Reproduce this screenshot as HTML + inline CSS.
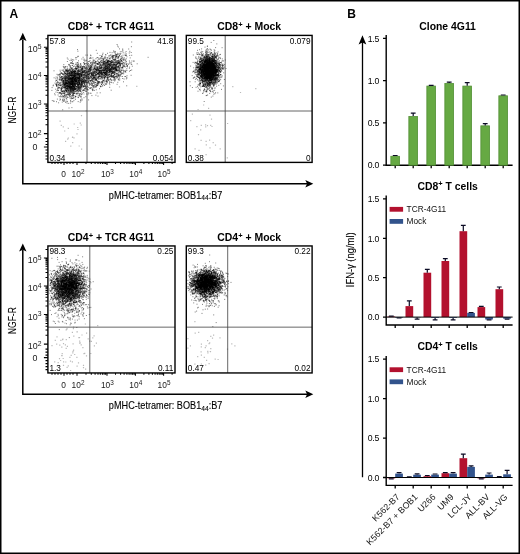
<!DOCTYPE html>
<html lang="en"><head><meta charset="utf-8"><title>Figure</title>
<style>
html,body{margin:0;padding:0;background:#fff;}
svg{display:block;will-change:transform;font-family:'Liberation Sans', Arial, Helvetica, sans-serif;}
</style></head>
<body>
<svg width="520" height="554" viewBox="0 0 520 554">
<rect x="0.75" y="0.75" width="518.5" height="552.5" fill="#fff" stroke="#000" stroke-width="1.5"/>
<text x="9.6" y="18.4" font-size="12" font-weight="bold" text-anchor="start" fill="#000" >A</text>
<text x="347.3" y="18.4" font-size="12" font-weight="bold" text-anchor="start" fill="#000" >B</text>
<path d="M22.8 39.4V183.75H307" fill="none" stroke="#000" stroke-width="1.5"/>
<path d="M22.8 32.8l3.7 8.1l-3.7 -1.7l-3.7 1.7z" fill="#000"/>
<path d="M313.3 183.75l-8 -3.8l1.8 3.8l-1.8 3.8z" fill="#000"/>
<path d="M72.5 90.2h1.0M74.7 81.4h1.0M70.4 80.3h1.0M65.8 80.6h1.0M69.1 84.8h1.0M65.1 75.7h1.0M73.0 76.7h1.0M82.6 77.7h1.0M68.8 77.4h1.0M67.8 81.3h1.0M76.2 74.9h1.0M75.2 96.7h1.0M73.3 91.7h1.0M65.5 86.7h1.0M72.3 80.6h1.0M77.7 97.6h1.0M62.4 86.5h1.0M69.1 81.3h1.0M58.2 87.5h1.0M62.8 86.3h1.0M58.7 96.5h1.0M70.7 81.3h1.0M63.0 101.0h1.0M74.5 73.2h1.0M73.7 86.4h1.0M71.1 73.2h1.0M53.6 101.3h1.0M68.5 79.4h1.0M72.1 80.6h1.0M73.3 88.4h1.0M61.0 94.6h1.0M68.9 72.9h1.0M65.2 80.2h1.0M66.4 71.2h1.0M80.5 79.9h1.0M66.4 81.9h1.0M72.3 78.2h1.0M79.1 73.5h1.0M68.1 79.1h1.0M71.7 75.1h1.0M73.3 85.1h1.0M73.0 93.3h1.0M63.3 67.7h1.0M73.1 79.9h1.0M82.7 74.7h1.0M60.9 88.3h1.0M78.9 71.3h1.0M73.4 79.5h1.0M67.7 73.8h1.0M87.5 82.5h1.0M78.2 80.2h1.0M63.5 82.2h1.0M73.1 83.9h1.0M76.8 77.7h1.0M71.1 68.6h1.0M77.6 84.5h1.0M72.0 83.5h1.0M77.5 78.3h1.0M83.3 86.0h1.0M67.4 92.5h1.0M74.0 71.6h1.0M69.0 75.6h1.0M73.5 93.5h1.0M63.6 95.2h1.0M68.2 76.2h1.0M71.0 71.7h1.0M79.2 73.8h1.0M81.1 74.5h1.0M62.6 70.8h1.0M66.5 82.9h1.0M77.4 69.1h1.0M57.6 75.3h1.0M69.0 89.5h1.0M71.8 75.6h1.0M81.9 77.7h1.0M77.7 84.7h1.0M70.0 88.4h1.0M69.7 79.0h1.0M70.6 81.9h1.0M83.9 71.0h1.0M69.3 96.3h1.0M70.2 87.0h1.0M75.1 71.2h1.0M71.6 81.3h1.0M71.0 87.3h1.0M64.1 87.3h1.0M72.4 96.1h1.0M69.2 93.2h1.0M81.2 74.1h1.0M77.4 78.9h1.0M72.3 70.5h1.0M77.5 81.6h1.0M70.0 83.0h1.0M80.4 101.0h1.0M72.5 81.8h1.0M76.9 62.5h1.0M62.8 78.2h1.0M75.1 81.2h1.0M59.8 74.3h1.0M57.2 78.2h1.0M70.2 78.6h1.0M65.8 85.7h1.0M73.7 79.3h1.0M89.3 68.9h1.0M66.3 89.3h1.0M67.8 77.9h1.0M74.0 76.5h1.0M76.2 68.6h1.0M71.2 74.9h1.0M71.0 86.8h1.0M77.8 66.2h1.0M76.4 79.3h1.0M64.7 89.1h1.0M71.9 78.1h1.0M72.8 82.9h1.0M64.6 74.0h1.0M74.4 91.2h1.0M66.1 91.9h1.0M79.8 80.9h1.0M73.9 66.1h1.0M73.2 72.2h1.0M68.1 90.3h1.0M71.6 95.4h1.0M57.5 87.7h1.0M64.0 93.7h1.0M75.2 75.2h1.0M56.5 84.0h1.0M78.8 79.2h1.0M59.4 88.2h1.0M78.2 66.8h1.0M66.2 90.5h1.0M78.3 90.2h1.0M73.5 71.3h1.0M61.0 73.1h1.0M81.9 81.2h1.0M83.3 72.6h1.0M72.0 61.6h1.0M70.4 88.2h1.0M71.3 82.6h1.0M65.2 79.1h1.0M80.7 96.1h1.0M68.4 83.3h1.0M72.1 74.9h1.0M66.6 83.5h1.0M67.8 73.8h1.0M62.9 77.4h1.0M81.9 81.5h1.0M71.3 76.8h1.0M79.7 75.2h1.0M72.6 94.7h1.0M67.3 89.6h1.0M70.0 88.3h1.0M68.3 86.5h1.0M72.6 85.0h1.0M69.7 93.8h1.0M70.3 81.5h1.0M62.2 99.2h1.0M66.4 74.9h1.0M84.9 75.4h1.0M67.5 71.1h1.0M64.6 80.4h1.0M75.0 84.6h1.0M83.1 90.0h1.0M61.6 78.6h1.0M70.9 81.5h1.0M67.8 79.4h1.0M59.3 78.7h1.0M78.0 69.6h1.0M72.3 81.5h1.0M73.0 66.6h1.0M66.9 83.5h1.0M75.9 80.2h1.0M68.5 76.7h1.0M71.4 73.0h1.0M64.2 72.0h1.0M63.4 99.0h1.0M82.5 67.1h1.0M68.7 94.9h1.0M74.7 85.3h1.0M72.2 78.1h1.0M69.2 72.4h1.0M68.7 90.7h1.0M77.2 93.9h1.0M70.2 74.0h1.0M71.4 78.9h1.0M72.7 89.6h1.0M81.3 81.3h1.0M77.6 96.0h1.0M75.4 75.5h1.0M68.3 86.7h1.0M62.1 73.6h1.0M79.6 96.2h1.0M79.7 72.9h1.0M71.4 63.1h1.0M76.6 78.8h1.0M78.4 78.2h1.0M78.7 95.0h1.0M79.4 76.3h1.0M69.1 81.9h1.0M83.9 82.7h1.0M63.2 96.7h1.0M79.0 78.6h1.0M76.2 88.5h1.0M79.1 83.4h1.0M86.6 74.6h1.0M83.6 78.5h1.0M63.9 83.7h1.0M59.8 77.0h1.0M78.6 89.3h1.0M64.9 71.8h1.0M72.4 90.7h1.0M78.8 87.1h1.0M60.2 83.7h1.0M56.7 79.2h1.0M74.4 78.6h1.0M72.8 84.8h1.0M70.7 87.6h1.0M72.8 83.3h1.0M66.0 91.0h1.0M61.1 79.6h1.0M71.3 83.3h1.0M65.2 70.2h1.0M60.2 90.8h1.0M76.3 81.2h1.0M72.0 77.7h1.0M75.5 89.7h1.0M65.1 88.8h1.0M67.6 59.2h1.0M65.0 83.5h1.0M65.9 70.9h1.0M74.0 89.4h1.0M66.6 103.1h1.0M75.2 76.0h1.0M75.0 80.9h1.0M87.7 74.6h1.0M62.1 86.8h1.0M79.2 84.4h1.0M71.8 91.8h1.0M72.4 72.9h1.0M61.6 97.0h1.0M69.0 74.3h1.0M78.1 81.7h1.0M71.9 90.7h1.0M73.1 86.7h1.0M70.3 73.9h1.0M81.2 72.8h1.0M72.3 77.2h1.0M56.0 85.3h1.0M67.3 91.9h1.0M57.7 74.6h1.0M68.5 87.1h1.0M82.5 82.8h1.0M72.9 84.7h1.0M63.7 96.0h1.0M65.4 87.0h1.0M81.0 85.7h1.0M73.7 85.3h1.0M72.9 95.7h1.0M72.1 65.5h1.0M72.8 91.5h1.0M78.5 77.1h1.0M76.6 77.5h1.0M74.1 72.6h1.0M64.7 67.8h1.0M76.3 76.8h1.0M67.4 76.8h1.0M80.7 82.7h1.0M63.0 71.6h1.0M71.5 93.1h1.0M72.4 83.3h1.0M62.6 81.8h1.0M85.4 71.5h1.0M83.5 71.4h1.0M69.0 72.7h1.0M78.3 74.9h1.0M75.3 80.2h1.0M52.9 85.1h1.0M74.4 68.8h1.0M72.0 78.9h1.0M73.1 73.5h1.0M64.4 84.6h1.0M70.5 96.9h1.0M71.2 86.5h1.0M81.4 75.9h1.0M75.0 66.9h1.0M72.5 69.4h1.0M84.0 63.9h1.0M68.3 88.2h1.0M69.6 75.5h1.0M58.9 85.4h1.0M84.3 72.5h1.0M79.7 79.7h1.0M79.4 90.6h1.0M77.5 73.9h1.0M73.3 78.0h1.0M74.1 73.9h1.0M70.6 88.7h1.0M71.0 73.0h1.0M72.9 71.6h1.0M83.8 66.4h1.0M76.7 68.2h1.0M72.1 85.0h1.0M68.2 103.4h1.0M67.7 74.2h1.0M84.5 85.4h1.0M76.3 82.0h1.0M73.0 71.8h1.0M69.9 79.5h1.0M64.2 81.4h1.0M72.0 75.5h1.0M79.1 95.0h1.0M69.6 66.1h1.0M70.8 84.6h1.0M70.8 84.2h1.0M73.3 76.0h1.0M60.6 85.6h1.0M70.7 88.7h1.0M66.1 84.1h1.0M79.1 82.6h1.0M66.7 88.3h1.0M76.8 63.0h1.0M83.9 89.9h1.0M70.1 100.4h1.0M68.0 90.4h1.0M73.9 88.9h1.0M72.5 69.4h1.0M65.0 82.1h1.0M76.0 73.3h1.0M87.6 71.9h1.0M70.6 89.5h1.0M71.0 74.8h1.0M64.7 82.1h1.0M74.9 64.6h1.0M63.1 82.3h1.0M64.2 84.1h1.0M82.1 72.5h1.0M65.7 77.0h1.0M80.6 94.2h1.0M83.9 67.8h1.0M74.4 71.8h1.0M76.7 73.2h1.0M87.1 86.7h1.0M71.0 98.7h1.0M68.1 85.0h1.0M62.4 78.0h1.0M72.8 77.4h1.0M83.6 86.6h1.0M79.7 71.5h1.0M65.4 95.0h1.0M66.1 94.5h1.0M68.7 82.6h1.0M74.7 85.7h1.0M71.0 87.6h1.0M74.1 93.3h1.0M74.7 71.7h1.0M70.3 91.4h1.0M72.2 78.0h1.0M74.0 74.2h1.0M71.9 82.0h1.0M76.3 78.2h1.0M86.5 68.9h1.0M76.9 66.6h1.0M72.9 73.1h1.0M59.9 96.5h1.0M75.4 96.3h1.0M57.9 90.5h1.0M61.9 93.8h1.0M78.9 74.9h1.0M77.8 78.9h1.0M71.4 83.6h1.0M59.7 75.7h1.0M69.7 73.6h1.0M67.4 83.2h1.0M77.3 77.0h1.0M89.4 67.4h1.0M74.1 83.7h1.0M66.7 80.5h1.0M63.7 91.9h1.0M72.1 81.1h1.0M71.2 78.9h1.0M63.9 84.5h1.0M73.4 79.3h1.0M63.9 77.9h1.0M80.8 75.3h1.0M80.5 84.9h1.0M80.6 84.0h1.0M68.9 92.6h1.0M76.4 66.0h1.0M71.5 78.0h1.0M69.6 78.4h1.0M70.0 83.1h1.0M62.8 80.0h1.0M61.7 79.8h1.0M78.5 85.8h1.0M71.1 82.9h1.0M74.1 70.9h1.0M80.0 89.9h1.0M59.5 92.9h1.0M66.6 77.9h1.0M73.8 87.5h1.0M75.4 74.1h1.0M69.7 91.1h1.0M80.2 77.0h1.0M74.1 73.9h1.0M63.4 80.5h1.0M65.5 76.7h1.0M78.5 80.9h1.0M76.0 81.5h1.0M58.3 85.3h1.0M82.6 73.6h1.0M77.0 49.6h1.0M82.6 78.9h1.0M69.6 66.2h1.0M70.3 83.6h1.0M64.1 92.7h1.0M91.5 77.9h1.0M71.2 78.2h1.0M84.4 76.1h1.0M67.6 81.3h1.0M73.7 76.1h1.0M60.0 79.7h1.0M69.6 74.2h1.0M79.9 88.7h1.0M63.1 83.5h1.0M80.5 86.6h1.0M75.0 78.2h1.0M64.7 83.8h1.0M68.7 80.7h1.0M69.1 85.8h1.0M72.1 87.9h1.0M68.5 84.1h1.0M66.3 77.2h1.0M70.2 75.2h1.0M64.8 96.8h1.0M62.8 81.4h1.0M72.1 78.7h1.0M79.1 91.2h1.0M61.0 93.2h1.0M72.5 85.4h1.0M67.6 79.1h1.0M65.2 102.4h1.0M78.9 82.4h1.0M68.6 86.6h1.0M83.7 76.4h1.0M66.7 71.0h1.0M75.4 69.2h1.0M70.8 84.8h1.0M66.8 85.8h1.0M76.9 77.8h1.0M71.3 71.7h1.0M77.0 67.9h1.0M72.1 78.4h1.0M64.4 71.3h1.0M71.7 88.6h1.0M72.9 90.4h1.0M79.7 102.2h1.0M65.7 90.2h1.0M72.2 76.2h1.0M59.6 77.5h1.0M77.4 51.2h1.0M64.4 78.4h1.0M59.0 83.4h1.0M72.1 89.1h1.0M80.8 83.7h1.0M61.1 89.1h1.0M64.3 85.1h1.0M66.9 88.0h1.0M64.0 95.3h1.0M75.3 71.4h1.0M66.4 79.0h1.0M67.1 71.1h1.0M76.9 93.1h1.0M66.8 93.3h1.0M75.7 86.3h1.0M65.2 73.2h1.0M63.4 85.0h1.0M58.7 83.0h1.0M86.5 77.7h1.0M70.1 80.1h1.0M74.3 84.8h1.0M72.3 77.8h1.0M73.7 87.7h1.0M72.9 82.9h1.0M86.8 74.5h1.0M64.7 82.3h1.0M60.8 80.7h1.0M64.9 89.8h1.0M62.5 81.6h1.0M78.1 81.8h1.0M78.7 76.0h1.0M65.3 70.8h1.0M62.1 91.4h1.0M69.8 73.0h1.0M82.9 83.6h1.0M51.4 90.4h1.0M76.4 66.3h1.0M64.4 75.5h1.0M80.3 74.6h1.0M64.4 76.5h1.0M70.4 71.9h1.0M61.2 90.3h1.0M65.2 81.1h1.0M82.9 81.2h1.0M78.7 75.7h1.0M69.5 84.4h1.0M66.0 76.7h1.0M58.3 84.8h1.0M69.5 86.6h1.0M72.3 81.4h1.0M71.9 77.4h1.0M71.8 72.3h1.0M64.1 84.8h1.0M72.0 84.0h1.0M72.2 79.0h1.0M82.2 71.9h1.0M86.5 81.5h1.0M71.5 101.7h1.0M66.8 80.1h1.0M72.0 83.9h1.0M67.9 85.4h1.0M66.9 61.5h1.0M72.1 82.1h1.0M64.7 77.4h1.0M77.0 91.1h1.0M71.7 79.1h1.0M74.4 74.1h1.0M71.1 79.6h1.0M67.0 83.9h1.0M65.4 78.4h1.0M70.7 81.1h1.0M68.4 71.0h1.0M74.3 78.6h1.0M72.5 87.4h1.0M62.3 100.1h1.0M73.0 86.7h1.0M62.4 86.1h1.0M67.9 92.1h1.0M70.3 90.0h1.0M56.9 99.1h1.0M73.2 89.7h1.0M73.6 79.7h1.0M71.3 83.5h1.0M69.3 83.4h1.0M69.7 84.3h1.0M65.2 84.7h1.0M70.5 75.1h1.0M68.4 64.9h1.0M73.2 75.3h1.0M63.5 66.9h1.0M74.3 81.1h1.0M73.6 80.7h1.0M71.4 67.5h1.0M69.2 87.6h1.0M76.6 87.0h1.0M60.0 85.3h1.0M76.0 93.7h1.0M74.3 95.9h1.0M74.6 70.5h1.0M75.4 88.7h1.0M67.6 86.0h1.0M70.6 85.0h1.0M77.3 87.3h1.0M75.7 74.2h1.0M74.1 75.7h1.0M61.1 77.4h1.0M76.5 73.6h1.0M81.3 77.7h1.0M80.1 66.9h1.0M74.3 71.9h1.0M60.8 89.1h1.0M79.6 78.4h1.0M71.4 84.5h1.0M53.5 70.8h1.0M75.3 73.7h1.0M61.3 79.6h1.0M62.8 84.0h1.0M67.7 77.5h1.0M82.0 86.0h1.0M69.7 81.3h1.0M74.5 80.6h1.0M85.6 77.4h1.0M84.5 83.4h1.0M71.7 77.3h1.0M70.7 90.8h1.0M63.0 87.5h1.0M67.3 83.7h1.0M75.7 80.4h1.0M75.5 84.4h1.0M73.3 89.1h1.0M80.0 86.7h1.0M66.7 85.7h1.0M72.1 88.3h1.0M78.0 80.4h1.0M76.9 90.1h1.0M80.5 78.5h1.0M75.5 63.1h1.0M70.2 92.7h1.0M75.2 81.1h1.0M65.0 73.5h1.0M60.2 82.9h1.0M76.9 72.5h1.0M72.1 98.4h1.0M74.8 84.4h1.0M59.8 71.7h1.0M69.8 86.3h1.0M68.0 79.0h1.0M66.0 98.6h1.0M55.6 77.1h1.0M70.0 63.2h1.0M79.2 79.6h1.0M75.4 77.3h1.0M68.0 78.8h1.0M72.4 63.4h1.0M78.2 82.9h1.0M51.8 100.6h1.0M71.6 65.6h1.0M76.6 89.5h1.0M77.6 74.9h1.0M85.3 96.7h1.0M81.0 82.2h1.0M74.8 78.8h1.0M74.8 89.5h1.0M78.4 83.7h1.0M68.5 77.3h1.0M72.2 86.9h1.0M79.3 74.9h1.0M87.2 62.1h1.0M71.3 98.1h1.0M72.1 78.2h1.0M74.0 75.6h1.0M82.6 80.9h1.0M72.3 68.2h1.0M83.5 66.7h1.0M65.3 78.9h1.0M71.1 77.1h1.0M71.0 82.0h1.0M78.4 88.6h1.0M80.3 74.9h1.0M61.2 88.3h1.0M65.6 87.9h1.0M75.0 71.4h1.0M67.6 84.3h1.0M61.1 76.5h1.0M80.3 87.5h1.0M76.2 83.7h1.0M76.2 80.1h1.0M68.9 71.0h1.0M80.2 79.8h1.0M70.7 75.2h1.0M80.7 84.5h1.0M65.7 82.0h1.0M66.1 76.1h1.0M74.0 88.2h1.0M67.2 88.4h1.0M77.6 74.7h1.0M74.5 90.0h1.0M65.6 80.5h1.0M73.0 78.3h1.0M69.9 82.8h1.0M79.4 72.9h1.0M67.8 78.7h1.0M69.2 80.6h1.0M81.6 91.0h1.0M89.3 88.6h1.0M87.5 74.6h1.0M73.0 94.1h1.0M74.1 80.2h1.0M84.0 80.9h1.0M71.6 88.5h1.0M65.2 85.5h1.0M73.4 100.6h1.0M75.9 82.0h1.0M66.3 72.9h1.0M60.2 95.2h1.0M61.7 80.7h1.0M77.5 77.1h1.0M66.8 58.0h1.0M71.4 89.5h1.0M74.1 87.3h1.0M77.1 86.3h1.0M70.0 89.8h1.0M76.2 93.9h1.0M65.8 82.5h1.0M69.8 89.5h1.0M64.8 77.1h1.0M81.0 75.7h1.0M72.3 89.8h1.0M67.0 85.8h1.0M69.9 70.8h1.0M70.8 84.4h1.0M77.8 78.0h1.0M60.5 77.7h1.0M64.7 86.8h1.0M69.7 78.5h1.0M91.5 62.7h1.0M79.7 69.8h1.0M71.7 95.8h1.0M77.8 67.0h1.0M87.9 78.5h1.0M70.7 86.5h1.0M69.8 87.0h1.0M81.6 68.3h1.0M76.2 77.3h1.0M77.5 80.7h1.0M68.7 88.7h1.0M86.9 71.6h1.0M85.3 67.8h1.0M76.7 88.0h1.0M77.6 88.6h1.0M57.3 88.4h1.0M77.3 74.6h1.0M71.0 84.8h1.0M75.8 81.0h1.0M77.6 86.4h1.0M69.9 71.4h1.0M59.8 85.5h1.0M75.3 78.9h1.0M66.9 73.4h1.0M70.0 83.5h1.0M68.0 82.6h1.0M69.9 78.3h1.0M55.2 89.2h1.0M81.6 66.7h1.0M74.4 80.0h1.0M80.8 82.2h1.0M87.3 79.1h1.0M72.7 89.8h1.0M59.0 74.9h1.0M65.8 70.5h1.0M63.4 85.5h1.0M68.7 85.8h1.0M73.1 98.3h1.0M57.5 90.3h1.0M75.1 73.1h1.0M61.2 90.8h1.0M74.7 73.4h1.0M71.7 69.0h1.0M70.1 103.1h1.0M72.0 83.8h1.0M68.5 88.0h1.0M67.9 86.9h1.0M59.9 99.5h1.0M72.3 83.4h1.0M86.3 87.1h1.0M87.4 68.3h1.0M82.4 66.7h1.0M77.8 91.2h1.0M67.4 94.6h1.0M83.3 82.1h1.0M72.1 83.0h1.0M72.0 82.5h1.0M70.3 76.0h1.0M73.2 93.5h1.0M69.2 87.3h1.0M71.9 85.3h1.0M64.4 86.4h1.0M69.7 90.4h1.0M89.6 80.3h1.0M72.0 87.3h1.0M70.7 71.9h1.0M76.5 84.1h1.0M77.8 97.5h1.0M64.1 79.1h1.0M70.9 80.4h1.0M79.4 86.4h1.0M74.5 88.3h1.0M73.4 85.9h1.0M84.2 64.4h1.0M67.4 86.6h1.0M73.1 71.1h1.0M68.6 75.3h1.0M83.7 82.3h1.0M57.9 82.7h1.0M67.5 89.1h1.0M68.5 108.0h1.0M77.5 86.0h1.0M77.0 85.7h1.0M83.0 70.7h1.0M60.7 79.1h1.0M78.1 70.7h1.0M70.3 77.2h1.0M67.5 73.4h1.0M76.5 74.4h1.0M65.6 81.2h1.0M56.9 77.2h1.0M69.7 70.1h1.0M61.3 73.0h1.0M67.6 86.1h1.0M75.3 80.7h1.0M74.8 88.8h1.0M84.4 86.2h1.0M71.0 78.6h1.0M61.0 89.8h1.0M66.8 70.8h1.0M65.6 101.7h1.0M63.4 93.4h1.0M75.8 78.3h1.0M67.7 72.8h1.0M57.7 88.3h1.0M77.7 64.1h1.0M71.7 74.8h1.0M75.2 86.4h1.0M73.3 81.4h1.0M77.2 75.6h1.0M72.8 88.7h1.0M81.8 69.8h1.0M75.7 82.4h1.0M75.4 76.1h1.0M75.6 73.2h1.0M61.6 87.9h1.0M71.3 73.2h1.0M70.6 97.2h1.0M74.1 75.7h1.0M62.3 100.3h1.0M84.8 68.5h1.0M73.3 85.8h1.0M63.4 73.7h1.0M59.7 73.6h1.0M70.4 82.9h1.0M71.8 86.8h1.0M67.1 72.0h1.0M73.2 90.5h1.0M67.7 75.8h1.0M76.6 80.9h1.0M67.1 85.7h1.0M72.2 86.0h1.0M79.8 64.1h1.0M91.8 88.9h1.0M64.9 87.8h1.0M69.0 78.5h1.0M66.2 74.4h1.0M78.4 65.4h1.0M63.9 72.2h1.0M68.9 86.5h1.0M72.3 78.3h1.0M65.2 73.8h1.0M65.3 78.7h1.0M68.9 94.9h1.0M56.7 82.7h1.0M61.7 79.3h1.0M69.4 93.0h1.0M73.6 84.5h1.0M71.1 81.8h1.0M59.2 79.8h1.0M69.0 69.2h1.0M78.5 69.7h1.0M76.7 75.9h1.0M71.9 79.4h1.0M65.8 85.8h1.0M77.2 84.2h1.0M68.2 84.1h1.0M63.7 85.3h1.0M66.5 74.4h1.0M83.4 60.2h1.0M74.2 76.2h1.0M81.2 70.7h1.0M68.9 76.6h1.0M79.5 76.7h1.0M68.0 72.0h1.0M71.3 72.2h1.0M91.1 74.9h1.0M78.3 80.3h1.0M68.7 76.7h1.0M71.9 85.3h1.0M74.9 78.5h1.0M81.6 70.0h1.0M68.8 82.4h1.0M59.4 100.2h1.0M70.4 76.0h1.0M72.6 90.6h1.0M73.3 92.1h1.0M82.4 90.5h1.0M74.9 73.6h1.0M78.6 95.9h1.0M64.2 84.3h1.0M79.0 77.1h1.0M88.2 74.6h1.0M78.3 84.3h1.0M74.4 80.9h1.0M73.7 79.2h1.0M85.9 87.8h1.0M65.5 77.0h1.0M71.7 72.7h1.0M76.0 86.5h1.0M78.1 85.2h1.0M69.2 90.9h1.0M74.8 71.5h1.0M70.4 90.5h1.0M73.4 84.7h1.0M71.5 95.8h1.0M63.9 73.2h1.0M72.3 82.8h1.0M79.1 76.9h1.0M65.2 70.0h1.0M70.7 75.6h1.0M77.5 88.9h1.0M64.5 79.4h1.0M73.9 74.7h1.0M64.5 90.4h1.0M81.0 86.7h1.0M89.8 84.2h1.0M87.7 70.2h1.0M70.9 81.0h1.0M78.1 87.9h1.0M73.4 75.3h1.0M73.3 74.6h1.0M84.1 84.5h1.0M62.6 96.7h1.0M80.4 69.3h1.0M72.1 59.7h1.0M83.1 66.1h1.0M73.9 72.3h1.0M67.5 81.3h1.0M74.6 85.5h1.0M78.0 78.2h1.0M72.8 75.2h1.0M76.2 81.2h1.0M68.6 74.2h1.0M56.5 85.1h1.0M79.3 73.8h1.0M77.7 101.6h1.0M73.6 87.4h1.0M73.0 74.0h1.0M80.3 70.6h1.0M69.1 78.4h1.0M67.2 69.0h1.0M71.1 75.4h1.0M81.4 72.4h1.0M62.1 91.2h1.0M81.4 75.0h1.0M67.7 75.9h1.0M64.2 72.3h1.0M82.0 68.6h1.0M71.8 80.7h1.0M62.7 82.0h1.0M69.8 91.1h1.0M79.5 73.8h1.0M81.4 87.2h1.0M69.3 84.0h1.0M75.5 80.1h1.0M77.9 63.0h1.0M67.7 71.8h1.0M75.2 86.3h1.0M72.3 92.6h1.0M68.5 83.8h1.0M68.8 88.3h1.0M73.0 77.5h1.0M72.7 77.9h1.0M68.3 76.7h1.0M69.3 89.9h1.0M80.9 81.5h1.0M74.1 78.6h1.0M79.1 76.4h1.0M81.5 83.0h1.0M76.9 82.4h1.0M89.5 69.3h1.0M66.3 96.9h1.0M78.6 81.4h1.0M70.1 81.8h1.0M86.4 89.2h1.0M85.3 85.8h1.0M57.8 84.4h1.0M65.2 87.5h1.0M77.5 70.8h1.0M78.4 74.0h1.0M78.0 60.8h1.0M72.0 91.2h1.0M75.9 64.4h1.0M77.4 85.2h1.0M71.9 74.3h1.0M80.2 70.8h1.0M55.6 84.2h1.0M77.3 81.8h1.0M64.7 88.2h1.0M79.7 93.5h1.0M70.8 84.4h1.0M65.8 90.1h1.0M75.3 75.3h1.0M65.7 88.8h1.0M65.7 84.2h1.0M60.7 80.5h1.0M72.3 80.3h1.0M76.2 79.4h1.0M80.2 80.4h1.0M71.4 84.6h1.0M80.4 74.6h1.0M72.6 74.9h1.0M71.8 87.3h1.0M76.8 65.8h1.0M80.4 73.7h1.0M69.9 94.5h1.0M70.7 59.2h1.0M71.3 75.6h1.0M73.1 86.5h1.0M65.7 69.3h1.0M80.2 100.2h1.0M69.5 60.5h1.0M76.0 91.8h1.0M66.3 95.6h1.0M75.2 87.8h1.0M75.4 78.3h1.0M69.3 84.8h1.0M87.7 69.3h1.0M75.3 86.9h1.0M85.8 68.0h1.0M79.7 76.7h1.0M67.5 90.6h1.0M69.6 72.6h1.0M75.8 77.1h1.0M73.0 82.2h1.0M72.9 69.9h1.0M70.4 91.2h1.0M58.9 87.6h1.0M70.8 69.0h1.0M55.9 85.3h1.0M75.3 73.8h1.0M67.1 77.1h1.0M67.1 83.2h1.0M70.9 75.6h1.0M74.5 88.4h1.0M61.8 78.2h1.0M59.4 92.8h1.0M64.5 82.9h1.0M57.2 92.4h1.0M65.2 78.6h1.0M84.4 73.5h1.0M64.6 73.8h1.0M77.4 84.4h1.0M62.2 91.6h1.0M74.7 97.8h1.0M70.1 92.3h1.0M72.1 83.2h1.0M76.8 78.1h1.0M85.7 80.5h1.0M74.0 80.4h1.0M73.4 92.8h1.0M65.2 90.8h1.0M76.9 72.9h1.0M70.7 75.9h1.0M78.7 90.5h1.0M72.2 83.6h1.0M85.6 75.4h1.0M57.6 95.0h1.0M70.3 78.4h1.0M79.1 76.8h1.0M69.9 77.9h1.0M66.6 66.5h1.0M70.5 88.7h1.0M62.2 74.0h1.0M73.4 76.1h1.0M90.8 69.7h1.0M81.1 84.6h1.0M64.2 82.8h1.0M65.9 83.0h1.0M69.5 68.0h1.0M80.0 78.1h1.0M66.3 70.6h1.0M67.3 85.0h1.0M79.1 82.1h1.0M79.0 79.0h1.0M69.7 98.6h1.0M64.1 87.7h1.0M60.9 89.2h1.0M67.3 83.7h1.0M55.8 84.2h1.0M78.1 87.4h1.0M67.8 91.4h1.0M76.1 69.3h1.0M86.5 85.7h1.0M81.3 82.7h1.0M63.9 91.4h1.0M79.0 83.0h1.0M81.2 68.3h1.0M66.9 72.9h1.0M65.4 98.0h1.0M71.7 83.3h1.0M60.5 72.7h1.0M83.5 80.7h1.0M54.5 83.1h1.0M64.2 68.2h1.0M70.5 62.7h1.0M70.8 68.3h1.0M73.7 82.9h1.0M74.5 80.0h1.0M70.9 79.4h1.0M81.0 80.9h1.0M56.5 90.5h1.0M72.5 63.7h1.0M67.1 80.0h1.0M73.5 73.9h1.0M74.2 70.4h1.0M65.7 78.4h1.0M67.7 81.4h1.0M78.4 77.1h1.0M75.1 68.3h1.0M67.4 78.5h1.0M87.8 93.3h1.0M89.8 67.4h1.0M61.5 70.2h1.0M74.8 82.6h1.0M91.3 80.6h1.0M78.4 83.2h1.0M74.2 71.3h1.0M70.9 89.7h1.0M68.4 75.7h1.0M70.9 72.1h1.0M68.4 77.2h1.0M78.1 78.5h1.0M69.5 87.7h1.0M69.2 87.1h1.0M63.5 83.4h1.0M72.1 88.8h1.0M65.8 83.6h1.0M71.1 88.8h1.0M80.3 67.2h1.0M75.2 67.3h1.0M76.3 86.3h1.0M75.2 68.8h1.0M72.9 78.4h1.0M71.5 80.5h1.0M70.2 77.6h1.0M78.2 75.7h1.0M64.4 94.8h1.0M82.6 57.3h1.0M72.8 88.2h1.0M66.9 101.5h1.0M68.8 82.2h1.0M67.4 82.3h1.0M73.7 86.6h1.0M67.1 97.6h1.0M81.1 68.8h1.0M66.6 83.4h1.0M55.5 84.3h1.0M67.0 87.2h1.0M57.4 86.6h1.0M72.2 86.5h1.0M80.4 75.3h1.0M77.4 80.0h1.0M62.5 78.3h1.0M66.8 77.2h1.0M85.8 76.1h1.0M74.9 79.2h1.0M72.5 71.3h1.0M80.4 91.7h1.0M90.9 74.7h1.0M82.2 66.9h1.0M73.5 89.8h1.0M75.2 74.1h1.0M77.1 83.9h1.0M67.9 82.2h1.0M64.6 85.3h1.0M72.9 82.3h1.0M65.4 78.3h1.0M72.0 81.5h1.0M73.2 97.5h1.0M90.1 57.6h1.0M66.1 83.4h1.0M71.6 84.8h1.0M71.3 72.7h1.0M75.8 68.8h1.0M80.4 96.5h1.0M68.8 79.0h1.0M66.3 99.9h1.0M60.2 88.9h1.0M65.6 83.6h1.0M76.5 83.8h1.0M72.8 86.1h1.0M64.9 92.9h1.0M69.7 85.4h1.0M72.7 82.1h1.0M76.3 81.4h1.0M68.0 93.4h1.0M70.6 88.3h1.0M58.9 76.6h1.0M63.9 78.2h1.0M84.6 80.3h1.0M56.1 80.5h1.0M70.0 78.6h1.0M74.1 72.7h1.0M69.7 79.6h1.0M66.4 86.2h1.0M72.0 89.3h1.0M72.5 81.1h1.0M71.9 98.3h1.0M58.4 84.4h1.0M71.4 107.6h1.0M66.1 91.1h1.0M68.4 86.3h1.0M74.2 76.4h1.0M77.3 56.4h1.0M79.2 77.8h1.0M68.8 83.5h1.0M79.4 94.9h1.0M81.3 67.2h1.0M81.0 94.3h1.0M82.9 76.0h1.0M71.4 87.3h1.0M71.2 60.5h1.0M78.7 80.4h1.0M62.3 81.1h1.0M74.1 86.2h1.0M68.5 82.9h1.0M69.7 72.4h1.0M59.4 92.5h1.0M65.8 88.6h1.0M72.3 86.0h1.0M79.2 87.4h1.0M79.9 88.0h1.0M71.9 81.0h1.0M71.1 70.2h1.0M66.3 71.4h1.0M75.5 91.3h1.0M70.6 87.4h1.0M77.0 80.6h1.0M85.6 73.7h1.0M72.3 81.3h1.0M61.3 84.4h1.0M66.0 80.1h1.0M61.6 78.3h1.0M63.5 101.4h1.0M82.3 80.1h1.0M74.2 75.5h1.0M61.1 73.5h1.0M77.4 73.6h1.0M82.0 84.2h1.0M69.8 88.0h1.0M67.4 80.6h1.0M70.0 82.1h1.0M74.6 77.9h1.0M77.3 70.5h1.0M81.4 89.2h1.0M81.6 81.5h1.0M81.4 98.9h1.0M82.7 71.9h1.0M77.5 78.5h1.0M61.0 91.5h1.0M71.5 79.3h1.0M74.9 68.9h1.0M69.6 74.0h1.0M79.3 79.9h1.0M69.8 84.6h1.0M65.6 82.2h1.0M83.3 86.2h1.0M77.5 87.8h1.0M74.1 83.2h1.0M79.5 79.3h1.0M80.5 76.7h1.0M75.1 84.8h1.0M54.1 93.8h1.0M67.4 82.9h1.0M69.1 85.7h1.0M65.1 80.4h1.0M74.0 69.0h1.0M81.4 70.2h1.0M68.9 88.3h1.0M64.0 87.1h1.0M87.7 89.8h1.0M69.1 82.4h1.0M63.3 90.7h1.0M74.3 91.4h1.0M75.7 88.3h1.0M67.2 77.5h1.0M78.4 77.8h1.0M68.8 83.1h1.0M65.6 74.8h1.0M73.8 84.5h1.0M78.3 87.8h1.0M67.7 78.4h1.0M75.0 96.5h1.0M71.8 78.8h1.0M93.7 73.3h1.0M67.2 80.5h1.0M82.9 72.2h1.0M72.1 84.6h1.0M71.5 81.4h1.0M77.9 93.1h1.0M79.2 84.1h1.0M82.0 82.7h1.0M75.0 78.5h1.0M68.0 70.6h1.0M68.5 81.4h1.0M76.3 72.9h1.0M76.9 87.6h1.0M83.0 77.8h1.0M75.6 93.8h1.0M80.5 84.8h1.0M83.9 84.7h1.0M73.7 82.5h1.0M61.4 85.9h1.0M63.7 88.9h1.0M61.7 91.6h1.0M84.4 71.8h1.0M66.1 86.9h1.0M81.7 100.0h1.0M76.9 79.0h1.0M85.4 75.3h1.0M80.0 73.2h1.0M71.7 69.3h1.0M71.0 91.2h1.0M73.1 81.3h1.0M73.8 83.1h1.0M68.5 97.3h1.0M72.3 101.7h1.0M84.6 70.3h1.0M59.7 93.3h1.0M74.4 85.6h1.0M65.7 86.2h1.0M73.9 84.6h1.0M78.8 79.0h1.0M72.1 94.2h1.0M78.3 84.4h1.0M60.6 87.2h1.0M80.8 88.9h1.0M68.0 89.7h1.0M77.2 83.5h1.0M73.9 83.3h1.0M53.1 101.0h1.0M66.8 86.8h1.0M74.2 79.8h1.0M84.2 70.7h1.0M74.7 77.6h1.0M74.4 71.8h1.0M61.9 84.9h1.0M83.2 80.1h1.0M86.1 60.3h1.0M72.7 81.1h1.0M70.9 86.8h1.0M60.4 85.8h1.0M79.1 71.3h1.0M92.8 85.7h1.0M77.9 73.8h1.0M82.0 68.2h1.0M76.6 71.0h1.0M65.1 83.0h1.0M82.5 86.3h1.0M63.2 93.2h1.0M70.9 83.2h1.0M74.6 70.6h1.0M79.1 73.7h1.0M75.6 72.7h1.0M75.4 78.7h1.0M66.8 68.0h1.0M62.8 84.7h1.0M73.0 86.2h1.0M67.2 81.3h1.0M62.7 87.6h1.0M63.0 76.0h1.0M68.8 70.1h1.0M58.6 79.7h1.0M62.4 93.4h1.0M60.2 93.0h1.0M73.9 76.9h1.0M75.6 90.0h1.0M87.6 74.1h1.0M61.3 96.6h1.0M67.4 86.4h1.0M79.3 75.3h1.0M70.9 88.0h1.0M70.0 75.3h1.0M85.3 69.7h1.0M70.0 69.8h1.0M63.8 85.6h1.0M62.6 83.4h1.0M75.0 79.7h1.0M74.8 77.0h1.0M62.2 95.7h1.0M65.1 79.6h1.0M76.5 73.9h1.0M76.8 90.0h1.0M67.7 94.1h1.0M77.2 82.5h1.0M76.8 65.5h1.0M59.1 79.9h1.0M70.2 86.7h1.0M75.6 80.3h1.0M68.2 95.0h1.0M56.5 74.3h1.0M70.4 87.2h1.0M78.1 74.2h1.0M84.4 88.5h1.0M56.1 85.0h1.0M92.1 83.9h1.0M64.0 78.1h1.0M79.7 67.4h1.0M81.8 69.2h1.0M79.9 73.9h1.0M73.6 72.2h1.0M63.8 93.3h1.0M77.2 90.7h1.0M67.1 84.8h1.0M53.6 77.8h1.0M93.7 74.0h1.0M77.8 73.8h1.0M86.1 89.1h1.0M65.7 85.5h1.0M83.5 81.9h1.0M84.4 74.3h1.0M84.2 61.1h1.0M72.3 74.7h1.0M63.5 74.4h1.0M71.2 84.4h1.0M56.0 86.5h1.0M59.7 78.0h1.0M73.2 77.6h1.0M65.1 96.0h1.0M71.3 73.5h1.0M71.7 73.7h1.0M87.0 75.0h1.0M82.2 72.5h1.0M72.2 77.6h1.0M81.6 82.8h1.0M66.7 96.9h1.0M70.0 67.1h1.0M79.3 78.9h1.0M63.2 84.0h1.0M70.4 80.9h1.0M62.6 82.3h1.0M73.4 77.9h1.0M84.7 85.8h1.0M66.9 78.8h1.0M74.2 79.5h1.0M65.8 82.9h1.0M63.9 84.3h1.0M63.2 82.2h1.0M83.4 86.1h1.0M90.2 75.9h1.0M76.1 81.4h1.0M67.1 82.1h1.0M77.8 71.2h1.0M70.0 74.9h1.0M78.5 70.7h1.0M74.7 82.0h1.0M74.6 74.5h1.0M77.1 71.0h1.0M68.2 84.2h1.0M69.5 86.2h1.0M59.6 70.2h1.0M69.2 95.8h1.0M61.8 84.3h1.0M71.4 80.4h1.0M65.3 91.8h1.0M73.3 81.4h1.0M75.9 75.1h1.0M61.8 102.1h1.0M66.4 73.9h1.0M65.4 82.2h1.0M78.1 86.4h1.0M85.3 68.6h1.0M78.9 78.4h1.0M69.9 84.9h1.0M83.5 97.7h1.0M61.1 76.9h1.0M83.7 77.4h1.0M67.6 87.8h1.0M51.6 87.6h1.0M92.4 65.5h1.0M84.3 81.0h1.0M64.8 84.1h1.0M73.8 84.3h1.0M70.9 90.8h1.0M73.3 89.1h1.0M61.4 87.5h1.0M67.4 85.0h1.0M76.0 71.0h1.0M74.2 79.4h1.0M81.5 80.3h1.0M73.1 77.5h1.0M90.1 76.8h1.0M67.1 75.7h1.0M74.4 93.1h1.0M58.1 102.8h1.0M63.1 80.5h1.0M82.5 81.5h1.0M65.4 81.1h1.0M76.5 90.3h1.0M72.0 84.7h1.0M64.7 83.9h1.0M69.9 79.9h1.0M68.6 83.1h1.0M68.8 73.8h1.0M78.2 85.0h1.0M77.4 73.7h1.0M68.2 86.6h1.0M65.7 84.0h1.0M74.6 89.4h1.0M71.7 81.1h1.0M80.2 87.2h1.0M92.4 67.8h1.0M78.8 84.2h1.0M72.2 79.2h1.0M71.2 83.0h1.0M66.1 83.4h1.0M65.7 90.6h1.0M65.0 66.5h1.0M69.5 84.5h1.0M69.3 69.6h1.0M78.1 89.4h1.0M69.5 65.6h1.0M71.0 73.2h1.0M63.4 69.8h1.0M84.8 91.0h1.0M76.3 69.3h1.0M85.9 78.1h1.0M78.5 74.9h1.0M83.7 63.0h1.0M70.6 78.8h1.0M77.9 84.9h1.0M92.8 73.7h1.0M63.3 91.3h1.0M81.3 75.5h1.0M85.2 77.4h1.0M75.7 76.9h1.0M78.2 82.2h1.0M82.1 93.9h1.0M67.5 85.4h1.0M75.6 81.7h1.0M65.8 77.8h1.0M67.3 76.3h1.0M67.8 94.4h1.0M71.4 72.2h1.0M73.6 73.2h1.0M76.0 79.2h1.0M61.6 80.6h1.0M87.7 92.8h1.0M81.4 59.0h1.0M78.1 82.4h1.0M69.8 87.6h1.0M71.8 72.0h1.0M76.7 74.5h1.0M75.7 83.7h1.0M59.6 98.1h1.0M78.2 71.8h1.0M94.9 61.7h1.0M58.3 93.0h1.0M80.1 91.4h1.0M75.3 77.4h1.0M71.6 63.0h1.0M83.1 90.0h1.0M63.4 81.9h1.0M73.8 89.9h1.0M83.8 77.5h1.0M71.0 78.3h1.0M69.3 78.2h1.0M73.4 92.9h1.0M69.1 93.8h1.0M84.4 60.0h1.0M65.5 75.3h1.0M79.2 93.7h1.0M62.8 80.7h1.0M77.7 68.3h1.0M71.7 81.3h1.0M52.6 85.8h1.0M72.5 80.2h1.0M64.3 79.4h1.0M69.1 79.4h1.0M84.4 73.9h1.0M63.9 86.2h1.0M64.3 76.6h1.0M83.6 75.5h1.0M73.4 79.6h1.0M84.4 88.4h1.0M75.0 83.4h1.0M65.7 82.0h1.0M72.0 85.6h1.0M82.0 81.7h1.0M79.8 87.9h1.0M72.5 85.2h1.0M72.9 95.7h1.0M71.6 92.3h1.0M68.0 81.9h1.0M87.4 73.4h1.0M72.6 88.2h1.0M63.8 87.7h1.0M68.8 81.3h1.0M78.1 67.3h1.0M77.4 64.5h1.0M71.4 84.2h1.0M67.3 88.8h1.0M72.7 87.6h1.0M59.6 74.1h1.0M62.5 92.4h1.0M78.7 74.9h1.0M68.8 85.2h1.0M75.4 83.6h1.0M81.9 71.7h1.0M77.5 74.7h1.0M72.7 63.9h1.0M88.9 68.8h1.0M77.6 64.7h1.0M69.8 85.4h1.0M78.1 79.9h1.0M75.6 87.6h1.0M65.9 85.8h1.0M73.1 75.6h1.0M71.2 84.2h1.0M57.3 82.1h1.0M71.2 86.4h1.0M70.3 84.2h1.0M69.1 73.8h1.0M59.8 84.6h1.0M69.8 82.2h1.0M72.2 78.6h1.0M73.3 88.1h1.0M63.7 97.6h1.0M77.4 76.6h1.0M63.1 80.8h1.0M70.8 63.0h1.0M82.6 77.1h1.0M67.2 78.9h1.0M68.6 64.3h1.0M80.8 81.0h1.0M69.5 86.7h1.0M70.2 75.6h1.0M74.2 77.5h1.0M80.6 70.8h1.0M55.5 92.1h1.0M66.1 70.3h1.0M64.7 80.6h1.0M64.1 99.4h1.0M65.9 83.3h1.0M66.0 86.7h1.0M74.8 79.1h1.0M65.7 73.3h1.0M73.4 80.5h1.0M75.6 83.5h1.0M66.9 74.2h1.0M73.5 83.5h1.0M85.1 87.7h1.0M75.0 89.1h1.0M67.6 69.4h1.0M72.0 73.1h1.0M65.5 69.7h1.0M74.6 89.2h1.0M79.1 84.1h1.0M66.2 88.6h1.0M70.9 74.2h1.0M81.0 69.0h1.0M68.7 82.7h1.0M73.9 81.4h1.0M64.7 76.2h1.0M66.2 83.9h1.0M68.6 87.4h1.0M88.8 78.3h1.0M69.4 73.3h1.0M68.5 64.7h1.0M68.3 80.1h1.0M71.3 82.7h1.0M77.4 77.5h1.0M73.9 77.1h1.0M87.9 70.9h1.0M74.1 86.4h1.0M83.4 77.5h1.0M74.6 81.4h1.0M77.0 71.7h1.0M61.7 79.0h1.0M71.5 82.6h1.0M72.0 72.9h1.0M70.7 71.2h1.0M56.4 82.9h1.0M79.1 89.0h1.0M69.6 83.4h1.0M69.2 93.9h1.0M70.6 80.5h1.0M70.8 78.9h1.0M75.6 68.7h1.0M63.0 79.0h1.0M65.5 94.8h1.0M74.7 83.1h1.0M73.6 86.7h1.0M69.7 87.6h1.0M68.2 82.1h1.0M66.2 81.1h1.0M72.1 82.1h1.0M81.4 84.0h1.0M64.6 87.0h1.0M83.9 81.8h1.0M78.8 80.5h1.0M69.1 75.6h1.0M78.4 77.2h1.0M61.5 76.4h1.0M59.5 92.9h1.0M62.8 66.4h1.0M69.4 80.1h1.0M70.1 101.3h1.0M68.6 79.3h1.0M73.2 71.4h1.0M56.5 85.4h1.0M76.2 90.6h1.0M61.9 82.7h1.0M67.5 87.5h1.0M69.4 82.7h1.0M63.8 80.4h1.0M62.2 109.8h1.0M65.0 83.7h1.0M72.4 76.6h1.0M76.9 75.7h1.0M76.7 82.9h1.0M65.0 86.5h1.0M66.6 89.0h1.0M65.6 84.1h1.0M75.9 68.3h1.0M57.2 89.7h1.0M81.8 75.8h1.0M68.9 79.7h1.0M66.6 70.5h1.0M75.0 75.6h1.0M80.2 72.8h1.0M75.1 80.0h1.0M80.4 66.8h1.0M73.5 81.1h1.0M81.7 79.4h1.0M81.8 69.1h1.0M71.8 76.1h1.0M83.3 70.9h1.0M73.7 88.1h1.0M73.2 60.0h1.0M65.6 80.1h1.0M70.3 67.9h1.0M78.3 75.8h1.0M62.7 90.8h1.0M77.4 74.4h1.0M75.1 81.4h1.0M74.6 73.5h1.0M56.0 101.7h1.0M71.7 88.7h1.0M77.4 88.9h1.0M66.8 71.7h1.0M73.2 71.7h1.0M54.7 94.9h1.0M77.5 78.0h1.0M67.5 80.3h1.0M79.0 81.9h1.0M58.7 74.6h1.0M77.7 85.9h1.0M70.7 81.7h1.0M78.6 83.2h1.0M65.6 77.4h1.0M67.9 86.5h1.0M89.3 70.4h1.0M66.3 90.6h1.0M67.2 91.8h1.0M70.4 89.1h1.0M64.8 87.4h1.0M81.4 83.7h1.0M85.4 55.1h1.0M67.2 89.4h1.0M59.6 82.4h1.0M81.3 79.3h1.0M80.8 76.3h1.0M78.7 67.8h1.0M81.2 74.1h1.0M66.0 88.3h1.0M71.2 93.0h1.0M62.1 78.8h1.0M61.9 76.6h1.0M79.9 90.9h1.0M67.5 75.2h1.0M89.6 93.2h1.0M73.1 81.3h1.0M67.7 75.1h1.0M78.5 87.4h1.0M86.0 91.1h1.0M76.1 68.2h1.0M63.4 96.4h1.0M75.3 77.9h1.0M82.8 90.3h1.0M68.8 78.9h1.0M66.7 69.7h1.0M80.1 83.0h1.0M73.5 88.3h1.0M64.2 100.6h1.0M69.7 96.0h1.0M66.8 88.3h1.0M74.7 78.4h1.0M73.3 76.5h1.0M81.1 76.1h1.0M77.8 72.7h1.0M60.8 82.1h1.0M75.6 59.2h1.0M79.2 80.6h1.0M75.9 79.8h1.0M80.2 99.9h1.0M68.4 88.4h1.0M65.4 79.1h1.0M79.5 83.7h1.0M64.5 73.2h1.0M56.3 80.6h1.0M80.2 63.5h1.0M67.1 94.4h1.0M70.2 86.5h1.0M62.0 74.3h1.0M62.6 83.3h1.0M63.8 91.3h1.0M69.8 85.8h1.0M75.3 83.4h1.0M55.3 78.8h1.0M78.1 74.2h1.0M63.6 84.3h1.0M64.5 90.8h1.0M77.6 72.7h1.0M71.9 71.9h1.0M61.0 93.7h1.0M86.3 69.4h1.0M66.0 91.7h1.0M74.4 82.5h1.0M74.0 87.8h1.0M83.1 92.4h1.0M69.1 87.6h1.0M80.1 85.2h1.0M66.9 75.0h1.0M80.9 72.9h1.0M66.8 87.9h1.0M69.8 94.4h1.0M86.7 88.4h1.0M74.9 99.4h1.0M73.3 83.3h1.0M89.3 77.9h1.0M75.2 88.5h1.0M66.4 82.9h1.0M78.0 78.9h1.0M63.6 74.9h1.0M81.0 86.8h1.0M81.5 69.6h1.0M68.2 86.4h1.0M67.8 70.7h1.0M73.8 89.6h1.0M72.6 72.5h1.0M65.2 90.0h1.0M76.8 66.7h1.0M57.2 81.7h1.0M69.3 91.6h1.0M69.5 75.2h1.0M70.5 82.1h1.0M74.8 76.4h1.0M63.3 64.6h1.0M76.9 82.3h1.0M71.1 84.9h1.0M67.6 73.3h1.0M62.2 88.6h1.0M63.6 77.0h1.0M75.2 72.0h1.0M65.3 83.1h1.0M73.0 75.3h1.0M80.5 97.6h1.0M80.2 66.0h1.0M84.2 83.8h1.0M70.3 89.8h1.0M64.4 67.0h1.0M80.2 64.6h1.0M74.8 85.0h1.0M80.9 74.6h1.0M72.6 84.1h1.0M81.5 87.8h1.0M78.8 76.1h1.0M77.9 70.7h1.0M76.3 57.5h1.0M75.5 81.8h1.0M74.2 72.9h1.0M74.2 83.1h1.0M79.9 80.8h1.0M68.7 70.7h1.0M85.5 91.5h1.0M71.7 90.1h1.0M79.9 85.9h1.0M71.8 71.4h1.0M70.7 78.2h1.0M87.7 72.2h1.0M70.2 78.2h1.0M62.9 74.5h1.0M67.1 86.1h1.0M70.1 83.6h1.0M88.7 79.4h1.0M74.1 76.4h1.0M79.5 89.6h1.0M65.0 84.7h1.0M75.1 57.7h1.0M77.5 74.3h1.0M86.0 76.7h1.0M67.3 90.4h1.0M77.0 77.2h1.0M74.8 78.3h1.0M64.8 77.7h1.0M72.4 86.5h1.0M70.5 77.9h1.0M55.1 81.0h1.0M77.0 73.6h1.0M76.6 84.4h1.0M69.2 77.5h1.0M62.5 70.1h1.0M83.6 83.0h1.0M74.5 74.7h1.0M80.1 81.8h1.0M83.1 81.1h1.0M68.6 92.0h1.0M78.6 87.9h1.0M70.7 76.8h1.0M72.0 79.8h1.0M71.9 70.6h1.0M72.5 94.8h1.0M113.2 77.8h1.0M122.2 57.1h1.0M106.0 66.0h1.0M89.5 66.6h1.0M123.6 66.0h1.0M109.9 78.3h1.0M110.3 72.8h1.0M109.5 61.3h1.0M115.1 65.2h1.0M114.1 74.5h1.0M93.9 68.4h1.0M119.3 65.6h1.0M104.0 71.9h1.0M104.6 57.1h1.0M125.4 70.3h1.0M117.7 69.0h1.0M105.8 73.3h1.0M91.4 65.9h1.0M110.5 63.0h1.0M114.1 63.4h1.0M108.2 70.5h1.0M97.2 71.8h1.0M101.5 71.2h1.0M97.1 83.7h1.0M111.0 77.1h1.0M116.8 61.9h1.0M118.7 61.9h1.0M102.0 82.0h1.0M111.2 66.0h1.0M114.3 76.9h1.0M104.1 80.7h1.0M107.6 65.2h1.0M129.2 62.2h1.0M110.9 68.8h1.0M117.4 60.8h1.0M104.9 62.9h1.0M109.4 65.8h1.0M92.7 78.2h1.0M108.8 65.6h1.0M120.3 64.6h1.0M128.9 60.9h1.0M120.4 56.7h1.0M115.5 77.3h1.0M109.5 52.4h1.0M103.3 65.4h1.0M107.5 72.8h1.0M114.8 57.7h1.0M101.5 74.5h1.0M117.9 75.2h1.0M99.7 64.9h1.0M92.1 73.9h1.0M99.4 63.2h1.0M93.2 75.7h1.0M96.0 72.2h1.0M119.8 67.7h1.0M107.1 78.4h1.0M111.1 71.4h1.0M120.0 75.4h1.0M121.0 70.3h1.0M104.2 61.5h1.0M121.6 67.6h1.0M112.7 71.2h1.0M109.0 58.7h1.0M113.2 76.8h1.0M95.5 72.2h1.0M101.5 72.9h1.0M108.0 62.7h1.0M114.8 67.8h1.0M105.5 71.5h1.0M107.8 66.7h1.0M118.2 67.1h1.0M122.4 51.0h1.0M116.3 76.3h1.0M121.1 58.2h1.0M105.2 54.5h1.0M106.1 62.7h1.0M112.0 62.2h1.0M106.1 73.0h1.0M104.2 63.4h1.0M124.7 67.0h1.0M107.1 62.5h1.0M99.8 85.9h1.0M113.6 71.3h1.0M126.4 78.1h1.0M109.8 61.5h1.0M120.7 70.5h1.0M104.8 63.0h1.0M104.3 73.7h1.0M102.4 74.8h1.0M107.6 58.0h1.0M126.4 56.8h1.0M98.0 63.1h1.0M124.6 54.8h1.0M99.4 65.8h1.0M106.8 62.5h1.0M116.9 56.9h1.0M115.0 67.9h1.0M111.7 71.7h1.0M93.3 63.1h1.0M112.4 64.0h1.0M99.3 70.9h1.0M133.4 61.5h1.0M107.0 64.2h1.0M110.8 73.7h1.0M98.1 76.9h1.0M104.5 74.3h1.0M96.7 69.9h1.0M118.3 80.1h1.0M106.5 81.1h1.0M114.3 64.6h1.0M102.5 69.2h1.0M104.2 77.8h1.0M121.2 60.3h1.0M99.8 73.4h1.0M91.9 72.8h1.0M112.9 62.9h1.0M98.2 69.4h1.0M104.8 58.7h1.0M117.7 62.9h1.0M101.2 56.6h1.0M117.3 82.3h1.0M102.5 80.4h1.0M123.2 73.8h1.0M121.6 67.8h1.0M104.5 76.4h1.0M107.0 77.8h1.0M101.1 77.3h1.0M110.9 74.4h1.0M119.9 59.8h1.0M95.3 74.6h1.0M117.7 62.9h1.0M96.4 63.3h1.0M100.8 62.6h1.0M92.0 75.3h1.0M129.0 71.2h1.0M109.6 59.0h1.0M111.3 80.0h1.0M102.6 80.1h1.0M119.1 63.6h1.0M89.0 69.9h1.0M109.3 68.0h1.0M130.0 70.5h1.0M105.4 66.7h1.0M109.2 60.9h1.0M115.4 69.4h1.0M101.3 56.1h1.0M109.2 69.4h1.0M118.1 74.4h1.0M110.8 70.2h1.0M112.5 73.1h1.0M105.7 72.7h1.0M112.0 72.8h1.0M109.5 69.4h1.0M122.8 59.7h1.0M115.9 65.4h1.0M106.7 68.5h1.0M85.8 82.4h1.0M115.8 78.1h1.0M116.2 69.8h1.0M100.3 65.3h1.0M90.0 67.8h1.0M98.2 69.7h1.0M117.8 76.0h1.0M98.9 73.1h1.0M104.6 69.1h1.0M111.1 62.8h1.0M120.6 71.9h1.0M108.8 70.5h1.0M108.0 68.4h1.0M103.8 70.4h1.0M124.5 76.6h1.0M119.1 65.1h1.0M108.1 80.3h1.0M95.7 80.0h1.0M101.5 70.6h1.0M114.5 73.3h1.0M102.1 69.2h1.0M117.5 60.9h1.0M112.4 65.9h1.0M111.8 61.6h1.0M115.2 70.6h1.0M113.7 67.5h1.0M100.9 74.2h1.0M105.9 74.9h1.0M131.2 42.0h1.0M97.5 73.2h1.0M104.5 57.2h1.0M119.1 67.3h1.0M107.5 62.8h1.0M101.3 71.0h1.0M96.4 80.7h1.0M114.1 55.6h1.0M118.7 67.6h1.0M122.3 64.9h1.0M109.5 55.4h1.0M118.9 70.7h1.0M99.2 71.0h1.0M110.6 64.6h1.0M102.6 65.0h1.0M110.7 90.2h1.0M116.1 64.2h1.0M119.2 53.8h1.0M99.6 64.2h1.0M121.0 63.2h1.0M104.5 66.9h1.0M99.3 70.2h1.0M107.4 61.7h1.0M95.1 75.4h1.0M109.0 65.2h1.0M111.8 58.5h1.0M107.1 63.3h1.0M114.1 64.7h1.0M106.0 75.0h1.0M109.0 71.8h1.0M95.3 69.3h1.0M109.4 68.5h1.0M100.9 71.8h1.0M104.7 83.5h1.0M108.1 64.5h1.0M110.8 71.3h1.0M93.4 77.0h1.0M94.1 65.3h1.0M106.1 70.5h1.0M113.5 68.6h1.0M112.4 64.5h1.0M117.5 70.5h1.0M121.4 72.8h1.0M113.7 75.2h1.0M108.8 67.2h1.0M99.2 72.0h1.0M100.0 86.7h1.0M104.6 61.9h1.0M111.5 69.4h1.0M111.1 74.1h1.0M109.0 69.5h1.0M107.5 73.3h1.0M115.0 68.3h1.0M111.0 73.2h1.0M111.8 76.7h1.0M111.9 66.3h1.0M103.8 71.0h1.0M99.2 70.3h1.0M113.7 64.7h1.0M113.0 67.5h1.0M106.9 61.2h1.0M105.1 74.5h1.0M130.6 75.3h1.0M101.8 81.8h1.0M106.9 77.7h1.0M111.5 61.3h1.0M98.0 81.4h1.0M110.1 63.3h1.0M126.1 64.3h1.0M117.9 79.2h1.0M115.0 59.8h1.0M114.6 73.0h1.0M110.1 70.2h1.0M118.1 65.4h1.0M107.5 62.8h1.0M105.0 72.3h1.0M110.0 65.1h1.0M117.6 73.7h1.0M112.1 76.2h1.0M115.4 57.6h1.0M89.8 69.4h1.0M120.3 63.7h1.0M131.2 55.3h1.0M121.7 57.9h1.0M106.0 69.8h1.0M100.9 68.9h1.0M111.6 56.6h1.0M99.6 66.9h1.0M115.9 70.5h1.0M104.0 61.3h1.0M118.1 60.1h1.0M121.9 76.5h1.0M89.7 81.9h1.0M111.8 56.7h1.0M102.4 60.7h1.0M95.6 74.1h1.0M103.1 61.6h1.0M106.9 67.2h1.0M118.8 63.2h1.0M94.5 75.6h1.0M119.0 48.9h1.0M128.2 49.0h1.0M114.7 58.8h1.0M114.2 74.3h1.0M108.9 67.5h1.0M97.8 59.3h1.0M114.1 70.7h1.0M112.6 72.5h1.0M116.0 65.2h1.0M133.4 60.7h1.0M115.9 69.9h1.0M113.0 75.9h1.0M123.8 66.2h1.0M96.2 75.1h1.0M98.1 70.6h1.0M105.4 66.7h1.0M102.8 63.6h1.0M115.6 68.8h1.0M106.0 67.1h1.0M125.5 63.1h1.0M123.4 71.6h1.0M116.3 70.2h1.0M105.3 75.3h1.0M114.9 56.3h1.0M116.7 70.6h1.0M98.9 66.8h1.0M112.3 62.2h1.0M115.7 61.1h1.0M111.1 76.4h1.0M123.9 70.8h1.0M120.5 61.0h1.0M101.2 62.5h1.0M110.2 68.3h1.0M101.1 67.1h1.0M114.5 78.6h1.0M100.8 60.3h1.0M117.8 53.9h1.0M112.7 65.9h1.0M118.2 66.5h1.0M107.6 69.7h1.0M95.2 76.8h1.0M125.8 78.9h1.0M107.4 66.5h1.0M122.1 61.8h1.0M113.1 55.5h1.0M115.4 68.7h1.0M126.4 70.4h1.0M112.2 66.0h1.0M122.3 73.6h1.0M94.9 71.9h1.0M117.3 77.0h1.0M106.7 71.3h1.0M107.7 61.5h1.0M109.1 64.1h1.0M112.3 57.2h1.0M124.7 53.0h1.0M91.4 74.3h1.0M109.4 74.4h1.0M102.2 83.5h1.0M120.1 65.6h1.0M105.0 67.8h1.0M113.3 59.9h1.0M105.2 76.1h1.0M115.3 69.7h1.0M118.6 62.2h1.0M105.2 74.1h1.0M109.5 72.2h1.0M95.5 58.7h1.0M111.9 72.9h1.0M117.1 67.6h1.0M103.7 67.0h1.0M119.6 63.2h1.0M89.3 85.0h1.0M91.4 83.0h1.0M95.8 84.0h1.0M104.4 61.7h1.0M109.2 64.0h1.0M108.3 74.9h1.0M108.4 60.3h1.0M115.9 62.0h1.0M104.5 57.1h1.0M97.0 84.0h1.0M97.2 78.5h1.0M129.1 67.1h1.0M86.7 75.1h1.0M107.3 66.0h1.0M122.9 62.6h1.0M113.6 71.7h1.0M101.1 65.4h1.0M109.0 76.9h1.0M117.2 63.3h1.0M120.5 59.9h1.0M100.5 79.4h1.0M116.2 65.9h1.0M111.4 71.8h1.0M119.5 63.3h1.0M122.2 50.0h1.0M105.7 73.0h1.0M95.2 62.4h1.0M112.8 75.1h1.0M125.9 54.0h1.0M115.5 54.2h1.0M111.2 70.1h1.0M131.8 66.2h1.0M99.1 71.5h1.0M117.6 58.2h1.0M103.6 75.8h1.0M109.5 58.3h1.0M109.9 65.1h1.0M123.4 59.8h1.0M100.1 67.9h1.0M103.9 75.5h1.0M93.9 67.6h1.0M113.6 71.3h1.0M104.6 74.3h1.0M113.0 55.8h1.0M98.8 62.8h1.0M105.6 66.6h1.0M118.9 62.2h1.0M107.3 71.0h1.0M114.9 53.9h1.0M114.0 72.3h1.0M105.6 74.4h1.0M94.2 70.7h1.0M118.4 56.9h1.0M110.6 68.2h1.0M118.3 62.7h1.0M89.9 76.7h1.0M93.3 71.5h1.0M88.6 78.1h1.0M100.7 67.4h1.0M118.9 76.2h1.0M114.4 51.4h1.0M108.7 61.6h1.0M110.2 71.6h1.0M116.2 56.5h1.0M106.1 74.2h1.0M112.8 59.3h1.0M110.3 68.8h1.0M88.2 66.9h1.0M105.3 66.3h1.0M121.9 66.8h1.0M105.2 68.6h1.0M107.6 66.2h1.0M103.2 84.6h1.0M104.4 69.6h1.0M119.7 59.4h1.0M106.5 75.5h1.0M99.3 76.3h1.0M79.4 83.6h1.0M103.6 82.0h1.0M90.3 66.3h1.0M91.7 79.7h1.0M116.6 74.6h1.0M115.7 67.0h1.0M90.8 74.3h1.0M117.1 46.0h1.0M113.4 63.6h1.0M101.6 82.5h1.0M116.0 54.6h1.0M93.5 68.3h1.0M97.6 73.1h1.0M95.3 75.6h1.0M98.4 82.1h1.0M117.3 54.5h1.0M96.3 71.7h1.0M98.1 76.9h1.0M100.0 61.5h1.0M110.9 67.8h1.0M105.8 82.2h1.0M117.2 75.7h1.0M102.2 73.7h1.0M96.8 53.3h1.0M104.2 68.7h1.0M109.3 71.1h1.0M100.1 68.4h1.0M111.6 67.5h1.0M126.2 85.8h1.0M103.4 68.3h1.0M109.3 61.8h1.0M121.8 67.3h1.0M102.8 67.8h1.0M100.8 68.2h1.0M98.5 70.3h1.0M112.7 73.0h1.0M113.8 69.0h1.0M107.4 60.6h1.0M109.3 67.5h1.0M120.9 69.0h1.0M117.1 63.5h1.0M95.5 79.5h1.0M108.7 73.9h1.0M109.8 61.5h1.0M115.6 69.2h1.0M106.7 82.7h1.0M102.6 80.7h1.0M104.4 69.2h1.0M91.9 78.6h1.0M108.5 64.0h1.0M103.1 59.9h1.0M113.2 71.4h1.0M99.0 72.5h1.0M104.6 73.0h1.0M99.4 70.5h1.0M98.6 73.1h1.0M115.3 63.5h1.0M104.3 72.8h1.0M112.9 73.3h1.0M98.0 70.6h1.0M109.6 74.0h1.0M92.6 60.1h1.0M104.1 64.2h1.0M103.9 79.6h1.0M114.2 79.4h1.0M110.3 69.9h1.0M107.0 68.3h1.0M116.6 58.1h1.0M110.4 70.7h1.0M113.7 72.8h1.0M115.9 56.8h1.0M108.0 72.6h1.0M105.8 72.6h1.0M111.7 70.9h1.0M104.6 61.7h1.0M112.3 71.5h1.0M119.1 55.9h1.0M116.7 77.0h1.0M105.0 70.3h1.0M96.4 63.4h1.0M108.0 78.0h1.0M107.4 76.8h1.0M119.1 61.7h1.0M104.9 84.6h1.0M106.6 62.2h1.0M115.5 69.2h1.0M104.0 77.8h1.0M107.0 53.3h1.0M124.8 71.8h1.0M122.7 64.9h1.0M114.5 67.1h1.0M111.1 60.6h1.0M99.4 73.0h1.0M113.8 59.8h1.0M109.1 61.8h1.0M110.6 65.1h1.0M103.6 61.3h1.0M108.4 79.4h1.0M106.8 59.9h1.0M111.5 62.7h1.0M122.1 63.4h1.0M112.0 67.8h1.0M92.8 77.6h1.0M99.4 76.3h1.0M93.5 69.9h1.0M101.0 67.7h1.0M113.8 67.6h1.0M112.3 73.4h1.0M102.9 74.7h1.0M111.1 64.5h1.0M101.4 56.1h1.0M95.1 86.4h1.0M95.2 78.2h1.0M100.4 72.3h1.0M122.0 67.9h1.0M95.8 67.9h1.0M120.3 59.0h1.0M121.1 63.5h1.0M106.8 67.5h1.0M108.1 64.4h1.0M102.7 59.9h1.0M108.3 66.5h1.0M114.8 71.1h1.0M108.6 65.2h1.0M118.0 66.6h1.0M119.8 51.8h1.0M111.8 66.4h1.0M111.6 67.1h1.0M107.9 60.3h1.0M111.8 56.0h1.0M97.9 73.8h1.0M112.4 62.2h1.0M110.5 71.5h1.0M100.3 67.6h1.0M128.9 68.3h1.0M99.3 68.4h1.0M100.3 60.1h1.0M111.1 67.4h1.0M90.1 70.5h1.0M101.0 74.8h1.0M94.0 68.8h1.0M99.3 68.0h1.0M107.2 74.8h1.0M111.5 75.9h1.0M119.0 71.5h1.0M116.1 74.0h1.0M119.7 69.2h1.0M114.1 72.6h1.0M104.1 75.7h1.0M119.1 69.0h1.0M103.9 70.1h1.0M102.7 70.9h1.0M123.0 81.8h1.0M116.0 67.0h1.0M110.6 66.5h1.0M115.6 64.5h1.0M116.8 66.5h1.0M95.6 73.2h1.0M107.6 61.1h1.0M97.3 57.6h1.0M109.6 70.4h1.0M102.1 59.0h1.0M121.4 67.5h1.0M113.4 68.5h1.0M100.8 78.3h1.0M108.3 80.1h1.0M97.0 73.8h1.0M108.9 64.7h1.0M113.7 59.4h1.0M111.0 62.6h1.0M90.2 73.1h1.0M105.3 55.1h1.0M113.3 68.0h1.0M111.4 67.9h1.0M119.5 70.5h1.0M96.3 69.1h1.0M113.4 68.2h1.0M102.3 65.0h1.0M110.3 65.0h1.0M112.3 55.6h1.0M115.0 68.0h1.0M103.0 80.5h1.0M110.2 69.3h1.0M97.4 73.7h1.0M95.1 64.9h1.0M113.7 77.3h1.0M107.9 63.5h1.0M93.1 77.6h1.0M100.4 71.2h1.0M108.6 62.0h1.0M123.2 72.3h1.0M118.4 66.5h1.0M116.0 68.1h1.0M91.5 75.6h1.0M107.5 68.7h1.0M113.0 65.0h1.0M112.2 71.0h1.0M112.4 64.9h1.0M106.2 69.6h1.0M125.1 60.2h1.0M122.5 55.2h1.0M107.6 64.2h1.0M99.1 67.3h1.0M127.9 64.3h1.0M103.2 78.0h1.0M119.8 54.4h1.0M126.6 65.4h1.0M99.5 55.5h1.0M111.2 60.8h1.0M105.1 65.9h1.0M113.3 52.0h1.0M111.5 55.2h1.0M126.9 65.5h1.0M114.0 67.9h1.0M108.4 67.9h1.0M119.1 60.7h1.0M105.9 84.0h1.0M105.0 68.3h1.0M129.7 57.9h1.0M100.6 81.9h1.0M103.8 73.9h1.0M108.9 66.0h1.0M98.4 79.1h1.0M88.4 74.3h1.0M118.5 70.8h1.0M101.0 71.9h1.0M103.3 62.7h1.0M104.9 76.1h1.0M99.1 71.8h1.0M98.2 64.0h1.0M110.0 63.0h1.0M131.2 70.0h1.0M115.4 64.5h1.0M115.5 67.3h1.0M94.1 76.4h1.0M108.2 69.6h1.0M97.2 60.7h1.0M115.8 71.3h1.0M106.3 75.6h1.0M108.8 74.5h1.0M107.6 79.9h1.0M102.9 72.4h1.0M94.0 77.3h1.0M113.9 78.3h1.0M95.3 69.6h1.0M97.2 83.1h1.0M105.6 81.2h1.0M101.7 75.5h1.0M110.9 80.7h1.0M118.0 72.3h1.0M110.8 62.0h1.0M110.3 76.0h1.0M108.7 70.8h1.0M116.6 69.6h1.0M90.9 73.7h1.0M111.9 77.2h1.0M99.6 74.4h1.0M96.7 66.5h1.0M108.5 72.0h1.0M104.8 74.5h1.0M114.0 62.4h1.0M118.9 63.3h1.0M86.3 71.0h1.0M107.8 64.6h1.0M127.0 66.8h1.0M116.7 73.7h1.0M122.2 78.5h1.0M109.4 76.6h1.0M94.8 78.7h1.0M97.8 78.9h1.0M115.2 76.3h1.0M117.5 64.0h1.0M101.5 75.0h1.0M105.9 71.4h1.0M110.9 67.2h1.0M91.8 69.3h1.0M105.1 65.9h1.0M123.8 63.3h1.0M129.2 55.4h1.0M107.4 72.4h1.0M125.8 64.5h1.0M103.5 70.5h1.0M100.7 72.7h1.0M87.2 78.4h1.0M117.5 62.5h1.0M104.9 68.7h1.0M130.7 52.5h1.0M111.6 52.7h1.0M110.2 54.9h1.0M91.3 83.1h1.0M122.7 52.8h1.0M105.0 72.7h1.0M106.9 79.1h1.0M87.5 70.2h1.0M117.2 77.8h1.0M117.8 79.2h1.0M102.7 76.4h1.0M109.3 84.7h1.0M112.2 72.1h1.0M117.6 61.5h1.0M109.5 72.0h1.0M124.8 61.9h1.0M106.2 60.2h1.0M102.7 61.2h1.0M104.0 85.5h1.0M84.4 70.4h1.0M100.8 70.2h1.0M118.0 61.9h1.0M111.0 69.0h1.0M100.7 68.8h1.0M111.8 65.1h1.0M89.3 64.7h1.0M105.8 59.6h1.0M113.5 62.5h1.0M115.1 69.2h1.0M101.1 84.6h1.0M117.2 74.0h1.0M126.2 77.2h1.0M104.4 73.0h1.0M115.5 66.5h1.0M93.7 63.0h1.0M89.8 73.0h1.0M114.3 52.7h1.0M108.9 66.6h1.0M110.4 79.5h1.0M103.0 72.3h1.0M105.7 77.1h1.0M116.2 64.4h1.0M124.8 55.6h1.0M106.4 65.9h1.0M92.8 69.6h1.0M120.6 74.3h1.0M114.2 81.0h1.0M115.0 62.2h1.0M110.2 65.9h1.0M130.6 62.7h1.0M109.2 66.2h1.0M113.4 59.1h1.0M90.9 73.4h1.0M103.0 72.5h1.0M102.0 72.9h1.0M108.2 60.6h1.0M111.8 67.2h1.0M101.4 58.5h1.0M125.0 71.3h1.0M98.4 64.1h1.0M104.2 67.9h1.0M110.8 65.2h1.0M96.6 67.5h1.0M113.9 60.3h1.0M114.5 55.3h1.0M105.7 81.3h1.0M126.7 66.4h1.0M109.3 70.5h1.0M111.2 82.6h1.0M99.4 70.2h1.0M92.6 76.2h1.0M102.5 70.3h1.0M105.5 77.7h1.0M104.2 73.3h1.0M115.8 69.3h1.0M85.8 72.2h1.0M97.7 73.2h1.0M91.2 80.8h1.0M121.3 51.7h1.0M103.1 69.2h1.0M103.6 67.1h1.0M98.0 69.1h1.0M117.1 53.3h1.0M104.6 74.7h1.0M110.6 62.5h1.0M89.2 71.7h1.0M119.7 62.8h1.0M112.3 56.5h1.0M113.8 64.6h1.0M120.3 53.5h1.0M106.7 62.8h1.0M106.9 67.0h1.0M115.4 67.2h1.0M112.6 68.3h1.0M106.2 68.4h1.0M108.9 83.4h1.0M103.7 72.9h1.0M115.3 58.9h1.0M117.4 62.6h1.0M108.6 64.3h1.0M126.4 63.6h1.0M93.9 68.0h1.0M106.3 63.5h1.0M124.8 76.5h1.0M104.5 70.0h1.0M93.3 70.0h1.0M121.8 64.1h1.0M113.7 66.2h1.0M97.2 81.0h1.0M115.9 70.4h1.0M98.8 78.8h1.0M95.8 50.3h1.0M107.1 71.4h1.0M104.0 77.2h1.0M98.1 84.8h1.0M105.1 69.8h1.0M99.0 59.2h1.0M109.1 72.8h1.0M108.3 64.8h1.0M115.6 54.9h1.0M104.2 65.6h1.0M95.9 79.0h1.0M96.0 80.0h1.0M106.2 74.3h1.0M123.2 58.3h1.0M116.6 84.3h1.0M102.4 62.2h1.0M117.5 66.3h1.0M97.5 61.4h1.0M118.2 75.7h1.0M104.9 72.7h1.0M115.9 73.3h1.0M114.5 68.1h1.0M105.9 69.0h1.0M111.7 69.4h1.0M98.4 58.2h1.0M107.9 75.9h1.0M118.9 72.8h1.0M147.6 57.3h1.0M115.3 67.3h1.0M109.4 70.7h1.0M98.9 81.9h1.0M118.6 69.6h1.0M92.8 72.8h1.0M100.9 67.1h1.0M112.0 57.8h1.0M97.1 67.4h1.0M123.2 66.0h1.0M119.0 64.8h1.0M103.1 70.6h1.0M103.3 75.2h1.0M96.0 74.7h1.0M95.2 73.8h1.0M112.8 72.5h1.0M114.5 68.8h1.0M111.9 67.9h1.0M111.1 71.6h1.0M103.2 58.3h1.0M112.0 76.7h1.0M94.5 63.3h1.0M108.6 74.7h1.0M122.6 65.8h1.0M121.2 73.7h1.0M104.1 70.2h1.0M105.4 63.2h1.0M121.7 73.3h1.0M125.6 66.3h1.0M94.3 73.0h1.0M104.5 70.4h1.0M110.8 75.3h1.0M120.2 71.9h1.0M100.6 72.3h1.0M114.7 56.9h1.0M105.7 66.8h1.0M131.2 64.5h1.0M112.7 80.3h1.0M107.3 71.9h1.0M105.4 69.1h1.0M118.6 74.9h1.0M115.0 66.7h1.0M98.2 71.1h1.0M110.6 69.6h1.0M95.8 61.6h1.0M101.4 77.2h1.0M96.2 74.7h1.0M95.9 69.9h1.0M102.0 62.6h1.0M99.2 72.6h1.0M113.6 77.4h1.0M116.2 62.8h1.0M106.3 62.2h1.0M97.9 74.3h1.0M116.2 56.3h1.0M89.3 58.1h1.0M90.2 70.1h1.0M115.5 62.7h1.0M114.8 65.7h1.0M117.9 63.1h1.0M106.5 71.7h1.0M96.5 70.2h1.0M103.7 66.0h1.0M114.0 64.6h1.0M101.3 75.0h1.0M101.9 77.1h1.0M95.3 78.2h1.0M97.5 76.3h1.0M116.6 44.5h1.0M112.9 61.1h1.0M97.5 69.4h1.0M98.3 72.8h1.0M103.2 59.1h1.0M113.8 77.6h1.0M97.4 73.6h1.0M107.0 65.1h1.0M88.1 74.8h1.0M96.6 69.4h1.0M112.6 62.9h1.0M117.1 70.5h1.0M97.5 68.4h1.0M101.2 61.0h1.0M116.2 62.9h1.0M104.9 69.1h1.0M103.4 62.8h1.0M113.5 76.5h1.0M110.4 61.1h1.0M119.2 78.7h1.0M116.2 73.4h1.0M103.1 63.8h1.0M107.4 70.2h1.0M108.0 77.3h1.0M95.6 70.7h1.0M99.3 62.9h1.0M117.9 67.7h1.0M93.4 86.1h1.0M118.1 56.6h1.0M111.3 72.2h1.0M107.3 69.4h1.0M113.7 67.1h1.0M113.1 65.3h1.0M120.1 64.2h1.0M104.8 77.0h1.0M106.4 73.6h1.0M106.3 62.7h1.0M126.5 75.7h1.0M117.6 58.1h1.0M99.8 75.6h1.0M105.4 71.0h1.0M101.9 78.8h1.0M108.7 71.5h1.0M110.6 75.9h1.0M130.5 63.9h1.0M91.2 79.7h1.0M118.4 69.2h1.0M112.8 82.9h1.0M101.9 65.8h1.0M107.2 77.6h1.0M103.9 73.3h1.0M109.1 70.2h1.0M118.2 63.0h1.0M94.2 75.4h1.0M121.1 56.1h1.0M105.1 60.5h1.0M123.0 70.7h1.0M112.6 57.5h1.0M120.4 76.3h1.0M114.0 66.0h1.0M119.0 68.5h1.0M109.2 69.5h1.0M100.7 73.8h1.0M115.1 65.7h1.0M115.4 65.0h1.0M128.7 63.7h1.0M89.6 80.6h1.0M106.8 77.3h1.0M118.8 75.5h1.0M96.7 74.3h1.0M106.5 68.2h1.0M128.8 53.0h1.0M122.2 70.4h1.0M100.3 76.8h1.0M122.3 63.2h1.0M120.0 72.1h1.0M116.1 76.3h1.0M112.3 68.9h1.0M111.0 75.8h1.0M100.4 73.1h1.0M103.8 58.3h1.0M115.7 64.3h1.0M110.0 66.0h1.0M126.3 68.7h1.0M105.5 63.9h1.0M85.9 71.3h1.0M105.5 63.2h1.0M111.4 68.2h1.0M112.4 68.7h1.0M109.4 75.6h1.0M100.9 76.3h1.0M122.9 67.0h1.0M102.4 72.2h1.0M115.5 68.3h1.0M106.0 70.5h1.0M97.3 82.3h1.0M122.2 49.0h1.0M84.9 73.3h1.0M100.6 73.1h1.0M112.9 75.9h1.0M105.4 62.3h1.0M115.9 69.8h1.0M107.8 75.2h1.0M104.5 67.0h1.0M129.3 51.3h1.0M106.7 67.1h1.0M107.3 61.2h1.0M98.5 75.9h1.0M101.7 64.9h1.0M115.0 79.9h1.0M114.1 68.8h1.0M108.8 63.5h1.0M102.1 67.1h1.0M115.3 60.1h1.0M92.6 75.4h1.0M105.6 80.1h1.0M106.4 68.1h1.0M100.8 77.3h1.0M110.3 62.3h1.0M102.5 72.6h1.0M101.2 86.6h1.0M126.0 55.5h1.0M115.9 75.9h1.0M120.2 74.5h1.0M109.3 56.0h1.0M118.0 57.1h1.0M116.3 60.7h1.0M120.4 73.1h1.0M131.4 61.0h1.0M106.7 68.4h1.0M111.4 73.4h1.0M108.4 70.0h1.0M75.5 78.2h1.0M95.6 69.9h1.0M109.1 76.7h1.0M114.9 62.3h1.0M103.4 81.8h1.0M119.7 64.3h1.0M121.1 60.8h1.0M105.0 74.4h1.0M122.5 69.1h1.0M125.6 51.6h1.0M113.4 69.5h1.0M99.6 61.9h1.0M122.9 60.2h1.0M107.4 74.8h1.0M105.4 63.9h1.0M110.1 71.2h1.0M103.9 67.6h1.0M119.2 80.0h1.0M116.4 66.7h1.0M120.6 58.3h1.0M114.5 60.2h1.0M101.5 64.5h1.0M107.5 70.2h1.0M117.3 67.1h1.0M105.1 76.5h1.0M136.7 63.8h1.0M106.7 70.4h1.0M103.4 72.5h1.0M119.9 65.6h1.0M116.1 69.4h1.0M108.7 74.4h1.0M106.8 74.8h1.0M113.1 64.3h1.0M116.9 55.0h1.0M116.2 61.8h1.0M106.1 71.5h1.0M113.1 50.9h1.0M117.0 63.9h1.0M116.3 70.4h1.0M79.7 71.7h1.0M100.5 63.2h1.0M101.6 82.7h1.0M106.8 78.9h1.0M110.7 66.8h1.0M117.8 76.0h1.0M114.9 76.5h1.0M107.8 61.4h1.0M109.2 87.3h1.0M125.7 58.7h1.0M103.2 68.4h1.0M111.9 60.7h1.0M123.9 66.1h1.0M112.3 59.1h1.0M89.6 73.3h1.0M112.6 75.5h1.0M105.3 71.2h1.0M107.9 67.3h1.0M119.0 77.2h1.0M113.5 61.7h1.0M106.5 76.1h1.0M117.5 64.9h1.0M113.1 69.4h1.0M110.0 68.9h1.0M111.9 69.1h1.0M111.4 67.9h1.0M105.8 64.2h1.0M104.6 65.9h1.0M109.2 71.8h1.0M99.9 70.2h1.0M97.0 63.6h1.0M121.4 61.2h1.0M106.7 64.6h1.0M108.8 68.5h1.0M107.7 70.3h1.0M109.2 69.4h1.0M109.2 64.3h1.0M109.6 68.8h1.0M101.4 61.1h1.0M117.9 47.0h1.0M102.4 69.9h1.0M118.8 55.2h1.0M90.8 66.4h1.0M98.9 62.8h1.0M118.4 70.9h1.0M107.6 60.8h1.0M102.6 72.1h1.0M112.6 64.6h1.0M99.1 62.5h1.0M109.7 57.7h1.0M88.0 76.7h1.0M104.7 72.3h1.0M102.8 75.4h1.0M114.1 80.1h1.0M117.3 68.7h1.0M100.9 72.4h1.0M124.3 64.3h1.0M103.4 70.7h1.0M89.5 70.7h1.0M86.4 67.6h1.0M123.6 79.0h1.0M108.2 56.0h1.0M102.9 71.8h1.0M101.9 73.3h1.0M98.6 72.0h1.0M121.8 59.1h1.0M108.2 67.5h1.0M126.0 61.6h1.0M107.1 61.6h1.0M86.7 73.3h1.0M117.0 63.9h1.0M105.5 65.6h1.0M106.7 73.8h1.0M123.9 57.9h1.0M106.5 72.1h1.0M120.0 61.8h1.0M109.0 71.5h1.0M101.9 70.6h1.0M113.8 69.1h1.0M103.3 63.1h1.0M120.7 60.5h1.0M118.1 60.5h1.0M109.6 69.5h1.0M114.8 72.3h1.0M114.4 74.7h1.0M106.4 65.6h1.0M117.5 67.1h1.0M106.8 57.9h1.0M114.9 51.9h1.0M100.0 64.6h1.0M110.0 63.7h1.0M113.0 56.9h1.0M101.5 58.0h1.0M105.1 73.0h1.0M104.0 64.1h1.0M115.9 55.3h1.0M102.2 85.9h1.0M113.2 68.6h1.0M123.5 62.9h1.0M112.4 72.3h1.0M93.7 66.7h1.0M110.2 79.0h1.0M118.9 55.6h1.0M106.3 60.0h1.0M119.6 65.0h1.0M114.9 61.8h1.0M113.1 77.1h1.0M106.6 57.9h1.0M104.2 64.4h1.0M106.6 70.5h1.0M109.7 72.0h1.0M114.1 74.0h1.0M113.1 69.7h1.0M106.2 84.0h1.0M109.7 64.9h1.0M112.8 68.6h1.0M93.7 77.6h1.0M101.8 67.8h1.0M101.5 68.0h1.0M107.2 65.5h1.0M106.5 64.4h1.0M106.7 61.1h1.0M100.8 66.3h1.0M115.5 56.2h1.0M111.8 70.2h1.0M93.5 60.9h1.0M109.3 82.3h1.0M98.4 82.3h1.0M125.3 72.1h1.0M104.8 67.7h1.0M105.4 65.0h1.0M109.9 76.4h1.0M107.2 69.8h1.0M108.6 72.1h1.0M123.9 59.9h1.0M111.3 75.0h1.0M117.1 60.9h1.0M119.9 66.4h1.0M99.9 58.4h1.0M125.2 60.0h1.0M115.7 70.1h1.0M118.3 63.0h1.0M101.0 66.9h1.0M116.9 71.8h1.0M113.1 66.7h1.0M104.1 77.8h1.0M130.9 46.7h1.0M114.6 70.8h1.0M106.9 72.1h1.0M111.0 57.1h1.0M117.8 57.3h1.0M119.9 71.7h1.0M114.7 59.6h1.0M120.7 61.1h1.0M95.9 68.9h1.0M87.6 66.8h1.0M94.8 79.5h1.0M82.8 71.7h1.0M93.2 72.2h1.0M100.2 71.5h1.0M93.4 69.2h1.0M70.9 92.0h1.0M96.4 70.5h1.0M91.0 77.3h1.0M82.4 67.2h1.0M103.0 69.1h1.0M74.9 76.9h1.0M107.3 69.4h1.0M84.8 72.5h1.0M104.6 73.7h1.0M90.1 88.5h1.0M78.6 77.6h1.0M91.4 74.5h1.0M93.5 72.0h1.0M95.4 95.2h1.0M100.0 86.6h1.0M82.5 82.3h1.0M94.9 80.5h1.0M97.1 68.6h1.0M88.1 75.2h1.0M82.1 79.5h1.0M81.9 78.8h1.0M97.2 67.3h1.0M97.7 67.9h1.0M83.1 81.8h1.0M78.5 81.2h1.0M101.6 56.2h1.0M76.6 79.9h1.0M91.9 85.8h1.0M83.3 72.4h1.0M74.8 81.5h1.0M91.6 63.9h1.0M88.8 83.0h1.0M103.4 63.8h1.0M110.9 61.0h1.0M88.8 73.7h1.0M99.7 92.8h1.0M99.9 68.7h1.0M85.8 66.8h1.0M82.7 81.4h1.0M104.9 74.3h1.0M87.2 90.0h1.0M90.3 65.7h1.0M87.9 63.6h1.0M89.3 73.6h1.0M85.1 80.2h1.0M97.2 77.2h1.0M101.7 82.0h1.0M87.2 64.6h1.0M78.1 72.1h1.0M90.9 74.7h1.0M77.2 85.8h1.0M84.8 81.1h1.0M101.5 69.9h1.0M111.3 62.7h1.0M93.9 82.2h1.0M81.0 85.8h1.0M97.5 96.1h1.0M70.4 79.2h1.0M84.3 90.4h1.0M104.1 62.9h1.0M97.2 69.9h1.0M78.1 73.3h1.0M75.6 75.7h1.0M98.2 67.0h1.0M90.1 71.6h1.0M85.2 76.7h1.0M94.2 71.4h1.0M85.4 82.4h1.0M73.3 79.3h1.0M97.7 74.2h1.0M84.7 89.1h1.0M81.5 80.5h1.0M78.6 79.9h1.0M92.7 75.2h1.0M83.3 78.1h1.0M96.1 79.2h1.0M88.1 70.0h1.0M100.2 82.8h1.0M87.0 89.4h1.0M84.6 86.6h1.0M72.9 76.1h1.0M80.7 65.4h1.0M96.9 70.8h1.0M117.9 70.7h1.0M79.3 85.2h1.0M81.2 76.6h1.0M93.5 72.7h1.0M94.8 87.1h1.0M84.4 71.9h1.0M91.2 84.3h1.0M76.1 86.6h1.0M87.8 65.8h1.0M98.6 76.2h1.0M105.1 67.9h1.0M89.0 68.6h1.0M88.2 61.5h1.0M94.6 62.3h1.0M100.4 76.9h1.0M94.9 71.7h1.0M83.8 79.7h1.0M93.7 66.6h1.0M99.2 71.2h1.0M84.1 75.2h1.0M78.5 66.2h1.0M95.1 61.4h1.0M93.8 78.7h1.0M99.2 75.0h1.0M91.3 68.2h1.0M84.7 76.4h1.0M86.6 82.1h1.0M81.3 92.8h1.0M82.0 70.7h1.0M85.5 82.0h1.0M86.2 94.0h1.0M100.5 74.0h1.0M79.5 90.3h1.0M90.1 55.1h1.0M85.3 88.8h1.0M103.9 72.6h1.0M92.9 60.2h1.0M87.2 82.9h1.0M97.8 82.6h1.0M91.1 85.5h1.0M86.3 86.5h1.0M104.3 72.4h1.0M96.9 68.3h1.0M106.0 68.5h1.0M100.9 73.1h1.0M97.5 77.5h1.0M91.8 71.7h1.0M80.9 78.5h1.0M96.9 81.4h1.0M91.2 78.3h1.0M96.6 92.9h1.0M90.5 93.3h1.0M84.4 68.0h1.0M81.6 73.4h1.0M96.9 63.8h1.0M102.2 63.7h1.0M88.0 80.9h1.0M94.7 66.9h1.0M103.0 64.5h1.0M83.1 75.4h1.0M87.6 83.0h1.0M80.6 75.3h1.0M101.2 70.5h1.0M93.0 82.7h1.0M86.5 80.6h1.0M75.8 83.0h1.0M89.0 83.9h1.0M99.5 65.6h1.0M88.0 78.2h1.0M86.8 71.6h1.0M96.4 82.8h1.0M79.6 85.0h1.0M91.1 67.3h1.0M96.0 85.4h1.0M83.7 68.0h1.0M83.2 87.1h1.0M92.9 77.0h1.0M89.8 69.0h1.0M88.5 67.3h1.0M92.5 72.9h1.0M92.6 75.2h1.0M82.4 72.0h1.0M84.7 81.8h1.0M94.7 63.6h1.0M100.7 73.4h1.0M102.8 73.0h1.0M83.1 62.5h1.0M100.4 76.0h1.0M97.4 64.0h1.0M90.4 55.7h1.0M95.0 69.8h1.0M98.1 72.2h1.0M106.6 79.4h1.0M81.3 74.1h1.0M96.1 86.5h1.0M89.4 87.8h1.0M88.8 85.1h1.0M100.9 84.1h1.0M98.0 76.9h1.0M81.6 73.5h1.0M88.2 81.7h1.0M92.7 83.2h1.0M78.1 80.7h1.0M98.4 72.0h1.0M90.0 63.3h1.0M92.2 81.0h1.0M93.7 78.0h1.0M106.8 61.5h1.0M91.0 76.6h1.0M87.5 82.4h1.0M106.2 71.3h1.0M86.2 83.2h1.0M86.0 83.0h1.0M78.4 66.8h1.0M100.4 71.1h1.0M93.1 79.2h1.0M94.9 82.3h1.0M92.2 86.9h1.0M89.5 60.5h1.0M83.7 76.9h1.0M83.8 83.3h1.0M94.6 84.8h1.0M91.8 89.3h1.0M105.3 64.8h1.0M84.0 74.4h1.0M86.4 68.3h1.0M81.7 84.6h1.0M103.0 62.2h1.0M79.8 88.0h1.0M97.6 81.8h1.0M103.5 76.7h1.0M89.5 58.5h1.0M97.2 68.8h1.0M71.8 86.4h1.0M87.3 65.1h1.0M76.0 77.3h1.0M92.3 74.6h1.0M90.8 83.0h1.0M83.9 79.7h1.0M99.2 76.1h1.0M93.9 71.5h1.0M86.1 76.9h1.0M86.2 75.8h1.0M77.7 84.8h1.0M89.1 74.7h1.0M109.6 79.8h1.0M84.4 63.5h1.0M94.5 84.7h1.0M85.9 75.6h1.0M97.9 83.3h1.0M94.7 75.6h1.0M88.7 83.2h1.0M74.9 91.7h1.0M86.2 72.4h1.0M101.4 73.9h1.0M88.6 74.9h1.0M96.4 76.2h1.0M86.5 63.6h1.0M74.2 78.3h1.0M94.6 72.9h1.0M93.6 68.7h1.0M85.6 75.4h1.0M87.5 64.0h1.0M93.4 86.5h1.0M85.5 80.7h1.0M93.9 90.4h1.0M89.0 69.1h1.0M69.8 71.2h1.0M89.5 78.4h1.0M85.5 63.5h1.0M83.3 79.4h1.0M94.4 69.2h1.0M86.4 74.1h1.0M95.6 76.7h1.0M100.5 73.8h1.0M92.1 90.6h1.0M77.0 84.2h1.0M84.3 66.8h1.0M98.9 81.8h1.0M88.5 65.4h1.0M83.6 78.2h1.0M90.0 65.8h1.0M95.3 68.0h1.0M93.1 85.9h1.0M96.5 69.9h1.0M83.5 72.2h1.0M88.4 71.8h1.0M88.6 73.7h1.0M90.6 87.5h1.0M72.2 70.6h1.0M88.7 66.2h1.0M78.9 83.3h1.0M103.2 59.8h1.0M104.7 69.5h1.0M105.8 81.4h1.0M98.0 74.0h1.0M86.5 72.8h1.0M99.4 67.9h1.0M89.0 68.7h1.0M96.3 69.6h1.0M82.8 78.7h1.0M85.6 87.1h1.0M95.0 82.6h1.0M106.6 67.4h1.0M90.6 69.8h1.0M110.9 76.6h1.0M115.4 55.1h1.0M79.4 74.8h1.0M90.6 73.1h1.0M82.4 68.6h1.0M89.6 67.9h1.0M86.1 79.6h1.0M90.3 62.3h1.0M99.4 66.2h1.0M99.2 68.4h1.0M93.2 75.7h1.0M90.9 64.5h1.0M91.9 84.2h1.0M92.0 72.8h1.0M96.0 72.3h1.0M90.9 72.6h1.0M95.3 69.0h1.0M79.2 70.3h1.0M97.9 83.2h1.0M106.4 73.5h1.0M92.5 74.3h1.0M78.3 86.6h1.0M102.9 66.9h1.0M87.9 81.3h1.0M64.3 82.0h1.0M88.9 68.7h1.0M96.3 80.4h1.0M94.3 62.6h1.0M101.9 78.2h1.0M96.4 67.0h1.0M92.0 78.5h1.0M73.3 90.8h1.0M81.0 82.4h1.0M92.5 70.2h1.0M96.9 73.8h1.0M81.7 74.6h1.0M85.4 67.2h1.0M95.1 65.5h1.0M73.9 79.8h1.0M73.6 83.9h1.0M88.8 61.6h1.0M93.1 74.3h1.0M86.6 80.5h1.0M70.5 81.1h1.0M91.1 67.2h1.0M79.1 86.6h1.0M96.7 64.1h1.0M90.0 80.8h1.0M93.2 87.8h1.0M96.6 57.5h1.0M86.2 78.5h1.0M98.3 76.1h1.0M102.0 74.5h1.0M94.4 68.3h1.0M102.7 70.0h1.0M85.3 65.3h1.0M99.1 74.5h1.0M93.3 79.1h1.0M82.1 72.0h1.0M90.2 68.0h1.0M86.2 72.6h1.0M86.0 76.4h1.0M91.7 75.6h1.0M100.4 72.2h1.0M88.1 76.5h1.0M92.0 64.4h1.0M77.8 56.3h1.0M91.8 80.0h1.0M101.2 84.3h1.0M98.1 62.1h1.0M95.1 68.9h1.0M86.2 78.8h1.0M82.2 85.0h1.0M90.1 80.7h1.0M79.0 88.4h1.0M79.9 77.4h1.0M99.3 76.6h1.0M82.7 80.5h1.0M106.9 68.0h1.0M78.2 87.9h1.0M94.7 79.4h1.0M80.5 85.6h1.0M92.5 71.7h1.0M81.6 85.7h1.0M91.3 66.6h1.0M89.5 78.7h1.0M86.9 55.1h1.0M95.5 66.0h1.0M104.3 78.0h1.0M85.6 72.8h1.0M98.8 74.8h1.0M91.7 62.0h1.0M90.6 87.8h1.0M110.4 75.4h1.0M71.5 79.6h1.0M84.8 80.0h1.0M74.8 81.7h1.0M88.1 87.3h1.0M88.9 77.4h1.0M124.9 55.3h1.0M94.0 72.4h1.0M106.9 81.8h1.0M102.5 77.1h1.0M87.0 72.7h1.0M95.2 79.1h1.0M105.8 72.6h1.0M92.4 79.7h1.0M92.8 62.0h1.0M95.4 66.9h1.0M77.5 83.7h1.0M83.7 75.1h1.0M93.9 77.3h1.0M95.8 89.8h1.0M82.7 74.6h1.0M88.0 77.8h1.0M89.8 71.0h1.0M89.5 70.5h1.0M97.1 73.1h1.0M91.8 63.3h1.0M92.4 57.9h1.0M78.3 89.2h1.0M81.5 76.6h1.0M93.8 83.6h1.0M76.7 79.5h1.0M93.3 75.8h1.0M85.0 82.0h1.0M83.6 82.7h1.0M96.6 64.2h1.0M84.8 86.4h1.0M83.2 69.2h1.0M84.8 78.3h1.0M91.4 95.6h1.0M115.4 70.1h1.0M71.9 93.1h1.0M90.7 72.5h1.0M88.7 80.7h1.0M99.3 73.6h1.0M87.5 79.4h1.0M68.8 73.6h1.0M102.7 65.0h1.0M81.1 80.2h1.0M90.3 62.8h1.0M78.6 71.3h1.0M81.0 82.7h1.0M86.4 71.3h1.0M98.5 66.3h1.0M98.3 64.6h1.0M85.5 77.7h1.0M95.3 71.3h1.0M87.5 77.2h1.0M91.8 73.5h1.0M92.2 89.8h1.0M96.3 70.4h1.0M85.3 60.8h1.0M89.6 76.5h1.0M92.7 74.8h1.0M91.6 76.3h1.0M83.6 64.0h1.0M106.2 80.7h1.0M86.6 76.0h1.0M97.5 73.3h1.0M92.6 62.1h1.0M101.7 76.5h1.0M71.2 79.3h1.0M109.1 81.8h1.0M88.8 72.4h1.0M79.7 67.9h1.0M91.9 76.0h1.0M110.9 63.2h1.0M95.3 77.5h1.0M79.7 69.2h1.0M86.6 75.2h1.0M102.7 70.6h1.0M78.2 77.9h1.0M89.1 71.5h1.0M88.1 69.4h1.0M110.1 70.2h1.0M88.1 71.2h1.0M102.5 73.7h1.0M84.7 74.5h1.0M83.5 59.0h1.0M99.7 72.6h1.0M96.3 85.1h1.0M75.3 81.3h1.0M96.4 78.7h1.0M96.5 77.5h1.0M85.2 72.8h1.0M92.7 64.1h1.0M93.1 81.2h1.0M86.4 84.7h1.0M85.5 81.0h1.0M84.7 80.1h1.0M88.3 79.0h1.0M78.8 77.8h1.0M90.3 77.5h1.0M77.4 78.5h1.0M91.4 77.7h1.0M90.0 67.9h1.0M81.5 72.4h1.0M98.3 78.0h1.0M108.0 68.5h1.0M102.5 53.2h1.0M78.5 79.1h1.0M102.1 54.4h1.0M92.7 90.0h1.0M90.2 81.1h1.0M85.4 81.9h1.0M90.6 70.0h1.0M103.1 63.4h1.0M95.6 72.5h1.0M87.0 76.3h1.0M84.7 70.6h1.0M87.0 77.4h1.0M95.9 79.5h1.0M107.4 76.1h1.0M81.2 69.3h1.0M90.7 58.2h1.0M87.3 76.1h1.0M84.0 71.7h1.0M94.2 78.0h1.0M95.6 87.1h1.0M78.0 91.3h1.0M81.4 79.8h1.0M101.4 81.6h1.0M93.5 87.6h1.0M95.3 74.6h1.0M86.2 78.5h1.0M87.3 82.9h1.0M94.8 74.1h1.0M86.3 72.5h1.0M80.8 71.8h1.0M90.7 75.4h1.0M98.8 68.6h1.0M81.5 83.8h1.0M100.1 70.5h1.0M97.0 85.4h1.0M83.0 86.7h1.0M90.8 65.6h1.0M90.3 84.0h1.0M96.3 70.9h1.0M96.6 84.8h1.0M79.1 82.2h1.0M78.7 77.9h1.0M99.9 78.5h1.0M91.7 70.8h1.0M94.4 77.1h1.0M93.7 77.8h1.0M104.3 71.1h1.0M79.9 81.0h1.0M100.4 65.3h1.0M83.4 81.6h1.0M97.2 64.4h1.0M102.6 77.5h1.0M78.4 82.1h1.0M94.3 80.2h1.0M88.2 71.7h1.0M88.1 99.9h1.0M91.1 73.6h1.0M81.3 78.9h1.0M82.1 71.6h1.0M96.5 85.4h1.0M98.2 70.1h1.0M85.6 84.5h1.0M77.7 71.2h1.0M111.3 73.1h1.0M100.5 70.3h1.0M93.9 82.1h1.0M81.5 75.5h1.0M85.5 70.1h1.0M92.9 78.6h1.0M82.2 68.3h1.0M104.9 64.8h1.0M91.9 81.3h1.0M94.2 60.2h1.0M81.5 83.7h1.0M82.6 74.4h1.0M83.7 70.1h1.0M93.1 77.0h1.0M88.3 81.1h1.0M88.1 71.7h1.0M93.5 73.6h1.0M92.7 81.4h1.0M103.9 78.4h1.0M88.9 75.7h1.0M81.7 71.8h1.0M90.6 68.3h1.0M103.7 68.0h1.0M85.8 82.2h1.0M91.1 80.1h1.0M87.5 78.8h1.0M94.3 85.7h1.0M93.0 72.9h1.0M83.5 74.5h1.0M88.7 73.2h1.0M99.0 88.7h1.0M100.4 57.5h1.0M98.9 76.1h1.0M98.3 77.4h1.0M87.7 77.0h1.0M87.5 94.7h1.0M98.9 83.0h1.0M80.3 84.2h1.0M90.2 69.0h1.0M74.3 83.6h1.0M87.3 73.7h1.0" stroke="#000" stroke-width="1.0" stroke-opacity="0.5" fill="none"/>
<path d="M72.1 142.6h1.2M73.4 137.8h1.2M67.7 128.4h1.2M77.1 127.5h1.2M85.6 110.8h1.2M80.6 125.0h1.2M73.6 124.0h1.2M55.4 158.0h1.2M81.0 149.2h1.2M80.9 115.6h1.2M70.2 146.2h1.2M67.8 138.0h1.2M77.4 129.5h1.2M65.0 141.4h1.2M78.6 146.0h1.2M62.7 126.9h1.2M64.1 131.0h1.2M72.0 137.2h1.2M59.5 121.1h1.2M71.9 137.5h1.2M76.4 133.8h1.2M60.7 125.4h1.2M79.7 123.1h1.2M67.1 139.2h1.2M112.9 79.4h1.2M101.7 85.5h1.2M77.3 93.2h1.2M110.3 82.4h1.2M98.4 81.6h1.2M107.1 80.9h1.2M118.9 86.8h1.2M76.3 74.5h1.2M92.0 85.5h1.2M82.6 85.8h1.2M76.9 82.4h1.2M136.2 86.3h1.2M114.3 65.2h1.2M58.6 87.4h1.2M103.7 72.7h1.2M83.5 94.0h1.2M118.6 74.6h1.2M96.7 85.3h1.2" stroke="#000" stroke-width="1.2" stroke-opacity="0.27" fill="none"/>
<path d="M210.1 64.0h1.0M200.1 59.3h1.0M210.5 73.8h1.0M204.4 77.8h1.0M206.9 68.0h1.0M207.6 69.2h1.0M212.3 68.2h1.0M211.9 68.0h1.0M217.1 70.6h1.0M209.1 72.7h1.0M205.8 66.9h1.0M205.7 64.5h1.0M211.5 66.1h1.0M216.3 75.5h1.0M209.9 67.0h1.0M205.3 81.0h1.0M209.6 68.3h1.0M209.5 80.1h1.0M208.4 61.4h1.0M204.5 65.3h1.0M195.4 74.5h1.0M205.5 73.9h1.0M213.5 68.6h1.0M209.3 85.1h1.0M197.1 71.4h1.0M208.2 72.3h1.0M198.9 66.6h1.0M218.2 81.6h1.0M209.2 76.4h1.0M202.1 73.6h1.0M212.2 57.9h1.0M204.3 73.1h1.0M211.0 66.5h1.0M208.3 73.0h1.0M202.2 77.3h1.0M211.6 64.4h1.0M201.4 72.2h1.0M215.0 76.1h1.0M208.5 71.3h1.0M203.0 68.1h1.0M199.1 63.0h1.0M216.4 64.7h1.0M215.5 60.3h1.0M201.9 77.8h1.0M216.5 70.3h1.0M209.0 61.2h1.0M207.1 70.2h1.0M207.8 60.7h1.0M206.8 46.2h1.0M215.4 78.5h1.0M209.0 78.7h1.0M198.9 60.0h1.0M218.8 64.2h1.0M212.6 71.3h1.0M202.7 67.7h1.0M206.4 64.0h1.0M203.6 66.7h1.0M208.4 68.4h1.0M210.2 65.9h1.0M209.4 71.6h1.0M205.2 68.6h1.0M204.2 64.8h1.0M212.5 70.0h1.0M207.7 58.0h1.0M219.5 79.9h1.0M204.1 57.7h1.0M212.2 69.2h1.0M208.4 72.6h1.0M204.4 73.4h1.0M215.1 71.6h1.0M208.8 79.3h1.0M203.7 62.2h1.0M206.6 69.7h1.0M213.3 70.8h1.0M202.0 66.9h1.0M215.2 65.3h1.0M211.7 79.3h1.0M206.8 65.0h1.0M215.0 66.1h1.0M217.0 67.5h1.0M211.2 68.3h1.0M209.1 71.2h1.0M217.5 68.0h1.0M215.7 72.3h1.0M203.5 71.4h1.0M207.2 73.7h1.0M207.1 80.2h1.0M206.1 64.1h1.0M200.6 82.6h1.0M212.8 66.5h1.0M208.6 74.9h1.0M208.7 71.2h1.0M215.3 67.4h1.0M205.3 56.0h1.0M207.9 81.8h1.0M209.6 64.5h1.0M206.0 64.5h1.0M207.6 77.9h1.0M212.1 70.4h1.0M208.2 83.9h1.0M214.9 81.9h1.0M204.4 75.5h1.0M209.2 71.8h1.0M201.0 76.1h1.0M207.6 60.5h1.0M204.6 71.6h1.0M215.1 70.7h1.0M212.0 66.4h1.0M210.8 71.7h1.0M217.6 58.8h1.0M215.5 76.1h1.0M211.8 79.2h1.0M204.7 60.9h1.0M200.9 71.6h1.0M208.0 81.3h1.0M206.4 73.2h1.0M204.9 62.8h1.0M206.7 63.0h1.0M199.8 76.8h1.0M215.8 82.9h1.0M202.4 62.6h1.0M204.8 70.6h1.0M211.1 64.2h1.0M199.9 68.6h1.0M212.9 72.0h1.0M213.0 69.4h1.0M206.6 65.2h1.0M202.7 85.7h1.0M205.8 69.1h1.0M198.8 69.4h1.0M215.3 77.6h1.0M208.5 70.1h1.0M204.4 68.8h1.0M203.6 77.2h1.0M211.1 62.4h1.0M215.9 74.9h1.0M201.7 77.9h1.0M205.3 75.0h1.0M199.2 69.4h1.0M211.6 69.8h1.0M209.0 57.6h1.0M219.7 68.3h1.0M207.6 72.2h1.0M206.0 76.5h1.0M204.6 71.3h1.0M212.6 66.9h1.0M199.9 64.5h1.0M212.0 69.5h1.0M209.5 70.9h1.0M205.6 79.0h1.0M203.6 70.4h1.0M213.6 66.1h1.0M217.7 68.6h1.0M205.9 66.7h1.0M210.9 68.2h1.0M217.1 53.5h1.0M205.0 58.8h1.0M206.9 61.5h1.0M202.0 73.8h1.0M207.4 69.5h1.0M207.8 71.1h1.0M206.1 78.6h1.0M204.4 62.8h1.0M200.1 78.8h1.0M201.3 73.3h1.0M203.2 65.2h1.0M211.5 80.5h1.0M205.6 59.9h1.0M203.8 62.2h1.0M211.6 68.3h1.0M211.1 72.8h1.0M204.3 68.9h1.0M205.0 54.9h1.0M211.6 67.6h1.0M210.1 69.3h1.0M203.9 88.7h1.0M209.4 79.8h1.0M208.0 70.9h1.0M213.9 61.8h1.0M203.7 72.8h1.0M212.7 61.3h1.0M210.4 71.3h1.0M203.0 73.0h1.0M213.6 66.8h1.0M212.9 71.5h1.0M201.4 68.1h1.0M218.4 65.2h1.0M202.3 81.5h1.0M203.5 74.5h1.0M206.5 67.9h1.0M212.2 64.2h1.0M211.2 71.1h1.0M207.7 74.1h1.0M215.2 75.7h1.0M210.3 80.5h1.0M215.4 72.9h1.0M222.7 61.0h1.0M209.2 84.6h1.0M194.9 79.3h1.0M205.9 76.2h1.0M202.6 80.0h1.0M208.7 59.3h1.0M208.7 67.3h1.0M201.8 66.8h1.0M202.2 79.0h1.0M206.8 61.6h1.0M207.2 67.8h1.0M194.7 81.8h1.0M213.2 74.3h1.0M208.4 67.2h1.0M208.1 83.5h1.0M209.7 60.3h1.0M202.9 73.6h1.0M207.9 68.4h1.0M213.6 73.3h1.0M213.8 67.6h1.0M210.6 63.8h1.0M206.7 71.6h1.0M203.9 60.8h1.0M215.1 73.3h1.0M210.9 67.5h1.0M206.0 76.8h1.0M196.9 67.5h1.0M203.6 65.5h1.0M198.1 73.5h1.0M214.7 78.4h1.0M209.2 55.0h1.0M204.3 71.1h1.0M206.7 74.6h1.0M221.8 58.9h1.0M214.6 63.2h1.0M201.1 75.1h1.0M207.5 64.1h1.0M201.7 65.8h1.0M199.1 82.9h1.0M209.1 63.1h1.0M220.9 62.9h1.0M216.4 52.8h1.0M208.4 62.1h1.0M206.2 61.3h1.0M209.3 82.2h1.0M213.7 78.4h1.0M200.5 61.4h1.0M198.3 84.8h1.0M218.2 74.8h1.0M209.7 68.6h1.0M216.7 75.2h1.0M209.5 72.6h1.0M216.0 63.9h1.0M205.0 57.5h1.0M210.8 63.3h1.0M216.4 69.4h1.0M213.6 67.0h1.0M205.8 64.8h1.0M213.0 76.7h1.0M204.7 62.6h1.0M200.6 76.9h1.0M211.0 66.3h1.0M215.7 70.2h1.0M212.7 61.6h1.0M201.5 70.4h1.0M212.8 64.0h1.0M211.8 57.2h1.0M205.7 70.0h1.0M194.9 70.5h1.0M213.6 75.5h1.0M212.9 71.7h1.0M210.9 62.5h1.0M198.9 66.2h1.0M200.2 52.6h1.0M213.6 61.5h1.0M212.5 79.0h1.0M210.8 80.7h1.0M206.9 75.5h1.0M210.3 72.0h1.0M205.3 74.4h1.0M206.5 73.6h1.0M203.6 57.8h1.0M209.6 63.6h1.0M206.0 78.6h1.0M213.3 78.1h1.0M212.1 71.4h1.0M203.8 68.0h1.0M218.1 66.5h1.0M202.2 66.4h1.0M210.6 63.1h1.0M214.0 55.7h1.0M215.1 70.5h1.0M196.3 67.5h1.0M213.6 68.0h1.0M214.8 81.8h1.0M215.9 73.7h1.0M196.2 65.7h1.0M204.6 74.4h1.0M207.7 59.1h1.0M205.8 77.7h1.0M215.4 71.3h1.0M204.5 68.8h1.0M214.8 73.6h1.0M211.2 80.2h1.0M200.4 67.1h1.0M202.9 63.2h1.0M205.7 85.3h1.0M208.7 70.0h1.0M213.6 80.3h1.0M207.2 65.1h1.0M213.1 72.3h1.0M199.7 65.9h1.0M191.7 75.6h1.0M206.4 68.1h1.0M210.7 64.9h1.0M206.2 81.3h1.0M202.7 72.8h1.0M210.5 55.1h1.0M218.6 67.5h1.0M207.6 63.4h1.0M204.3 61.4h1.0M203.6 66.0h1.0M218.8 65.8h1.0M208.0 70.2h1.0M211.5 64.0h1.0M214.8 56.0h1.0M214.0 65.7h1.0M203.2 76.6h1.0M213.4 59.7h1.0M212.8 74.1h1.0M210.8 73.1h1.0M213.7 66.3h1.0M205.2 72.4h1.0M207.8 64.5h1.0M205.4 67.2h1.0M212.3 62.3h1.0M204.7 73.5h1.0M210.3 79.7h1.0M202.3 65.4h1.0M207.5 78.6h1.0M206.2 54.6h1.0M207.6 63.5h1.0M208.9 62.5h1.0M207.2 82.4h1.0M207.0 65.7h1.0M197.0 76.3h1.0M214.2 54.7h1.0M204.8 71.0h1.0M206.9 74.1h1.0M203.7 69.9h1.0M213.6 49.8h1.0M203.3 71.5h1.0M210.9 75.6h1.0M214.6 79.1h1.0M217.1 72.2h1.0M214.6 57.2h1.0M211.5 68.2h1.0M201.7 76.9h1.0M215.2 63.5h1.0M214.6 73.6h1.0M212.7 66.1h1.0M212.5 70.3h1.0M208.6 75.4h1.0M205.4 64.9h1.0M214.1 90.3h1.0M215.1 70.5h1.0M202.6 72.8h1.0M213.2 64.2h1.0M209.6 70.3h1.0M213.0 67.6h1.0M209.7 59.2h1.0M214.2 58.4h1.0M213.8 71.6h1.0M213.0 68.9h1.0M200.8 51.3h1.0M212.7 54.0h1.0M208.5 67.6h1.0M202.2 69.8h1.0M212.1 74.1h1.0M200.9 61.4h1.0M213.1 73.9h1.0M217.4 67.0h1.0M205.6 66.4h1.0M213.2 68.5h1.0M210.7 76.9h1.0M211.8 73.7h1.0M201.0 76.9h1.0M211.6 64.7h1.0M209.0 67.8h1.0M212.3 61.1h1.0M208.4 65.9h1.0M214.2 66.6h1.0M209.8 66.4h1.0M212.0 74.8h1.0M215.7 72.5h1.0M209.3 75.4h1.0M213.7 70.5h1.0M209.6 77.6h1.0M211.1 70.5h1.0M205.5 77.1h1.0M212.5 73.3h1.0M214.9 74.8h1.0M207.9 69.4h1.0M212.6 60.6h1.0M210.6 59.2h1.0M202.5 84.6h1.0M210.2 72.6h1.0M215.4 72.6h1.0M205.8 68.8h1.0M198.9 67.2h1.0M209.5 90.8h1.0M204.9 62.0h1.0M218.5 68.7h1.0M208.2 69.5h1.0M208.4 61.6h1.0M205.0 60.8h1.0M209.7 64.7h1.0M205.4 67.6h1.0M203.6 66.7h1.0M208.1 75.8h1.0M204.1 61.6h1.0M215.4 72.4h1.0M202.2 81.0h1.0M208.0 76.4h1.0M204.7 61.8h1.0M201.1 48.9h1.0M217.2 75.5h1.0M197.2 74.3h1.0M216.1 65.1h1.0M200.9 79.7h1.0M208.9 66.9h1.0M220.4 69.9h1.0M197.1 63.1h1.0M201.1 72.7h1.0M215.3 66.3h1.0M209.3 66.2h1.0M205.5 78.0h1.0M208.2 71.5h1.0M203.3 59.3h1.0M209.0 74.9h1.0M216.3 75.5h1.0M206.4 64.0h1.0M209.1 67.0h1.0M214.8 69.8h1.0M218.9 67.4h1.0M205.3 71.0h1.0M210.0 74.5h1.0M205.4 66.5h1.0M205.0 85.3h1.0M206.3 64.8h1.0M205.0 66.2h1.0M199.2 84.9h1.0M197.9 88.0h1.0M204.5 70.4h1.0M209.1 68.5h1.0M214.8 61.6h1.0M205.6 78.4h1.0M207.5 71.2h1.0M211.9 63.5h1.0M212.3 72.6h1.0M207.8 79.9h1.0M208.1 74.9h1.0M218.3 85.3h1.0M206.6 78.5h1.0M205.8 73.3h1.0M199.8 70.2h1.0M210.7 73.7h1.0M207.0 78.9h1.0M218.5 75.5h1.0M206.6 77.7h1.0M212.7 71.2h1.0M213.3 75.1h1.0M217.1 78.2h1.0M201.5 69.1h1.0M216.7 59.9h1.0M208.5 82.5h1.0M207.8 74.2h1.0M206.8 66.8h1.0M206.3 71.7h1.0M206.6 68.2h1.0M196.1 58.3h1.0M211.1 68.4h1.0M208.7 59.5h1.0M203.4 71.7h1.0M208.1 69.1h1.0M220.5 77.3h1.0M210.4 68.9h1.0M206.3 72.8h1.0M217.4 67.1h1.0M204.2 67.4h1.0M207.6 59.8h1.0M205.5 77.3h1.0M207.1 71.2h1.0M212.2 65.4h1.0M211.4 71.2h1.0M204.5 67.1h1.0M207.7 64.7h1.0M208.8 71.7h1.0M206.2 78.9h1.0M208.2 67.9h1.0M204.6 59.8h1.0M204.5 65.7h1.0M208.6 83.0h1.0M202.9 64.3h1.0M210.6 78.4h1.0M207.4 68.2h1.0M203.5 75.6h1.0M205.1 69.3h1.0M205.9 58.6h1.0M207.5 66.9h1.0M209.0 85.2h1.0M207.3 69.0h1.0M203.8 74.3h1.0M215.9 66.9h1.0M213.1 68.6h1.0M208.9 72.2h1.0M213.4 73.0h1.0M210.1 86.0h1.0M207.0 69.9h1.0M208.8 68.6h1.0M222.4 64.1h1.0M213.6 60.0h1.0M213.8 57.8h1.0M206.3 74.9h1.0M211.5 56.1h1.0M220.2 79.3h1.0M210.6 76.0h1.0M214.0 67.4h1.0M215.0 61.0h1.0M211.7 69.9h1.0M216.6 69.5h1.0M209.6 78.0h1.0M211.0 64.3h1.0M205.1 67.4h1.0M222.2 68.6h1.0M210.0 67.8h1.0M208.9 65.3h1.0M215.6 56.9h1.0M205.8 58.1h1.0M208.3 65.0h1.0M204.3 68.6h1.0M208.5 77.2h1.0M206.3 86.9h1.0M211.2 82.2h1.0M207.7 72.8h1.0M205.2 83.8h1.0M206.8 69.2h1.0M207.7 66.1h1.0M205.7 87.0h1.0M213.3 61.8h1.0M211.9 66.7h1.0M209.1 67.9h1.0M202.1 81.0h1.0M211.1 65.4h1.0M201.7 76.1h1.0M209.3 66.9h1.0M208.6 61.0h1.0M205.3 71.8h1.0M204.0 71.4h1.0M204.7 61.7h1.0M219.1 62.9h1.0M207.0 64.2h1.0M207.3 77.0h1.0M213.4 72.9h1.0M210.5 71.5h1.0M213.9 73.1h1.0M201.9 66.9h1.0M202.7 73.8h1.0M208.1 60.2h1.0M206.8 64.9h1.0M209.2 71.4h1.0M213.5 70.2h1.0M202.1 78.1h1.0M209.8 57.5h1.0M208.2 68.3h1.0M211.9 72.6h1.0M209.2 62.9h1.0M205.6 71.9h1.0M203.8 67.3h1.0M195.7 62.6h1.0M213.4 77.8h1.0M200.7 60.3h1.0M206.2 77.4h1.0M217.0 66.3h1.0M206.2 63.2h1.0M211.5 63.3h1.0M207.2 64.6h1.0M212.0 63.5h1.0M208.5 71.9h1.0M205.7 56.5h1.0M215.4 78.5h1.0M207.0 76.1h1.0M201.4 80.5h1.0M206.6 62.9h1.0M211.1 52.9h1.0M202.6 65.8h1.0M212.4 68.4h1.0M212.3 71.9h1.0M219.4 65.4h1.0M205.0 69.6h1.0M211.8 70.8h1.0M199.7 59.3h1.0M206.2 83.3h1.0M208.9 61.7h1.0M210.5 71.7h1.0M208.1 77.8h1.0M207.9 64.3h1.0M205.2 70.2h1.0M206.0 82.0h1.0M209.9 67.8h1.0M211.2 77.4h1.0M211.7 71.9h1.0M213.5 71.3h1.0M214.5 74.8h1.0M199.0 68.9h1.0M205.6 68.6h1.0M207.5 77.0h1.0M205.0 72.1h1.0M213.8 73.2h1.0M212.2 61.0h1.0M207.8 70.1h1.0M209.0 78.8h1.0M214.9 76.1h1.0M206.5 72.6h1.0M206.7 66.3h1.0M213.0 65.2h1.0M210.8 73.0h1.0M215.7 79.8h1.0M210.3 70.2h1.0M212.2 79.2h1.0M205.5 68.0h1.0M203.5 79.1h1.0M208.3 62.7h1.0M194.6 72.3h1.0M210.5 62.1h1.0M213.4 74.5h1.0M208.7 74.1h1.0M207.2 63.2h1.0M214.0 64.2h1.0M208.1 66.8h1.0M213.4 58.8h1.0M219.7 62.5h1.0M212.1 63.5h1.0M213.2 75.4h1.0M210.9 79.9h1.0M209.6 66.7h1.0M209.8 67.8h1.0M208.7 71.5h1.0M213.9 65.8h1.0M200.0 68.5h1.0M207.0 76.2h1.0M211.7 71.4h1.0M204.0 69.7h1.0M207.8 65.9h1.0M204.8 81.0h1.0M210.6 65.4h1.0M212.8 70.6h1.0M215.9 62.0h1.0M210.9 65.5h1.0M204.6 70.9h1.0M209.6 67.0h1.0M211.3 73.7h1.0M215.6 70.0h1.0M197.3 60.7h1.0M210.3 53.1h1.0M198.9 77.9h1.0M212.0 65.5h1.0M210.6 80.6h1.0M210.9 69.9h1.0M212.9 64.1h1.0M210.3 73.9h1.0M205.0 68.2h1.0M210.2 70.0h1.0M214.5 62.8h1.0M207.7 74.7h1.0M208.5 78.0h1.0M202.1 66.6h1.0M214.3 82.6h1.0M205.7 66.0h1.0M204.5 72.1h1.0M206.0 58.2h1.0M203.9 56.3h1.0M207.0 85.4h1.0M214.9 79.9h1.0M212.4 78.1h1.0M215.7 57.1h1.0M216.0 71.1h1.0M203.7 73.4h1.0M210.8 70.4h1.0M216.1 71.6h1.0M220.2 62.5h1.0M201.0 69.3h1.0M201.0 62.2h1.0M210.8 67.3h1.0M206.6 72.8h1.0M203.2 64.6h1.0M210.3 67.8h1.0M204.3 67.1h1.0M196.6 70.9h1.0M208.2 76.7h1.0M209.0 71.7h1.0M211.6 72.6h1.0M213.2 59.2h1.0M209.3 67.3h1.0M207.1 76.0h1.0M204.9 63.9h1.0M199.8 67.4h1.0M206.1 63.1h1.0M213.5 79.3h1.0M211.7 66.5h1.0M218.9 63.9h1.0M207.5 74.5h1.0M199.1 78.6h1.0M212.6 73.3h1.0M213.7 76.8h1.0M202.3 71.9h1.0M200.0 69.6h1.0M209.1 66.7h1.0M212.0 66.0h1.0M202.5 66.0h1.0M206.6 72.8h1.0M204.3 69.4h1.0M202.2 71.0h1.0M201.5 74.8h1.0M209.0 69.5h1.0M206.4 60.1h1.0M204.8 64.4h1.0M194.9 62.7h1.0M217.3 55.5h1.0M203.4 71.0h1.0M207.6 61.3h1.0M202.4 61.0h1.0M210.2 62.0h1.0M200.5 76.8h1.0M208.8 67.6h1.0M207.3 77.3h1.0M213.0 69.0h1.0M202.6 67.2h1.0M204.9 74.3h1.0M207.1 74.4h1.0M219.1 70.0h1.0M200.7 62.9h1.0M209.8 66.5h1.0M204.9 61.6h1.0M209.9 67.9h1.0M211.6 70.4h1.0M209.0 80.7h1.0M209.6 80.1h1.0M209.7 74.8h1.0M205.2 77.1h1.0M207.1 71.7h1.0M199.7 90.7h1.0M206.4 81.2h1.0M204.3 89.5h1.0M206.9 72.8h1.0M212.1 72.7h1.0M210.2 77.5h1.0M210.7 71.1h1.0M213.9 71.8h1.0M196.0 63.6h1.0M210.5 76.6h1.0M208.1 70.9h1.0M207.7 75.8h1.0M201.5 68.8h1.0M211.1 56.8h1.0M214.2 73.2h1.0M213.5 78.0h1.0M207.8 60.6h1.0M211.5 62.6h1.0M213.0 67.4h1.0M217.6 67.5h1.0M214.6 57.1h1.0M209.0 82.7h1.0M208.7 77.2h1.0M209.1 65.4h1.0M209.4 56.6h1.0M205.7 72.7h1.0M212.2 84.1h1.0M204.7 76.2h1.0M204.1 78.6h1.0M210.1 62.9h1.0M205.3 71.8h1.0M207.0 59.1h1.0M197.5 85.0h1.0M212.3 73.8h1.0M208.2 54.6h1.0M207.6 56.5h1.0M210.6 73.2h1.0M209.3 70.8h1.0M204.6 67.9h1.0M218.6 73.7h1.0M205.9 84.7h1.0M213.2 72.2h1.0M217.6 56.1h1.0M205.0 69.0h1.0M208.7 60.3h1.0M204.0 64.3h1.0M213.6 71.9h1.0M206.5 68.8h1.0M202.5 62.5h1.0M215.0 69.2h1.0M212.9 63.6h1.0M203.6 74.0h1.0M214.3 67.7h1.0M209.2 72.6h1.0M222.2 67.0h1.0M217.1 74.7h1.0M205.4 69.1h1.0M206.8 69.8h1.0M203.7 66.0h1.0M208.9 70.8h1.0M208.5 56.9h1.0M212.0 89.0h1.0M208.7 64.8h1.0M200.6 71.1h1.0M204.0 66.7h1.0M215.5 65.8h1.0M214.2 72.4h1.0M207.4 66.2h1.0M207.5 66.7h1.0M207.3 59.8h1.0M208.3 63.1h1.0M199.6 61.9h1.0M212.8 82.6h1.0M204.8 60.3h1.0M209.0 61.9h1.0M195.2 72.1h1.0M209.4 80.1h1.0M215.1 57.0h1.0M196.7 59.3h1.0M216.0 70.2h1.0M210.6 72.1h1.0M204.4 59.7h1.0M200.0 57.2h1.0M214.2 62.4h1.0M209.5 75.1h1.0M211.3 69.3h1.0M206.8 75.3h1.0M204.1 69.3h1.0M212.7 69.2h1.0M203.3 74.6h1.0M212.8 68.6h1.0M199.6 72.1h1.0M203.4 63.4h1.0M200.7 65.9h1.0M215.0 72.7h1.0M199.2 68.6h1.0M202.3 64.7h1.0M211.6 74.3h1.0M209.4 73.7h1.0M219.5 68.9h1.0M217.7 63.6h1.0M211.4 76.1h1.0M211.8 87.7h1.0M198.8 64.4h1.0M203.6 58.8h1.0M206.5 64.2h1.0M207.3 63.0h1.0M201.1 61.0h1.0M203.4 61.4h1.0M203.8 76.2h1.0M213.7 75.6h1.0M210.4 80.4h1.0M206.5 75.3h1.0M206.8 66.3h1.0M209.7 77.5h1.0M204.6 65.5h1.0M206.8 67.3h1.0M199.3 61.8h1.0M211.7 78.4h1.0M213.2 76.8h1.0M210.1 66.2h1.0M210.7 67.3h1.0M210.1 69.8h1.0M218.7 70.5h1.0M209.2 75.8h1.0M201.4 70.7h1.0M202.8 73.0h1.0M211.9 58.5h1.0M213.7 67.1h1.0M212.2 56.4h1.0M212.5 82.4h1.0M209.2 79.8h1.0M200.5 75.4h1.0M204.5 78.0h1.0M198.8 84.9h1.0M206.2 76.7h1.0M201.1 58.6h1.0M208.7 68.2h1.0M207.3 52.6h1.0M198.1 64.4h1.0M212.0 60.4h1.0M212.1 69.4h1.0M201.0 73.0h1.0M208.9 62.9h1.0M211.9 67.4h1.0M206.7 71.8h1.0M212.6 68.2h1.0M209.2 68.3h1.0M213.7 51.8h1.0M209.1 66.4h1.0M207.3 75.5h1.0M210.8 71.4h1.0M212.2 58.6h1.0M209.5 67.6h1.0M205.8 71.7h1.0M204.1 62.8h1.0M206.2 74.7h1.0M205.2 64.0h1.0M209.2 67.2h1.0M209.0 68.8h1.0M207.7 85.9h1.0M208.1 67.3h1.0M209.0 65.4h1.0M216.3 74.3h1.0M214.4 65.8h1.0M205.1 71.3h1.0M210.3 53.1h1.0M206.4 71.9h1.0M207.6 69.5h1.0M206.9 60.3h1.0M204.9 79.7h1.0M201.0 68.4h1.0M195.3 69.1h1.0M209.2 60.0h1.0M214.3 57.4h1.0M203.4 65.8h1.0M210.7 58.4h1.0M206.1 73.3h1.0M209.6 75.9h1.0M203.9 65.3h1.0M206.9 58.0h1.0M207.5 66.8h1.0M195.7 62.7h1.0M209.2 70.8h1.0M207.4 71.0h1.0M195.2 67.4h1.0M211.5 69.9h1.0M207.9 77.2h1.0M209.2 82.0h1.0M210.0 65.7h1.0M205.9 75.0h1.0M202.5 68.3h1.0M205.8 62.1h1.0M205.9 79.1h1.0M219.7 71.7h1.0M217.7 70.0h1.0M205.5 72.4h1.0M205.9 68.6h1.0M209.8 61.8h1.0M211.0 82.4h1.0M204.5 76.4h1.0M202.8 71.9h1.0M218.2 76.0h1.0M213.6 78.6h1.0M199.9 68.7h1.0M198.8 74.5h1.0M203.7 67.5h1.0M209.2 74.2h1.0M210.9 67.6h1.0M206.3 87.5h1.0M199.6 67.6h1.0M209.2 73.3h1.0M211.2 72.8h1.0M208.0 67.2h1.0M205.5 76.6h1.0M211.1 68.8h1.0M207.8 66.6h1.0M202.2 70.0h1.0M208.5 64.1h1.0M201.3 78.8h1.0M213.1 73.8h1.0M210.5 76.6h1.0M202.8 60.1h1.0M209.2 71.5h1.0M214.6 63.6h1.0M196.8 71.0h1.0M207.3 78.9h1.0M216.7 70.9h1.0M199.9 68.9h1.0M207.2 77.8h1.0M200.6 77.5h1.0M207.7 83.1h1.0M195.4 56.9h1.0M199.5 72.6h1.0M205.2 66.8h1.0M208.8 63.2h1.0M210.0 70.3h1.0M210.3 61.0h1.0M214.1 52.9h1.0M211.7 62.8h1.0M211.9 67.4h1.0M202.9 83.6h1.0M207.2 64.4h1.0M224.8 60.0h1.0M220.0 54.4h1.0M212.4 66.8h1.0M211.9 67.6h1.0M213.3 70.3h1.0M205.9 59.2h1.0M218.4 63.4h1.0M206.1 53.2h1.0M207.6 70.9h1.0M219.6 57.4h1.0M197.0 50.3h1.0M210.0 77.9h1.0M198.9 73.9h1.0M204.6 72.4h1.0M207.6 72.2h1.0M206.2 62.2h1.0M209.0 77.4h1.0M204.0 62.2h1.0M207.5 83.6h1.0M201.7 71.7h1.0M206.0 56.3h1.0M200.7 76.4h1.0M211.5 83.8h1.0M201.2 68.2h1.0M211.7 77.1h1.0M205.8 68.2h1.0M206.4 65.1h1.0M214.3 50.4h1.0M208.6 78.6h1.0M198.0 67.1h1.0M210.7 72.2h1.0M192.6 62.4h1.0M209.5 62.9h1.0M205.9 77.9h1.0M200.6 67.3h1.0M208.5 66.7h1.0M206.4 60.5h1.0M218.7 70.4h1.0M205.7 75.5h1.0M218.4 65.6h1.0M215.4 67.8h1.0M204.8 60.9h1.0M203.7 80.2h1.0M215.1 64.6h1.0M207.3 68.5h1.0M208.9 81.9h1.0M206.7 68.1h1.0M201.6 58.7h1.0M206.0 63.0h1.0M202.9 67.4h1.0M199.8 83.2h1.0M206.5 71.4h1.0M217.6 67.4h1.0M216.7 75.1h1.0M207.7 79.2h1.0M208.8 64.1h1.0M210.8 80.0h1.0M215.3 75.5h1.0M209.7 72.8h1.0M205.5 52.5h1.0M205.9 71.3h1.0M214.1 79.5h1.0M222.0 66.7h1.0M204.7 86.8h1.0M197.0 71.0h1.0M212.4 61.9h1.0M207.6 74.1h1.0M208.8 71.8h1.0M214.7 75.4h1.0M208.4 68.0h1.0M200.9 79.7h1.0M197.5 66.3h1.0M207.8 70.7h1.0M201.8 61.0h1.0M209.6 63.7h1.0M201.2 71.7h1.0M206.1 65.0h1.0M200.1 66.9h1.0M206.1 68.3h1.0M205.6 71.7h1.0M211.2 75.1h1.0M215.3 74.9h1.0M207.1 77.3h1.0M203.4 71.5h1.0M218.6 65.0h1.0M210.0 57.9h1.0M211.3 67.0h1.0M211.3 63.7h1.0M215.9 55.8h1.0M213.5 81.5h1.0M211.7 56.0h1.0M212.2 72.1h1.0M203.4 74.1h1.0M204.8 68.2h1.0M207.5 88.8h1.0M208.6 69.9h1.0M208.2 64.1h1.0M209.7 82.6h1.0M208.2 63.8h1.0M205.8 59.3h1.0M199.3 62.9h1.0M212.6 64.7h1.0M211.2 69.9h1.0M203.3 72.6h1.0M210.7 58.3h1.0M210.2 72.2h1.0M208.5 86.2h1.0M198.2 65.1h1.0M201.6 69.2h1.0M204.8 75.1h1.0M216.8 78.1h1.0M203.4 65.1h1.0M206.2 62.8h1.0M202.1 62.7h1.0M205.4 78.0h1.0M209.9 76.3h1.0M196.9 54.5h1.0M192.8 55.0h1.0M211.6 60.4h1.0M208.2 58.6h1.0M204.8 73.0h1.0M213.3 71.0h1.0M213.3 83.9h1.0M196.8 76.4h1.0M207.2 70.7h1.0M214.0 78.1h1.0M204.5 63.4h1.0M206.4 59.5h1.0M213.2 69.6h1.0M206.6 76.8h1.0M201.6 58.2h1.0M204.4 76.6h1.0M200.9 76.6h1.0M211.0 65.8h1.0M198.8 71.6h1.0M213.5 67.4h1.0M199.2 70.9h1.0M208.3 75.7h1.0M200.1 64.3h1.0M206.4 77.6h1.0M213.6 75.8h1.0M214.1 76.1h1.0M215.1 54.7h1.0M207.6 56.0h1.0M208.6 74.8h1.0M209.3 65.3h1.0M211.4 64.4h1.0M205.9 64.2h1.0M214.0 59.4h1.0M209.8 67.5h1.0M214.2 64.0h1.0M210.6 64.7h1.0M211.7 73.0h1.0M204.1 61.3h1.0M205.8 78.2h1.0M201.1 53.8h1.0M206.5 88.4h1.0M207.1 59.7h1.0M212.6 73.8h1.0M201.3 77.0h1.0M225.5 68.5h1.0M207.4 75.3h1.0M214.9 68.5h1.0M213.7 56.3h1.0M194.4 73.2h1.0M206.6 78.3h1.0M216.0 65.1h1.0M195.0 58.0h1.0M212.2 65.0h1.0M203.1 72.5h1.0M205.5 72.2h1.0M209.3 77.9h1.0M198.0 74.6h1.0M209.1 73.4h1.0M204.6 55.1h1.0M204.0 86.6h1.0M211.8 69.9h1.0M209.9 67.0h1.0M211.0 68.4h1.0M207.8 70.2h1.0M204.1 81.7h1.0M209.4 80.9h1.0M216.2 73.8h1.0M209.1 84.4h1.0M212.9 66.5h1.0M206.8 73.7h1.0M221.7 65.5h1.0M199.1 80.0h1.0M211.2 69.8h1.0M211.0 76.8h1.0M209.5 82.5h1.0M202.0 54.8h1.0M201.9 86.3h1.0M206.8 72.2h1.0M208.6 67.4h1.0M201.5 56.0h1.0M202.3 67.9h1.0M211.1 52.5h1.0M213.6 70.1h1.0M205.0 68.7h1.0M204.2 83.6h1.0M204.1 67.6h1.0M221.4 76.9h1.0M210.7 78.3h1.0M207.7 85.2h1.0M213.4 67.6h1.0M220.4 74.7h1.0M214.3 58.1h1.0M200.3 62.1h1.0M207.5 67.8h1.0M205.8 69.8h1.0M206.2 60.9h1.0M201.4 67.2h1.0M205.9 75.2h1.0M202.1 66.8h1.0M209.8 68.6h1.0M208.2 63.2h1.0M200.3 80.7h1.0M198.8 83.8h1.0M205.4 71.6h1.0M211.5 68.8h1.0M210.7 82.1h1.0M207.6 73.5h1.0M190.1 66.1h1.0M205.3 60.0h1.0M204.0 65.7h1.0M206.2 86.4h1.0M201.4 65.9h1.0M205.6 91.6h1.0M204.4 70.1h1.0M222.7 67.3h1.0M211.8 79.5h1.0M206.9 68.1h1.0M207.7 72.7h1.0M207.3 62.1h1.0M209.0 60.5h1.0M205.8 64.5h1.0M207.9 71.5h1.0M213.5 64.5h1.0M212.5 54.9h1.0M209.7 73.3h1.0M215.2 68.2h1.0M209.2 67.7h1.0M202.7 65.7h1.0M198.5 53.7h1.0M204.2 82.0h1.0M207.6 66.3h1.0M210.1 73.7h1.0M213.8 79.9h1.0M204.9 78.5h1.0M203.6 71.7h1.0M212.2 69.7h1.0M214.4 71.8h1.0M205.4 76.9h1.0M209.8 74.1h1.0M215.4 66.0h1.0M209.7 73.1h1.0M207.7 72.7h1.0M196.7 75.9h1.0M215.2 70.9h1.0M211.5 79.9h1.0M208.7 71.4h1.0M205.5 76.7h1.0M201.2 70.7h1.0M207.4 65.6h1.0M207.4 62.9h1.0M213.9 68.3h1.0M201.4 74.4h1.0M215.8 78.9h1.0M208.2 69.2h1.0M214.4 65.6h1.0M202.7 66.5h1.0M209.9 79.4h1.0M214.6 70.3h1.0M208.6 66.1h1.0M200.0 76.0h1.0M206.2 60.1h1.0M210.9 70.6h1.0M200.4 70.1h1.0M200.2 69.4h1.0M209.3 61.2h1.0M202.8 77.6h1.0M211.7 82.2h1.0M201.6 60.4h1.0M198.0 71.5h1.0M203.8 75.0h1.0M216.1 86.2h1.0M203.3 67.1h1.0M208.0 62.8h1.0M209.3 69.8h1.0M202.8 85.3h1.0M213.9 70.0h1.0M208.9 71.8h1.0M210.4 83.0h1.0M198.9 54.6h1.0M198.5 54.4h1.0M193.1 77.7h1.0M207.0 75.8h1.0M206.8 59.6h1.0M211.9 73.5h1.0M216.0 69.7h1.0M206.6 71.6h1.0M206.5 64.0h1.0M210.4 66.4h1.0M216.3 62.8h1.0M203.5 70.6h1.0M211.4 68.0h1.0M206.7 82.6h1.0M206.2 74.7h1.0M212.4 57.8h1.0M203.7 73.3h1.0M202.2 81.0h1.0M211.6 71.8h1.0M207.9 78.0h1.0M206.6 69.8h1.0M207.3 75.2h1.0M210.7 62.7h1.0M206.0 75.9h1.0M212.1 59.3h1.0M210.2 79.4h1.0M216.0 58.1h1.0M214.8 53.6h1.0M212.6 73.6h1.0M206.9 68.7h1.0M208.6 70.7h1.0M204.8 73.3h1.0M223.4 68.7h1.0M206.8 63.4h1.0M211.0 71.3h1.0M215.4 72.0h1.0M200.6 74.1h1.0M203.5 85.1h1.0M205.9 64.6h1.0M202.6 70.8h1.0M201.2 74.6h1.0M205.2 66.8h1.0M215.0 60.5h1.0M211.9 65.4h1.0M208.2 77.9h1.0M208.2 67.9h1.0M199.0 75.1h1.0M211.8 64.2h1.0M210.3 73.1h1.0M202.2 65.3h1.0M209.1 63.5h1.0M207.0 70.8h1.0M205.2 70.5h1.0M202.7 81.3h1.0M204.4 58.0h1.0M202.9 74.1h1.0M210.5 81.8h1.0M210.0 80.0h1.0M209.8 66.9h1.0M207.0 64.9h1.0M205.8 66.4h1.0M219.1 71.4h1.0M198.0 72.0h1.0M214.5 72.1h1.0M209.9 74.3h1.0M208.4 61.9h1.0M205.3 61.7h1.0M206.9 60.8h1.0M201.6 60.3h1.0M200.5 69.7h1.0M207.4 72.3h1.0M199.1 89.5h1.0M212.6 73.6h1.0M214.1 69.6h1.0M189.5 81.8h1.0M199.7 65.0h1.0M209.5 72.4h1.0M209.2 77.1h1.0M208.6 75.8h1.0M210.3 72.8h1.0M212.1 67.0h1.0M212.7 60.3h1.0M217.7 68.1h1.0M208.2 65.4h1.0M212.7 74.7h1.0M199.3 69.5h1.0M207.3 74.2h1.0M201.5 58.3h1.0M215.6 76.7h1.0M220.7 62.7h1.0M211.0 58.0h1.0M201.0 60.1h1.0M207.5 65.3h1.0M208.2 78.3h1.0M209.1 75.2h1.0M213.9 60.7h1.0M213.2 70.2h1.0M193.8 70.1h1.0M215.4 57.7h1.0M205.4 62.7h1.0M205.0 54.9h1.0M215.7 62.9h1.0M206.6 50.2h1.0M200.7 64.5h1.0M200.9 63.4h1.0M208.4 63.9h1.0M213.0 63.4h1.0M216.2 78.0h1.0M207.1 67.4h1.0M205.5 71.9h1.0M216.8 75.0h1.0M205.6 76.8h1.0M215.9 74.5h1.0M209.3 65.7h1.0M209.4 61.6h1.0M206.8 64.2h1.0M209.7 66.3h1.0M205.6 70.1h1.0M204.4 69.5h1.0M207.3 78.1h1.0M204.6 69.4h1.0M209.7 83.2h1.0M208.5 77.6h1.0M206.7 66.4h1.0M207.0 76.4h1.0M206.8 48.5h1.0M217.5 79.6h1.0M208.0 73.0h1.0M204.9 73.1h1.0M206.5 57.5h1.0M211.7 88.5h1.0M207.0 68.1h1.0M207.3 68.9h1.0M206.7 78.4h1.0M209.0 68.4h1.0M210.2 63.4h1.0M210.5 74.7h1.0M199.2 62.9h1.0M202.3 75.8h1.0M193.9 71.9h1.0M212.4 78.0h1.0M214.1 60.5h1.0M215.1 78.7h1.0M208.8 72.0h1.0M214.3 84.2h1.0M207.9 65.1h1.0M207.4 83.8h1.0M199.8 75.7h1.0M203.8 76.1h1.0M204.9 64.7h1.0M213.0 73.7h1.0M217.0 74.3h1.0M205.5 63.9h1.0M210.1 61.1h1.0M209.6 64.0h1.0M203.9 81.1h1.0M198.8 71.7h1.0M204.0 77.2h1.0M200.3 72.6h1.0M206.4 70.9h1.0M207.3 71.6h1.0M207.1 66.9h1.0M207.2 79.1h1.0M210.7 71.0h1.0M203.0 71.9h1.0M212.9 59.3h1.0M199.0 72.8h1.0M208.4 64.9h1.0M210.2 66.0h1.0M203.8 77.9h1.0M199.5 62.3h1.0M211.5 68.2h1.0M204.4 74.8h1.0M212.3 78.2h1.0M212.2 65.8h1.0M208.0 72.3h1.0M208.0 72.0h1.0M213.4 61.1h1.0M210.1 53.8h1.0M203.0 55.9h1.0M209.0 74.3h1.0M211.0 70.5h1.0M209.1 59.8h1.0M209.1 65.1h1.0M207.3 67.0h1.0M207.4 67.3h1.0M203.0 70.0h1.0M200.3 86.9h1.0M214.1 63.7h1.0M204.6 71.2h1.0M209.2 64.1h1.0M200.0 65.8h1.0M208.9 63.3h1.0M203.6 68.5h1.0M224.0 64.7h1.0M202.6 72.9h1.0M202.9 71.8h1.0M213.1 62.9h1.0M214.2 83.8h1.0M196.7 62.0h1.0M209.4 72.5h1.0M212.8 85.7h1.0M201.5 65.0h1.0M211.7 79.5h1.0M205.2 80.7h1.0M202.7 72.8h1.0M206.2 56.3h1.0M205.6 80.7h1.0M200.6 71.1h1.0M220.1 65.0h1.0M205.6 79.6h1.0M204.0 64.8h1.0M212.6 77.5h1.0M207.7 65.8h1.0M215.2 73.4h1.0M206.6 62.0h1.0M209.9 66.8h1.0M208.5 63.0h1.0M208.9 64.5h1.0M206.9 71.4h1.0M207.5 68.7h1.0M217.0 70.7h1.0M204.4 79.7h1.0M205.1 69.2h1.0M206.2 56.2h1.0M211.1 67.6h1.0M210.2 70.4h1.0M213.1 77.2h1.0M200.9 78.1h1.0M209.4 76.9h1.0M207.1 68.3h1.0M206.5 74.8h1.0M208.9 59.1h1.0M197.5 80.2h1.0M209.5 73.1h1.0M208.8 73.6h1.0M200.4 67.6h1.0M207.5 70.4h1.0M216.3 64.4h1.0M206.0 74.3h1.0M211.2 59.8h1.0M206.8 77.2h1.0M203.7 74.2h1.0M203.1 85.3h1.0M205.9 69.8h1.0M215.0 68.7h1.0M212.4 71.1h1.0M204.3 70.4h1.0M213.4 68.7h1.0M207.4 61.7h1.0M204.3 61.9h1.0M210.3 65.5h1.0M203.2 68.1h1.0M199.6 61.6h1.0M215.0 60.8h1.0M198.3 68.5h1.0M210.9 75.2h1.0M199.9 69.0h1.0M207.9 75.0h1.0M207.0 77.2h1.0M205.7 75.8h1.0M196.4 67.6h1.0M207.5 66.9h1.0M207.9 56.0h1.0M203.3 65.1h1.0M207.7 73.4h1.0M213.4 61.5h1.0M204.2 80.2h1.0M209.4 80.5h1.0M201.9 67.6h1.0M210.1 76.6h1.0M211.5 59.1h1.0M221.3 61.2h1.0M212.9 66.8h1.0M210.4 69.8h1.0M215.6 68.0h1.0M202.8 63.8h1.0M213.8 84.2h1.0M205.2 72.3h1.0M204.8 72.3h1.0M213.9 74.6h1.0M209.3 71.1h1.0M215.1 67.7h1.0M200.3 66.3h1.0M209.5 57.6h1.0M205.3 81.2h1.0M206.6 63.1h1.0M197.9 58.2h1.0M213.1 63.6h1.0M209.2 57.9h1.0M202.8 85.1h1.0M200.9 73.1h1.0M203.5 80.7h1.0M215.5 80.2h1.0M207.6 74.2h1.0M206.3 74.3h1.0M210.7 64.4h1.0M208.2 69.3h1.0M209.3 65.3h1.0M212.1 70.0h1.0M209.9 64.6h1.0M212.8 79.0h1.0M201.8 76.0h1.0M208.4 69.1h1.0M206.2 57.6h1.0M208.7 75.0h1.0M207.9 76.5h1.0M204.8 69.6h1.0M206.3 60.6h1.0M213.2 72.8h1.0M205.2 77.9h1.0M201.5 56.1h1.0M211.3 73.9h1.0M213.3 56.0h1.0M206.7 70.6h1.0M208.8 82.9h1.0M203.7 70.9h1.0M207.1 73.5h1.0M214.0 67.1h1.0M212.4 69.6h1.0M209.0 87.3h1.0M206.7 79.9h1.0M199.5 68.1h1.0M209.8 67.0h1.0M210.6 69.9h1.0M213.8 85.8h1.0M218.8 70.7h1.0M210.2 78.0h1.0M213.2 66.9h1.0M202.3 60.8h1.0M214.6 79.3h1.0M212.8 69.0h1.0M215.4 63.6h1.0M211.8 64.5h1.0M210.6 64.8h1.0M216.0 64.9h1.0M204.7 58.7h1.0M211.6 78.6h1.0M213.9 72.4h1.0M204.1 77.4h1.0M202.1 67.8h1.0M210.5 72.3h1.0M208.9 71.1h1.0M211.4 78.4h1.0M211.6 75.7h1.0M204.2 72.8h1.0M210.0 65.0h1.0M214.2 60.6h1.0M206.4 64.1h1.0M206.7 65.3h1.0M202.3 66.3h1.0M212.6 60.4h1.0M218.5 81.5h1.0M201.0 72.4h1.0M212.3 54.7h1.0M213.0 61.5h1.0M205.3 60.2h1.0M206.3 71.8h1.0M202.8 78.2h1.0M204.1 62.9h1.0M209.1 74.4h1.0M211.7 67.6h1.0M208.9 78.4h1.0M212.8 79.7h1.0M209.4 72.1h1.0M202.1 75.6h1.0M215.9 69.4h1.0M214.5 66.7h1.0M204.5 61.5h1.0M217.6 71.7h1.0M210.8 69.2h1.0M209.0 67.0h1.0M218.4 68.6h1.0M195.2 69.4h1.0M199.9 62.8h1.0M212.0 65.7h1.0M207.0 78.4h1.0M203.3 68.5h1.0M216.3 79.7h1.0M210.9 61.2h1.0M201.6 60.3h1.0M204.8 71.1h1.0M212.8 75.3h1.0M217.7 64.4h1.0M197.8 75.2h1.0M209.6 76.7h1.0M206.3 78.0h1.0M199.1 69.7h1.0M207.5 69.6h1.0M199.9 58.3h1.0M205.5 70.3h1.0M216.9 71.4h1.0M211.1 80.1h1.0M212.5 60.2h1.0M211.5 63.4h1.0M210.2 62.4h1.0M213.5 76.2h1.0M202.2 51.6h1.0M206.5 62.0h1.0M212.9 84.8h1.0M204.5 75.0h1.0M206.1 60.2h1.0M214.7 69.0h1.0M216.5 75.6h1.0M205.2 74.2h1.0M204.1 68.5h1.0M211.5 63.8h1.0M209.8 75.9h1.0M204.8 70.1h1.0M211.5 75.6h1.0M211.3 72.6h1.0M208.8 66.4h1.0M223.9 79.5h1.0M215.6 65.7h1.0M212.7 72.8h1.0M213.8 64.9h1.0M224.0 67.1h1.0M214.2 67.7h1.0M204.6 65.3h1.0M210.1 71.5h1.0M208.8 79.5h1.0M205.4 83.8h1.0M209.8 80.4h1.0M209.7 68.5h1.0M208.1 80.6h1.0M205.9 73.1h1.0M212.8 82.8h1.0M200.0 61.2h1.0M212.8 80.5h1.0M208.5 65.5h1.0M209.9 78.3h1.0M195.9 67.3h1.0M217.3 76.0h1.0M199.3 68.4h1.0M203.9 56.4h1.0M211.8 62.5h1.0M205.2 68.3h1.0M206.3 70.2h1.0M196.6 54.2h1.0M206.1 61.2h1.0M209.6 64.4h1.0M212.0 68.1h1.0M206.9 71.6h1.0M209.6 63.8h1.0M210.7 58.6h1.0M204.9 72.3h1.0M204.5 67.7h1.0M218.8 75.7h1.0M203.9 66.3h1.0M215.0 74.2h1.0M208.8 63.3h1.0M216.2 71.3h1.0M205.1 70.8h1.0M211.2 73.0h1.0M210.2 62.9h1.0M207.2 69.1h1.0M210.1 63.5h1.0M204.4 69.0h1.0M208.0 74.5h1.0M206.3 91.9h1.0M212.5 69.9h1.0M208.0 75.2h1.0M201.1 71.2h1.0M206.5 78.3h1.0M207.9 73.3h1.0M203.7 77.9h1.0M215.5 72.0h1.0M210.6 87.4h1.0M212.9 79.7h1.0M204.4 57.7h1.0M206.3 72.2h1.0M213.8 70.1h1.0M200.9 54.2h1.0M210.4 63.5h1.0M208.9 66.5h1.0M205.8 64.7h1.0M208.9 70.8h1.0M202.7 57.1h1.0M209.6 75.3h1.0M202.0 76.0h1.0M201.7 73.0h1.0M215.9 67.0h1.0M204.7 70.2h1.0M197.2 67.3h1.0M213.6 78.0h1.0M204.4 73.9h1.0M189.8 85.8h1.0M208.1 67.2h1.0M213.4 80.2h1.0M210.3 65.6h1.0M217.6 68.1h1.0M207.8 62.3h1.0M211.6 73.5h1.0M203.1 69.8h1.0M209.3 74.4h1.0M216.6 80.3h1.0M211.1 69.3h1.0M209.3 72.6h1.0M198.0 77.2h1.0M206.4 69.6h1.0M201.6 66.4h1.0M212.6 72.3h1.0M204.5 73.9h1.0M210.4 75.5h1.0M203.1 76.4h1.0M218.5 64.4h1.0M202.2 73.6h1.0M209.2 78.9h1.0M222.4 65.6h1.0M209.6 72.5h1.0M203.8 65.7h1.0M211.7 70.9h1.0M213.7 82.3h1.0M213.1 70.9h1.0M198.0 63.6h1.0M209.6 72.4h1.0M197.1 72.3h1.0M218.5 77.4h1.0M208.8 59.9h1.0M206.0 63.4h1.0M212.0 69.1h1.0M211.1 58.4h1.0M202.1 78.7h1.0M217.1 54.5h1.0M207.2 64.0h1.0M199.1 59.8h1.0M215.9 64.6h1.0M216.6 75.2h1.0M215.1 73.9h1.0M211.4 76.5h1.0M203.7 74.7h1.0M213.5 54.7h1.0M218.4 71.5h1.0M212.8 56.1h1.0M217.0 65.7h1.0M204.3 67.3h1.0M213.9 65.6h1.0M213.5 73.2h1.0M200.5 64.6h1.0M199.8 83.2h1.0M204.6 74.6h1.0M208.9 78.5h1.0M210.9 75.3h1.0M207.3 76.5h1.0M208.1 69.7h1.0M207.9 84.3h1.0M208.9 62.2h1.0M211.6 73.1h1.0M211.1 69.8h1.0M208.2 68.3h1.0M209.9 72.2h1.0M206.1 64.6h1.0M212.7 76.0h1.0M205.8 75.9h1.0M217.3 70.1h1.0M208.4 75.3h1.0M210.0 62.3h1.0M204.4 57.0h1.0M206.6 65.8h1.0M209.4 68.2h1.0M208.6 88.1h1.0M205.2 68.5h1.0M202.3 77.9h1.0M208.7 76.1h1.0M209.3 85.3h1.0M211.4 70.6h1.0M215.2 74.3h1.0M206.8 68.6h1.0M197.8 64.4h1.0M207.7 62.7h1.0M198.6 64.9h1.0M201.6 80.8h1.0M214.0 71.7h1.0M211.5 68.6h1.0M205.0 70.3h1.0M205.1 66.1h1.0M208.0 69.7h1.0M199.1 70.3h1.0M211.1 74.5h1.0M206.6 76.7h1.0M218.4 57.3h1.0M202.8 72.0h1.0M213.9 79.6h1.0M204.8 62.7h1.0M214.0 67.8h1.0M203.2 71.5h1.0M212.4 77.7h1.0M206.1 74.5h1.0M204.1 68.6h1.0M207.7 73.7h1.0M211.1 77.3h1.0M210.7 72.7h1.0M217.0 82.9h1.0M212.9 72.7h1.0M194.3 63.2h1.0M206.3 64.4h1.0M197.8 69.7h1.0M206.4 68.6h1.0M211.9 74.3h1.0M201.3 73.0h1.0M202.2 82.9h1.0M209.3 75.8h1.0M207.0 80.9h1.0M217.0 63.8h1.0M210.2 66.7h1.0M211.4 74.8h1.0M217.9 70.0h1.0M205.8 74.7h1.0M208.5 71.8h1.0M203.2 65.8h1.0M209.9 82.3h1.0M214.1 77.9h1.0M215.9 58.1h1.0M208.3 65.5h1.0M204.7 70.4h1.0M204.4 75.2h1.0M201.0 70.0h1.0M209.2 60.0h1.0M215.8 75.6h1.0M195.8 69.3h1.0M196.8 79.6h1.0M216.1 71.7h1.0M199.9 77.9h1.0M210.3 76.0h1.0M201.7 76.9h1.0M212.7 66.0h1.0M212.7 77.2h1.0M209.4 71.4h1.0M213.0 60.6h1.0M208.8 67.1h1.0M211.6 67.4h1.0M218.4 72.8h1.0M214.5 74.6h1.0M205.0 62.1h1.0M204.2 75.6h1.0M207.3 69.6h1.0M207.3 62.4h1.0M208.9 76.1h1.0M205.3 64.7h1.0M212.1 61.1h1.0M208.8 75.5h1.0M210.5 76.5h1.0M208.6 65.2h1.0M211.9 77.5h1.0M202.1 77.8h1.0M217.1 65.7h1.0M210.4 84.5h1.0M211.0 69.5h1.0M211.9 71.5h1.0M214.4 52.3h1.0M212.5 74.4h1.0M209.9 65.5h1.0M207.6 73.3h1.0M199.7 58.2h1.0M209.7 78.4h1.0M206.9 80.8h1.0M206.9 83.9h1.0M221.6 47.7h1.0M198.6 75.0h1.0M208.9 72.6h1.0M215.1 47.6h1.0M213.8 64.4h1.0M215.3 69.0h1.0M201.8 80.9h1.0M203.4 64.4h1.0M212.0 71.4h1.0M207.0 69.8h1.0M217.9 72.2h1.0M209.8 67.1h1.0M209.7 76.5h1.0M211.0 77.0h1.0M207.2 60.3h1.0M209.3 78.2h1.0M205.0 64.9h1.0M208.4 68.2h1.0M206.0 78.5h1.0M210.0 70.8h1.0M201.0 74.9h1.0M200.6 76.4h1.0M211.1 74.4h1.0M209.9 66.2h1.0M203.4 63.6h1.0M207.4 75.2h1.0M203.0 76.1h1.0M219.7 72.0h1.0M200.2 69.4h1.0M217.9 75.8h1.0M204.2 70.3h1.0M210.9 60.1h1.0M207.2 72.4h1.0M206.6 74.0h1.0M213.7 75.5h1.0M213.1 63.4h1.0M207.1 64.9h1.0M203.8 73.0h1.0M219.9 66.2h1.0M216.3 69.2h1.0M209.4 77.0h1.0M207.1 73.2h1.0M210.3 83.4h1.0M209.1 72.4h1.0M215.1 82.3h1.0M203.5 78.4h1.0M208.8 88.8h1.0M204.4 70.7h1.0M215.7 69.2h1.0M218.4 79.2h1.0M208.2 66.6h1.0M211.6 66.8h1.0M216.3 71.7h1.0M207.1 73.2h1.0M203.6 60.6h1.0M214.3 71.9h1.0M211.4 68.0h1.0M207.6 70.3h1.0M216.6 71.2h1.0M210.0 69.0h1.0M199.1 78.9h1.0M210.6 73.9h1.0M208.4 69.1h1.0M218.8 70.3h1.0M208.6 78.0h1.0M207.6 76.3h1.0M211.1 79.5h1.0M210.0 69.4h1.0M201.1 72.0h1.0M209.3 85.1h1.0M206.9 70.4h1.0M216.3 82.2h1.0M221.7 75.8h1.0M202.7 67.9h1.0M203.5 60.8h1.0M204.1 75.5h1.0M205.2 65.7h1.0M205.0 65.7h1.0M209.0 58.0h1.0M214.6 78.8h1.0M201.7 71.8h1.0M200.4 71.3h1.0M198.8 74.1h1.0M214.7 72.0h1.0M215.9 70.8h1.0M200.4 74.9h1.0M199.9 69.2h1.0M209.4 51.9h1.0M214.6 75.6h1.0M214.2 73.3h1.0M209.7 70.7h1.0M212.4 81.9h1.0M210.5 60.4h1.0M205.7 49.9h1.0M219.0 80.7h1.0M208.7 73.6h1.0M202.7 59.1h1.0M206.2 67.8h1.0M200.4 75.7h1.0M208.8 61.8h1.0M214.6 74.2h1.0M201.9 86.4h1.0M214.8 80.3h1.0M220.0 69.6h1.0M210.8 72.8h1.0M202.5 64.2h1.0M204.1 71.9h1.0M206.9 68.3h1.0M201.8 63.9h1.0M202.0 61.4h1.0M207.3 84.7h1.0M207.7 71.3h1.0M212.0 63.0h1.0M202.2 68.0h1.0M218.8 80.7h1.0M214.4 82.0h1.0M213.5 65.9h1.0M205.2 72.3h1.0M218.1 76.4h1.0M206.9 68.2h1.0M218.5 61.5h1.0M214.5 63.2h1.0M203.9 71.0h1.0M206.3 65.2h1.0M218.8 60.6h1.0M214.1 68.5h1.0M207.9 77.4h1.0M209.8 75.5h1.0M209.8 68.9h1.0M204.5 84.7h1.0M207.6 65.0h1.0M205.1 70.3h1.0M206.4 60.9h1.0M211.2 76.1h1.0M203.5 70.1h1.0M212.6 58.2h1.0M209.3 64.6h1.0M212.8 83.3h1.0M213.5 75.5h1.0M215.5 70.9h1.0M212.1 76.6h1.0M212.5 58.8h1.0M207.7 64.7h1.0M211.8 60.8h1.0M203.8 64.9h1.0M207.4 67.9h1.0M212.8 74.1h1.0M208.4 77.9h1.0M211.1 77.5h1.0M203.0 90.4h1.0M216.1 66.5h1.0M205.6 70.6h1.0M210.9 74.1h1.0M208.6 64.6h1.0M213.8 68.1h1.0M206.6 73.7h1.0M203.3 64.5h1.0M198.4 74.7h1.0M207.1 79.5h1.0M202.3 62.9h1.0M211.6 53.8h1.0M216.5 70.6h1.0M196.7 63.8h1.0M201.7 72.3h1.0M210.4 67.2h1.0M215.4 72.3h1.0M210.4 78.6h1.0M210.5 76.3h1.0M211.5 67.8h1.0M211.8 61.8h1.0M217.6 51.9h1.0M212.0 54.6h1.0M202.0 65.2h1.0M206.2 71.4h1.0M209.8 65.5h1.0M204.3 66.4h1.0M207.3 59.0h1.0M205.9 58.7h1.0M204.9 58.2h1.0M212.5 74.6h1.0M206.6 56.2h1.0M202.8 75.6h1.0M204.8 64.0h1.0M208.9 74.1h1.0M220.2 71.2h1.0M210.1 75.6h1.0M216.8 78.3h1.0M211.4 64.3h1.0M197.0 63.9h1.0M210.8 66.8h1.0M204.1 64.8h1.0M201.4 75.4h1.0M202.9 69.6h1.0M218.4 69.4h1.0M200.1 73.6h1.0M205.3 66.8h1.0M215.0 77.5h1.0M212.3 56.4h1.0M199.4 72.3h1.0M208.1 73.6h1.0M205.9 64.6h1.0M207.6 65.0h1.0M212.8 76.2h1.0M205.6 67.8h1.0M207.0 56.1h1.0M216.6 59.6h1.0M198.7 77.9h1.0M206.7 63.7h1.0M211.3 79.2h1.0M201.9 80.3h1.0M205.3 68.7h1.0M201.6 74.3h1.0M209.5 63.8h1.0M205.3 67.2h1.0M213.0 64.5h1.0M214.2 73.8h1.0M208.9 60.5h1.0M206.6 69.0h1.0M210.1 70.1h1.0M209.0 73.6h1.0M202.1 54.9h1.0M214.5 56.5h1.0M209.9 63.4h1.0M213.0 67.9h1.0M201.3 71.3h1.0M213.5 70.9h1.0M220.2 83.7h1.0M212.0 74.3h1.0M200.8 74.6h1.0M208.9 66.3h1.0M208.4 75.5h1.0M209.9 74.7h1.0M207.4 74.7h1.0M211.4 68.8h1.0M206.2 74.5h1.0M209.9 80.8h1.0M204.9 64.3h1.0M209.2 54.1h1.0M214.1 75.4h1.0M206.0 75.3h1.0M212.3 67.9h1.0M203.8 66.9h1.0M206.7 89.9h1.0M207.4 66.5h1.0M215.5 60.5h1.0M204.5 66.6h1.0M215.3 73.0h1.0M200.7 65.9h1.0M207.8 67.0h1.0M213.6 71.6h1.0M212.5 66.4h1.0M203.2 71.1h1.0M202.0 69.9h1.0M213.4 61.7h1.0M201.8 70.7h1.0M211.8 61.1h1.0M205.8 76.7h1.0M208.6 63.0h1.0M221.3 67.2h1.0M217.1 56.0h1.0M213.2 66.2h1.0M201.1 61.2h1.0M210.4 80.4h1.0M208.9 68.8h1.0M208.1 73.6h1.0M215.9 56.6h1.0M199.3 61.4h1.0M210.4 68.4h1.0M209.3 59.9h1.0M204.6 78.3h1.0M218.1 66.2h1.0M201.7 71.3h1.0M208.8 71.9h1.0M209.1 68.6h1.0M196.7 76.1h1.0M200.8 65.4h1.0M203.3 72.7h1.0M212.9 78.1h1.0M213.8 70.9h1.0M211.9 70.4h1.0M210.0 67.2h1.0M196.6 70.9h1.0M209.8 74.5h1.0M205.8 68.1h1.0M215.0 57.1h1.0M216.0 70.4h1.0M220.9 67.8h1.0M212.5 72.8h1.0M213.1 69.7h1.0M203.0 81.4h1.0M209.1 61.0h1.0M201.9 63.2h1.0M213.5 74.1h1.0M202.1 62.7h1.0M207.5 72.1h1.0M204.1 69.9h1.0M206.1 55.7h1.0M211.1 74.3h1.0M205.5 79.7h1.0M209.8 71.1h1.0M203.1 60.0h1.0M216.3 74.8h1.0M205.1 62.4h1.0M214.2 68.4h1.0M220.3 71.8h1.0M195.3 65.0h1.0M203.2 57.9h1.0M207.5 68.7h1.0M215.0 68.9h1.0M206.0 63.7h1.0M210.7 63.9h1.0M204.6 75.2h1.0M211.7 68.8h1.0M202.0 66.7h1.0M213.2 65.1h1.0M192.2 72.0h1.0M198.2 71.0h1.0M218.6 67.7h1.0M209.5 59.6h1.0M203.7 67.3h1.0M220.7 64.3h1.0M214.4 69.7h1.0M214.8 77.5h1.0M206.3 76.6h1.0M212.0 74.0h1.0M211.4 70.2h1.0M199.5 67.9h1.0M211.9 71.8h1.0M207.6 66.3h1.0M215.7 66.7h1.0M215.8 63.2h1.0M205.1 69.5h1.0M205.3 69.3h1.0M209.6 82.7h1.0M212.2 73.3h1.0M206.3 67.1h1.0M208.0 75.2h1.0M211.9 66.0h1.0M210.9 76.6h1.0M215.0 74.7h1.0M209.9 90.1h1.0M203.7 62.3h1.0M198.9 69.8h1.0M213.0 68.5h1.0M206.7 71.9h1.0M206.7 74.8h1.0M207.0 62.8h1.0M199.9 65.1h1.0M206.4 71.9h1.0M194.2 77.4h1.0M206.3 61.8h1.0M203.6 59.0h1.0M218.7 77.0h1.0M211.0 75.4h1.0M207.4 77.4h1.0M209.5 62.7h1.0M212.6 67.9h1.0M204.4 71.5h1.0M207.3 72.8h1.0M206.6 68.9h1.0M222.3 68.3h1.0M209.0 76.7h1.0M197.7 67.3h1.0M213.0 65.5h1.0M222.9 65.6h1.0M203.3 66.4h1.0M208.2 68.2h1.0M214.1 66.2h1.0M205.4 79.8h1.0M207.1 71.8h1.0M201.7 67.7h1.0M202.7 78.9h1.0M196.7 66.6h1.0M214.9 69.2h1.0M202.2 69.4h1.0M210.6 65.5h1.0M210.4 66.8h1.0M204.9 70.5h1.0M208.8 59.6h1.0M208.0 66.9h1.0M205.8 71.6h1.0M208.8 71.5h1.0M208.8 71.7h1.0M202.9 86.4h1.0M201.3 74.8h1.0M203.8 68.9h1.0M209.2 68.7h1.0M216.2 69.1h1.0M216.7 72.1h1.0M210.3 67.4h1.0M213.8 79.8h1.0M209.2 61.9h1.0M214.7 73.6h1.0M209.2 73.1h1.0M210.7 61.5h1.0M206.9 74.1h1.0M208.5 73.5h1.0M219.1 64.5h1.0M201.8 86.2h1.0M208.5 74.6h1.0M205.2 67.6h1.0M213.9 65.9h1.0M218.6 63.8h1.0M206.8 71.5h1.0M193.1 71.1h1.0M211.9 59.6h1.0M211.9 62.2h1.0M199.1 65.3h1.0M207.2 66.9h1.0M208.1 67.1h1.0M195.6 65.9h1.0M212.3 73.8h1.0M211.0 76.0h1.0M209.8 70.0h1.0M202.6 54.8h1.0M204.5 68.8h1.0M205.0 73.7h1.0M211.2 68.9h1.0M203.0 71.9h1.0M216.7 69.8h1.0M210.6 59.1h1.0M196.3 52.9h1.0M217.9 73.3h1.0M209.4 65.9h1.0M205.4 72.7h1.0M209.1 67.5h1.0M198.3 69.1h1.0M209.5 79.0h1.0M194.7 62.2h1.0M202.7 69.9h1.0M216.1 61.5h1.0M215.5 69.6h1.0M206.6 73.0h1.0M203.1 74.5h1.0M213.7 70.3h1.0M208.2 60.1h1.0M209.7 71.2h1.0M212.0 75.5h1.0M202.4 76.9h1.0M212.9 84.1h1.0M196.6 74.3h1.0M216.7 62.0h1.0M199.6 66.6h1.0M204.9 70.4h1.0M204.7 77.1h1.0M212.5 61.4h1.0M212.6 75.6h1.0M210.5 74.0h1.0M211.5 63.4h1.0M211.1 73.6h1.0M208.0 64.3h1.0M197.7 70.3h1.0M195.5 68.4h1.0M195.5 72.1h1.0M208.2 61.5h1.0M207.1 73.3h1.0M207.6 54.6h1.0M209.7 66.7h1.0M207.1 65.8h1.0M202.8 80.9h1.0M200.0 73.9h1.0M197.7 67.0h1.0M215.3 63.0h1.0M213.5 69.5h1.0M200.8 65.8h1.0M206.9 85.2h1.0M210.9 50.2h1.0M217.4 69.5h1.0M205.0 52.8h1.0M209.4 76.7h1.0M214.9 63.6h1.0M198.6 81.4h1.0M204.3 66.1h1.0M208.2 77.1h1.0M204.3 71.3h1.0M220.3 77.0h1.0M213.3 69.4h1.0M209.5 49.0h1.0M203.0 65.0h1.0M213.3 58.5h1.0M211.9 75.9h1.0M205.5 73.5h1.0M205.9 69.8h1.0M200.1 73.3h1.0M207.9 71.0h1.0M213.3 65.3h1.0M214.0 82.8h1.0M211.6 71.0h1.0M213.0 68.0h1.0M205.0 59.7h1.0M205.7 65.5h1.0M215.2 69.2h1.0M210.9 68.2h1.0M203.9 66.6h1.0M211.2 69.1h1.0M213.0 61.5h1.0M212.3 69.4h1.0M209.0 58.9h1.0M205.4 63.9h1.0M210.6 64.4h1.0M217.9 75.0h1.0M209.2 72.9h1.0M204.6 70.4h1.0M210.3 61.5h1.0M201.4 67.3h1.0M209.6 75.1h1.0M206.7 78.4h1.0M213.7 59.0h1.0M208.9 66.6h1.0M214.3 70.0h1.0M221.3 71.2h1.0M207.1 69.8h1.0M203.6 74.6h1.0M210.9 59.4h1.0M207.8 80.4h1.0M209.1 61.6h1.0M204.9 70.3h1.0M211.5 73.0h1.0M208.7 77.7h1.0M196.2 76.7h1.0M207.0 75.8h1.0M210.2 78.4h1.0M215.0 68.2h1.0M205.1 75.1h1.0M203.8 80.7h1.0M214.8 64.0h1.0M204.9 60.2h1.0M208.9 62.7h1.0M211.0 79.3h1.0M212.5 78.0h1.0M208.4 67.2h1.0M202.1 71.8h1.0M214.0 72.6h1.0M205.9 77.1h1.0M205.4 56.8h1.0M219.6 65.1h1.0M213.3 67.6h1.0M202.4 72.3h1.0M205.6 70.4h1.0M206.9 67.6h1.0M204.1 72.0h1.0M197.6 52.6h1.0M212.8 90.8h1.0M212.7 75.1h1.0M209.7 75.8h1.0M206.1 65.3h1.0M209.5 72.5h1.0M211.9 83.8h1.0M202.5 82.8h1.0M206.4 70.4h1.0M205.2 61.3h1.0M212.2 70.6h1.0M209.8 67.6h1.0M201.0 76.2h1.0M204.8 61.1h1.0M218.2 67.8h1.0M202.9 72.0h1.0M209.1 66.4h1.0M204.8 77.3h1.0M215.3 61.4h1.0M207.9 61.2h1.0M205.9 67.5h1.0M201.7 76.0h1.0M206.9 67.7h1.0M212.9 65.3h1.0M212.1 75.1h1.0M200.9 71.8h1.0M217.0 65.5h1.0M206.9 70.7h1.0M202.4 68.5h1.0M209.0 74.0h1.0M204.8 71.0h1.0M205.0 64.4h1.0M204.7 66.7h1.0M207.8 66.9h1.0M205.5 72.5h1.0M198.7 73.0h1.0M211.2 63.8h1.0M205.4 68.6h1.0M215.0 71.5h1.0M211.3 77.2h1.0M211.7 71.3h1.0M209.3 83.3h1.0M215.5 69.5h1.0M206.4 75.0h1.0M202.7 67.9h1.0M210.2 62.7h1.0M193.1 71.5h1.0M206.2 73.3h1.0M209.5 71.9h1.0M205.9 70.9h1.0M215.3 67.0h1.0M212.2 63.8h1.0M208.9 67.6h1.0M206.0 73.2h1.0M214.4 76.0h1.0M204.5 47.1h1.0M205.9 74.2h1.0M212.4 77.0h1.0M211.6 78.4h1.0M219.6 71.7h1.0M207.0 74.5h1.0M197.8 67.4h1.0M211.9 68.9h1.0M215.3 73.0h1.0M207.3 62.2h1.0M216.9 63.7h1.0M218.2 70.5h1.0M204.5 60.7h1.0M205.6 70.3h1.0M201.3 59.9h1.0M211.3 70.9h1.0M212.2 69.7h1.0M211.6 65.6h1.0M201.4 63.6h1.0M204.0 66.5h1.0M200.3 54.7h1.0M199.2 67.6h1.0M200.7 71.1h1.0M199.4 78.8h1.0M207.2 66.3h1.0M210.6 68.4h1.0M211.7 79.2h1.0M208.1 81.9h1.0M204.5 66.6h1.0M208.2 77.1h1.0M211.4 77.8h1.0M206.6 73.5h1.0M208.5 62.8h1.0M206.5 63.3h1.0M205.3 74.0h1.0M208.4 86.1h1.0M202.0 68.9h1.0M214.1 80.3h1.0M199.5 83.6h1.0M210.8 60.9h1.0M200.6 66.1h1.0M216.6 79.8h1.0M213.0 76.3h1.0M203.7 73.9h1.0M205.7 69.9h1.0M201.9 74.6h1.0M207.9 65.4h1.0M210.5 87.1h1.0M222.4 60.7h1.0M200.6 57.7h1.0M215.1 70.3h1.0M205.0 80.1h1.0M209.7 66.2h1.0M213.1 69.1h1.0M211.2 62.4h1.0M210.6 69.1h1.0M207.1 62.7h1.0M208.2 62.7h1.0M209.0 59.4h1.0M214.9 65.5h1.0M200.0 83.3h1.0M205.5 69.5h1.0M201.3 71.6h1.0M202.8 85.8h1.0M203.8 65.6h1.0M214.3 62.4h1.0M220.1 72.6h1.0M215.7 60.6h1.0M201.6 72.5h1.0M208.6 77.8h1.0M201.9 62.6h1.0M210.7 65.9h1.0M215.3 81.2h1.0M211.5 62.1h1.0M213.0 64.7h1.0M207.4 71.5h1.0M197.3 68.3h1.0M197.2 64.5h1.0M207.7 81.0h1.0M211.4 65.5h1.0M215.3 71.6h1.0M206.3 67.0h1.0M208.6 68.1h1.0M209.6 60.0h1.0M214.1 75.9h1.0M207.8 66.8h1.0M202.1 79.1h1.0M214.2 61.2h1.0M210.5 66.2h1.0M210.3 73.0h1.0M201.1 71.0h1.0M208.2 65.2h1.0M198.7 69.4h1.0M197.1 61.4h1.0M206.9 70.2h1.0M205.8 51.3h1.0M211.3 70.8h1.0M216.2 78.7h1.0M208.0 76.0h1.0M218.1 75.1h1.0M204.9 67.0h1.0M212.4 72.9h1.0M201.2 67.4h1.0M208.9 69.1h1.0M206.4 69.2h1.0M207.0 46.2h1.0M211.5 76.0h1.0M197.7 73.7h1.0M208.8 75.6h1.0M203.7 63.4h1.0M208.8 74.6h1.0M210.4 73.0h1.0M206.1 54.2h1.0M206.1 57.5h1.0M201.8 70.6h1.0M211.2 64.9h1.0M204.5 69.9h1.0M210.7 65.1h1.0M200.3 80.8h1.0M215.8 55.9h1.0M202.5 60.6h1.0M214.6 62.5h1.0M205.7 60.3h1.0M211.2 65.5h1.0M207.4 69.6h1.0M212.0 60.1h1.0M208.2 72.3h1.0M215.2 78.5h1.0M211.9 77.2h1.0M212.0 83.6h1.0M217.4 77.1h1.0M204.3 69.8h1.0M215.4 81.8h1.0M208.6 74.7h1.0M200.0 83.5h1.0M210.8 68.3h1.0M207.1 55.1h1.0M217.5 61.0h1.0M205.5 71.2h1.0M208.5 73.6h1.0M209.5 68.3h1.0M197.6 77.5h1.0M211.0 61.5h1.0M202.7 65.2h1.0M216.0 76.2h1.0M217.4 69.6h1.0M208.2 70.5h1.0M199.4 80.3h1.0M209.2 77.5h1.0M209.2 64.2h1.0M212.2 71.0h1.0M206.6 58.0h1.0M201.6 70.2h1.0M207.4 72.6h1.0M203.1 58.0h1.0M218.0 80.1h1.0M204.3 84.2h1.0M204.6 73.6h1.0M207.9 76.4h1.0M201.3 80.9h1.0M205.7 68.8h1.0M207.5 77.2h1.0M205.5 72.8h1.0M206.8 59.2h1.0M215.1 63.1h1.0M210.6 65.7h1.0M200.8 77.9h1.0M205.8 70.7h1.0M212.3 76.5h1.0M204.6 66.8h1.0M208.7 60.9h1.0M208.0 84.4h1.0M211.1 88.8h1.0M207.2 72.7h1.0M207.4 68.6h1.0M203.4 78.6h1.0M210.2 62.0h1.0M203.1 68.8h1.0M217.8 59.2h1.0M208.1 73.3h1.0M207.0 71.7h1.0M212.6 66.8h1.0M207.7 65.4h1.0M208.7 59.2h1.0M207.9 64.1h1.0M204.2 78.8h1.0M203.1 67.8h1.0M204.3 79.0h1.0M214.5 63.4h1.0M204.7 69.6h1.0M206.0 66.8h1.0M205.7 68.3h1.0M212.1 75.1h1.0M219.2 54.8h1.0M203.1 75.5h1.0M211.2 74.6h1.0M208.9 69.9h1.0M206.5 70.6h1.0M211.0 68.2h1.0M201.2 75.3h1.0M212.8 70.0h1.0M209.4 63.9h1.0M202.7 71.4h1.0M217.0 76.0h1.0M212.9 72.2h1.0M214.6 69.7h1.0M200.2 71.9h1.0M206.7 66.5h1.0M205.3 66.9h1.0M211.7 56.5h1.0M215.7 68.1h1.0M197.7 77.5h1.0M208.3 67.2h1.0M207.5 63.6h1.0M213.7 75.8h1.0M208.0 71.1h1.0M201.2 71.4h1.0M207.1 73.3h1.0M202.5 75.2h1.0M203.9 69.9h1.0M208.4 64.1h1.0M205.5 82.3h1.0M209.7 70.2h1.0M199.8 65.1h1.0M221.0 70.3h1.0M215.2 77.8h1.0M212.2 59.8h1.0M201.1 79.6h1.0M196.3 69.8h1.0M203.4 84.2h1.0M206.9 74.7h1.0M220.5 68.4h1.0M215.4 78.2h1.0M205.3 79.0h1.0M214.9 67.0h1.0M215.0 71.1h1.0M208.3 66.3h1.0M214.9 75.9h1.0M210.0 60.0h1.0M204.6 68.9h1.0M201.7 55.5h1.0M207.5 74.1h1.0M213.7 54.0h1.0M200.7 63.1h1.0M199.3 72.4h1.0M211.2 67.3h1.0M193.2 67.8h1.0M218.3 62.5h1.0M205.8 66.8h1.0M212.2 57.5h1.0M218.5 71.5h1.0M200.2 76.1h1.0M202.4 75.6h1.0M220.6 68.8h1.0M206.6 78.5h1.0M207.5 73.2h1.0M209.5 76.5h1.0M214.0 72.3h1.0M215.5 69.7h1.0M208.8 64.6h1.0M206.3 51.8h1.0M208.0 74.4h1.0M209.9 69.0h1.0M215.4 83.3h1.0M208.9 56.1h1.0M218.3 75.1h1.0M203.5 63.7h1.0M211.1 69.7h1.0M217.9 63.1h1.0M215.3 71.9h1.0M210.0 69.6h1.0M203.3 76.4h1.0M204.3 71.2h1.0M207.3 73.3h1.0M209.9 78.7h1.0M206.8 73.6h1.0M200.2 69.6h1.0M204.1 78.8h1.0M211.1 69.0h1.0M212.8 72.5h1.0M200.5 68.2h1.0M206.2 65.5h1.0M199.0 49.7h1.0M205.1 75.0h1.0M208.6 75.0h1.0M206.3 82.6h1.0M204.9 61.0h1.0M201.5 76.5h1.0M197.9 70.0h1.0M208.0 73.1h1.0M206.7 61.8h1.0M216.4 69.6h1.0M199.2 71.6h1.0M210.6 79.7h1.0M215.6 84.3h1.0M197.4 72.9h1.0M211.8 67.2h1.0M199.3 85.9h1.0M211.1 69.0h1.0M216.3 69.0h1.0M208.2 70.7h1.0M209.8 73.1h1.0M204.4 75.2h1.0M209.8 65.9h1.0M214.5 68.8h1.0M207.2 83.1h1.0M207.4 81.1h1.0M210.4 72.9h1.0M212.7 71.6h1.0M199.2 69.0h1.0M208.5 77.1h1.0M204.4 66.7h1.0M210.9 70.7h1.0M213.9 66.4h1.0M209.9 65.6h1.0M215.3 69.8h1.0M202.7 70.4h1.0M205.9 66.1h1.0M202.7 69.9h1.0M208.5 70.5h1.0M208.7 66.7h1.0M207.1 65.5h1.0M201.5 69.5h1.0M207.8 74.9h1.0M205.8 77.8h1.0M211.5 71.1h1.0M206.7 68.2h1.0M214.6 69.4h1.0M209.5 83.2h1.0M197.9 77.0h1.0M207.2 63.5h1.0M200.3 70.2h1.0M213.6 66.0h1.0M216.1 67.0h1.0M208.1 58.4h1.0M210.7 70.0h1.0M200.2 61.2h1.0M195.8 66.8h1.0M205.1 80.7h1.0M206.8 77.0h1.0M199.8 64.6h1.0M208.7 62.8h1.0M209.9 63.6h1.0M211.8 56.7h1.0M216.8 62.6h1.0M212.7 67.8h1.0M206.2 62.9h1.0M208.8 75.2h1.0M211.5 69.4h1.0M202.4 66.7h1.0M215.5 81.7h1.0M213.2 74.6h1.0M207.0 70.6h1.0M204.7 83.1h1.0M212.9 64.8h1.0M213.4 71.9h1.0M218.2 66.3h1.0M213.6 59.7h1.0M209.4 83.1h1.0M212.1 80.2h1.0M203.2 61.5h1.0M212.2 73.2h1.0M199.7 59.2h1.0M210.6 77.3h1.0M211.3 69.5h1.0M199.6 68.6h1.0M218.8 78.1h1.0M201.9 70.5h1.0M214.0 67.8h1.0M205.3 76.6h1.0M210.0 67.8h1.0M204.6 76.4h1.0M222.0 69.1h1.0M214.0 75.4h1.0M218.3 73.7h1.0M212.6 75.2h1.0M212.1 62.8h1.0M209.1 83.1h1.0M207.0 69.0h1.0M211.6 82.1h1.0M209.2 65.8h1.0M207.5 68.2h1.0M200.7 68.7h1.0M206.6 78.2h1.0M211.6 66.8h1.0M205.7 73.1h1.0M210.2 59.0h1.0M207.5 66.7h1.0M202.6 72.0h1.0M203.3 69.6h1.0M204.2 57.2h1.0M206.7 73.6h1.0M206.9 63.4h1.0M214.5 83.2h1.0M202.3 69.1h1.0M197.0 86.6h1.0M212.1 74.4h1.0M205.8 73.4h1.0M207.7 66.7h1.0M222.4 68.3h1.0M216.4 72.7h1.0M211.6 56.2h1.0M213.6 76.7h1.0M209.0 61.8h1.0M213.6 67.9h1.0M205.0 51.1h1.0M204.4 73.5h1.0M205.8 75.4h1.0M217.1 71.4h1.0M217.0 71.7h1.0M205.0 67.6h1.0M214.8 70.7h1.0M207.5 78.6h1.0M214.3 66.6h1.0M206.6 73.7h1.0M213.7 74.8h1.0M207.7 68.4h1.0M206.8 71.8h1.0M208.2 71.6h1.0M209.2 66.5h1.0M205.2 87.4h1.0M200.8 67.5h1.0M217.8 81.4h1.0M206.2 77.7h1.0M198.3 56.4h1.0M195.8 72.6h1.0M192.8 78.3h1.0M205.0 76.0h1.0M215.9 63.1h1.0M199.3 72.5h1.0M206.6 61.7h1.0M198.2 63.4h1.0M214.5 67.9h1.0M210.4 71.2h1.0M210.2 81.2h1.0M215.9 72.0h1.0M217.5 76.9h1.0M214.1 61.2h1.0M205.2 62.1h1.0M201.1 67.1h1.0M202.6 82.8h1.0M198.7 61.2h1.0M218.4 58.2h1.0M207.4 69.5h1.0M209.1 78.4h1.0M209.5 58.4h1.0M219.6 67.5h1.0M205.3 60.6h1.0M215.0 79.8h1.0M210.1 74.8h1.0M207.6 72.0h1.0M197.8 70.4h1.0M213.5 68.0h1.0M204.3 71.3h1.0M205.9 65.6h1.0M209.7 63.7h1.0M209.0 62.1h1.0M214.7 69.7h1.0M204.7 64.6h1.0M209.3 76.1h1.0M210.0 55.0h1.0M208.6 74.0h1.0M212.2 73.5h1.0M207.0 78.7h1.0M215.1 67.7h1.0M204.5 59.6h1.0M200.4 64.0h1.0M208.2 78.0h1.0M215.0 67.4h1.0M205.6 67.2h1.0M204.9 66.1h1.0M206.5 69.6h1.0M209.3 68.3h1.0M207.5 59.0h1.0M210.2 65.6h1.0M198.9 77.8h1.0M216.8 79.7h1.0M211.7 68.9h1.0M203.6 66.6h1.0M216.1 79.1h1.0M210.9 68.5h1.0M216.6 61.1h1.0M201.9 69.5h1.0M217.7 74.3h1.0M208.7 81.0h1.0M197.0 67.3h1.0M212.6 73.5h1.0M206.8 67.7h1.0M202.8 78.4h1.0M207.2 71.9h1.0M197.6 72.5h1.0M211.7 62.8h1.0M207.2 67.8h1.0M206.9 67.8h1.0M216.3 43.9h1.0M208.6 76.0h1.0M204.8 70.1h1.0M203.1 68.8h1.0M208.1 67.4h1.0M214.4 69.7h1.0M205.2 71.9h1.0M202.7 61.1h1.0M213.6 70.5h1.0M208.8 70.7h1.0M208.3 70.2h1.0M220.0 58.6h1.0M201.7 69.4h1.0M209.5 60.8h1.0M198.6 73.1h1.0M206.8 79.4h1.0M211.7 75.9h1.0M214.7 67.1h1.0M201.4 66.6h1.0M213.1 65.6h1.0M212.8 72.1h1.0M207.7 65.3h1.0M222.1 65.2h1.0M208.4 52.2h1.0M203.5 64.2h1.0M210.8 64.2h1.0M198.1 66.8h1.0M217.1 78.0h1.0M213.9 59.9h1.0M206.2 60.7h1.0M211.8 74.0h1.0M211.4 62.8h1.0M219.2 68.0h1.0M205.0 71.4h1.0M201.2 70.5h1.0M197.1 65.2h1.0M206.8 76.6h1.0M199.7 81.1h1.0M207.5 62.9h1.0M210.7 67.8h1.0M206.0 76.8h1.0M203.2 68.8h1.0M215.1 62.4h1.0M207.3 67.0h1.0M209.7 75.7h1.0M213.7 62.5h1.0M201.2 72.2h1.0M203.3 73.0h1.0M222.3 64.4h1.0M207.5 74.0h1.0M202.6 75.0h1.0M207.0 77.1h1.0M205.2 76.8h1.0M201.6 59.8h1.0M206.1 76.4h1.0M208.3 74.1h1.0M208.3 76.9h1.0M211.4 63.7h1.0M198.8 77.0h1.0M200.1 73.1h1.0M212.8 61.4h1.0M206.0 79.1h1.0M215.2 64.0h1.0M210.1 62.6h1.0M200.6 73.3h1.0M211.4 65.5h1.0M202.8 72.9h1.0M209.9 68.1h1.0M215.3 71.5h1.0M220.2 74.9h1.0M208.0 69.7h1.0M212.3 75.8h1.0M210.1 75.8h1.0M212.8 63.7h1.0M194.2 77.0h1.0M206.3 74.5h1.0M210.0 70.8h1.0M211.0 77.7h1.0M204.2 81.9h1.0M213.0 75.0h1.0M214.6 59.2h1.0M208.8 73.1h1.0M207.2 69.1h1.0M206.4 68.2h1.0M209.2 72.3h1.0M215.0 67.2h1.0M216.7 80.9h1.0M205.8 72.1h1.0M203.3 70.5h1.0M204.0 75.8h1.0M213.9 75.3h1.0M209.7 78.3h1.0M210.1 74.3h1.0M211.1 69.6h1.0M210.5 70.8h1.0M207.7 54.8h1.0M202.7 60.0h1.0M205.0 77.6h1.0M209.1 67.6h1.0M210.6 82.7h1.0M206.4 82.9h1.0M206.1 61.3h1.0M216.0 71.7h1.0M205.8 90.6h1.0M209.7 64.3h1.0M206.7 72.9h1.0M203.7 68.7h1.0M200.0 68.9h1.0M205.5 68.2h1.0M203.9 70.2h1.0M213.1 75.1h1.0M202.1 64.7h1.0M206.1 73.7h1.0M212.0 64.8h1.0M207.8 73.8h1.0M211.2 72.1h1.0M213.0 64.2h1.0M199.2 71.6h1.0M206.1 65.0h1.0M203.1 64.4h1.0M215.9 77.8h1.0M207.8 57.2h1.0M211.2 73.8h1.0M217.8 74.4h1.0M206.5 65.9h1.0M208.8 77.7h1.0M210.7 76.3h1.0M206.9 61.0h1.0M215.3 73.3h1.0M212.9 73.0h1.0M213.9 64.4h1.0M208.7 74.1h1.0M206.5 75.4h1.0M206.5 65.0h1.0M206.4 56.0h1.0M199.4 73.5h1.0M210.4 64.6h1.0M212.9 57.5h1.0M208.4 67.3h1.0M205.7 53.3h1.0M208.6 67.6h1.0M209.7 80.5h1.0M210.2 49.7h1.0M218.3 72.6h1.0M203.7 63.8h1.0M210.4 67.0h1.0M212.2 63.3h1.0M208.8 74.5h1.0M207.1 70.0h1.0M202.8 64.9h1.0M205.2 61.0h1.0M212.3 66.7h1.0M216.4 77.6h1.0M204.8 61.7h1.0M211.0 72.8h1.0M211.3 72.2h1.0M213.9 55.5h1.0M209.8 77.7h1.0M210.8 69.6h1.0M213.3 85.5h1.0M202.0 82.8h1.0M208.7 68.2h1.0M198.7 69.6h1.0M197.6 63.6h1.0M200.1 58.8h1.0M212.8 92.3h1.0M206.6 82.8h1.0M205.8 65.5h1.0M207.1 58.2h1.0M212.1 66.2h1.0M213.6 65.0h1.0M208.1 67.5h1.0M207.0 57.8h1.0M208.7 65.1h1.0M220.2 74.7h1.0M195.9 78.5h1.0M201.3 52.7h1.0M210.9 74.0h1.0M209.0 63.4h1.0M215.3 62.8h1.0M215.8 70.6h1.0M219.7 66.6h1.0M203.4 81.6h1.0M211.7 81.6h1.0M206.7 70.7h1.0M213.8 67.1h1.0M209.2 93.4h1.0M213.3 94.2h1.0M203.8 78.2h1.0M209.1 72.4h1.0M205.1 84.9h1.0M206.6 89.7h1.0M205.5 68.4h1.0M202.1 93.5h1.0M214.7 72.3h1.0M209.9 85.8h1.0M214.5 68.5h1.0M202.3 74.8h1.0M196.7 69.1h1.0M204.3 74.3h1.0M207.2 85.0h1.0M212.8 64.3h1.0M214.4 70.8h1.0M215.3 79.9h1.0M217.2 69.0h1.0M212.4 96.1h1.0M208.8 58.2h1.0M203.7 101.5h1.0M212.2 66.9h1.0M205.2 84.6h1.0M203.4 91.6h1.0M211.6 79.8h1.0M209.4 58.7h1.0M213.2 70.4h1.0M203.9 74.8h1.0M215.0 80.2h1.0M210.3 84.7h1.0M207.2 86.2h1.0M203.7 90.0h1.0M201.8 63.7h1.0M200.1 84.8h1.0M216.4 55.1h1.0M199.8 75.6h1.0M211.9 62.4h1.0M206.7 54.6h1.0M204.8 84.0h1.0M205.4 73.7h1.0M207.6 84.8h1.0M213.5 56.8h1.0M211.5 60.8h1.0M208.1 72.9h1.0M200.1 66.8h1.0M197.7 74.8h1.0M219.1 67.2h1.0M202.2 70.3h1.0M198.9 61.6h1.0M214.8 88.0h1.0M199.3 70.5h1.0M212.5 61.1h1.0M213.6 81.4h1.0M209.6 79.3h1.0M213.8 76.4h1.0M200.0 76.5h1.0M200.9 69.7h1.0M207.0 72.6h1.0M208.1 49.9h1.0M207.6 57.0h1.0M210.9 60.6h1.0M203.8 77.1h1.0M195.6 87.3h1.0M210.5 72.2h1.0M206.8 71.1h1.0M212.9 86.3h1.0M220.4 70.0h1.0M208.6 81.2h1.0M211.6 78.7h1.0M202.9 59.5h1.0M213.5 77.5h1.0M210.1 76.3h1.0M209.6 61.5h1.0M213.5 62.7h1.0M201.5 60.1h1.0M211.5 89.0h1.0M210.8 97.1h1.0M217.5 81.7h1.0M197.5 91.2h1.0M207.6 59.3h1.0M221.0 89.4h1.0M205.7 95.6h1.0M205.6 91.7h1.0M218.6 63.7h1.0M222.9 85.9h1.0M208.8 72.8h1.0M203.9 85.8h1.0M204.6 67.0h1.0M205.8 74.2h1.0M203.2 67.8h1.0M203.4 79.2h1.0M209.2 72.9h1.0M208.4 86.2h1.0M210.9 83.0h1.0M208.3 78.6h1.0M201.0 73.6h1.0M212.5 70.7h1.0M209.6 74.1h1.0M204.7 82.2h1.0M206.5 75.4h1.0M210.0 77.2h1.0M208.6 73.6h1.0M207.4 73.2h1.0M212.6 66.7h1.0M214.4 53.5h1.0M206.3 80.3h1.0M208.0 80.2h1.0M201.6 63.4h1.0M207.1 95.0h1.0M210.9 61.2h1.0M213.2 85.0h1.0M209.1 76.8h1.0M207.6 77.5h1.0M203.9 86.5h1.0M209.4 84.1h1.0M201.7 74.3h1.0M208.9 62.4h1.0M208.2 60.7h1.0M202.8 76.1h1.0M210.0 91.4h1.0M206.9 83.7h1.0M211.6 73.7h1.0M205.3 77.7h1.0M211.0 81.6h1.0M217.3 92.9h1.0M209.2 65.7h1.0M212.8 82.0h1.0M204.3 77.1h1.0M206.0 65.7h1.0M197.0 62.9h1.0M207.2 88.0h1.0M201.5 77.7h1.0M208.8 71.7h1.0M196.0 75.1h1.0M203.0 84.8h1.0M208.6 75.1h1.0M210.4 91.7h1.0M198.4 71.2h1.0M205.7 65.4h1.0M223.2 72.8h1.0M212.7 63.8h1.0M209.0 70.2h1.0M191.9 87.5h1.0M202.7 92.8h1.0M211.2 81.0h1.0M209.5 76.2h1.0M210.8 64.1h1.0M213.7 63.1h1.0M208.7 78.1h1.0M213.1 75.9h1.0M197.6 67.7h1.0M222.8 69.2h1.0M206.3 91.2h1.0M204.3 84.9h1.0M216.9 74.6h1.0M211.6 76.6h1.0M213.8 88.1h1.0M204.4 78.0h1.0M209.7 76.7h1.0M212.3 56.8h1.0M201.4 55.5h1.0M206.8 53.1h1.0M206.6 49.3h1.0M206.4 73.9h1.0M204.0 77.7h1.0M200.7 64.5h1.0M210.6 78.9h1.0M209.5 78.9h1.0M214.9 73.2h1.0M207.7 57.9h1.0M204.1 89.9h1.0M199.6 89.2h1.0M208.6 67.7h1.0M206.2 95.4h1.0M219.9 74.6h1.0M221.5 65.4h1.0M217.3 69.6h1.0M202.8 53.7h1.0M199.9 70.2h1.0M206.7 56.5h1.0M202.8 86.5h1.0M216.4 77.6h1.0M208.7 58.8h1.0M205.7 80.4h1.0M208.0 55.2h1.0M215.4 75.8h1.0M202.5 79.3h1.0M210.9 74.8h1.0M200.3 61.7h1.0M206.8 72.8h1.0M204.2 72.0h1.0M209.9 74.7h1.0M209.0 90.4h1.0M215.1 92.7h1.0M212.1 91.4h1.0M204.5 67.1h1.0M200.3 65.8h1.0M203.3 74.3h1.0M205.5 78.8h1.0M206.7 51.4h1.0M203.6 67.3h1.0M214.4 93.7h1.0M213.5 60.4h1.0M206.5 65.9h1.0M205.1 66.3h1.0M206.7 79.4h1.0M207.8 73.3h1.0M207.9 70.5h1.0M198.5 57.3h1.0M205.5 80.7h1.0M197.0 74.1h1.0M208.2 66.7h1.0M212.0 74.3h1.0M201.8 82.7h1.0M209.0 57.8h1.0M204.4 57.0h1.0M204.0 62.8h1.0M219.6 64.4h1.0M213.3 40.5h1.0M210.9 67.4h1.0M205.5 86.3h1.0M210.4 70.4h1.0M206.9 85.2h1.0M210.7 42.4h1.0M202.8 72.8h1.0M207.6 89.3h1.0M205.7 91.3h1.0" stroke="#000" stroke-width="1.0" stroke-opacity="0.5" fill="none"/>
<path d="M197.5 109.5h1.2M226.7 157.8h1.2M211.4 126.5h1.2M212.6 142.6h1.2M227.0 123.5h1.2M200.5 140.3h1.2M209.4 115.1h1.2M191.8 114.2h1.2M210.9 119.2h1.2M210.1 125.4h1.2M200.7 125.4h1.2M200.1 129.9h1.2M205.5 141.4h1.2M205.1 126.8h1.2M219.6 148.9h1.2M205.0 124.9h1.2M205.7 144.8h1.2M205.5 154.6h1.2M194.1 161.0h1.2M203.0 105.0h1.2M196.1 160.8h1.2M208.0 108.4h1.2M189.4 156.2h1.2M197.9 134.7h1.2M209.0 140.2h1.2M190.1 120.7h1.2M194.5 148.9h1.2M214.9 145.2h1.2M196.3 126.6h1.2M206.9 125.6h1.2M209.4 147.8h1.2M198.4 150.4h1.2M255.2 88.7h1.2M232.2 86.6h1.2M239.9 92.5h1.2" stroke="#000" stroke-width="1.2" stroke-opacity="0.27" fill="none"/>
<path d="M47.9 111.0H175.0M186.3 111.0H312.1M87.0 35.4V162.4M225.2 35.4V162.4" stroke="#404040" stroke-width="0.8" fill="none"/>
<rect x="47.9" y="35.4" width="127.1" height="127.0" fill="none" stroke="#000" stroke-width="1.4"/>
<rect x="186.3" y="35.4" width="125.80000000000001" height="127.0" fill="none" stroke="#000" stroke-width="1.4"/>
<path d="M47.9 124.7h-2.4M47.9 119.4h-2.4M47.9 115.7h-2.4M47.9 112.8h-2.4M47.9 110.5h-2.4M47.9 108.5h-2.4M47.9 106.8h-2.4M47.9 105.3h-2.4M47.9 95.3h-2.4M47.9 90.3h-2.4M47.9 86.7h-2.4M47.9 84.0h-2.4M47.9 81.7h-2.4M47.9 79.8h-2.4M47.9 78.2h-2.4M47.9 76.7h-2.4M47.9 66.9h-2.4M47.9 62.0h-2.4M47.9 58.5h-2.4M47.9 55.8h-2.4M47.9 53.5h-2.4M47.9 51.7h-2.4M47.9 50.0h-2.4M47.9 48.6h-2.4M47.9 47.3h-4.0M47.9 75.4h-4.0M47.9 103.9h-4.0M47.9 133.6h-4.0M47.9 147.0h-4.0M47.9 138.5h-2.4M47.9 141.5h-2.4M47.9 144.5h-2.4M47.9 150.0h-2.4M47.9 153.0h-2.4M47.9 156.0h-2.4M47.9 159.0h-2.4M47.9 38.8h-2.4M86.0 162.4v1.7M91.3 162.4v1.7M95.1 162.4v1.7M98.0 162.4v1.7M100.3 162.4v1.7M102.4 162.4v1.7M104.1 162.4v1.7M105.6 162.4v1.7M115.5 162.4v1.7M120.6 162.4v1.7M124.1 162.4v1.7M126.9 162.4v1.7M129.1 162.4v1.7M131.0 162.4v1.7M132.6 162.4v1.7M134.1 162.4v1.7M143.9 162.4v1.7M148.9 162.4v1.7M152.4 162.4v1.7M155.1 162.4v1.7M157.3 162.4v1.7M159.2 162.4v1.7M160.9 162.4v1.7M162.3 162.4v1.7M77.0 162.4v2.7M107.0 162.4v2.7M135.4 162.4v2.7M163.6 162.4v2.7M64.0 162.4v2.7M52 162.4v1.7M55 162.4v1.7M58 162.4v1.7M61 162.4v1.7M67 162.4v1.7M70 162.4v1.7M73 162.4v1.7M172.1 162.4v1.7" stroke="#000" stroke-width="1.05" fill="none"/>
<text x="41.5" y="51.9" font-size="8.9" font-weight="normal" text-anchor="end" fill="#1a1a1a" >10<tspan dy="-3.2" font-size="6.8">5</tspan></text>
<text x="41.5" y="80.0" font-size="8.9" font-weight="normal" text-anchor="end" fill="#1a1a1a" >10<tspan dy="-3.2" font-size="6.8">4</tspan></text>
<text x="41.5" y="108.5" font-size="8.9" font-weight="normal" text-anchor="end" fill="#1a1a1a" >10<tspan dy="-3.2" font-size="6.8">3</tspan></text>
<text x="41.5" y="138.2" font-size="8.9" font-weight="normal" text-anchor="end" fill="#1a1a1a" >10<tspan dy="-3.2" font-size="6.8">2</tspan></text>
<text x="37.4" y="150.1" font-size="8.9" font-weight="normal" text-anchor="end" fill="#1a1a1a" >0</text>
<text x="78.0" y="177.1" font-size="8.4" font-weight="normal" text-anchor="middle" fill="#1a1a1a" >10<tspan dy="-3.0" font-size="6.4">2</tspan></text>
<text x="107.4" y="177.1" font-size="8.4" font-weight="normal" text-anchor="middle" fill="#1a1a1a" >10<tspan dy="-3.0" font-size="6.4">3</tspan></text>
<text x="135.8" y="177.1" font-size="8.4" font-weight="normal" text-anchor="middle" fill="#1a1a1a" >10<tspan dy="-3.0" font-size="6.4">4</tspan></text>
<text x="164.0" y="177.1" font-size="8.4" font-weight="normal" text-anchor="middle" fill="#1a1a1a" >10<tspan dy="-3.0" font-size="6.4">5</tspan></text>
<text x="63.6" y="177.1" font-size="8.4" font-weight="normal" text-anchor="middle" fill="#1a1a1a" >0</text>
<text x="49.4" y="43.8" font-size="8.25" font-weight="normal" text-anchor="start" fill="#000" >57.8</text>
<text x="173.4" y="43.8" font-size="8.25" font-weight="normal" text-anchor="end" fill="#000" >41.8</text>
<text x="49.4" y="160.70000000000002" font-size="8.25" font-weight="normal" text-anchor="start" fill="#000" >0.34</text>
<text x="173.4" y="160.70000000000002" font-size="8.25" font-weight="normal" text-anchor="end" fill="#000" >0.054</text>
<text x="187.8" y="43.8" font-size="8.25" font-weight="normal" text-anchor="start" fill="#000" >99.5</text>
<text x="310.5" y="43.8" font-size="8.25" font-weight="normal" text-anchor="end" fill="#000" >0.079</text>
<text x="187.8" y="160.70000000000002" font-size="8.25" font-weight="normal" text-anchor="start" fill="#000" >0.38</text>
<text x="310.5" y="160.70000000000002" font-size="8.25" font-weight="normal" text-anchor="end" fill="#000" >0</text>
<text x="111.05" y="30.299999999999997" font-size="10.45" font-weight="bold" text-anchor="middle" fill="#000" >CD8<tspan dy="-3.2" font-size="7.5">+</tspan><tspan dy="3.2"> </tspan>+ TCR 4G11</text>
<text x="249.20000000000002" y="30.299999999999997" font-size="10.45" font-weight="bold" text-anchor="middle" fill="#000" >CD8<tspan dy="-3.2" font-size="7.5">+</tspan><tspan dy="3.2"> </tspan>+ Mock</text>
<text x="165.6" y="198.65" font-size="11" font-weight="normal" text-anchor="middle" fill="#000" textLength="113.5" lengthAdjust="spacingAndGlyphs" stroke="#000" stroke-width="0.12">pMHC-tetramer: BOB1<tspan dy="1.8" font-size="8">44</tspan><tspan dy="-1.8">:B7</tspan></text>
<text transform="translate(15.8 110.1) rotate(-90)" font-size="10.2" text-anchor="middle" fill="#000" stroke="#000" stroke-width="0.12" textLength="27" lengthAdjust="spacingAndGlyphs">NGF-R</text>
<path d="M22.8 250.0V394.3H307" fill="none" stroke="#000" stroke-width="1.5"/>
<path d="M22.8 243.4l3.7 8.1l-3.7 -1.7l-3.7 1.7z" fill="#000"/>
<path d="M313.3 394.3l-8 -3.8l1.8 3.8l-1.8 3.8z" fill="#000"/>
<path d="M69.2 271.2h1.0M61.7 285.5h1.0M70.5 287.4h1.0M71.9 295.4h1.0M63.3 288.3h1.0M71.9 311.1h1.0M60.6 284.3h1.0M70.2 292.5h1.0M62.6 279.0h1.0M86.6 277.0h1.0M78.4 283.6h1.0M70.3 288.4h1.0M56.4 293.4h1.0M57.1 259.6h1.0M74.1 296.3h1.0M66.6 299.9h1.0M70.7 298.5h1.0M54.1 294.9h1.0M54.7 286.3h1.0M69.0 291.5h1.0M66.1 298.1h1.0M56.2 278.7h1.0M60.9 292.9h1.0M74.9 290.8h1.0M64.1 285.6h1.0M73.0 302.2h1.0M82.5 279.8h1.0M70.9 277.9h1.0M69.1 286.2h1.0M62.7 281.3h1.0M78.7 297.8h1.0M55.2 272.6h1.0M58.3 275.5h1.0M67.8 289.3h1.0M55.0 293.8h1.0M76.6 275.7h1.0M62.4 298.3h1.0M72.6 269.4h1.0M65.2 295.7h1.0M65.7 278.8h1.0M68.1 282.3h1.0M50.7 303.2h1.0M58.4 286.4h1.0M63.8 281.0h1.0M87.5 287.6h1.0M75.1 302.7h1.0M74.3 286.7h1.0M58.8 280.1h1.0M75.8 287.9h1.0M78.9 275.0h1.0M74.6 280.0h1.0M56.1 292.7h1.0M58.5 282.6h1.0M65.6 290.7h1.0M59.3 296.9h1.0M68.4 300.2h1.0M72.5 271.3h1.0M67.8 285.9h1.0M68.8 276.2h1.0M71.5 291.8h1.0M74.7 288.2h1.0M62.1 286.5h1.0M62.0 282.0h1.0M78.4 277.3h1.0M64.9 271.6h1.0M60.6 295.2h1.0M70.4 284.4h1.0M64.8 286.8h1.0M69.0 289.1h1.0M67.4 293.3h1.0M73.5 302.6h1.0M76.0 284.3h1.0M60.6 292.4h1.0M57.2 272.5h1.0M82.0 282.2h1.0M61.9 280.4h1.0M54.3 281.5h1.0M51.2 297.3h1.0M67.6 287.3h1.0M62.2 287.2h1.0M51.8 287.8h1.0M59.6 284.8h1.0M58.6 284.8h1.0M76.7 280.2h1.0M70.0 281.5h1.0M67.8 282.6h1.0M56.7 285.3h1.0M66.3 270.0h1.0M73.7 286.6h1.0M69.3 285.9h1.0M77.2 289.5h1.0M68.6 276.5h1.0M74.0 277.8h1.0M71.9 293.1h1.0M62.9 280.2h1.0M79.6 289.9h1.0M71.1 280.2h1.0M75.1 275.4h1.0M58.5 274.0h1.0M58.3 281.4h1.0M66.3 282.2h1.0M60.8 275.9h1.0M73.3 298.4h1.0M71.5 286.3h1.0M78.7 278.0h1.0M73.0 299.0h1.0M57.9 294.0h1.0M76.2 279.3h1.0M62.1 277.6h1.0M61.4 285.0h1.0M68.4 292.6h1.0M67.8 274.1h1.0M77.0 295.9h1.0M92.7 281.7h1.0M71.6 293.4h1.0M80.7 284.4h1.0M66.0 290.6h1.0M70.8 291.7h1.0M63.3 297.8h1.0M64.1 280.3h1.0M79.7 302.2h1.0M71.8 275.0h1.0M71.8 288.9h1.0M60.8 292.6h1.0M82.9 285.8h1.0M66.3 294.1h1.0M62.1 272.6h1.0M67.7 286.0h1.0M73.8 294.7h1.0M74.4 286.1h1.0M80.8 276.1h1.0M58.5 288.2h1.0M64.1 288.2h1.0M81.6 277.1h1.0M87.8 296.9h1.0M62.4 282.0h1.0M67.0 277.5h1.0M54.3 288.0h1.0M60.6 281.1h1.0M60.1 285.1h1.0M67.0 288.5h1.0M57.4 283.3h1.0M76.1 291.1h1.0M67.4 289.0h1.0M65.7 297.1h1.0M76.0 277.4h1.0M65.5 287.1h1.0M57.0 289.2h1.0M68.1 288.9h1.0M86.9 267.3h1.0M68.8 277.1h1.0M72.5 289.0h1.0M66.2 291.5h1.0M66.0 286.8h1.0M72.3 287.8h1.0M57.0 283.9h1.0M62.7 280.1h1.0M65.5 299.5h1.0M80.6 291.1h1.0M89.4 284.0h1.0M73.4 280.0h1.0M71.4 300.2h1.0M73.9 283.8h1.0M81.1 278.8h1.0M59.3 297.9h1.0M63.6 273.9h1.0M69.3 285.1h1.0M70.5 291.8h1.0M51.2 284.8h1.0M71.7 281.8h1.0M53.9 291.0h1.0M74.6 275.6h1.0M75.3 284.2h1.0M72.3 276.8h1.0M69.6 298.4h1.0M62.5 284.9h1.0M76.2 285.4h1.0M85.5 281.5h1.0M72.2 291.2h1.0M58.3 282.8h1.0M55.2 289.1h1.0M57.6 297.9h1.0M58.9 297.8h1.0M77.7 272.8h1.0M70.4 298.0h1.0M67.6 282.2h1.0M75.5 288.7h1.0M68.0 287.4h1.0M68.2 288.9h1.0M60.5 281.6h1.0M62.4 291.8h1.0M68.1 295.2h1.0M57.6 282.0h1.0M82.4 285.6h1.0M69.0 293.4h1.0M63.1 296.0h1.0M76.4 288.9h1.0M58.6 289.3h1.0M77.1 290.2h1.0M68.6 283.5h1.0M84.4 288.5h1.0M63.0 284.3h1.0M64.4 283.7h1.0M60.5 266.5h1.0M56.9 271.5h1.0M70.1 289.5h1.0M58.6 293.3h1.0M70.7 290.2h1.0M62.2 287.6h1.0M77.1 283.3h1.0M71.5 282.8h1.0M68.3 286.3h1.0M67.9 299.4h1.0M62.3 274.7h1.0M83.2 280.4h1.0M64.2 284.4h1.0M71.6 269.6h1.0M65.5 276.2h1.0M64.7 295.7h1.0M68.6 290.8h1.0M73.8 284.9h1.0M58.0 298.1h1.0M63.7 278.0h1.0M55.5 303.5h1.0M71.3 285.6h1.0M60.3 281.5h1.0M61.3 296.0h1.0M73.5 290.6h1.0M67.7 288.1h1.0M71.4 285.1h1.0M66.6 270.7h1.0M71.4 268.1h1.0M68.6 286.2h1.0M58.0 295.1h1.0M69.7 279.3h1.0M64.8 287.2h1.0M65.7 272.8h1.0M70.3 273.2h1.0M63.0 286.0h1.0M58.5 292.7h1.0M78.2 292.1h1.0M84.0 295.8h1.0M64.8 279.5h1.0M77.9 284.3h1.0M71.2 292.8h1.0M62.2 277.6h1.0M60.5 283.9h1.0M65.4 286.3h1.0M64.1 286.2h1.0M64.9 293.9h1.0M66.7 289.9h1.0M57.9 282.8h1.0M75.4 265.7h1.0M57.9 293.5h1.0M58.4 295.2h1.0M75.9 290.2h1.0M74.5 288.9h1.0M80.6 289.4h1.0M69.0 296.6h1.0M62.2 282.0h1.0M77.9 285.1h1.0M67.0 277.6h1.0M66.7 284.3h1.0M60.4 279.4h1.0M71.4 278.8h1.0M72.4 285.0h1.0M50.2 295.7h1.0M75.5 259.7h1.0M54.2 297.8h1.0M73.8 285.4h1.0M89.5 279.1h1.0M65.4 288.8h1.0M57.6 284.4h1.0M84.9 284.5h1.0M63.9 298.5h1.0M58.0 288.0h1.0M78.8 288.6h1.0M54.8 285.1h1.0M56.3 278.7h1.0M61.7 285.2h1.0M50.0 280.1h1.0M75.1 295.5h1.0M76.8 283.5h1.0M67.3 292.4h1.0M64.2 297.3h1.0M54.1 295.5h1.0M71.9 279.8h1.0M61.7 300.7h1.0M73.2 269.3h1.0M76.8 297.8h1.0M68.2 264.1h1.0M49.2 279.0h1.0M59.6 285.7h1.0M79.8 279.2h1.0M70.2 267.5h1.0M80.3 272.4h1.0M66.8 271.1h1.0M66.3 291.5h1.0M53.5 296.6h1.0M62.2 297.8h1.0M76.4 287.6h1.0M72.6 285.2h1.0M63.1 282.7h1.0M70.7 309.5h1.0M78.3 295.8h1.0M58.3 291.8h1.0M70.4 288.7h1.0M77.0 294.9h1.0M61.8 269.6h1.0M79.3 292.8h1.0M67.0 281.0h1.0M77.6 265.4h1.0M76.0 295.0h1.0M70.2 279.2h1.0M65.3 289.8h1.0M62.1 279.8h1.0M69.3 282.3h1.0M69.7 299.7h1.0M80.2 288.1h1.0M67.1 289.3h1.0M71.0 272.1h1.0M82.7 293.0h1.0M70.7 280.2h1.0M71.9 289.8h1.0M82.0 276.4h1.0M68.7 289.0h1.0M71.4 290.5h1.0M74.5 272.9h1.0M66.8 288.7h1.0M58.1 278.7h1.0M55.0 297.3h1.0M66.1 289.2h1.0M77.8 285.9h1.0M76.6 311.8h1.0M82.2 292.4h1.0M75.8 282.2h1.0M62.2 293.8h1.0M55.1 289.0h1.0M63.3 297.9h1.0M65.5 277.4h1.0M61.3 303.3h1.0M76.0 281.1h1.0M60.9 283.0h1.0M73.0 279.3h1.0M74.7 283.0h1.0M52.6 303.3h1.0M64.1 287.7h1.0M78.9 276.1h1.0M75.3 284.3h1.0M68.9 288.1h1.0M58.1 294.8h1.0M61.7 283.5h1.0M68.6 287.6h1.0M79.0 310.9h1.0M72.2 284.6h1.0M67.1 287.0h1.0M69.9 275.5h1.0M74.7 293.9h1.0M52.4 282.7h1.0M59.1 302.4h1.0M68.1 296.5h1.0M78.5 292.5h1.0M77.4 281.1h1.0M61.0 283.4h1.0M68.1 282.7h1.0M61.3 287.1h1.0M64.4 283.1h1.0M69.1 281.2h1.0M64.7 287.0h1.0M62.9 286.0h1.0M57.6 283.2h1.0M53.9 294.6h1.0M66.1 295.1h1.0M69.5 281.1h1.0M73.3 304.3h1.0M60.6 289.7h1.0M61.5 297.0h1.0M78.9 301.8h1.0M71.5 273.5h1.0M75.6 290.0h1.0M62.8 294.2h1.0M61.5 296.8h1.0M57.7 293.4h1.0M76.5 294.3h1.0M57.8 273.4h1.0M52.6 278.5h1.0M61.3 291.3h1.0M78.9 267.7h1.0M68.1 281.2h1.0M69.9 284.3h1.0M68.9 289.2h1.0M67.4 293.9h1.0M66.4 288.2h1.0M55.5 279.4h1.0M82.4 276.9h1.0M66.5 289.6h1.0M78.5 290.6h1.0M54.1 290.0h1.0M72.6 287.0h1.0M57.5 287.5h1.0M56.5 274.5h1.0M70.2 285.7h1.0M76.9 292.2h1.0M79.8 275.6h1.0M79.5 289.2h1.0M65.4 292.2h1.0M74.7 306.0h1.0M62.6 285.7h1.0M63.1 284.1h1.0M70.0 275.4h1.0M66.8 276.6h1.0M75.3 271.6h1.0M51.7 271.3h1.0M77.8 291.6h1.0M62.7 286.2h1.0M80.8 288.0h1.0M77.9 271.7h1.0M57.7 268.9h1.0M67.4 270.6h1.0M73.8 299.8h1.0M60.9 296.2h1.0M61.3 274.7h1.0M65.2 287.0h1.0M74.4 287.2h1.0M75.8 277.1h1.0M64.1 280.6h1.0M75.1 294.0h1.0M80.8 291.6h1.0M75.9 293.5h1.0M61.4 289.2h1.0M60.5 287.5h1.0M70.4 290.3h1.0M75.1 284.4h1.0M71.6 300.6h1.0M64.5 288.2h1.0M59.7 291.2h1.0M79.0 284.8h1.0M66.6 280.4h1.0M84.2 284.9h1.0M57.8 283.8h1.0M65.0 279.3h1.0M62.3 293.5h1.0M84.0 302.7h1.0M78.7 288.1h1.0M63.6 285.5h1.0M51.0 280.8h1.0M78.0 272.9h1.0M69.0 291.4h1.0M58.0 291.7h1.0M54.8 279.9h1.0M71.4 286.7h1.0M66.1 278.9h1.0M69.2 298.5h1.0M71.4 287.0h1.0M64.7 290.2h1.0M65.5 301.2h1.0M73.7 266.6h1.0M67.0 289.8h1.0M65.5 288.7h1.0M73.5 283.5h1.0M50.6 287.3h1.0M78.8 296.6h1.0M71.8 280.4h1.0M61.3 281.0h1.0M66.4 301.4h1.0M78.7 294.6h1.0M72.8 290.3h1.0M52.4 294.1h1.0M59.1 287.6h1.0M69.6 283.7h1.0M83.6 284.3h1.0M74.6 288.8h1.0M66.2 282.5h1.0M73.0 272.3h1.0M68.1 285.0h1.0M65.3 289.0h1.0M71.3 285.1h1.0M49.3 293.2h1.0M76.8 288.5h1.0M72.7 294.6h1.0M64.1 287.7h1.0M60.5 285.3h1.0M57.5 292.0h1.0M70.4 294.0h1.0M69.3 282.6h1.0M69.5 279.0h1.0M82.9 297.3h1.0M61.7 290.0h1.0M61.2 282.8h1.0M76.3 288.0h1.0M65.8 298.6h1.0M59.8 301.5h1.0M69.8 275.1h1.0M71.5 273.8h1.0M82.1 256.8h1.0M70.2 291.5h1.0M64.2 300.1h1.0M63.6 288.9h1.0M60.9 284.3h1.0M72.3 293.4h1.0M75.1 278.0h1.0M66.0 292.2h1.0M66.8 298.2h1.0M80.0 296.5h1.0M68.9 292.5h1.0M72.4 281.9h1.0M58.5 284.1h1.0M62.7 278.8h1.0M49.4 303.4h1.0M56.1 297.8h1.0M71.2 285.8h1.0M78.9 285.3h1.0M65.7 288.6h1.0M57.6 281.3h1.0M68.8 290.9h1.0M78.0 290.2h1.0M66.6 290.2h1.0M76.0 286.5h1.0M67.5 264.8h1.0M57.3 285.3h1.0M60.1 274.7h1.0M65.8 272.0h1.0M87.9 304.7h1.0M73.1 281.8h1.0M65.9 284.8h1.0M70.5 283.6h1.0M69.9 278.9h1.0M64.1 300.5h1.0M67.1 270.4h1.0M65.8 290.6h1.0M74.5 280.9h1.0M81.6 296.6h1.0M79.6 293.0h1.0M65.2 287.1h1.0M72.8 273.1h1.0M61.7 293.4h1.0M58.5 295.2h1.0M68.7 291.9h1.0M73.3 283.5h1.0M67.5 291.7h1.0M75.2 279.2h1.0M75.2 288.0h1.0M74.6 289.1h1.0M66.7 284.3h1.0M56.1 278.3h1.0M83.7 283.5h1.0M63.9 278.8h1.0M74.4 275.6h1.0M72.3 295.1h1.0M65.0 285.0h1.0M84.0 280.9h1.0M73.9 281.4h1.0M67.9 289.9h1.0M64.4 283.6h1.0M59.6 280.5h1.0M57.0 289.1h1.0M73.0 287.2h1.0M64.2 278.6h1.0M64.1 277.1h1.0M72.4 297.2h1.0M65.0 283.9h1.0M73.7 296.3h1.0M62.4 291.6h1.0M63.5 285.8h1.0M76.0 283.7h1.0M62.1 300.5h1.0M73.3 280.3h1.0M72.4 282.6h1.0M68.1 279.0h1.0M53.6 285.5h1.0M56.6 278.6h1.0M58.5 287.6h1.0M56.8 275.8h1.0M75.5 290.3h1.0M60.4 289.4h1.0M57.2 288.5h1.0M63.6 281.1h1.0M67.2 297.3h1.0M53.5 304.2h1.0M73.3 284.7h1.0M74.3 279.1h1.0M62.8 291.9h1.0M75.0 283.9h1.0M54.5 288.0h1.0M63.2 291.9h1.0M66.6 274.4h1.0M68.6 292.4h1.0M78.0 276.6h1.0M65.1 275.4h1.0M59.2 283.2h1.0M69.9 298.6h1.0M69.3 280.6h1.0M71.9 289.9h1.0M65.1 278.2h1.0M69.5 291.4h1.0M63.0 289.1h1.0M72.9 295.8h1.0M62.3 287.9h1.0M62.6 286.4h1.0M78.1 269.4h1.0M61.4 289.1h1.0M68.0 292.9h1.0M72.9 287.6h1.0M65.2 287.8h1.0M75.8 290.6h1.0M63.0 293.9h1.0M76.8 277.9h1.0M54.5 286.1h1.0M56.3 290.4h1.0M68.6 288.3h1.0M80.4 277.2h1.0M81.9 268.2h1.0M60.5 289.2h1.0M67.7 292.3h1.0M63.7 300.8h1.0M49.4 290.6h1.0M74.3 278.2h1.0M64.7 290.1h1.0M79.8 284.5h1.0M70.4 280.1h1.0M63.4 273.8h1.0M62.0 270.6h1.0M66.4 280.1h1.0M71.9 282.2h1.0M63.7 286.8h1.0M69.8 287.9h1.0M58.1 303.1h1.0M68.7 285.4h1.0M77.9 297.4h1.0M71.7 279.1h1.0M65.1 279.9h1.0M62.2 281.8h1.0M61.1 270.8h1.0M57.7 300.9h1.0M63.5 288.4h1.0M70.3 292.2h1.0M63.1 301.2h1.0M82.1 289.2h1.0M71.2 300.0h1.0M64.1 265.7h1.0M67.7 297.1h1.0M80.7 288.0h1.0M53.2 281.9h1.0M70.0 295.3h1.0M76.7 279.5h1.0M60.2 269.5h1.0M69.1 301.4h1.0M65.9 263.4h1.0M62.2 300.2h1.0M65.6 291.8h1.0M65.1 280.7h1.0M55.6 284.3h1.0M65.9 288.3h1.0M72.4 285.1h1.0M64.2 275.0h1.0M72.3 273.0h1.0M74.5 295.6h1.0M74.0 274.6h1.0M53.3 276.8h1.0M81.0 305.6h1.0M75.4 278.3h1.0M74.9 274.1h1.0M68.1 277.4h1.0M68.0 292.6h1.0M63.3 279.6h1.0M71.6 284.5h1.0M76.0 265.3h1.0M63.0 280.7h1.0M75.1 285.8h1.0M63.9 286.5h1.0M73.1 298.4h1.0M66.7 290.3h1.0M75.4 260.2h1.0M84.7 270.7h1.0M69.9 277.9h1.0M63.7 283.4h1.0M64.3 286.4h1.0M73.4 291.0h1.0M63.7 271.2h1.0M76.5 265.8h1.0M70.6 292.5h1.0M75.8 276.5h1.0M63.2 265.3h1.0M59.7 277.7h1.0M61.5 282.1h1.0M71.4 274.8h1.0M61.2 275.7h1.0M74.0 294.2h1.0M50.2 276.8h1.0M62.2 288.6h1.0M66.6 287.6h1.0M52.2 283.2h1.0M62.7 306.6h1.0M55.0 274.4h1.0M67.4 308.3h1.0M65.9 277.3h1.0M74.4 282.9h1.0M60.7 288.6h1.0M53.9 296.0h1.0M63.3 292.0h1.0M69.1 282.5h1.0M68.8 282.5h1.0M69.5 295.9h1.0M78.6 298.6h1.0M64.9 281.1h1.0M66.2 296.5h1.0M60.7 291.0h1.0M62.9 288.2h1.0M77.1 275.5h1.0M71.2 274.4h1.0M78.5 260.8h1.0M50.8 282.2h1.0M64.5 289.6h1.0M76.5 270.6h1.0M69.2 300.0h1.0M72.9 300.1h1.0M75.6 276.0h1.0M70.6 284.6h1.0M57.1 285.2h1.0M71.2 280.8h1.0M62.0 281.7h1.0M65.5 300.5h1.0M72.8 286.3h1.0M69.1 286.6h1.0M68.1 286.9h1.0M83.1 279.0h1.0M70.4 291.1h1.0M76.0 281.0h1.0M70.9 277.0h1.0M82.3 290.8h1.0M64.9 269.6h1.0M78.3 280.8h1.0M83.9 281.5h1.0M64.8 284.8h1.0M77.2 271.8h1.0M56.3 278.0h1.0M70.8 284.4h1.0M74.5 290.8h1.0M60.9 285.1h1.0M52.5 284.7h1.0M68.5 278.4h1.0M65.3 286.1h1.0M69.7 261.3h1.0M70.7 291.3h1.0M75.3 293.9h1.0M81.7 285.0h1.0M71.9 277.1h1.0M54.9 298.2h1.0M74.0 279.6h1.0M71.5 297.4h1.0M69.4 283.4h1.0M81.9 278.4h1.0M70.5 283.8h1.0M65.1 280.0h1.0M72.2 284.1h1.0M54.3 290.9h1.0M76.5 283.1h1.0M68.7 281.8h1.0M82.9 284.9h1.0M74.1 288.9h1.0M71.5 285.7h1.0M69.8 290.5h1.0M58.0 291.4h1.0M67.5 288.4h1.0M70.8 292.0h1.0M76.8 285.5h1.0M72.0 295.6h1.0M74.3 289.1h1.0M74.2 292.8h1.0M63.7 284.4h1.0M70.9 273.3h1.0M66.4 282.0h1.0M57.4 286.7h1.0M55.2 289.7h1.0M75.5 285.2h1.0M80.7 298.0h1.0M80.6 273.9h1.0M60.9 270.8h1.0M81.3 283.6h1.0M81.8 279.3h1.0M61.7 286.4h1.0M72.5 291.3h1.0M83.1 308.6h1.0M69.1 274.4h1.0M78.6 276.0h1.0M63.0 285.6h1.0M65.4 273.2h1.0M75.9 278.9h1.0M66.9 297.0h1.0M69.4 285.3h1.0M69.1 285.6h1.0M59.5 295.9h1.0M81.3 270.4h1.0M67.2 287.0h1.0M65.5 285.6h1.0M64.5 288.4h1.0M68.9 277.2h1.0M60.3 282.5h1.0M75.8 284.6h1.0M65.4 292.3h1.0M75.2 279.2h1.0M60.7 291.5h1.0M59.5 267.9h1.0M60.4 289.9h1.0M70.3 292.4h1.0M56.9 278.6h1.0M75.6 283.0h1.0M65.5 286.0h1.0M76.1 287.9h1.0M65.0 296.3h1.0M75.3 287.1h1.0M59.4 284.3h1.0M58.8 284.6h1.0M73.4 287.9h1.0M63.5 292.8h1.0M77.5 287.6h1.0M62.3 281.4h1.0M72.7 282.7h1.0M61.2 279.4h1.0M53.2 279.1h1.0M80.7 281.0h1.0M66.5 281.0h1.0M76.7 292.0h1.0M69.8 275.5h1.0M53.4 287.2h1.0M71.7 275.6h1.0M77.6 292.2h1.0M79.5 287.9h1.0M82.5 295.9h1.0M71.6 290.3h1.0M67.4 277.1h1.0M68.9 286.1h1.0M58.1 281.0h1.0M74.6 281.1h1.0M74.5 276.8h1.0M71.3 283.1h1.0M61.5 287.0h1.0M73.8 287.4h1.0M63.4 307.3h1.0M79.0 283.9h1.0M63.0 286.9h1.0M63.6 285.3h1.0M65.4 283.8h1.0M59.3 283.7h1.0M60.4 286.7h1.0M65.8 284.3h1.0M85.6 288.6h1.0M71.4 278.2h1.0M70.7 285.7h1.0M60.5 288.9h1.0M69.8 283.4h1.0M68.1 283.9h1.0M69.0 285.0h1.0M55.3 291.7h1.0M67.1 287.4h1.0M51.7 282.1h1.0M66.4 285.5h1.0M60.4 296.7h1.0M62.9 278.0h1.0M65.3 291.6h1.0M75.4 283.4h1.0M78.8 316.7h1.0M68.4 291.2h1.0M58.8 286.8h1.0M81.1 284.3h1.0M55.9 273.6h1.0M63.3 281.8h1.0M66.3 302.9h1.0M61.7 289.2h1.0M79.7 282.9h1.0M71.6 285.6h1.0M77.5 285.8h1.0M65.5 278.0h1.0M75.7 286.4h1.0M66.8 290.2h1.0M66.8 273.5h1.0M70.7 283.7h1.0M71.5 262.7h1.0M73.1 271.4h1.0M66.2 293.0h1.0M55.0 296.9h1.0M65.3 301.7h1.0M65.6 285.3h1.0M61.0 283.4h1.0M75.2 294.5h1.0M85.5 285.7h1.0M65.0 291.1h1.0M54.1 282.8h1.0M71.7 293.9h1.0M72.3 282.8h1.0M71.7 295.0h1.0M87.0 286.5h1.0M60.8 288.2h1.0M70.6 276.2h1.0M69.3 272.9h1.0M62.1 273.0h1.0M70.5 289.9h1.0M79.0 267.3h1.0M60.6 297.7h1.0M71.9 283.0h1.0M76.8 274.2h1.0M73.7 288.5h1.0M54.1 276.2h1.0M70.5 286.1h1.0M64.6 283.8h1.0M78.7 295.4h1.0M66.9 293.5h1.0M85.1 292.9h1.0M57.3 282.6h1.0M72.4 296.1h1.0M60.4 285.7h1.0M83.5 286.1h1.0M81.7 288.9h1.0M60.0 288.6h1.0M74.6 274.4h1.0M67.6 291.3h1.0M53.8 273.3h1.0M58.9 290.3h1.0M68.9 285.3h1.0M72.5 286.3h1.0M64.7 276.9h1.0M70.6 294.1h1.0M70.7 284.5h1.0M70.5 292.8h1.0M57.7 280.3h1.0M69.2 279.8h1.0M72.7 286.2h1.0M55.0 295.1h1.0M81.4 274.2h1.0M80.7 280.4h1.0M69.4 281.6h1.0M86.2 282.7h1.0M61.0 282.4h1.0M59.8 295.3h1.0M62.6 292.1h1.0M61.8 286.4h1.0M84.1 292.1h1.0M68.4 294.5h1.0M67.5 280.8h1.0M71.2 279.6h1.0M81.9 291.0h1.0M69.5 303.6h1.0M64.7 266.2h1.0M70.4 280.6h1.0M79.0 291.9h1.0M66.3 279.2h1.0M80.3 292.5h1.0M70.7 287.6h1.0M66.5 275.5h1.0M72.3 281.8h1.0M85.3 288.1h1.0M65.9 278.5h1.0M80.0 290.2h1.0M73.0 288.2h1.0M69.4 283.3h1.0M68.5 289.1h1.0M75.2 282.5h1.0M73.4 287.5h1.0M71.3 277.4h1.0M73.8 297.4h1.0M60.5 284.0h1.0M62.4 295.9h1.0M59.3 304.3h1.0M65.0 299.3h1.0M66.2 285.8h1.0M64.8 287.4h1.0M72.7 285.3h1.0M59.8 288.9h1.0M65.9 279.1h1.0M75.6 270.3h1.0M82.7 287.8h1.0M68.5 286.3h1.0M78.5 298.2h1.0M80.0 300.5h1.0M59.2 274.9h1.0M70.2 278.0h1.0M58.9 292.8h1.0M64.7 295.9h1.0M71.6 286.8h1.0M57.0 286.9h1.0M72.7 270.2h1.0M66.8 305.1h1.0M65.9 280.1h1.0M72.7 290.4h1.0M60.9 289.1h1.0M53.3 279.1h1.0M68.3 293.1h1.0M61.8 298.5h1.0M66.3 285.6h1.0M58.5 287.6h1.0M59.9 291.8h1.0M59.1 294.6h1.0M56.9 293.7h1.0M60.9 278.8h1.0M61.2 278.4h1.0M68.2 281.3h1.0M62.6 275.1h1.0M54.2 285.0h1.0M73.0 280.1h1.0M57.3 279.4h1.0M60.2 293.7h1.0M65.0 288.9h1.0M68.3 292.8h1.0M68.6 284.5h1.0M70.0 282.3h1.0M66.9 278.7h1.0M77.5 287.5h1.0M75.2 270.4h1.0M63.2 278.8h1.0M66.1 290.9h1.0M56.2 293.6h1.0M73.6 285.1h1.0M66.1 276.3h1.0M84.4 289.9h1.0M62.0 280.0h1.0M81.0 284.2h1.0M60.0 278.2h1.0M53.4 301.9h1.0M60.5 298.8h1.0M70.8 278.7h1.0M76.7 275.7h1.0M60.3 285.8h1.0M76.2 290.7h1.0M63.4 296.6h1.0M63.4 285.6h1.0M65.3 275.6h1.0M82.1 287.6h1.0M69.4 288.0h1.0M70.5 272.4h1.0M54.8 284.3h1.0M69.3 283.3h1.0M70.3 277.5h1.0M81.9 287.0h1.0M60.4 295.1h1.0M61.8 294.7h1.0M59.9 278.8h1.0M62.2 281.2h1.0M73.6 291.4h1.0M61.0 283.4h1.0M78.8 282.4h1.0M68.1 304.4h1.0M60.0 264.8h1.0M62.2 280.7h1.0M56.0 279.4h1.0M55.3 286.1h1.0M77.7 299.7h1.0M75.4 284.3h1.0M59.3 283.9h1.0M63.9 287.4h1.0M81.6 282.6h1.0M61.5 289.4h1.0M69.7 307.1h1.0M72.2 279.9h1.0M66.1 284.2h1.0M66.2 285.3h1.0M64.9 268.4h1.0M68.8 290.9h1.0M54.3 286.0h1.0M68.2 269.4h1.0M69.3 283.5h1.0M56.3 287.8h1.0M71.6 278.2h1.0M59.7 295.4h1.0M51.0 274.2h1.0M68.5 292.6h1.0M72.5 284.5h1.0M64.0 287.2h1.0M55.2 273.0h1.0M66.3 274.3h1.0M75.6 277.0h1.0M67.3 284.6h1.0M55.0 285.4h1.0M71.7 297.2h1.0M65.9 298.9h1.0M66.2 287.0h1.0M68.2 285.0h1.0M72.5 301.6h1.0M66.7 286.4h1.0M59.4 294.8h1.0M66.7 281.8h1.0M68.8 284.9h1.0M77.8 283.0h1.0M57.1 280.6h1.0M66.5 289.1h1.0M60.1 279.3h1.0M70.0 284.8h1.0M62.9 289.6h1.0M75.8 269.5h1.0M61.9 286.8h1.0M58.2 291.8h1.0M54.6 283.6h1.0M58.4 293.6h1.0M56.5 290.9h1.0M66.4 290.0h1.0M68.9 282.3h1.0M67.0 284.1h1.0M70.7 283.8h1.0M60.5 277.9h1.0M72.8 287.1h1.0M66.7 277.0h1.0M71.4 277.9h1.0M72.9 274.0h1.0M64.5 295.3h1.0M78.3 280.6h1.0M74.5 278.1h1.0M64.1 292.7h1.0M82.8 281.6h1.0M82.0 288.0h1.0M54.4 285.0h1.0M62.3 287.7h1.0M71.7 267.5h1.0M75.7 297.8h1.0M73.4 294.0h1.0M67.6 273.6h1.0M76.0 292.9h1.0M73.8 283.7h1.0M63.9 287.0h1.0M69.3 296.5h1.0M76.8 293.7h1.0M62.2 294.3h1.0M62.3 302.9h1.0M60.5 295.3h1.0M80.3 280.2h1.0M73.5 274.9h1.0M75.0 292.5h1.0M64.5 271.7h1.0M67.5 282.9h1.0M78.2 282.3h1.0M65.3 280.1h1.0M77.9 296.7h1.0M67.6 288.6h1.0M67.6 284.0h1.0M72.5 293.1h1.0M75.1 282.1h1.0M82.8 295.2h1.0M64.8 303.1h1.0M82.3 284.0h1.0M61.2 284.8h1.0M60.4 295.9h1.0M75.0 275.0h1.0M80.5 276.6h1.0M57.5 272.8h1.0M65.0 286.0h1.0M65.6 288.4h1.0M54.5 286.3h1.0M68.4 285.6h1.0M70.4 293.4h1.0M63.5 295.0h1.0M59.1 296.7h1.0M69.0 284.6h1.0M72.9 285.7h1.0M55.7 298.8h1.0M67.0 289.3h1.0M72.6 296.6h1.0M70.6 285.3h1.0M82.6 279.7h1.0M56.8 286.2h1.0M79.0 288.8h1.0M65.3 282.2h1.0M73.0 302.0h1.0M66.5 273.5h1.0M58.0 293.6h1.0M53.1 277.5h1.0M88.3 287.3h1.0M56.3 280.0h1.0M65.5 286.6h1.0M80.1 285.8h1.0M70.5 279.0h1.0M69.4 275.6h1.0M50.6 280.7h1.0M62.5 286.3h1.0M56.4 293.2h1.0M52.4 300.0h1.0M71.0 271.3h1.0M75.0 289.3h1.0M61.2 282.2h1.0M62.3 286.2h1.0M71.6 288.3h1.0M75.4 292.1h1.0M58.8 289.7h1.0M77.9 285.1h1.0M75.9 298.5h1.0M67.9 288.2h1.0M58.3 286.3h1.0M72.7 295.1h1.0M73.8 276.0h1.0M83.0 277.2h1.0M62.7 298.2h1.0M81.5 283.5h1.0M64.8 271.1h1.0M72.4 292.2h1.0M66.9 295.9h1.0M68.6 279.3h1.0M80.5 274.3h1.0M62.0 285.6h1.0M75.0 288.4h1.0M65.6 280.9h1.0M67.6 278.2h1.0M61.7 290.4h1.0M69.6 290.1h1.0M50.7 273.4h1.0M65.6 276.6h1.0M76.6 282.6h1.0M75.1 280.1h1.0M53.9 288.2h1.0M58.2 290.5h1.0M64.3 301.4h1.0M84.1 287.9h1.0M64.2 293.6h1.0M67.8 272.8h1.0M65.8 280.1h1.0M70.5 294.4h1.0M60.0 274.0h1.0M70.1 296.8h1.0M72.0 290.1h1.0M76.9 286.4h1.0M60.3 285.1h1.0M75.7 275.6h1.0M84.5 275.9h1.0M74.7 281.0h1.0M73.8 281.8h1.0M79.5 276.6h1.0M84.5 279.7h1.0M78.5 270.7h1.0M72.3 286.8h1.0M75.1 285.3h1.0M61.8 301.9h1.0M64.4 290.3h1.0M77.5 278.1h1.0M70.2 287.4h1.0M49.2 289.0h1.0M69.9 285.1h1.0M71.0 276.5h1.0M59.8 288.9h1.0M71.2 275.4h1.0M70.1 284.9h1.0M52.3 283.9h1.0M72.4 263.9h1.0M86.6 289.8h1.0M83.1 302.6h1.0M58.1 283.1h1.0M56.5 281.1h1.0M68.5 293.4h1.0M70.4 274.6h1.0M56.3 286.4h1.0M61.5 288.0h1.0M79.8 280.4h1.0M70.1 284.9h1.0M77.0 278.2h1.0M67.7 280.9h1.0M76.9 290.7h1.0M63.3 278.6h1.0M63.4 281.1h1.0M59.7 280.3h1.0M51.2 290.7h1.0M64.5 282.7h1.0M56.1 279.2h1.0M63.8 288.6h1.0M69.2 268.9h1.0M69.4 269.8h1.0M71.4 287.9h1.0M64.5 301.3h1.0M67.4 281.6h1.0M78.0 288.0h1.0M66.6 274.2h1.0M68.2 286.7h1.0M58.3 290.9h1.0M77.5 279.0h1.0M60.3 302.1h1.0M58.5 278.2h1.0M76.3 297.9h1.0M57.2 277.3h1.0M76.5 291.8h1.0M67.0 296.9h1.0M62.4 304.0h1.0M49.9 285.6h1.0M79.5 271.4h1.0M52.0 293.5h1.0M57.1 280.3h1.0M74.7 276.4h1.0M57.0 281.4h1.0M72.3 277.9h1.0M67.5 292.1h1.0M65.5 287.4h1.0M58.6 291.9h1.0M62.0 293.2h1.0M70.2 282.4h1.0M59.2 292.0h1.0M73.4 295.6h1.0M69.9 301.1h1.0M72.6 286.9h1.0M69.8 283.5h1.0M72.7 277.8h1.0M71.2 282.3h1.0M75.1 285.5h1.0M71.1 287.7h1.0M70.6 274.4h1.0M59.8 282.8h1.0M52.7 284.8h1.0M68.3 280.8h1.0M76.2 280.3h1.0M59.7 289.1h1.0M53.9 278.4h1.0M63.0 289.9h1.0M71.0 276.7h1.0M75.3 287.2h1.0M65.0 276.7h1.0M57.5 296.1h1.0M67.3 292.0h1.0M73.8 296.6h1.0M67.3 278.8h1.0M76.7 274.4h1.0M63.4 275.0h1.0M75.4 283.5h1.0M82.1 293.9h1.0M59.1 292.1h1.0M60.2 291.8h1.0M73.5 275.2h1.0M72.2 291.7h1.0M67.6 281.2h1.0M79.3 264.0h1.0M66.8 279.2h1.0M53.7 285.4h1.0M59.5 299.3h1.0M79.6 287.0h1.0M53.1 286.0h1.0M55.3 299.6h1.0M75.0 298.4h1.0M69.1 288.9h1.0M78.4 290.4h1.0M58.5 296.7h1.0M61.4 280.1h1.0M64.8 289.3h1.0M57.0 282.8h1.0M65.8 277.8h1.0M66.3 290.0h1.0M75.4 294.6h1.0M67.0 301.5h1.0M64.3 292.5h1.0M72.1 295.1h1.0M77.5 283.8h1.0M76.9 272.8h1.0M70.2 280.4h1.0M64.5 289.3h1.0M63.7 281.1h1.0M56.4 302.4h1.0M68.4 296.0h1.0M67.6 284.2h1.0M82.2 299.6h1.0M69.7 291.2h1.0M74.4 299.3h1.0M79.3 283.8h1.0M51.4 293.3h1.0M62.2 284.2h1.0M65.7 286.1h1.0M68.9 295.4h1.0M57.9 302.4h1.0M75.3 286.6h1.0M75.7 288.0h1.0M72.2 278.3h1.0M73.8 283.8h1.0M58.2 290.5h1.0M77.8 274.9h1.0M62.5 282.5h1.0M51.3 277.4h1.0M68.9 287.5h1.0M71.5 293.2h1.0M61.8 289.1h1.0M53.3 284.3h1.0M57.7 277.9h1.0M66.5 272.4h1.0M76.8 298.2h1.0M76.6 283.2h1.0M66.2 285.4h1.0M77.1 281.7h1.0M66.4 276.5h1.0M57.8 295.3h1.0M73.4 291.6h1.0M72.7 273.3h1.0M59.7 275.9h1.0M55.4 297.8h1.0M59.2 279.0h1.0M78.1 285.0h1.0M65.1 277.4h1.0M62.0 279.6h1.0M73.1 280.6h1.0M70.6 276.4h1.0M65.8 302.0h1.0M75.1 307.4h1.0M60.3 288.2h1.0M67.3 291.6h1.0M57.5 291.2h1.0M68.4 285.2h1.0M57.8 283.4h1.0M56.4 293.1h1.0M72.9 275.4h1.0M66.4 279.0h1.0M71.2 291.7h1.0M83.0 273.4h1.0M69.4 299.5h1.0M71.8 283.4h1.0M57.3 288.0h1.0M75.2 296.7h1.0M75.3 285.2h1.0M58.6 287.5h1.0M73.6 280.7h1.0M70.6 290.1h1.0M65.9 291.9h1.0M68.6 278.5h1.0M89.1 290.4h1.0M62.1 294.4h1.0M64.9 290.1h1.0M68.7 279.6h1.0M66.2 293.9h1.0M51.8 298.3h1.0M73.5 281.5h1.0M75.9 270.1h1.0M83.0 279.2h1.0M62.9 286.3h1.0M56.8 297.5h1.0M73.6 295.7h1.0M58.8 292.2h1.0M67.8 280.5h1.0M64.3 292.5h1.0M69.5 285.8h1.0M63.9 277.5h1.0M74.0 270.5h1.0M59.7 294.8h1.0M88.8 271.2h1.0M74.7 296.2h1.0M62.3 305.2h1.0M59.4 286.7h1.0M66.2 278.9h1.0M63.7 280.8h1.0M60.6 280.6h1.0M80.1 288.6h1.0M76.4 294.0h1.0M58.3 280.0h1.0M72.8 282.9h1.0M68.0 280.4h1.0M74.6 295.3h1.0M62.0 294.5h1.0M86.6 277.8h1.0M68.5 283.3h1.0M85.4 286.5h1.0M63.7 271.0h1.0M79.7 280.8h1.0M66.9 287.2h1.0M82.5 273.4h1.0M66.3 287.8h1.0M58.5 286.8h1.0M58.4 281.7h1.0M62.3 295.0h1.0M73.2 277.7h1.0M71.2 289.3h1.0M68.9 283.7h1.0M77.2 294.7h1.0M82.3 278.6h1.0M59.1 291.4h1.0M76.8 290.7h1.0M88.3 294.5h1.0M62.5 299.8h1.0M62.9 273.3h1.0M71.5 285.1h1.0M69.9 276.7h1.0M63.2 294.4h1.0M67.3 297.5h1.0M82.1 282.7h1.0M76.0 287.6h1.0M60.8 297.4h1.0M52.9 288.4h1.0M58.2 285.3h1.0M69.5 271.9h1.0M61.0 280.3h1.0M60.5 294.7h1.0M74.3 273.3h1.0M65.4 288.5h1.0M64.6 287.9h1.0M69.8 285.7h1.0M80.7 292.0h1.0M70.6 279.4h1.0M74.0 297.3h1.0M68.7 282.2h1.0M81.6 293.8h1.0M57.2 281.5h1.0M58.1 288.6h1.0M63.5 283.3h1.0M85.8 299.3h1.0M81.5 276.4h1.0M58.3 281.0h1.0M63.9 298.5h1.0M72.8 292.5h1.0M68.6 285.6h1.0M75.8 283.3h1.0M63.6 275.2h1.0M53.4 284.3h1.0M73.4 288.7h1.0M79.0 295.6h1.0M54.5 294.5h1.0M51.5 299.0h1.0M64.0 289.4h1.0M51.6 280.7h1.0M71.8 282.8h1.0M57.8 299.4h1.0M74.5 286.5h1.0M65.0 298.0h1.0M69.2 272.4h1.0M73.8 281.5h1.0M66.2 279.2h1.0M59.1 288.6h1.0M76.0 278.8h1.0M55.1 275.3h1.0M80.4 284.6h1.0M62.6 266.8h1.0M63.4 281.1h1.0M71.5 289.4h1.0M71.7 276.0h1.0M72.5 285.2h1.0M55.1 279.1h1.0M60.3 283.4h1.0M71.0 287.8h1.0M71.3 289.7h1.0M67.2 289.7h1.0M79.4 278.9h1.0M66.5 299.0h1.0M76.3 288.3h1.0M77.6 279.9h1.0M71.1 297.2h1.0M66.3 282.6h1.0M74.5 302.3h1.0M72.0 293.0h1.0M73.5 284.8h1.0M60.4 282.2h1.0M72.1 278.7h1.0M82.0 278.6h1.0M65.5 283.7h1.0M69.3 297.5h1.0M65.9 287.6h1.0M75.8 284.9h1.0M49.9 290.5h1.0M82.1 282.6h1.0M72.5 275.1h1.0M66.1 273.4h1.0M70.5 298.1h1.0M78.0 283.2h1.0M71.3 299.6h1.0M74.0 302.0h1.0M78.6 287.9h1.0M69.6 292.6h1.0M74.6 282.7h1.0M81.0 284.3h1.0M73.0 286.5h1.0M62.7 286.3h1.0M74.9 298.7h1.0M86.0 284.4h1.0M65.3 294.0h1.0M72.1 286.9h1.0M71.9 291.3h1.0M75.9 301.5h1.0M64.5 272.9h1.0M67.9 296.2h1.0M85.2 279.9h1.0M74.2 287.5h1.0M62.7 283.4h1.0M75.0 281.7h1.0M68.7 274.4h1.0M81.6 262.4h1.0M54.0 305.3h1.0M69.0 293.6h1.0M76.7 283.6h1.0M57.1 270.6h1.0M61.6 292.3h1.0M72.3 299.6h1.0M68.5 289.9h1.0M65.5 271.4h1.0M70.8 281.5h1.0M56.0 289.0h1.0M60.8 285.8h1.0M83.3 295.0h1.0M62.5 278.0h1.0M72.0 280.3h1.0M67.7 264.5h1.0M75.7 295.6h1.0M71.0 291.5h1.0M71.7 282.1h1.0M78.3 269.9h1.0M71.0 293.5h1.0M53.3 274.4h1.0M62.4 275.2h1.0M80.6 268.6h1.0M77.4 273.1h1.0M66.1 277.8h1.0M54.3 277.1h1.0M61.9 295.9h1.0M86.3 291.3h1.0M78.6 286.1h1.0M78.8 280.4h1.0M54.1 286.2h1.0M56.3 274.9h1.0M63.0 289.7h1.0M56.4 278.3h1.0M69.1 281.4h1.0M58.6 289.3h1.0M72.3 278.0h1.0M66.2 273.8h1.0M63.3 295.1h1.0M73.8 270.4h1.0M72.0 274.4h1.0M69.3 275.5h1.0M65.0 279.6h1.0M67.7 284.6h1.0M51.4 258.3h1.0M51.1 282.3h1.0M62.3 298.5h1.0M69.3 296.3h1.0M83.5 292.9h1.0M71.6 284.9h1.0M59.5 288.2h1.0M63.9 281.2h1.0M57.1 271.6h1.0M67.7 289.0h1.0M67.3 295.4h1.0M67.8 288.5h1.0M70.5 285.5h1.0M77.2 293.1h1.0M74.1 288.4h1.0M58.1 296.3h1.0M75.4 281.7h1.0M59.3 270.4h1.0M71.4 290.0h1.0M69.0 293.7h1.0M82.7 278.2h1.0M67.2 288.0h1.0M67.3 292.3h1.0M65.7 261.8h1.0M75.6 307.2h1.0M70.8 292.6h1.0M65.8 284.2h1.0M75.4 275.2h1.0M86.4 270.9h1.0M82.3 314.8h1.0M81.2 282.3h1.0M63.5 292.3h1.0M67.4 280.0h1.0M69.6 282.9h1.0M53.4 292.4h1.0M83.1 276.7h1.0M55.7 285.8h1.0M71.7 283.8h1.0M57.5 290.6h1.0M69.3 293.4h1.0M75.4 283.9h1.0M72.7 298.1h1.0M60.7 281.9h1.0M62.6 282.7h1.0M76.2 286.2h1.0M67.6 283.6h1.0M69.2 292.7h1.0M76.3 260.0h1.0M70.4 266.3h1.0M79.1 297.8h1.0M83.7 292.4h1.0M74.2 279.3h1.0M61.9 289.6h1.0M76.6 269.6h1.0M84.4 282.3h1.0M62.7 299.3h1.0M62.0 291.9h1.0M66.9 305.0h1.0M64.7 281.6h1.0M50.6 297.0h1.0M56.9 289.3h1.0M62.8 288.4h1.0M72.0 292.6h1.0M63.7 298.0h1.0M69.8 286.4h1.0M80.0 288.7h1.0M75.8 288.1h1.0M59.8 279.1h1.0M76.8 294.4h1.0M68.2 292.2h1.0M71.2 288.7h1.0M76.5 285.4h1.0M74.9 279.7h1.0M56.9 278.1h1.0M58.3 276.5h1.0M70.5 278.8h1.0M74.3 293.9h1.0M86.4 288.9h1.0M73.4 273.0h1.0M65.0 277.5h1.0M64.0 298.2h1.0M62.0 301.2h1.0M57.0 294.1h1.0M56.9 305.5h1.0M63.4 280.1h1.0M69.0 290.0h1.0M61.5 280.7h1.0M68.3 306.0h1.0M65.7 290.1h1.0M66.2 290.0h1.0M64.4 289.7h1.0M70.7 280.0h1.0M68.3 285.7h1.0M70.4 282.2h1.0M69.1 277.2h1.0M62.9 293.6h1.0M69.6 298.2h1.0M62.1 289.1h1.0M69.2 277.1h1.0M60.6 276.9h1.0M74.0 292.7h1.0M71.1 283.8h1.0M55.6 284.7h1.0M62.1 277.1h1.0M74.2 288.3h1.0M71.6 288.1h1.0M69.3 293.6h1.0M58.3 278.6h1.0M62.3 286.5h1.0M69.5 273.7h1.0M70.7 288.4h1.0M68.0 286.5h1.0M61.0 283.5h1.0M66.1 294.6h1.0M63.8 275.3h1.0M58.1 300.9h1.0M58.6 290.6h1.0M61.1 292.0h1.0M55.2 289.7h1.0M72.1 280.1h1.0M74.7 281.2h1.0M75.7 294.7h1.0M61.4 286.7h1.0M61.6 289.7h1.0M70.2 283.3h1.0M64.0 294.3h1.0M65.4 292.5h1.0M65.4 275.1h1.0M54.2 304.8h1.0M79.0 295.4h1.0M55.7 294.6h1.0M54.5 290.2h1.0M75.0 285.8h1.0M58.6 294.7h1.0M77.3 309.2h1.0M71.0 285.7h1.0M71.1 276.7h1.0M64.8 286.5h1.0M55.9 287.9h1.0M57.8 295.7h1.0M68.9 275.6h1.0M67.1 282.7h1.0M57.6 284.3h1.0M58.2 295.8h1.0M60.6 296.8h1.0M67.5 288.4h1.0M71.8 295.9h1.0M75.8 287.1h1.0M64.8 287.6h1.0M80.3 265.6h1.0M74.2 278.2h1.0M80.7 275.8h1.0M60.5 290.9h1.0M73.0 286.9h1.0M77.3 276.3h1.0M52.8 287.5h1.0M75.9 284.9h1.0M71.6 289.6h1.0M75.9 281.0h1.0M69.5 279.9h1.0M77.8 296.7h1.0M64.4 284.1h1.0M63.6 295.5h1.0M74.2 278.1h1.0M74.2 283.9h1.0M56.5 283.9h1.0M78.3 277.1h1.0M78.1 292.1h1.0M76.8 273.8h1.0M61.8 288.6h1.0M78.8 266.7h1.0M72.4 292.1h1.0M75.9 286.2h1.0M67.6 296.2h1.0M64.3 304.2h1.0M62.0 280.4h1.0M62.8 286.5h1.0M75.7 274.4h1.0M61.4 282.4h1.0M62.8 287.0h1.0M70.8 286.3h1.0M65.8 293.2h1.0M50.5 291.4h1.0M62.4 295.1h1.0M64.9 280.3h1.0M81.7 286.7h1.0M73.7 276.6h1.0M59.5 285.0h1.0M58.6 262.4h1.0M64.1 285.4h1.0M69.9 286.4h1.0M61.4 282.3h1.0M71.7 282.3h1.0M56.0 271.6h1.0M70.8 280.2h1.0M78.2 280.3h1.0M67.8 290.1h1.0M70.2 282.0h1.0M71.8 284.6h1.0M68.9 289.1h1.0M67.4 278.2h1.0M70.4 294.8h1.0M68.9 303.9h1.0M68.8 289.3h1.0M81.4 281.1h1.0M76.7 287.5h1.0M75.9 295.9h1.0M62.6 297.5h1.0M63.9 274.4h1.0M77.0 288.4h1.0M59.1 280.1h1.0M76.7 281.7h1.0M56.5 289.0h1.0M86.1 289.8h1.0M78.6 283.0h1.0M63.3 278.8h1.0M64.1 284.4h1.0M50.6 277.8h1.0M67.6 301.3h1.0M78.1 271.8h1.0M73.2 291.0h1.0M65.8 287.1h1.0M85.4 285.2h1.0M72.7 276.6h1.0M71.5 281.5h1.0M65.5 283.1h1.0M73.0 281.0h1.0M90.3 282.7h1.0M71.8 286.7h1.0M53.8 282.7h1.0M69.9 289.7h1.0M84.3 291.5h1.0M78.1 280.7h1.0M63.6 292.6h1.0M71.0 286.3h1.0M55.5 281.6h1.0M73.4 289.7h1.0M60.5 296.0h1.0M63.5 283.3h1.0M63.2 270.1h1.0M61.9 293.0h1.0M82.4 293.9h1.0M80.6 275.5h1.0M65.6 284.8h1.0M68.8 289.9h1.0M82.3 264.4h1.0M65.6 292.8h1.0M64.2 292.4h1.0M60.8 293.3h1.0M81.3 298.2h1.0M69.4 276.5h1.0M68.1 294.1h1.0M64.4 305.9h1.0M60.2 266.4h1.0M76.1 282.1h1.0M61.4 292.2h1.0M63.6 279.7h1.0M53.7 270.4h1.0M58.6 289.0h1.0M63.6 287.4h1.0M63.8 279.6h1.0M55.1 288.5h1.0M62.7 294.0h1.0M66.8 294.6h1.0M72.9 274.6h1.0M65.6 283.1h1.0M56.5 266.2h1.0M65.6 276.4h1.0M71.7 286.9h1.0M67.9 290.4h1.0M68.3 285.4h1.0M68.0 285.5h1.0M73.4 268.1h1.0M56.3 274.9h1.0M62.9 275.7h1.0M71.2 280.2h1.0M68.1 280.3h1.0M58.8 305.2h1.0M65.5 294.5h1.0M61.9 276.8h1.0M68.1 279.6h1.0M53.8 281.4h1.0M54.1 281.1h1.0M55.6 281.5h1.0M66.7 267.6h1.0M88.9 294.7h1.0M76.2 291.0h1.0M78.3 290.6h1.0M67.9 286.4h1.0M81.4 288.9h1.0M70.9 282.1h1.0M68.4 268.0h1.0M77.1 286.1h1.0M57.5 286.2h1.0M49.2 274.8h1.0M57.7 266.2h1.0M79.8 294.9h1.0M75.5 276.1h1.0M69.4 283.5h1.0M65.8 279.4h1.0M66.4 300.3h1.0M71.1 272.1h1.0M60.5 295.1h1.0M74.4 262.8h1.0M59.5 293.9h1.0M79.3 280.5h1.0M64.9 265.7h1.0M59.9 286.3h1.0M65.4 284.9h1.0M59.9 271.5h1.0M66.7 288.6h1.0M52.4 285.9h1.0M63.6 289.8h1.0M68.4 273.0h1.0M71.1 278.6h1.0M64.5 277.0h1.0M78.1 285.9h1.0M53.4 281.4h1.0M65.9 276.6h1.0M63.6 297.7h1.0M67.7 280.7h1.0M65.5 295.1h1.0M79.6 292.1h1.0M67.7 279.0h1.0M59.9 269.5h1.0M89.0 286.1h1.0M68.1 291.3h1.0M66.4 295.8h1.0M75.3 288.4h1.0M62.7 289.5h1.0M65.8 279.9h1.0M75.1 278.6h1.0M57.6 314.3h1.0M63.9 295.7h1.0M75.8 273.2h1.0M83.1 287.3h1.0M67.1 289.5h1.0M66.9 269.6h1.0M77.1 282.4h1.0M55.1 291.0h1.0M61.8 300.4h1.0M61.0 300.1h1.0M50.2 283.2h1.0M64.3 281.5h1.0M75.5 287.1h1.0M73.5 292.8h1.0M78.6 275.7h1.0M66.5 280.3h1.0M79.2 278.0h1.0M60.3 281.3h1.0M56.6 302.2h1.0M70.7 300.8h1.0M67.9 298.5h1.0M73.2 270.5h1.0M67.7 288.2h1.0M78.4 306.2h1.0M73.7 288.9h1.0M70.0 279.1h1.0M64.6 290.9h1.0M73.8 282.9h1.0M62.1 282.2h1.0M76.0 287.3h1.0M77.7 289.2h1.0M75.9 283.6h1.0M56.8 285.9h1.0M71.6 276.2h1.0M71.0 284.9h1.0M75.3 291.5h1.0M54.5 287.0h1.0M62.7 284.2h1.0M67.1 272.7h1.0M79.8 294.9h1.0M62.7 275.4h1.0M75.5 291.1h1.0M69.1 282.2h1.0M84.4 291.8h1.0M70.6 294.6h1.0M54.0 283.4h1.0M65.4 258.7h1.0M70.0 267.2h1.0M78.7 276.3h1.0M73.5 277.0h1.0M65.4 288.2h1.0M57.0 303.6h1.0M68.1 291.4h1.0M66.8 284.4h1.0M79.3 297.0h1.0M75.8 283.4h1.0M55.8 293.8h1.0M64.3 268.6h1.0M70.2 294.0h1.0M59.5 301.6h1.0M63.4 282.7h1.0M78.1 291.9h1.0M74.2 289.8h1.0M53.0 283.9h1.0M70.9 282.1h1.0M69.2 294.4h1.0M66.1 280.0h1.0M72.7 280.6h1.0M72.9 292.9h1.0M89.3 292.8h1.0M69.9 299.4h1.0M61.6 280.7h1.0M63.6 274.0h1.0M74.1 295.0h1.0M84.5 271.2h1.0M73.1 281.7h1.0M72.5 283.4h1.0M70.2 300.7h1.0M64.1 286.1h1.0M68.5 274.9h1.0M57.5 285.9h1.0M74.3 297.1h1.0M72.0 269.4h1.0M69.5 273.9h1.0M60.5 295.1h1.0M65.7 286.8h1.0M63.0 276.9h1.0M70.5 283.7h1.0M65.4 286.4h1.0M71.0 275.3h1.0M76.0 280.2h1.0M78.9 298.0h1.0M59.1 288.9h1.0M65.0 295.7h1.0M58.5 285.8h1.0M78.7 280.1h1.0M60.6 288.7h1.0M79.6 276.9h1.0M63.6 289.1h1.0M76.8 282.5h1.0M63.3 283.3h1.0M66.0 283.3h1.0M69.0 277.2h1.0M68.7 297.7h1.0M66.7 272.3h1.0M73.7 287.3h1.0M78.3 273.9h1.0M75.4 293.3h1.0M63.8 283.9h1.0M52.0 288.1h1.0M68.9 289.8h1.0M73.8 287.0h1.0M73.3 288.6h1.0M57.5 289.2h1.0M73.0 281.3h1.0M62.3 283.3h1.0M78.9 283.0h1.0M61.4 279.6h1.0M60.8 281.2h1.0M62.3 297.6h1.0M70.0 272.9h1.0M59.0 301.0h1.0M87.4 280.0h1.0M64.8 291.3h1.0M83.1 284.9h1.0M65.5 284.2h1.0M65.2 290.7h1.0M61.9 301.0h1.0M61.4 285.0h1.0M71.8 285.2h1.0M78.3 280.4h1.0M68.9 303.5h1.0M60.3 296.4h1.0M69.8 295.5h1.0M61.2 286.3h1.0M69.1 289.8h1.0M52.9 270.7h1.0M62.5 280.4h1.0M68.4 294.2h1.0M64.5 280.7h1.0M65.7 279.8h1.0M81.3 266.3h1.0M76.2 291.6h1.0M81.0 288.7h1.0M69.8 281.3h1.0M69.9 288.8h1.0M83.2 270.7h1.0M62.6 277.7h1.0M70.8 287.2h1.0M69.1 293.3h1.0M70.5 285.3h1.0M73.1 274.6h1.0M69.0 281.3h1.0M75.0 295.1h1.0M60.7 280.8h1.0M72.2 287.7h1.0M59.0 289.9h1.0M77.2 280.3h1.0M76.4 285.4h1.0M66.2 270.0h1.0M63.6 280.8h1.0M67.7 285.9h1.0M72.7 291.0h1.0M54.9 297.7h1.0M59.3 281.9h1.0M76.0 289.4h1.0M66.1 284.6h1.0M56.9 279.3h1.0M64.1 285.3h1.0M52.8 286.4h1.0M69.0 279.0h1.0M67.2 309.8h1.0M83.6 284.6h1.0M57.1 292.0h1.0M73.3 283.0h1.0M57.6 310.6h1.0M59.0 266.4h1.0M66.0 282.6h1.0M60.5 287.6h1.0M83.4 295.3h1.0M67.3 285.1h1.0M61.3 277.2h1.0M87.6 298.4h1.0M60.9 291.7h1.0M64.5 283.5h1.0M65.9 283.5h1.0M61.1 283.7h1.0M72.9 286.7h1.0M77.9 270.0h1.0M56.7 287.3h1.0M63.5 280.4h1.0M64.4 290.0h1.0M55.7 289.1h1.0M56.4 276.9h1.0M64.5 297.6h1.0M59.9 292.6h1.0M70.3 277.5h1.0M74.6 276.0h1.0M69.2 279.5h1.0M70.0 288.5h1.0M59.7 297.0h1.0M62.4 277.9h1.0M70.9 278.6h1.0M72.5 289.8h1.0M66.8 285.1h1.0M72.2 284.8h1.0M65.4 284.6h1.0M57.6 283.2h1.0M70.2 300.7h1.0M63.9 294.3h1.0M53.0 283.4h1.0M74.7 296.2h1.0M70.8 301.9h1.0M73.7 289.4h1.0M63.5 288.4h1.0M80.2 280.6h1.0M71.6 286.4h1.0M75.8 287.0h1.0M62.0 297.2h1.0M64.9 277.4h1.0M78.4 270.7h1.0M67.3 281.1h1.0M67.7 288.7h1.0M80.2 267.3h1.0M77.4 283.3h1.0M69.5 278.3h1.0M83.7 274.9h1.0M54.9 287.3h1.0M67.0 295.7h1.0M62.9 273.8h1.0M80.1 286.9h1.0M81.0 283.3h1.0M63.5 291.4h1.0M68.8 285.5h1.0M75.5 279.6h1.0M72.0 293.0h1.0M69.9 289.1h1.0M76.1 276.1h1.0M84.1 267.1h1.0M68.7 279.2h1.0M58.3 287.7h1.0M66.7 292.2h1.0M67.3 280.4h1.0M64.5 282.2h1.0M73.6 269.3h1.0M73.8 281.1h1.0M75.3 286.0h1.0M71.7 280.1h1.0M69.9 284.4h1.0M59.0 277.3h1.0M64.8 277.6h1.0M60.4 288.1h1.0M70.4 271.7h1.0M66.7 285.5h1.0M67.3 295.7h1.0M72.1 280.2h1.0M65.2 281.1h1.0M76.7 277.6h1.0M76.5 273.5h1.0M59.7 280.6h1.0M78.7 273.6h1.0M64.8 283.5h1.0M61.6 280.8h1.0M65.0 275.5h1.0M57.0 286.0h1.0M70.5 293.8h1.0M77.8 291.6h1.0M55.0 283.4h1.0M71.3 284.8h1.0M72.6 275.8h1.0M73.2 282.7h1.0M73.1 290.6h1.0M71.3 291.5h1.0M63.8 297.0h1.0M75.2 271.6h1.0M70.5 298.5h1.0M74.4 288.1h1.0M70.3 298.4h1.0M65.5 285.2h1.0M67.3 295.8h1.0M72.8 284.6h1.0M76.4 275.4h1.0M51.7 288.6h1.0M57.0 281.2h1.0M54.0 285.4h1.0M63.2 289.8h1.0M62.1 292.1h1.0M69.3 290.6h1.0M65.1 293.6h1.0M78.8 271.0h1.0M62.5 295.4h1.0M61.7 278.1h1.0M60.8 286.2h1.0M65.1 281.6h1.0M69.0 274.9h1.0M63.6 292.9h1.0M59.9 276.5h1.0M56.2 280.8h1.0M69.2 297.6h1.0M63.0 265.6h1.0M59.4 270.8h1.0M65.4 293.4h1.0M70.4 281.3h1.0M84.8 291.0h1.0M81.2 284.2h1.0M60.2 281.2h1.0M63.8 291.3h1.0M51.2 279.7h1.0M51.2 281.0h1.0M52.1 287.8h1.0M75.2 275.1h1.0M66.3 272.6h1.0M55.3 271.2h1.0M61.9 293.5h1.0M63.4 302.0h1.0M62.0 295.6h1.0M79.8 278.9h1.0M51.4 281.3h1.0M63.8 276.6h1.0M69.6 284.9h1.0M71.6 293.9h1.0M49.3 285.3h1.0M69.1 284.8h1.0M57.0 257.4h1.0M62.7 288.0h1.0M54.2 275.3h1.0M74.0 282.5h1.0M76.0 285.7h1.0M65.1 291.7h1.0M52.9 299.2h1.0M74.9 264.8h1.0M77.6 271.0h1.0M58.4 300.0h1.0M75.5 289.0h1.0M52.5 279.6h1.0M56.9 283.4h1.0M68.8 285.2h1.0M55.9 295.0h1.0M73.9 282.1h1.0M79.6 284.6h1.0M68.1 273.5h1.0M71.7 297.9h1.0M81.0 288.6h1.0M72.0 280.9h1.0M78.6 273.0h1.0M79.7 284.5h1.0M58.9 293.4h1.0M86.1 304.6h1.0M77.7 301.6h1.0M69.0 282.0h1.0M74.7 281.3h1.0M70.5 276.7h1.0M69.8 289.3h1.0M59.5 279.1h1.0M64.5 290.6h1.0M65.1 288.4h1.0M77.0 288.6h1.0M71.9 276.7h1.0M71.3 295.4h1.0M66.9 283.7h1.0M78.5 274.2h1.0M60.3 287.4h1.0M75.9 285.6h1.0M64.4 293.9h1.0M73.3 295.8h1.0M81.2 304.9h1.0M74.6 284.3h1.0M55.6 296.8h1.0M66.0 262.8h1.0M58.3 302.5h1.0M71.9 285.1h1.0M76.6 296.3h1.0M65.9 283.6h1.0M72.2 290.1h1.0M66.2 291.2h1.0M84.0 279.4h1.0M69.0 280.5h1.0M69.9 260.0h1.0M72.7 290.2h1.0M76.8 283.8h1.0M73.8 283.3h1.0M67.7 296.4h1.0M68.4 288.6h1.0M72.2 287.4h1.0M72.9 268.7h1.0M64.8 287.1h1.0M63.1 283.3h1.0M66.0 294.3h1.0M71.9 281.0h1.0M64.2 275.0h1.0M58.9 284.0h1.0M65.2 302.0h1.0M63.9 278.1h1.0M73.1 296.7h1.0M63.7 284.3h1.0M64.6 267.9h1.0M83.7 290.3h1.0M71.7 306.2h1.0M60.3 290.0h1.0M78.0 275.7h1.0M64.9 283.8h1.0M61.2 278.2h1.0M73.4 310.7h1.0M56.2 291.1h1.0M67.5 264.7h1.0M72.7 292.7h1.0M74.2 289.3h1.0M63.6 276.8h1.0M63.8 280.4h1.0M67.3 285.0h1.0M78.1 300.3h1.0M53.0 281.7h1.0M74.9 278.6h1.0M70.5 294.0h1.0M79.4 279.4h1.0M58.7 276.9h1.0M77.7 283.9h1.0M60.8 293.2h1.0M70.5 286.8h1.0M64.8 282.5h1.0M67.6 297.9h1.0M71.3 271.3h1.0M75.2 275.0h1.0M62.8 277.7h1.0M58.3 284.2h1.0M74.0 286.8h1.0M65.1 285.1h1.0M76.8 285.8h1.0M80.0 289.0h1.0M66.1 274.4h1.0M66.6 266.4h1.0M62.0 288.5h1.0M51.1 297.5h1.0M68.0 287.3h1.0M74.1 281.7h1.0M76.9 290.1h1.0M67.9 282.8h1.0M83.5 273.4h1.0M63.7 282.5h1.0M67.9 292.4h1.0M63.5 288.7h1.0M64.4 291.9h1.0M65.8 281.4h1.0M62.3 290.9h1.0M64.6 298.4h1.0M70.5 282.7h1.0M69.0 281.3h1.0M59.4 297.0h1.0M72.3 286.4h1.0M61.3 275.7h1.0M71.9 281.8h1.0M68.7 297.2h1.0M52.1 289.7h1.0M59.5 302.6h1.0M76.1 290.9h1.0M62.7 288.3h1.0M62.6 295.3h1.0M64.5 280.6h1.0M69.1 295.1h1.0M72.9 284.8h1.0M65.7 283.7h1.0M82.3 288.6h1.0M63.4 281.9h1.0M64.2 276.1h1.0M66.6 278.0h1.0M69.5 290.3h1.0M80.4 287.8h1.0M87.8 285.5h1.0M65.3 292.3h1.0M66.7 278.0h1.0M73.5 281.9h1.0M67.1 300.2h1.0M75.4 277.1h1.0M59.2 297.5h1.0M75.3 283.1h1.0M49.8 291.4h1.0M72.6 287.7h1.0M73.8 283.3h1.0M89.0 285.8h1.0M60.5 294.6h1.0M74.0 279.4h1.0M73.6 277.2h1.0M60.2 293.8h1.0M70.3 282.3h1.0M61.0 284.7h1.0M58.3 284.7h1.0M55.4 282.8h1.0M66.3 270.1h1.0M59.3 285.5h1.0M50.6 282.7h1.0M70.5 273.9h1.0M53.7 281.7h1.0M73.9 287.6h1.0M70.1 300.9h1.0M61.1 281.5h1.0M54.7 298.3h1.0M60.4 282.3h1.0M56.7 290.5h1.0M64.8 283.8h1.0M64.9 292.6h1.0M88.9 286.0h1.0M50.3 283.3h1.0M63.0 272.6h1.0M72.8 294.3h1.0M76.7 272.3h1.0M79.4 280.0h1.0M59.7 301.8h1.0M74.8 287.6h1.0M66.1 287.1h1.0M75.3 287.7h1.0M74.1 282.6h1.0M56.0 289.5h1.0M61.0 284.8h1.0M49.7 283.9h1.0M61.7 290.3h1.0M56.3 292.0h1.0M70.3 288.9h1.0M61.5 294.5h1.0M73.1 302.0h1.0M67.0 301.0h1.0M65.1 287.0h1.0M83.0 275.7h1.0M77.9 295.5h1.0M56.7 287.5h1.0M79.8 292.1h1.0M74.5 282.6h1.0M79.3 292.9h1.0M71.8 276.1h1.0M52.6 288.3h1.0M64.8 274.5h1.0M56.0 284.4h1.0M62.0 268.1h1.0M78.8 296.6h1.0M68.3 294.5h1.0M69.8 298.0h1.0M74.3 276.0h1.0M60.2 289.8h1.0M77.4 297.1h1.0M69.9 284.5h1.0M59.7 289.9h1.0M63.0 284.5h1.0M65.9 283.6h1.0M73.2 297.9h1.0M80.1 278.8h1.0M65.3 286.6h1.0M66.0 291.3h1.0M83.4 285.8h1.0M83.4 268.2h1.0M69.6 296.0h1.0M64.9 276.1h1.0M73.8 284.1h1.0M70.6 283.1h1.0M61.1 290.6h1.0M79.6 284.0h1.0M89.7 281.4h1.0M60.7 292.6h1.0M61.2 304.4h1.0M63.6 281.2h1.0M57.1 281.0h1.0M74.9 280.8h1.0M55.6 276.3h1.0M73.7 275.4h1.0M71.4 281.9h1.0M74.4 292.0h1.0M55.2 282.4h1.0M69.2 279.0h1.0M70.3 285.1h1.0M75.6 278.9h1.0M71.2 309.4h1.0M62.9 299.7h1.0M77.8 285.9h1.0M79.9 270.9h1.0M79.6 280.7h1.0M61.5 278.6h1.0M72.5 278.3h1.0M60.1 267.7h1.0M66.5 281.7h1.0M74.5 280.6h1.0M55.6 280.9h1.0M78.5 288.7h1.0M61.3 279.0h1.0M63.0 266.8h1.0M67.3 277.2h1.0M66.7 293.0h1.0M57.5 296.9h1.0M66.8 276.3h1.0M54.6 285.2h1.0M62.6 291.0h1.0M83.5 293.1h1.0M67.4 282.0h1.0M64.6 288.6h1.0M81.6 281.5h1.0M70.7 270.2h1.0M73.4 293.6h1.0M63.0 285.6h1.0M77.5 289.1h1.0M65.1 284.3h1.0M75.6 278.0h1.0M73.5 281.4h1.0M83.0 288.1h1.0M76.6 274.5h1.0M67.8 299.2h1.0M58.8 306.0h1.0M65.3 266.4h1.0M62.0 294.1h1.0M81.3 281.5h1.0M64.1 291.4h1.0M71.3 284.2h1.0M75.0 293.3h1.0M60.0 287.1h1.0M74.2 298.4h1.0M56.5 289.3h1.0M70.1 273.4h1.0M66.6 284.6h1.0M70.7 285.9h1.0M71.6 280.9h1.0M62.1 275.7h1.0M75.0 302.5h1.0M63.6 285.6h1.0M69.0 285.7h1.0M80.3 271.4h1.0M59.9 291.2h1.0M68.6 285.0h1.0M81.9 294.7h1.0M78.9 300.0h1.0M62.0 280.8h1.0M62.6 280.1h1.0M72.7 295.8h1.0M62.2 295.6h1.0M68.6 288.7h1.0M56.0 292.9h1.0M73.5 283.1h1.0M53.9 286.6h1.0M69.1 286.0h1.0M74.1 267.4h1.0M62.1 292.7h1.0M54.2 293.5h1.0M56.8 278.7h1.0M51.2 282.2h1.0M83.6 287.9h1.0M51.1 293.1h1.0M56.7 286.7h1.0M70.8 282.0h1.0M68.4 289.7h1.0M76.9 286.7h1.0M79.5 276.9h1.0M71.9 283.1h1.0M67.4 282.9h1.0M63.0 292.0h1.0M66.3 274.9h1.0M76.2 278.7h1.0M73.3 282.4h1.0M73.4 286.0h1.0M53.2 307.2h1.0M61.2 284.9h1.0M61.9 295.4h1.0M63.2 293.0h1.0M58.7 297.6h1.0M73.9 300.6h1.0M77.2 290.5h1.0M83.9 277.0h1.0M63.3 283.2h1.0M67.1 299.0h1.0M68.8 304.5h1.0M67.9 297.0h1.0M60.6 307.0h1.0M75.0 291.6h1.0M50.2 279.8h1.0M63.7 287.1h1.0M51.2 289.4h1.0M73.5 293.7h1.0M55.7 294.1h1.0M57.8 279.0h1.0M67.8 296.2h1.0M58.8 281.7h1.0M70.1 288.4h1.0M64.5 291.9h1.0M85.2 291.2h1.0M57.2 291.1h1.0M60.8 281.8h1.0M73.0 284.7h1.0M69.0 294.1h1.0M71.9 281.9h1.0M65.4 276.1h1.0M76.3 263.8h1.0M71.0 286.0h1.0M79.6 277.7h1.0M56.0 286.7h1.0M70.2 276.7h1.0M66.0 282.3h1.0M71.5 282.6h1.0M59.7 294.6h1.0M75.1 278.1h1.0M56.2 276.3h1.0M75.8 286.6h1.0M72.8 292.8h1.0M52.1 278.9h1.0M71.5 290.2h1.0M50.9 286.9h1.0M73.0 290.0h1.0M53.9 270.6h1.0M67.4 286.8h1.0M65.6 283.9h1.0M53.7 288.5h1.0M51.6 280.9h1.0M72.4 284.7h1.0M63.7 267.3h1.0M77.6 285.3h1.0M67.6 297.7h1.0M69.5 286.5h1.0M83.6 288.1h1.0M71.1 298.0h1.0M68.8 280.0h1.0M72.8 273.0h1.0M61.4 276.7h1.0M62.3 280.4h1.0M82.6 286.0h1.0M66.4 293.1h1.0M57.9 280.0h1.0M72.6 276.9h1.0M60.7 294.0h1.0M68.8 295.1h1.0M78.1 278.7h1.0M79.5 291.9h1.0M84.2 283.5h1.0M78.5 281.1h1.0M74.0 284.5h1.0M73.0 278.2h1.0M70.8 271.0h1.0M67.9 273.6h1.0M88.3 278.3h1.0M67.6 288.4h1.0M83.0 288.5h1.0M67.2 293.3h1.0M79.0 278.4h1.0M69.6 273.2h1.0M62.8 277.5h1.0M82.2 294.0h1.0M81.6 283.9h1.0M62.8 302.4h1.0M67.7 291.7h1.0M76.6 281.2h1.0M71.1 279.6h1.0M69.3 267.7h1.0M77.1 296.7h1.0M56.9 295.0h1.0M82.7 316.3h1.0M72.5 303.6h1.0M60.5 277.1h1.0M67.9 270.4h1.0M88.7 281.4h1.0M68.6 285.5h1.0M55.4 273.6h1.0M80.7 291.2h1.0M72.2 294.0h1.0M68.7 277.2h1.0M78.0 283.1h1.0M65.4 273.6h1.0M67.8 294.6h1.0M77.7 277.5h1.0M72.8 275.6h1.0M77.5 268.1h1.0M65.6 276.9h1.0M83.8 269.8h1.0M56.4 295.6h1.0M56.8 291.8h1.0M73.4 274.7h1.0M66.2 278.0h1.0M70.8 284.9h1.0M69.3 286.6h1.0M67.6 276.4h1.0M59.6 298.0h1.0M71.7 291.1h1.0M80.6 302.8h1.0M61.6 261.7h1.0M85.7 270.9h1.0M82.9 291.3h1.0M61.6 288.0h1.0M76.2 282.8h1.0M59.4 276.0h1.0M68.0 290.2h1.0M59.4 281.6h1.0M64.4 297.9h1.0M52.7 296.2h1.0M67.7 293.8h1.0M59.9 269.9h1.0M61.2 288.9h1.0M51.7 302.0h1.0M69.5 301.9h1.0M85.9 295.8h1.0M65.9 295.9h1.0M67.8 279.0h1.0M59.1 299.2h1.0M65.0 302.5h1.0M61.6 289.9h1.0M55.3 291.0h1.0M61.2 284.9h1.0M64.5 287.6h1.0M71.8 282.9h1.0M66.1 290.1h1.0M71.5 284.1h1.0M80.4 271.8h1.0M77.2 279.9h1.0M65.3 289.5h1.0M69.8 288.2h1.0M81.1 295.6h1.0M76.6 272.6h1.0M79.7 301.0h1.0M67.5 300.6h1.0M77.6 255.3h1.0M61.5 281.5h1.0M61.9 295.4h1.0M76.0 266.4h1.0M70.1 301.4h1.0M60.8 308.5h1.0M76.6 301.8h1.0M81.1 308.0h1.0M74.9 294.3h1.0M79.8 306.8h1.0M76.3 304.8h1.0M76.3 294.0h1.0M60.7 296.8h1.0M51.1 274.0h1.0M64.8 278.1h1.0M62.9 309.2h1.0M57.8 285.0h1.0M69.0 275.7h1.0M61.4 269.8h1.0M67.9 310.7h1.0M59.8 300.1h1.0M65.6 320.5h1.0M81.4 312.2h1.0M58.6 322.1h1.0M52.1 306.4h1.0M80.7 288.3h1.0M74.9 291.2h1.0M67.6 310.1h1.0M64.2 277.0h1.0M70.6 303.0h1.0M64.5 290.2h1.0M76.6 312.4h1.0M65.1 288.3h1.0M62.2 286.0h1.0M72.9 308.1h1.0M60.6 253.6h1.0M72.9 309.5h1.0M57.2 299.4h1.0M62.9 287.7h1.0M69.5 304.2h1.0M61.5 289.2h1.0M76.8 303.7h1.0M67.0 296.7h1.0M69.8 305.4h1.0M50.1 283.1h1.0M72.9 286.8h1.0M68.6 319.6h1.0M49.9 299.6h1.0M70.1 293.2h1.0M70.9 283.7h1.0M61.4 288.7h1.0M58.0 298.6h1.0M55.1 279.7h1.0M68.1 294.9h1.0M68.1 292.1h1.0M65.9 269.9h1.0M86.1 295.6h1.0M67.6 311.4h1.0M69.3 289.8h1.0M53.5 292.7h1.0M70.6 298.9h1.0M76.2 287.6h1.0M59.8 272.7h1.0M86.8 295.9h1.0M62.7 289.7h1.0M69.1 287.0h1.0M64.4 313.6h1.0M64.3 296.9h1.0M75.6 286.5h1.0M79.0 306.0h1.0M57.8 272.3h1.0M63.0 303.4h1.0M90.5 289.0h1.0M59.0 287.9h1.0M65.8 310.1h1.0M56.5 304.8h1.0M66.1 284.4h1.0M71.5 295.2h1.0M82.0 303.8h1.0M67.1 300.9h1.0M73.2 286.4h1.0M75.9 312.3h1.0M60.8 314.4h1.0M68.5 286.9h1.0M84.7 277.0h1.0M71.1 289.3h1.0M86.9 306.8h1.0M56.9 298.2h1.0M61.4 294.8h1.0M68.1 297.9h1.0M58.5 276.2h1.0M73.7 294.9h1.0M57.7 294.1h1.0M70.9 287.2h1.0M54.2 305.8h1.0M60.1 286.9h1.0M70.1 287.1h1.0M73.2 304.6h1.0M59.1 303.8h1.0M54.2 296.4h1.0M72.8 298.5h1.0M58.7 300.6h1.0M71.4 299.9h1.0M79.6 282.7h1.0M73.7 306.4h1.0M54.1 321.8h1.0M79.0 300.5h1.0M77.9 292.1h1.0M62.5 310.9h1.0M64.0 303.7h1.0M80.8 285.7h1.0M70.7 294.3h1.0M71.7 288.0h1.0M77.8 308.9h1.0M72.8 278.4h1.0M80.5 286.7h1.0M69.3 299.4h1.0M69.1 289.8h1.0M65.3 300.5h1.0M79.0 310.7h1.0M57.2 303.7h1.0M76.1 279.7h1.0M62.7 292.2h1.0M51.3 297.3h1.0M76.9 320.1h1.0M71.9 288.9h1.0M70.6 290.3h1.0M65.2 285.4h1.0M67.9 294.9h1.0M62.3 304.2h1.0M80.2 282.6h1.0M80.5 313.9h1.0M67.7 312.0h1.0M68.2 306.1h1.0M70.7 303.7h1.0M76.3 327.5h1.0M70.2 281.7h1.0M64.0 288.4h1.0M66.0 323.7h1.0M70.7 279.5h1.0M66.9 299.7h1.0M64.7 293.3h1.0M79.3 283.3h1.0M72.0 283.2h1.0M76.5 292.7h1.0M60.2 299.1h1.0M75.8 302.0h1.0M68.5 303.3h1.0M65.9 296.5h1.0M62.1 296.0h1.0M62.5 303.5h1.0M64.0 287.2h1.0M69.3 278.2h1.0M67.5 306.5h1.0M86.4 268.4h1.0M72.6 302.8h1.0M70.5 312.2h1.0M67.5 279.2h1.0M61.1 266.4h1.0M60.9 284.4h1.0M71.5 299.5h1.0M54.5 282.9h1.0M83.0 309.0h1.0M82.5 303.9h1.0M54.9 282.6h1.0M79.3 305.6h1.0M78.3 276.7h1.0M78.5 289.6h1.0M74.4 298.5h1.0M83.2 312.9h1.0M61.0 305.9h1.0M64.2 315.1h1.0M73.8 276.5h1.0M68.8 337.6h1.0M55.4 284.0h1.0M75.8 299.1h1.0M77.6 316.0h1.0M66.4 302.3h1.0M71.8 311.3h1.0M77.0 279.4h1.0M49.3 280.8h1.0M63.3 289.7h1.0M60.5 288.1h1.0M67.0 297.0h1.0M57.1 291.2h1.0M56.8 280.2h1.0M70.3 298.4h1.0M84.9 277.0h1.0M57.2 286.4h1.0M82.9 299.7h1.0M77.0 283.7h1.0M77.4 295.2h1.0M80.3 304.1h1.0M64.6 315.0h1.0M78.5 311.3h1.0M54.7 307.1h1.0M61.2 302.0h1.0M71.4 279.0h1.0M75.4 284.2h1.0M55.9 284.0h1.0M51.2 288.3h1.0M72.1 293.7h1.0M71.0 282.9h1.0M74.7 289.7h1.0M67.7 310.1h1.0M56.6 289.7h1.0M78.6 270.0h1.0M75.4 291.7h1.0M69.9 293.5h1.0M88.1 290.7h1.0M70.6 323.5h1.0M82.1 307.6h1.0M67.2 317.7h1.0M57.9 305.4h1.0M66.3 294.2h1.0M79.0 284.4h1.0M53.0 298.2h1.0M74.9 269.9h1.0M65.9 307.9h1.0M76.6 331.9h1.0M71.8 314.9h1.0M59.4 267.8h1.0M73.7 297.9h1.0M68.1 285.4h1.0M76.6 287.2h1.0M86.0 291.8h1.0M66.7 310.7h1.0M83.3 304.9h1.0M67.6 284.3h1.0M74.0 302.6h1.0M70.2 297.3h1.0M62.4 322.0h1.0M69.6 276.0h1.0M64.4 293.7h1.0M73.6 282.8h1.0M58.9 294.8h1.0M59.8 268.7h1.0M76.4 283.1h1.0M73.3 293.8h1.0M73.6 287.4h1.0M73.6 283.6h1.0M77.9 293.6h1.0M72.8 287.8h1.0M76.8 283.0h1.0M61.5 292.0h1.0M73.2 295.5h1.0M61.8 299.4h1.0M57.3 272.4h1.0M66.5 289.8h1.0M74.4 310.5h1.0M68.7 276.3h1.0M84.7 296.8h1.0M74.7 288.7h1.0M72.4 309.3h1.0M69.6 311.1h1.0M56.4 298.6h1.0M69.0 288.6h1.0M68.8 274.5h1.0M84.4 288.2h1.0M61.4 284.1h1.0M67.4 295.6h1.0M62.0 315.3h1.0M69.9 319.9h1.0M52.9 299.1h1.0M71.2 296.8h1.0M68.7 293.4h1.0M70.2 299.0h1.0M67.8 318.0h1.0M72.9 285.4h1.0M68.4 296.7h1.0M78.4 287.2h1.0M88.8 307.5h1.0M83.9 318.7h1.0M71.6 303.9h1.0M57.1 297.8h1.0M72.5 296.0h1.0M53.6 302.8h1.0M60.6 289.2h1.0M63.2 316.8h1.0M58.5 318.2h1.0M68.6 308.5h1.0M65.3 306.0h1.0M61.8 290.2h1.0M71.9 319.1h1.0M61.9 277.5h1.0M80.2 286.1h1.0M74.3 323.0h1.0M64.6 290.2h1.0M72.5 285.0h1.0M62.3 274.2h1.0M62.8 309.0h1.0M77.8 311.0h1.0M54.0 298.3h1.0M72.7 274.6h1.0M85.9 294.5h1.0M90.3 307.4h1.0M51.0 314.6h1.0M49.3 301.2h1.0M57.8 315.7h1.0M63.0 317.7h1.0M51.1 280.4h1.0M66.6 301.6h1.0M75.8 280.6h1.0M61.3 285.9h1.0M69.5 310.6h1.0M74.0 281.5h1.0M84.2 293.7h1.0M67.6 312.0h1.0M74.9 301.8h1.0M73.0 274.7h1.0M68.8 294.6h1.0M65.2 293.0h1.0M71.7 284.3h1.0M74.7 322.3h1.0M56.3 296.7h1.0M64.9 296.7h1.0M71.4 309.3h1.0M71.1 298.2h1.0M71.4 279.1h1.0M83.3 296.2h1.0M78.0 301.6h1.0M56.8 298.2h1.0M82.8 309.8h1.0M61.9 307.4h1.0M60.7 302.9h1.0M78.2 294.2h1.0M65.3 296.8h1.0M52.8 321.2h1.0M74.0 275.1h1.0M72.4 310.8h1.0M73.2 302.1h1.0M55.4 287.5h1.0M75.7 296.2h1.0M62.6 304.2h1.0M76.6 278.4h1.0M56.9 298.6h1.0M59.4 303.9h1.0M50.2 285.0h1.0M61.1 298.2h1.0M78.0 314.4h1.0M70.4 299.0h1.0M63.0 285.4h1.0M80.8 276.1h1.0M70.2 273.8h1.0M75.3 309.1h1.0M71.4 293.9h1.0M67.3 295.2h1.0M69.5 293.8h1.0M72.3 287.1h1.0M78.6 319.0h1.0M73.8 305.4h1.0M76.4 315.6h1.0M58.0 281.1h1.0M50.9 304.2h1.0M71.1 304.9h1.0M69.6 282.0h1.0M72.3 285.3h1.0M59.0 286.0h1.0M69.5 309.6h1.0M58.4 299.4h1.0M69.0 287.4h1.0M67.5 305.4h1.0M66.6 288.1h1.0M71.0 298.1h1.0M63.6 295.6h1.0M68.0 285.6h1.0M74.6 308.7h1.0M82.1 297.2h1.0M71.9 267.2h1.0M75.7 294.1h1.0M73.5 315.7h1.0M83.5 267.8h1.0M87.4 308.1h1.0M62.3 299.5h1.0M74.5 280.8h1.0M70.9 296.3h1.0M82.7 282.0h1.0M62.2 301.4h1.0M52.2 300.1h1.0M80.9 273.4h1.0M70.7 289.6h1.0M74.3 296.9h1.0M72.0 276.3h1.0M70.8 310.3h1.0M72.0 287.0h1.0M64.4 301.6h1.0M49.4 304.7h1.0M71.2 284.4h1.0M67.6 300.9h1.0M63.0 298.0h1.0M62.6 301.6h1.0M80.2 290.9h1.0M61.4 308.9h1.0M58.5 305.6h1.0M74.3 316.2h1.0M81.6 310.1h1.0M56.3 279.2h1.0M59.1 289.2h1.0M58.5 302.0h1.0M71.7 309.3h1.0M73.3 287.6h1.0M81.1 296.6h1.0M67.6 300.4h1.0M65.9 295.1h1.0M62.6 309.3h1.0M78.5 283.8h1.0M62.6 303.0h1.0M60.5 286.4h1.0M66.0 302.0h1.0M67.9 284.7h1.0M71.8 292.9h1.0M62.3 308.3h1.0M84.2 284.2h1.0M85.7 297.4h1.0M57.8 304.7h1.0M69.4 295.1h1.0M58.8 293.0h1.0M65.5 296.6h1.0M56.8 285.2h1.0M65.5 306.1h1.0M70.6 305.7h1.0M69.7 318.6h1.0M55.8 300.1h1.0M49.7 310.4h1.0M51.1 290.1h1.0M79.3 302.6h1.0M66.4 284.8h1.0M68.7 299.6h1.0M81.4 292.4h1.0M58.9 308.7h1.0M71.9 270.6h1.0M61.9 294.4h1.0M69.8 292.7h1.0M50.8 304.9h1.0M64.4 287.4h1.0M67.4 291.1h1.0M69.1 312.5h1.0M54.9 288.5h1.0M65.8 291.6h1.0M76.2 311.0h1.0M67.2 269.8h1.0M75.9 301.6h1.0M74.1 300.8h1.0M70.3 299.8h1.0M64.7 273.9h1.0M68.8 278.5h1.0M59.5 286.0h1.0M74.2 285.6h1.0M71.0 305.0h1.0M79.0 290.9h1.0M88.8 314.5h1.0M75.9 296.2h1.0M73.3 304.3h1.0M69.8 288.1h1.0M75.9 288.9h1.0M80.8 302.0h1.0M65.5 307.6h1.0M56.4 288.1h1.0M55.5 312.8h1.0M77.2 293.5h1.0M72.4 316.3h1.0M73.0 280.9h1.0M52.6 292.1h1.0M62.9 304.7h1.0M53.7 295.6h1.0M57.5 289.2h1.0M62.8 304.7h1.0M61.8 308.5h1.0M82.6 291.4h1.0M56.4 306.2h1.0M62.3 291.1h1.0M61.1 286.5h1.0M68.7 312.8h1.0M74.8 289.4h1.0M60.7 290.3h1.0M52.7 306.2h1.0M64.1 284.1h1.0M71.7 284.6h1.0M58.0 293.2h1.0M77.0 297.6h1.0M58.7 308.3h1.0M62.1 294.1h1.0M63.9 288.2h1.0M85.7 280.2h1.0M75.2 292.4h1.0M71.3 290.6h1.0M58.7 310.5h1.0M57.8 276.1h1.0M61.6 274.0h1.0M82.8 272.8h1.0M80.1 293.4h1.0M69.4 301.9h1.0M61.5 316.9h1.0M51.8 275.9h1.0M63.8 298.4h1.0M72.8 288.5h1.0M73.2 316.9h1.0M71.6 300.7h1.0M61.6 315.6h1.0M72.7 296.0h1.0M66.6 309.9h1.0M76.1 300.9h1.0M70.4 288.3h1.0M75.1 308.3h1.0M71.1 292.4h1.0M63.7 267.8h1.0M78.9 295.0h1.0M58.5 280.7h1.0M74.2 303.0h1.0M64.0 315.8h1.0M64.7 300.1h1.0M70.6 303.4h1.0M63.3 280.7h1.0M58.7 286.2h1.0M59.5 288.8h1.0M57.7 321.2h1.0M68.3 291.0h1.0M70.9 299.8h1.0M67.3 272.9h1.0M53.8 289.9h1.0M69.3 297.8h1.0M76.7 294.5h1.0M57.6 292.5h1.0M59.8 301.8h1.0M76.5 302.4h1.0M66.5 280.9h1.0M78.0 279.2h1.0M65.0 303.3h1.0M54.9 306.5h1.0M67.7 278.9h1.0M67.6 304.8h1.0M70.8 278.4h1.0M60.3 294.1h1.0M63.8 312.4h1.0M86.7 275.4h1.0M63.0 296.1h1.0M82.6 293.4h1.0M57.7 281.7h1.0M70.2 305.9h1.0M71.5 284.2h1.0M76.1 287.6h1.0M68.0 282.0h1.0M62.1 301.7h1.0M69.0 303.2h1.0M54.5 313.5h1.0M53.9 285.5h1.0M82.4 315.1h1.0M75.7 288.1h1.0M85.0 304.7h1.0M72.6 316.7h1.0M54.6 306.2h1.0M59.0 272.7h1.0M70.9 282.6h1.0M60.4 285.9h1.0M59.4 306.7h1.0M58.1 286.0h1.0M61.1 305.8h1.0M50.6 298.7h1.0M71.9 298.0h1.0M61.5 295.6h1.0M79.6 286.2h1.0M83.2 313.4h1.0M67.4 297.5h1.0M77.6 315.2h1.0M78.1 284.2h1.0M70.0 274.1h1.0M66.4 313.8h1.0M79.7 280.8h1.0M74.1 297.2h1.0M66.4 291.0h1.0M63.5 293.8h1.0M68.1 291.5h1.0M76.6 281.6h1.0M74.3 280.3h1.0M62.7 298.4h1.0M66.7 286.5h1.0M69.6 317.8h1.0M64.3 296.6h1.0M67.3 313.6h1.0M59.2 289.5h1.0M60.7 305.9h1.0M70.7 287.9h1.0M70.2 283.5h1.0M65.3 292.4h1.0M87.8 293.0h1.0M66.5 328.9h1.0M74.4 278.4h1.0M70.6 287.1h1.0M63.8 304.7h1.0M74.3 293.4h1.0M78.1 297.3h1.0M68.2 305.4h1.0M72.6 293.7h1.0M60.1 278.0h1.0M66.3 294.6h1.0M73.3 302.4h1.0M68.1 298.1h1.0M60.7 310.5h1.0M63.7 290.1h1.0M66.0 299.0h1.0M65.7 284.6h1.0M68.6 270.6h1.0M82.5 302.8h1.0M70.2 289.4h1.0M64.7 303.6h1.0M74.4 287.4h1.0M74.0 275.4h1.0M58.5 283.6h1.0M62.6 291.5h1.0M58.3 286.5h1.0M71.2 291.7h1.0M75.9 302.4h1.0M66.2 295.1h1.0M79.3 301.3h1.0M63.0 293.3h1.0M65.3 286.4h1.0M67.6 282.6h1.0M69.8 266.9h1.0M83.1 302.8h1.0M58.1 309.4h1.0M73.2 282.4h1.0M68.9 282.9h1.0M78.8 284.2h1.0M56.1 299.6h1.0M57.7 296.4h1.0M83.6 292.2h1.0M79.5 294.5h1.0M77.9 273.7h1.0M67.1 293.5h1.0M77.8 292.7h1.0M68.3 301.4h1.0M58.4 286.0h1.0M67.0 288.3h1.0M65.8 297.9h1.0M58.8 329.6h1.0M63.0 287.4h1.0M61.9 321.4h1.0M72.9 283.3h1.0M76.9 295.9h1.0M78.2 283.2h1.0M78.1 312.8h1.0M58.6 296.9h1.0M73.3 297.8h1.0M75.5 308.5h1.0M71.9 312.1h1.0M59.7 286.8h1.0M69.6 289.0h1.0M60.7 310.2h1.0M76.2 268.2h1.0M54.9 323.5h1.0M73.1 292.4h1.0M64.3 268.6h1.0M56.2 299.0h1.0M64.1 284.5h1.0M66.8 295.8h1.0M75.6 296.9h1.0M75.3 309.1h1.0M79.3 271.8h1.0M75.0 300.4h1.0M64.0 310.2h1.0M64.2 278.6h1.0M69.6 305.0h1.0M65.0 305.8h1.0M53.3 288.4h1.0M49.6 270.7h1.0M75.0 297.4h1.0M69.2 289.3h1.0M85.9 315.5h1.0M63.5 292.4h1.0M77.5 304.5h1.0M69.5 299.9h1.0M72.5 297.9h1.0M68.7 279.4h1.0M78.1 286.0h1.0M72.8 296.7h1.0M63.9 294.3h1.0M67.2 294.0h1.0M66.0 305.3h1.0M68.8 296.0h1.0M70.2 304.6h1.0M64.3 296.5h1.0" stroke="#000" stroke-width="1.0" stroke-opacity="0.5" fill="none"/>
<path d="M82.9 367.7h1.2M64.4 323.1h1.2M76.5 366.2h1.2M77.9 362.8h1.2M70.0 370.5h1.2M62.6 358.5h1.2M73.0 350.1h1.2M70.1 322.8h1.2M61.5 355.7h1.2M58.9 358.6h1.2M78.9 337.7h1.2M74.0 313.3h1.2M84.1 353.4h1.2M86.0 333.1h1.2M51.4 345.7h1.2M74.1 354.5h1.2M73.0 327.1h1.2M72.2 352.9h1.2M81.4 335.0h1.2M92.2 337.8h1.2M69.3 357.4h1.2M69.9 324.6h1.2M78.3 337.7h1.2M79.4 342.6h1.2M69.9 361.1h1.2M80.6 344.9h1.2M85.9 355.9h1.2M65.6 329.9h1.2M84.8 324.0h1.2M62.9 343.7h1.2M85.0 369.1h1.2M61.6 353.7h1.2M62.0 339.6h1.2M56.4 336.8h1.2M67.7 365.8h1.2M70.6 355.4h1.2M69.5 324.9h1.2M67.0 317.1h1.2M65.6 348.4h1.2M66.8 346.3h1.2M72.4 351.4h1.2M64.8 344.8h1.2M72.5 343.9h1.2M59.2 345.1h1.2M56.5 316.6h1.2M79.1 341.1h1.2M62.3 339.1h1.2M71.8 361.8h1.2M60.0 360.5h1.2M54.7 340.4h1.2M56.1 344.1h1.2M61.2 347.2h1.2M63.0 361.8h1.2M73.2 336.1h1.2M66.5 367.4h1.2M71.8 332.3h1.2M57.6 362.7h1.2M82.3 347.6h1.2M72.8 328.7h1.2M65.7 339.6h1.2M79.3 343.3h1.2M54.1 361.9h1.2M62.9 365.4h1.2M74.4 320.2h1.2M87.6 338.9h1.2M65.2 362.0h1.2M90.2 353.5h1.2M83.4 353.7h1.2M61.1 355.7h1.2M76.3 357.3h1.2M82.9 365.3h1.2M60.3 340.3h1.2M89.1 341.2h1.2M97.1 325.6h1.2M93.8 345.9h1.2M90.8 341.3h1.2M95.8 343.2h1.2M93.5 335.9h1.2" stroke="#000" stroke-width="1.2" stroke-opacity="0.27" fill="none"/>
<path d="M199.2 285.8h1.0M212.9 292.4h1.0M210.4 279.8h1.0M203.4 293.2h1.0M196.1 272.4h1.0M209.4 291.8h1.0M201.5 288.5h1.0M212.0 275.8h1.0M200.0 275.7h1.0M206.8 299.2h1.0M208.2 279.6h1.0M201.2 291.0h1.0M209.6 285.8h1.0M194.8 284.7h1.0M215.6 282.1h1.0M202.2 275.9h1.0M202.1 276.4h1.0M204.0 278.4h1.0M202.6 289.3h1.0M200.0 271.7h1.0M206.9 276.7h1.0M200.6 286.2h1.0M203.1 282.8h1.0M206.7 280.2h1.0M203.8 277.2h1.0M199.2 272.7h1.0M211.5 278.2h1.0M220.5 275.4h1.0M200.8 280.2h1.0M212.1 276.9h1.0M199.9 273.8h1.0M203.3 291.5h1.0M197.0 270.4h1.0M200.9 288.1h1.0M199.6 280.6h1.0M204.6 279.4h1.0M202.8 275.4h1.0M222.1 276.3h1.0M198.7 280.4h1.0M210.2 269.8h1.0M211.8 288.9h1.0M191.9 284.3h1.0M192.3 283.2h1.0M212.1 282.2h1.0M196.4 290.0h1.0M203.0 282.8h1.0M197.2 279.0h1.0M203.6 293.7h1.0M214.2 278.3h1.0M221.2 275.6h1.0M200.8 278.8h1.0M216.8 288.0h1.0M205.6 292.6h1.0M203.8 285.1h1.0M204.0 296.1h1.0M203.8 276.4h1.0M194.0 278.6h1.0M205.1 279.8h1.0M197.0 291.3h1.0M208.3 276.8h1.0M226.6 281.9h1.0M195.6 275.8h1.0M218.4 283.4h1.0M197.1 277.7h1.0M203.1 301.6h1.0M213.6 287.3h1.0M209.7 279.4h1.0M214.9 287.6h1.0M216.1 282.0h1.0M203.6 278.9h1.0M201.7 286.1h1.0M210.6 273.3h1.0M209.7 291.9h1.0M218.9 290.0h1.0M189.3 276.4h1.0M213.7 281.5h1.0M209.6 270.7h1.0M203.5 286.3h1.0M199.5 284.9h1.0M199.7 284.4h1.0M199.7 279.6h1.0M218.2 281.9h1.0M206.0 278.4h1.0M203.7 281.4h1.0M206.2 278.5h1.0M210.2 278.5h1.0M211.6 278.2h1.0M205.7 266.7h1.0M204.3 277.7h1.0M199.9 288.4h1.0M205.5 291.7h1.0M204.8 279.1h1.0M201.1 283.2h1.0M203.5 290.8h1.0M215.5 272.2h1.0M212.0 284.8h1.0M208.0 271.9h1.0M215.1 284.8h1.0M206.8 281.2h1.0M214.8 281.6h1.0M205.8 281.2h1.0M217.0 294.3h1.0M210.1 265.8h1.0M203.5 273.8h1.0M196.7 284.4h1.0M206.9 284.2h1.0M207.0 278.0h1.0M197.5 285.1h1.0M204.2 282.7h1.0M201.3 283.5h1.0M208.0 289.8h1.0M196.0 277.5h1.0M205.8 284.0h1.0M220.7 287.9h1.0M213.4 278.9h1.0M205.7 290.5h1.0M217.7 276.8h1.0M203.0 272.3h1.0M212.3 275.5h1.0M208.3 283.1h1.0M202.6 289.2h1.0M209.8 280.1h1.0M224.2 281.5h1.0M199.3 282.7h1.0M199.1 286.8h1.0M219.0 275.8h1.0M201.0 282.0h1.0M205.1 276.8h1.0M202.4 285.6h1.0M200.2 288.1h1.0M209.7 268.1h1.0M198.2 284.2h1.0M197.9 281.6h1.0M204.0 287.2h1.0M210.2 277.7h1.0M217.0 282.3h1.0M205.7 274.9h1.0M213.1 287.3h1.0M216.5 296.6h1.0M209.6 284.0h1.0M212.5 292.1h1.0M204.4 292.5h1.0M193.5 281.5h1.0M212.0 282.9h1.0M197.2 284.0h1.0M210.3 289.1h1.0M199.6 278.6h1.0M196.8 287.6h1.0M205.0 277.3h1.0M196.1 287.1h1.0M206.5 282.4h1.0M204.5 271.9h1.0M204.2 280.2h1.0M217.7 285.2h1.0M212.2 281.4h1.0M204.1 284.3h1.0M212.3 296.6h1.0M209.0 274.4h1.0M203.4 278.2h1.0M195.5 278.2h1.0M200.3 282.9h1.0M221.1 279.0h1.0M206.3 281.2h1.0M210.3 277.2h1.0M219.2 277.3h1.0M200.3 294.9h1.0M214.4 298.2h1.0M198.0 283.5h1.0M189.1 272.8h1.0M205.8 280.1h1.0M206.1 287.4h1.0M200.2 285.5h1.0M200.9 281.5h1.0M209.1 301.3h1.0M210.1 281.3h1.0M199.0 276.4h1.0M199.8 286.8h1.0M207.5 288.2h1.0M203.4 277.4h1.0M204.6 282.4h1.0M203.7 289.7h1.0M192.5 285.8h1.0M208.8 277.2h1.0M207.6 288.3h1.0M210.2 277.3h1.0M211.4 292.2h1.0M220.1 282.2h1.0M202.9 270.9h1.0M207.5 277.2h1.0M216.5 287.3h1.0M203.1 294.3h1.0M214.9 284.7h1.0M202.2 281.1h1.0M202.5 297.4h1.0M197.6 274.7h1.0M204.9 289.3h1.0M222.1 272.4h1.0M220.3 271.1h1.0M206.7 275.9h1.0M210.0 287.8h1.0M215.0 284.0h1.0M197.7 281.8h1.0M202.8 285.5h1.0M204.5 278.3h1.0M191.4 292.9h1.0M199.9 283.6h1.0M201.1 286.3h1.0M203.4 274.6h1.0M204.3 282.4h1.0M188.2 275.8h1.0M209.3 286.9h1.0M202.0 272.6h1.0M209.5 287.3h1.0M210.5 289.2h1.0M204.5 286.4h1.0M219.7 290.2h1.0M192.5 293.0h1.0M205.4 280.9h1.0M206.4 279.7h1.0M216.9 279.3h1.0M205.0 282.7h1.0M210.0 281.2h1.0M207.2 281.2h1.0M221.7 293.0h1.0M203.2 283.3h1.0M198.8 280.3h1.0M201.9 292.3h1.0M209.0 275.5h1.0M216.9 281.8h1.0M187.3 286.9h1.0M195.7 287.3h1.0M216.8 274.3h1.0M202.5 274.2h1.0M200.0 275.3h1.0M202.2 277.6h1.0M198.8 290.4h1.0M197.4 282.4h1.0M206.4 284.8h1.0M199.7 277.6h1.0M219.2 278.8h1.0M210.0 284.7h1.0M200.2 281.1h1.0M218.9 288.3h1.0M198.0 279.3h1.0M209.7 279.0h1.0M218.5 279.4h1.0M210.1 278.7h1.0M200.8 287.9h1.0M204.3 273.4h1.0M207.3 285.3h1.0M217.3 270.5h1.0M206.9 271.7h1.0M210.6 282.4h1.0M197.1 284.8h1.0M206.3 281.7h1.0M215.6 269.4h1.0M203.5 290.1h1.0M201.9 289.6h1.0M202.8 277.4h1.0M214.8 290.5h1.0M209.8 278.7h1.0M208.9 282.8h1.0M200.0 278.0h1.0M191.9 276.8h1.0M214.0 272.7h1.0M202.3 280.9h1.0M212.4 286.5h1.0M209.8 280.1h1.0M201.1 286.7h1.0M197.1 288.3h1.0M213.0 291.8h1.0M189.1 289.7h1.0M187.4 283.7h1.0M218.0 283.8h1.0M199.2 282.1h1.0M207.1 277.4h1.0M214.1 274.8h1.0M222.1 292.7h1.0M197.8 277.5h1.0M204.3 286.3h1.0M212.8 291.7h1.0M205.6 284.1h1.0M199.4 279.5h1.0M213.1 284.9h1.0M192.3 293.0h1.0M213.4 276.5h1.0M205.3 277.2h1.0M205.6 279.6h1.0M200.2 287.8h1.0M203.7 287.9h1.0M213.9 278.9h1.0M207.6 283.2h1.0M214.4 288.0h1.0M210.2 275.2h1.0M202.6 282.1h1.0M203.5 285.5h1.0M206.0 287.1h1.0M202.1 287.2h1.0M216.6 273.5h1.0M196.5 282.7h1.0M219.1 278.7h1.0M200.1 284.4h1.0M198.6 285.8h1.0M205.4 282.2h1.0M195.5 284.7h1.0M218.7 295.9h1.0M218.5 293.8h1.0M216.8 288.3h1.0M219.5 282.6h1.0M215.4 295.2h1.0M191.2 279.4h1.0M210.9 271.6h1.0M200.0 281.8h1.0M212.4 276.7h1.0M203.4 268.4h1.0M202.1 276.1h1.0M198.4 280.5h1.0M210.1 279.7h1.0M214.2 284.7h1.0M197.1 286.9h1.0M208.6 286.4h1.0M209.2 275.4h1.0M204.7 287.3h1.0M204.1 292.8h1.0M214.9 280.8h1.0M216.0 280.9h1.0M211.4 285.4h1.0M211.2 286.3h1.0M211.6 282.6h1.0M201.1 285.5h1.0M205.1 276.8h1.0M205.9 271.6h1.0M198.4 279.2h1.0M211.9 279.9h1.0M220.4 281.6h1.0M221.6 278.6h1.0M203.9 276.8h1.0M201.9 284.0h1.0M199.3 285.9h1.0M211.0 280.7h1.0M205.1 280.2h1.0M214.7 282.7h1.0M197.1 279.5h1.0M206.9 285.6h1.0M200.9 279.4h1.0M207.7 270.4h1.0M203.9 294.0h1.0M191.2 285.6h1.0M212.1 288.0h1.0M206.1 281.5h1.0M207.0 281.7h1.0M205.0 283.2h1.0M198.2 283.8h1.0M205.9 281.9h1.0M211.8 277.2h1.0M218.7 286.0h1.0M207.3 283.0h1.0M201.5 295.0h1.0M214.9 277.4h1.0M204.1 280.5h1.0M203.8 282.5h1.0M205.6 270.8h1.0M210.5 277.2h1.0M196.2 270.8h1.0M206.6 278.7h1.0M205.3 283.6h1.0M202.3 283.7h1.0M218.8 288.7h1.0M193.4 284.6h1.0M205.4 289.0h1.0M207.2 286.0h1.0M207.3 269.0h1.0M217.3 283.2h1.0M189.3 273.9h1.0M203.1 286.9h1.0M198.9 290.9h1.0M194.7 291.7h1.0M201.0 285.1h1.0M208.9 282.8h1.0M203.5 274.4h1.0M220.8 286.8h1.0M193.8 284.7h1.0M208.3 281.0h1.0M208.1 274.6h1.0M206.7 274.3h1.0M210.7 279.6h1.0M203.9 288.0h1.0M209.8 282.5h1.0M203.9 277.4h1.0M202.1 287.8h1.0M198.7 289.7h1.0M202.6 284.4h1.0M211.5 281.1h1.0M202.1 284.6h1.0M211.6 281.7h1.0M204.5 286.3h1.0M206.0 276.0h1.0M216.1 290.0h1.0M197.0 283.4h1.0M205.4 297.1h1.0M213.0 269.5h1.0M210.5 277.2h1.0M209.1 273.3h1.0M216.9 282.5h1.0M202.7 285.4h1.0M207.1 279.1h1.0M219.9 283.3h1.0M197.2 284.3h1.0M210.5 277.7h1.0M210.9 282.3h1.0M208.8 275.4h1.0M209.6 279.8h1.0M199.9 279.3h1.0M207.5 278.3h1.0M205.5 276.0h1.0M209.3 284.6h1.0M207.7 282.4h1.0M220.7 293.2h1.0M214.2 269.2h1.0M222.8 281.3h1.0M214.3 282.8h1.0M209.9 285.9h1.0M212.3 284.0h1.0M216.8 296.7h1.0M200.4 278.2h1.0M195.1 272.9h1.0M195.6 286.6h1.0M212.4 277.2h1.0M204.0 283.7h1.0M204.3 280.9h1.0M207.5 295.5h1.0M212.7 276.3h1.0M203.6 292.7h1.0M200.3 285.7h1.0M202.8 284.0h1.0M212.4 283.2h1.0M205.1 276.3h1.0M211.2 282.7h1.0M214.4 283.2h1.0M204.5 280.5h1.0M200.2 275.2h1.0M197.1 279.7h1.0M202.4 281.3h1.0M198.5 281.9h1.0M208.0 273.7h1.0M196.4 284.0h1.0M207.7 289.7h1.0M203.2 281.8h1.0M212.4 291.4h1.0M197.9 284.7h1.0M207.1 279.9h1.0M211.8 276.2h1.0M194.0 275.6h1.0M208.9 278.1h1.0M202.0 281.7h1.0M199.1 276.3h1.0M194.6 281.4h1.0M206.6 293.5h1.0M201.6 270.8h1.0M203.3 284.4h1.0M211.8 283.4h1.0M212.9 284.4h1.0M223.6 281.9h1.0M205.5 280.6h1.0M203.0 281.4h1.0M205.2 277.2h1.0M212.9 278.1h1.0M224.9 282.5h1.0M199.7 283.4h1.0M208.3 278.2h1.0M205.4 275.3h1.0M204.8 295.9h1.0M204.3 285.9h1.0M189.2 288.9h1.0M208.4 284.2h1.0M200.4 287.6h1.0M208.2 289.0h1.0M202.2 291.5h1.0M199.0 282.7h1.0M191.9 286.7h1.0M216.7 287.7h1.0M205.3 273.3h1.0M208.7 282.8h1.0M217.9 284.7h1.0M209.9 277.1h1.0M207.8 279.1h1.0M188.2 290.6h1.0M214.8 285.2h1.0M212.8 282.3h1.0M197.3 279.9h1.0M194.2 284.4h1.0M208.9 303.5h1.0M204.6 283.8h1.0M217.1 276.3h1.0M195.7 273.1h1.0M205.4 289.6h1.0M210.9 285.8h1.0M209.4 277.0h1.0M196.4 291.9h1.0M194.9 291.3h1.0M202.3 278.4h1.0M222.4 277.8h1.0M199.7 285.7h1.0M202.4 282.9h1.0M212.6 285.8h1.0M209.4 289.5h1.0M216.5 278.9h1.0M200.6 284.9h1.0M200.8 275.1h1.0M212.3 286.6h1.0M204.1 289.6h1.0M205.8 265.7h1.0M198.0 275.8h1.0M199.9 285.3h1.0M199.8 273.2h1.0M201.1 283.3h1.0M200.4 286.7h1.0M203.4 283.7h1.0M203.2 287.3h1.0M214.2 282.0h1.0M219.5 289.0h1.0M203.3 281.1h1.0M217.9 279.4h1.0M209.7 276.9h1.0M188.6 272.5h1.0M208.0 281.9h1.0M194.8 283.5h1.0M214.3 281.2h1.0M201.9 276.9h1.0M218.0 279.7h1.0M216.8 288.4h1.0M202.1 284.2h1.0M198.4 290.6h1.0M214.2 285.2h1.0M199.2 280.4h1.0M205.3 296.6h1.0M213.5 276.9h1.0M205.0 272.6h1.0M211.5 278.7h1.0M220.9 283.7h1.0M208.6 287.6h1.0M211.4 284.3h1.0M201.5 279.6h1.0M207.2 285.1h1.0M206.2 284.1h1.0M210.2 279.8h1.0M206.3 293.5h1.0M201.3 291.0h1.0M201.4 277.9h1.0M206.6 290.5h1.0M199.1 284.9h1.0M195.5 281.8h1.0M208.0 290.2h1.0M205.8 279.1h1.0M210.4 283.5h1.0M201.9 291.0h1.0M204.9 284.4h1.0M198.9 274.9h1.0M203.0 279.1h1.0M212.5 284.3h1.0M219.2 278.2h1.0M203.9 283.3h1.0M209.5 287.3h1.0M200.4 279.8h1.0M194.8 275.8h1.0M201.7 285.4h1.0M204.2 293.5h1.0M203.7 282.4h1.0M199.9 286.1h1.0M207.4 286.5h1.0M214.7 284.9h1.0M201.9 275.7h1.0M209.1 286.0h1.0M210.5 286.5h1.0M213.7 278.1h1.0M211.1 285.6h1.0M213.7 278.0h1.0M206.6 276.5h1.0M196.3 278.2h1.0M197.8 290.4h1.0M202.7 288.9h1.0M198.6 284.5h1.0M200.3 293.7h1.0M204.6 278.6h1.0M205.9 288.7h1.0M202.9 280.5h1.0M208.8 270.2h1.0M220.9 287.7h1.0M198.6 285.3h1.0M201.9 274.5h1.0M197.2 281.1h1.0M214.7 285.8h1.0M212.8 280.6h1.0M196.0 288.3h1.0M209.8 273.4h1.0M195.5 297.0h1.0M209.1 282.1h1.0M206.3 278.5h1.0M206.6 279.8h1.0M192.7 279.4h1.0M207.6 273.0h1.0M207.6 276.0h1.0M216.2 283.7h1.0M207.2 288.0h1.0M205.8 275.6h1.0M200.9 285.6h1.0M210.3 280.3h1.0M212.5 296.5h1.0M212.0 286.7h1.0M213.1 287.5h1.0M205.0 285.2h1.0M195.5 286.4h1.0M206.9 281.7h1.0M217.4 277.7h1.0M215.8 292.9h1.0M201.1 292.0h1.0M222.1 289.2h1.0M216.9 276.2h1.0M212.7 282.8h1.0M198.8 287.7h1.0M211.6 283.5h1.0M213.6 271.8h1.0M223.2 282.2h1.0M203.1 274.8h1.0M204.3 276.2h1.0M215.5 286.0h1.0M215.2 263.0h1.0M213.2 289.8h1.0M202.6 276.7h1.0M201.6 280.1h1.0M208.4 281.8h1.0M210.1 280.3h1.0M213.4 281.1h1.0M200.9 278.4h1.0M194.4 284.2h1.0M214.9 275.8h1.0M205.8 282.4h1.0M205.4 283.0h1.0M213.8 281.0h1.0M195.5 290.8h1.0M206.3 281.9h1.0M203.8 279.6h1.0M210.0 296.2h1.0M206.1 291.9h1.0M211.6 286.4h1.0M196.6 281.6h1.0M203.2 292.6h1.0M199.8 285.3h1.0M214.7 281.8h1.0M216.2 281.8h1.0M207.1 288.8h1.0M211.8 284.7h1.0M204.9 279.3h1.0M201.6 269.9h1.0M217.0 287.3h1.0M205.8 283.5h1.0M216.9 287.8h1.0M224.9 283.8h1.0M197.6 289.5h1.0M211.0 286.0h1.0M204.1 282.9h1.0M209.6 281.8h1.0M188.9 271.9h1.0M211.2 273.3h1.0M200.0 296.0h1.0M208.8 277.5h1.0M209.9 278.6h1.0M213.0 295.4h1.0M206.7 284.7h1.0M209.0 270.5h1.0M204.4 267.2h1.0M195.0 272.7h1.0M201.9 280.4h1.0M202.8 288.2h1.0M204.1 285.7h1.0M207.8 279.5h1.0M208.4 287.9h1.0M214.8 273.7h1.0M221.8 280.0h1.0M198.7 290.1h1.0M207.8 300.0h1.0M210.0 278.5h1.0M204.7 276.4h1.0M211.8 284.0h1.0M189.4 285.1h1.0M211.7 287.5h1.0M205.0 286.5h1.0M192.2 293.7h1.0M204.6 295.0h1.0M221.4 286.7h1.0M205.8 277.0h1.0M222.4 280.8h1.0M223.6 283.5h1.0M208.9 281.6h1.0M204.4 290.7h1.0M212.0 287.1h1.0M217.9 284.4h1.0M220.5 282.8h1.0M209.4 289.0h1.0M200.1 278.7h1.0M218.5 275.2h1.0M192.8 280.9h1.0M205.1 276.8h1.0M207.3 279.8h1.0M210.7 267.6h1.0M202.2 282.8h1.0M208.0 278.8h1.0M213.8 287.4h1.0M207.1 289.1h1.0M200.4 287.0h1.0M212.9 273.0h1.0M208.1 284.2h1.0M199.3 285.2h1.0M201.3 276.4h1.0M221.3 285.5h1.0M205.5 277.9h1.0M211.0 273.4h1.0M203.1 285.8h1.0M205.6 279.9h1.0M206.5 296.2h1.0M202.9 284.5h1.0M212.7 279.5h1.0M215.0 283.6h1.0M213.2 282.9h1.0M203.7 282.2h1.0M201.9 277.6h1.0M191.4 278.7h1.0M215.2 292.3h1.0M204.4 278.2h1.0M197.4 293.6h1.0M197.9 278.4h1.0M213.0 287.9h1.0M204.6 283.1h1.0M212.7 291.5h1.0M208.3 283.7h1.0M214.1 283.1h1.0M208.8 279.8h1.0M217.3 286.5h1.0M196.9 289.0h1.0M218.5 281.4h1.0M207.9 282.8h1.0M200.8 282.4h1.0M202.8 270.4h1.0M200.4 284.7h1.0M209.7 275.4h1.0M210.8 283.1h1.0M196.5 279.9h1.0M192.5 280.5h1.0M216.7 282.2h1.0M209.8 275.1h1.0M196.5 283.5h1.0M214.6 292.5h1.0M216.0 292.6h1.0M210.5 294.1h1.0M210.8 290.2h1.0M202.6 286.0h1.0M212.4 282.8h1.0M200.6 289.1h1.0M222.3 286.2h1.0M203.6 284.5h1.0M211.2 277.8h1.0M200.8 285.4h1.0M195.5 295.3h1.0M202.7 285.6h1.0M223.2 280.7h1.0M206.9 284.6h1.0M191.4 281.7h1.0M214.9 282.6h1.0M216.0 277.9h1.0M200.4 288.2h1.0M207.6 281.1h1.0M206.7 282.3h1.0M200.7 283.1h1.0M207.4 273.3h1.0M194.3 292.8h1.0M209.5 293.8h1.0M214.5 278.9h1.0M200.0 299.5h1.0M211.9 283.5h1.0M212.7 280.3h1.0M211.1 284.9h1.0M218.0 285.6h1.0M206.7 279.9h1.0M200.7 286.1h1.0M212.9 275.0h1.0M210.8 287.8h1.0M189.7 280.0h1.0M207.2 274.0h1.0M200.7 283.2h1.0M203.7 275.4h1.0M207.3 288.9h1.0M218.6 292.3h1.0M209.9 275.9h1.0M201.3 280.2h1.0M202.1 276.0h1.0M208.2 275.6h1.0M209.8 277.4h1.0M228.0 281.6h1.0M199.1 274.4h1.0M202.2 288.1h1.0M214.2 296.7h1.0M203.8 277.0h1.0M208.0 283.1h1.0M193.9 280.1h1.0M193.7 267.7h1.0M212.0 270.6h1.0M198.6 294.4h1.0M212.6 282.4h1.0M202.8 293.2h1.0M209.0 283.5h1.0M215.9 288.1h1.0M200.3 290.3h1.0M200.4 280.2h1.0M215.6 291.5h1.0M206.7 291.4h1.0M205.4 281.5h1.0M213.6 283.3h1.0M198.8 276.3h1.0M206.3 293.2h1.0M196.6 277.7h1.0M196.1 284.0h1.0M211.7 279.5h1.0M216.1 280.2h1.0M208.0 289.0h1.0M195.0 284.8h1.0M205.5 290.4h1.0M209.1 283.1h1.0M206.3 290.3h1.0M215.7 276.2h1.0M200.1 278.9h1.0M209.0 261.7h1.0M203.8 290.8h1.0M205.8 289.6h1.0M203.8 274.9h1.0M210.4 277.0h1.0M197.0 282.9h1.0M204.1 276.7h1.0M209.2 291.2h1.0M213.3 293.8h1.0M214.9 284.4h1.0M208.0 285.0h1.0M215.5 281.3h1.0M216.5 274.5h1.0M205.5 273.6h1.0M222.0 277.9h1.0M218.5 281.9h1.0M204.2 290.6h1.0M205.6 278.7h1.0M202.8 285.8h1.0M205.6 295.3h1.0M209.3 294.7h1.0M208.6 289.4h1.0M203.4 289.2h1.0M210.3 268.0h1.0M216.0 279.9h1.0M213.6 284.6h1.0M211.7 283.0h1.0M203.9 288.1h1.0M204.1 289.6h1.0M219.5 286.0h1.0M206.9 276.6h1.0M200.6 280.4h1.0M213.6 277.0h1.0M219.4 289.4h1.0M194.8 286.0h1.0M219.4 290.6h1.0M198.9 284.4h1.0M213.2 276.3h1.0M207.1 282.3h1.0M201.7 277.1h1.0M199.1 274.3h1.0M198.5 273.2h1.0M196.7 289.3h1.0M203.6 281.2h1.0M214.4 276.0h1.0M204.5 279.2h1.0M221.6 282.2h1.0M204.6 282.0h1.0M201.1 281.3h1.0M206.4 279.4h1.0M219.4 287.3h1.0M200.7 280.8h1.0M206.4 294.2h1.0M214.3 277.1h1.0M202.6 265.8h1.0M210.5 277.3h1.0M205.1 286.4h1.0M204.9 284.9h1.0M205.4 287.2h1.0M204.5 287.9h1.0M212.3 293.7h1.0M194.2 280.2h1.0M196.4 290.5h1.0M202.7 284.5h1.0M194.4 282.3h1.0M198.9 293.4h1.0M196.9 292.7h1.0M205.3 273.5h1.0M193.1 289.6h1.0M204.0 288.6h1.0M201.1 275.7h1.0M214.2 278.3h1.0M193.7 282.2h1.0M193.3 282.5h1.0M193.9 290.0h1.0M197.3 291.0h1.0M199.0 275.2h1.0M210.6 266.1h1.0M199.6 278.2h1.0M204.3 285.6h1.0M204.8 285.3h1.0M210.1 291.7h1.0M194.9 291.8h1.0M199.4 290.9h1.0M205.6 276.4h1.0M216.3 291.5h1.0M200.5 277.8h1.0M200.0 294.0h1.0M211.4 289.3h1.0M206.4 286.9h1.0M205.8 288.2h1.0M219.9 286.6h1.0M200.1 282.7h1.0M211.6 274.8h1.0M220.6 288.4h1.0M202.4 287.2h1.0M223.6 286.5h1.0M211.6 281.5h1.0M208.5 289.4h1.0M217.3 279.2h1.0M207.8 275.1h1.0M208.1 281.8h1.0M204.8 279.5h1.0M194.8 281.0h1.0M211.6 292.8h1.0M201.9 285.7h1.0M199.3 280.8h1.0M223.1 276.4h1.0M215.1 277.7h1.0M218.1 282.0h1.0M220.0 273.5h1.0M196.2 281.5h1.0M220.7 280.7h1.0M198.2 276.0h1.0M198.2 281.0h1.0M208.9 277.4h1.0M203.6 283.8h1.0M219.6 292.4h1.0M203.5 294.6h1.0M211.3 276.6h1.0M206.2 282.4h1.0M200.5 286.9h1.0M204.2 281.0h1.0M203.0 273.9h1.0M207.6 278.6h1.0M205.2 277.2h1.0M212.9 275.9h1.0M204.1 284.2h1.0M208.5 282.6h1.0M219.0 277.2h1.0M210.1 292.7h1.0M227.9 280.7h1.0M207.3 293.5h1.0M208.8 280.8h1.0M211.1 284.2h1.0M215.4 280.3h1.0M212.4 281.2h1.0M206.2 276.7h1.0M204.9 275.0h1.0M203.4 277.0h1.0M206.4 287.4h1.0M194.6 288.5h1.0M196.9 288.5h1.0M197.5 275.1h1.0M217.4 291.5h1.0M208.4 285.5h1.0M214.4 276.6h1.0M204.6 281.3h1.0M208.9 282.0h1.0M200.0 284.5h1.0M191.3 270.9h1.0M204.4 273.5h1.0M202.4 286.8h1.0M201.5 286.3h1.0M195.6 277.4h1.0M210.9 282.2h1.0M212.4 288.2h1.0M210.5 283.0h1.0M214.7 280.6h1.0M199.9 272.4h1.0M210.9 275.7h1.0M205.8 285.6h1.0M202.6 283.2h1.0M206.5 285.3h1.0M199.0 276.4h1.0M203.8 267.9h1.0M206.2 278.9h1.0M192.6 280.5h1.0M217.9 280.4h1.0M213.8 291.1h1.0M212.5 290.8h1.0M219.6 284.3h1.0M211.5 283.0h1.0M211.0 284.5h1.0M219.0 281.2h1.0M202.6 289.7h1.0M196.0 273.2h1.0M213.6 287.5h1.0M204.5 285.0h1.0M214.3 280.7h1.0M211.4 272.9h1.0M201.0 284.9h1.0M205.9 275.9h1.0M197.8 275.7h1.0M206.7 281.9h1.0M205.0 281.4h1.0M212.6 282.3h1.0M220.9 277.5h1.0M208.5 282.2h1.0M204.2 293.3h1.0M207.3 282.6h1.0M205.7 276.9h1.0M202.9 277.7h1.0M208.2 278.7h1.0M197.7 292.1h1.0M199.9 286.1h1.0M208.3 291.6h1.0M213.7 284.9h1.0M210.4 292.9h1.0M204.3 271.6h1.0M215.0 272.5h1.0M208.9 283.9h1.0M219.8 285.3h1.0M210.3 275.4h1.0M206.3 280.3h1.0M197.1 280.1h1.0M216.2 286.4h1.0M214.0 277.1h1.0M217.0 275.5h1.0M202.2 279.1h1.0M198.1 277.7h1.0M217.0 282.9h1.0M206.4 282.2h1.0M187.5 288.5h1.0M211.4 278.9h1.0M196.6 280.6h1.0M217.3 276.9h1.0M214.8 295.4h1.0M191.1 278.4h1.0M209.0 286.4h1.0M206.3 286.1h1.0M211.1 276.2h1.0M197.0 287.9h1.0M195.3 285.8h1.0M213.3 277.8h1.0M191.1 273.8h1.0M205.6 280.3h1.0M209.7 279.4h1.0M212.1 276.1h1.0M209.0 277.0h1.0M224.1 284.8h1.0M215.7 277.4h1.0M205.2 276.0h1.0M205.3 283.4h1.0M200.7 291.2h1.0M207.9 276.0h1.0M222.8 274.7h1.0M211.9 290.8h1.0M205.6 269.7h1.0M197.1 281.0h1.0M205.8 281.9h1.0M200.4 279.0h1.0M209.3 282.7h1.0M197.7 287.1h1.0M212.1 277.9h1.0M204.6 282.5h1.0M201.6 279.7h1.0M208.7 285.3h1.0M202.7 284.5h1.0M206.0 278.4h1.0M200.6 282.2h1.0M210.0 283.7h1.0M193.2 290.9h1.0M205.5 282.5h1.0M210.7 277.5h1.0M213.1 283.0h1.0M210.5 295.1h1.0M216.4 290.4h1.0M208.2 291.3h1.0M226.3 273.5h1.0M202.3 295.2h1.0M190.6 286.6h1.0M189.3 285.4h1.0M191.6 283.9h1.0M206.1 286.2h1.0M193.0 271.1h1.0M194.8 289.5h1.0M211.6 274.1h1.0M192.3 293.9h1.0M206.7 284.7h1.0M213.0 278.5h1.0M215.3 276.3h1.0M208.0 281.2h1.0M195.3 292.8h1.0M198.5 283.0h1.0M217.4 283.1h1.0M218.6 277.3h1.0M202.9 292.6h1.0M213.0 280.8h1.0M212.1 278.5h1.0M203.5 285.1h1.0M214.4 278.7h1.0M199.2 281.6h1.0M210.8 272.2h1.0M210.9 272.5h1.0M205.0 286.1h1.0M201.8 277.9h1.0M218.3 285.5h1.0M200.0 285.7h1.0M199.3 287.3h1.0M195.3 287.2h1.0M204.5 289.5h1.0M204.8 281.9h1.0M199.9 280.8h1.0M215.0 289.0h1.0M207.2 275.7h1.0M210.8 276.8h1.0M195.4 275.3h1.0M203.8 277.9h1.0M218.5 289.9h1.0M214.6 290.8h1.0M210.0 279.8h1.0M215.4 273.4h1.0M212.1 277.8h1.0M208.9 283.8h1.0M209.6 292.3h1.0M210.2 281.3h1.0M203.4 288.7h1.0M220.3 287.1h1.0M225.5 273.1h1.0M207.9 289.9h1.0M206.4 290.9h1.0M225.1 285.6h1.0M210.2 282.1h1.0M211.3 290.2h1.0M210.4 286.2h1.0M207.5 283.9h1.0M204.1 285.8h1.0M213.0 291.7h1.0M195.3 277.3h1.0M215.1 281.3h1.0M218.7 279.5h1.0M205.1 284.6h1.0M203.9 284.0h1.0M222.3 280.0h1.0M205.6 284.5h1.0M202.6 282.3h1.0M214.3 290.5h1.0M198.3 290.1h1.0M190.6 283.3h1.0M207.0 283.5h1.0M202.9 281.1h1.0M200.8 277.9h1.0M201.1 285.8h1.0M202.0 289.2h1.0M204.5 271.3h1.0M189.0 277.4h1.0M213.0 289.4h1.0M204.2 291.7h1.0M203.9 277.3h1.0M204.4 276.0h1.0M213.3 273.7h1.0M209.2 289.3h1.0M224.3 283.2h1.0M189.8 282.8h1.0M213.3 277.4h1.0M214.5 287.1h1.0M211.2 291.2h1.0M205.8 281.6h1.0M205.7 288.0h1.0M206.6 286.1h1.0M209.8 283.6h1.0M203.7 281.1h1.0M201.0 293.7h1.0M214.3 290.4h1.0M206.7 276.8h1.0M213.3 293.0h1.0M227.7 274.0h1.0M196.0 286.8h1.0M199.6 287.5h1.0M201.1 283.2h1.0M205.8 276.7h1.0M219.8 276.7h1.0M210.2 288.3h1.0M215.3 277.8h1.0M221.6 282.4h1.0M190.9 284.8h1.0M203.8 279.0h1.0M201.2 276.5h1.0M209.9 274.9h1.0M198.5 280.7h1.0M219.4 288.8h1.0M202.6 282.3h1.0M200.5 281.4h1.0M198.3 293.9h1.0M196.2 291.9h1.0M206.2 288.2h1.0M201.9 285.8h1.0M209.0 286.4h1.0M202.7 289.2h1.0M210.1 284.6h1.0M208.2 288.8h1.0M215.1 284.1h1.0M212.3 288.9h1.0M202.3 274.7h1.0M216.3 276.0h1.0M202.0 292.3h1.0M199.4 291.3h1.0M213.4 277.5h1.0M196.6 276.8h1.0M201.1 289.6h1.0M194.4 281.9h1.0M194.6 283.9h1.0M208.7 291.2h1.0M199.1 286.7h1.0M219.6 283.0h1.0M217.8 290.6h1.0M209.2 272.5h1.0M201.1 279.3h1.0M206.2 301.7h1.0M204.4 287.7h1.0M215.3 292.4h1.0M191.4 278.4h1.0M205.0 295.3h1.0M207.0 275.0h1.0M209.5 286.5h1.0M211.8 284.8h1.0M203.2 277.5h1.0M211.2 286.4h1.0M197.0 264.4h1.0M215.2 287.5h1.0M209.3 282.7h1.0M205.3 278.9h1.0M215.1 273.5h1.0M200.7 274.9h1.0M193.0 276.3h1.0M210.3 276.2h1.0M207.0 282.7h1.0M203.6 273.6h1.0M200.9 278.5h1.0M209.9 271.5h1.0M213.2 295.1h1.0M199.1 286.0h1.0M195.3 266.9h1.0M211.7 286.6h1.0M197.8 299.7h1.0M216.3 284.1h1.0M217.5 285.4h1.0M201.8 286.3h1.0M224.5 293.9h1.0M204.3 296.5h1.0M205.6 284.7h1.0M205.5 270.5h1.0M209.8 282.1h1.0M212.9 272.2h1.0M209.1 273.7h1.0M200.8 289.3h1.0M203.8 281.7h1.0M194.2 281.0h1.0M198.3 286.3h1.0M207.7 287.9h1.0M206.3 277.6h1.0M201.9 292.4h1.0M208.1 277.4h1.0M200.5 287.3h1.0M206.0 281.1h1.0M206.8 281.9h1.0M214.1 280.6h1.0M214.3 289.0h1.0M198.4 288.6h1.0M203.2 283.1h1.0M192.5 290.8h1.0M222.0 273.8h1.0M189.6 286.3h1.0M205.7 274.5h1.0M194.0 266.1h1.0M206.6 272.7h1.0M207.9 287.9h1.0M211.0 281.9h1.0M201.4 283.7h1.0M211.8 277.1h1.0M200.8 278.5h1.0M198.8 275.7h1.0M199.9 282.3h1.0M200.1 284.2h1.0M219.4 282.2h1.0M213.2 282.1h1.0M211.2 281.3h1.0M190.3 284.0h1.0M205.5 287.1h1.0M211.2 277.4h1.0M192.3 286.5h1.0M213.8 289.4h1.0M197.7 274.7h1.0M206.1 278.0h1.0M208.1 280.5h1.0M205.3 276.3h1.0M206.0 279.8h1.0M209.9 278.9h1.0M215.4 292.6h1.0M218.2 284.2h1.0M217.0 292.0h1.0M207.3 281.8h1.0M190.4 283.5h1.0M197.5 282.3h1.0M202.4 281.7h1.0M211.2 299.3h1.0M215.5 290.3h1.0M203.2 284.0h1.0M201.0 270.1h1.0M207.0 280.1h1.0M207.8 288.8h1.0M211.7 284.7h1.0M212.3 280.9h1.0M204.6 288.1h1.0M202.9 278.4h1.0M204.9 287.6h1.0M227.5 286.8h1.0M216.0 281.5h1.0M209.1 279.2h1.0M223.8 281.8h1.0M198.0 287.0h1.0M209.5 284.7h1.0M210.5 289.9h1.0M200.8 281.0h1.0M201.8 282.8h1.0M211.8 281.6h1.0M208.3 285.3h1.0M201.8 276.3h1.0M205.3 291.0h1.0M211.6 281.0h1.0M204.7 291.8h1.0M200.5 292.3h1.0M209.4 274.3h1.0M205.3 284.6h1.0M207.3 286.5h1.0M197.0 283.1h1.0M205.9 286.6h1.0M203.4 277.7h1.0M194.9 289.5h1.0M218.5 284.1h1.0M207.5 281.6h1.0M208.3 267.3h1.0M213.2 287.7h1.0M217.3 273.6h1.0M214.4 291.5h1.0M201.0 289.8h1.0M208.1 274.6h1.0M201.6 273.9h1.0M204.5 285.7h1.0M209.4 290.9h1.0M215.8 284.1h1.0M197.9 285.1h1.0M212.5 283.7h1.0M209.4 293.4h1.0M198.3 286.6h1.0M205.5 291.6h1.0M215.9 289.0h1.0M206.0 282.9h1.0M209.4 281.9h1.0M213.5 291.9h1.0M206.9 286.9h1.0M206.5 281.7h1.0M216.3 290.4h1.0M215.2 280.6h1.0M226.0 281.1h1.0M208.9 272.1h1.0M192.4 281.3h1.0M195.1 300.3h1.0M210.6 272.8h1.0M198.5 275.1h1.0M195.1 289.6h1.0M215.6 277.8h1.0M193.6 289.3h1.0M193.5 294.1h1.0M207.8 280.9h1.0M215.9 279.1h1.0M212.9 289.6h1.0M197.4 287.0h1.0M212.5 292.3h1.0M198.4 282.2h1.0M208.8 285.9h1.0M196.3 276.4h1.0M209.3 276.5h1.0M205.2 277.0h1.0M209.6 293.0h1.0M217.4 283.3h1.0M213.3 282.1h1.0M223.0 281.4h1.0M202.0 291.0h1.0M213.8 282.7h1.0M211.2 272.2h1.0M204.8 282.2h1.0M210.5 271.3h1.0M207.2 279.9h1.0M211.9 277.6h1.0M205.0 271.8h1.0M207.1 272.1h1.0M200.5 283.0h1.0M203.2 286.2h1.0M208.1 285.7h1.0M209.0 277.2h1.0M209.5 276.9h1.0M213.6 283.4h1.0M200.6 289.1h1.0M200.4 289.1h1.0M193.2 283.8h1.0M216.8 276.5h1.0M221.9 286.4h1.0M209.5 284.7h1.0M211.6 279.2h1.0M200.4 276.4h1.0M207.6 279.5h1.0M217.8 289.6h1.0M209.1 290.9h1.0M195.3 281.3h1.0M208.9 284.0h1.0M206.6 292.8h1.0M213.6 274.0h1.0M219.7 279.2h1.0M207.0 281.4h1.0M210.6 284.9h1.0M214.5 272.1h1.0M199.7 285.8h1.0M204.9 273.6h1.0M193.4 288.9h1.0M208.7 282.2h1.0M212.4 279.5h1.0M209.5 288.0h1.0M210.3 282.9h1.0M200.7 277.2h1.0M200.0 288.7h1.0M216.9 280.7h1.0M212.0 284.4h1.0M203.8 291.1h1.0M211.5 273.7h1.0M200.6 287.5h1.0M198.8 288.6h1.0M209.5 296.5h1.0M206.0 271.2h1.0M209.1 287.7h1.0M225.6 295.9h1.0M210.0 285.0h1.0M208.1 283.0h1.0M223.1 280.0h1.0M200.4 272.4h1.0M205.6 291.1h1.0M202.9 275.1h1.0M206.0 271.3h1.0M224.9 287.0h1.0M191.3 289.8h1.0M216.9 287.8h1.0M196.2 288.4h1.0M194.0 277.3h1.0M205.5 282.4h1.0M206.0 280.6h1.0M204.3 277.4h1.0M197.8 285.4h1.0M212.0 275.9h1.0M196.4 282.1h1.0M211.7 291.6h1.0M196.3 282.1h1.0M208.9 287.6h1.0M207.7 274.9h1.0M194.5 285.3h1.0M206.9 290.0h1.0M214.6 286.1h1.0M214.3 277.7h1.0M212.3 287.8h1.0M202.2 280.2h1.0M205.9 287.7h1.0M199.8 276.8h1.0M216.2 275.4h1.0M200.9 292.6h1.0M198.2 281.8h1.0M202.2 281.7h1.0M220.4 274.1h1.0M194.0 280.0h1.0M214.0 291.5h1.0M213.0 285.6h1.0M202.5 282.7h1.0M208.6 270.8h1.0M195.0 288.2h1.0M210.0 285.2h1.0M210.6 289.8h1.0M200.8 280.2h1.0M208.4 286.0h1.0M207.2 278.9h1.0M211.5 273.3h1.0M212.6 270.4h1.0M215.6 286.8h1.0M206.1 280.4h1.0M211.7 281.8h1.0M214.1 272.1h1.0M220.3 292.5h1.0M207.9 278.8h1.0M203.3 271.4h1.0M201.8 274.3h1.0M206.2 278.7h1.0M193.2 289.0h1.0M198.4 285.6h1.0M212.4 285.3h1.0M223.2 277.5h1.0M218.0 287.3h1.0M202.1 282.4h1.0M216.8 288.6h1.0M209.9 277.3h1.0M202.9 278.6h1.0M217.7 276.6h1.0M214.4 278.1h1.0M214.3 276.8h1.0M211.8 285.4h1.0M215.0 279.3h1.0M204.8 272.7h1.0M204.8 279.6h1.0M202.4 278.2h1.0M214.4 271.5h1.0M211.0 283.2h1.0M215.0 282.9h1.0M204.6 282.3h1.0M205.0 291.6h1.0M207.1 272.8h1.0M207.3 286.3h1.0M205.4 284.1h1.0M218.6 275.7h1.0M208.7 290.4h1.0M202.3 283.6h1.0M209.2 286.0h1.0M208.5 280.2h1.0M207.7 278.1h1.0M205.5 288.1h1.0M219.4 289.2h1.0M200.9 279.5h1.0M213.4 290.3h1.0M214.8 284.2h1.0M215.1 274.8h1.0M224.9 286.7h1.0M200.3 282.1h1.0M202.2 279.9h1.0M210.4 284.8h1.0M211.6 284.6h1.0M212.0 277.5h1.0M202.0 279.3h1.0M204.4 286.7h1.0M220.0 286.7h1.0M212.8 293.3h1.0M212.8 282.1h1.0M214.2 283.3h1.0M221.8 277.1h1.0M206.3 295.1h1.0M210.0 284.1h1.0M194.8 286.1h1.0M204.7 290.9h1.0M210.0 287.2h1.0M212.6 277.7h1.0M201.7 281.0h1.0M196.6 290.3h1.0M200.7 285.1h1.0M190.7 280.3h1.0M198.9 281.7h1.0M206.2 289.5h1.0M211.1 275.1h1.0M219.0 281.3h1.0M208.6 289.7h1.0M201.2 289.5h1.0M208.9 276.2h1.0M204.3 282.2h1.0M215.6 284.7h1.0M215.8 284.0h1.0M194.0 281.8h1.0M205.1 279.3h1.0M223.8 280.4h1.0M216.9 283.3h1.0M205.6 283.0h1.0M212.7 284.9h1.0M210.3 287.3h1.0M206.0 286.7h1.0M213.6 280.6h1.0M209.4 288.0h1.0M211.8 279.1h1.0M205.2 289.5h1.0M205.8 287.0h1.0M210.2 279.5h1.0M204.5 288.1h1.0M197.6 280.5h1.0M197.1 288.3h1.0M209.2 276.4h1.0M200.3 284.4h1.0M200.0 291.4h1.0M201.5 279.6h1.0M212.3 270.4h1.0M190.0 278.5h1.0M208.3 282.1h1.0M205.1 273.0h1.0M218.6 279.0h1.0M204.3 279.9h1.0M195.0 270.7h1.0M208.9 279.8h1.0M209.2 281.6h1.0M209.4 279.7h1.0M209.5 279.6h1.0M223.9 290.0h1.0M203.8 273.9h1.0M209.7 279.0h1.0M206.2 289.7h1.0M192.9 284.1h1.0M196.9 274.4h1.0M199.2 285.6h1.0M203.9 267.3h1.0M196.8 279.9h1.0M217.7 285.6h1.0M205.6 274.3h1.0M198.6 287.2h1.0M200.5 283.3h1.0M206.8 282.4h1.0M201.3 298.9h1.0M197.8 287.9h1.0M196.5 283.9h1.0M206.1 272.2h1.0M220.1 272.5h1.0M203.1 283.1h1.0M206.5 286.5h1.0M199.6 276.9h1.0M223.8 279.1h1.0M207.5 285.7h1.0M192.6 273.8h1.0M208.2 282.0h1.0M196.7 288.9h1.0M212.4 280.1h1.0M206.2 283.9h1.0M215.5 283.0h1.0M198.4 285.8h1.0M209.1 285.3h1.0M219.0 281.2h1.0M204.0 280.3h1.0M197.9 281.1h1.0M203.2 286.4h1.0M207.8 277.1h1.0M203.1 291.1h1.0M209.6 266.7h1.0M215.1 285.8h1.0M199.4 293.5h1.0M193.7 284.0h1.0M198.8 287.0h1.0M193.2 285.6h1.0M199.8 300.2h1.0M203.9 288.8h1.0M192.3 292.7h1.0M206.1 279.4h1.0M205.3 283.4h1.0M193.0 280.6h1.0M202.2 280.9h1.0M192.5 279.4h1.0M210.2 283.5h1.0M203.1 277.4h1.0M209.0 287.8h1.0M216.3 283.3h1.0M210.5 286.9h1.0M205.1 278.7h1.0M207.5 285.5h1.0M201.4 298.5h1.0M204.8 288.8h1.0M218.9 286.4h1.0M200.5 288.7h1.0M204.2 291.1h1.0M206.9 291.6h1.0M207.9 279.8h1.0M210.8 280.5h1.0M195.9 285.4h1.0M201.0 292.7h1.0M204.3 288.9h1.0M207.2 280.4h1.0M209.9 286.8h1.0M208.2 286.5h1.0M205.5 280.8h1.0M197.8 279.7h1.0M196.0 272.2h1.0M195.7 274.5h1.0M211.4 276.9h1.0M217.2 293.1h1.0M198.3 284.5h1.0M194.1 290.1h1.0M202.0 284.9h1.0M206.6 282.0h1.0M200.6 293.1h1.0M203.0 282.5h1.0M210.0 288.1h1.0M207.7 284.8h1.0M201.3 279.3h1.0M194.7 280.5h1.0M203.7 287.0h1.0M213.2 280.5h1.0M191.7 291.5h1.0M216.8 280.5h1.0M206.2 287.1h1.0M216.6 283.0h1.0M199.7 282.7h1.0M198.7 286.3h1.0M194.4 281.6h1.0M206.7 279.0h1.0M205.9 279.2h1.0M203.2 284.5h1.0M205.5 284.3h1.0M208.3 290.3h1.0M198.7 285.5h1.0M212.1 288.0h1.0M192.5 289.3h1.0M201.2 282.3h1.0M207.5 289.7h1.0M202.8 279.8h1.0M206.1 271.7h1.0M192.6 265.1h1.0M202.4 282.0h1.0M204.4 289.9h1.0M193.8 280.8h1.0M209.2 255.0h1.0M195.1 292.0h1.0M198.3 291.7h1.0M194.6 278.4h1.0M206.2 285.5h1.0M198.7 291.8h1.0M209.3 278.5h1.0M211.2 278.4h1.0M202.0 285.0h1.0M208.9 288.0h1.0M218.4 282.1h1.0M191.8 286.1h1.0M191.3 285.7h1.0M218.5 285.3h1.0M197.8 285.9h1.0M227.1 276.5h1.0M211.5 271.0h1.0M211.6 277.8h1.0M203.8 270.2h1.0M205.6 291.4h1.0M211.4 278.3h1.0M200.2 288.8h1.0M202.4 278.2h1.0M206.0 284.6h1.0M191.5 285.4h1.0M202.7 285.1h1.0M207.0 281.7h1.0M205.2 281.3h1.0M206.0 282.5h1.0M205.0 300.0h1.0M189.7 292.0h1.0M198.1 278.5h1.0M189.8 282.5h1.0M207.5 275.5h1.0M212.6 293.0h1.0M206.3 288.0h1.0M189.3 282.4h1.0M202.1 276.1h1.0M211.3 276.5h1.0M208.8 280.2h1.0M211.1 279.8h1.0M211.6 280.5h1.0M196.8 281.9h1.0M207.1 275.4h1.0M207.6 284.1h1.0M197.3 282.8h1.0M200.7 287.0h1.0M204.3 274.6h1.0M220.4 286.9h1.0M213.5 289.1h1.0M205.5 285.1h1.0M205.8 277.8h1.0M192.9 278.2h1.0M205.7 282.2h1.0M213.2 284.5h1.0M202.2 286.0h1.0M209.6 283.1h1.0M216.2 272.2h1.0M203.0 281.1h1.0M193.4 283.1h1.0M204.6 279.5h1.0M204.3 285.3h1.0M226.5 288.8h1.0M204.7 275.6h1.0M204.6 286.0h1.0M213.3 277.3h1.0M199.6 277.3h1.0M202.8 281.2h1.0M204.2 294.4h1.0M204.0 286.5h1.0M208.4 281.3h1.0M206.7 290.0h1.0M214.1 285.3h1.0M201.9 276.5h1.0M210.8 276.3h1.0M206.1 273.5h1.0M210.2 288.2h1.0M215.8 273.6h1.0M204.0 291.5h1.0M202.0 274.3h1.0M208.5 282.5h1.0M204.7 284.0h1.0M219.4 274.9h1.0M203.8 270.3h1.0M201.0 279.5h1.0M221.1 292.0h1.0M200.2 291.7h1.0M211.7 274.3h1.0M200.9 283.1h1.0M210.8 281.1h1.0M218.1 289.3h1.0M216.5 284.6h1.0M202.6 277.3h1.0M210.1 296.6h1.0M215.1 287.3h1.0M206.8 277.7h1.0M220.4 289.6h1.0M218.1 287.5h1.0M219.3 290.0h1.0M206.1 275.6h1.0M209.1 283.8h1.0M196.5 279.0h1.0M199.0 282.1h1.0M210.5 281.4h1.0M200.3 285.6h1.0M206.3 276.6h1.0M197.6 289.6h1.0M200.5 280.4h1.0M196.5 285.7h1.0M208.4 282.1h1.0M200.2 284.9h1.0M207.1 287.5h1.0M210.6 280.4h1.0M203.2 288.4h1.0M206.2 280.2h1.0M224.1 284.6h1.0M210.4 282.0h1.0M218.5 278.1h1.0M217.8 268.3h1.0M212.9 277.4h1.0M210.2 278.5h1.0M193.3 280.2h1.0M209.9 290.6h1.0M198.3 276.9h1.0M195.6 286.9h1.0M205.5 299.2h1.0M215.1 276.8h1.0M210.8 285.3h1.0M211.8 287.2h1.0M212.2 282.8h1.0M212.2 283.7h1.0M197.8 287.4h1.0M197.5 298.4h1.0M206.8 278.5h1.0M214.3 285.8h1.0M205.8 284.1h1.0M200.2 296.3h1.0M201.8 292.7h1.0M202.3 295.3h1.0M201.0 286.7h1.0M197.5 285.8h1.0M218.7 282.8h1.0M207.5 280.7h1.0M193.1 278.7h1.0M207.5 285.2h1.0M210.2 287.6h1.0M212.7 284.7h1.0M198.0 273.7h1.0M191.4 286.8h1.0M224.2 299.4h1.0M195.9 282.9h1.0M194.9 276.8h1.0M207.5 291.0h1.0M214.8 276.4h1.0M213.9 283.5h1.0M199.6 285.1h1.0M206.3 279.7h1.0M200.2 277.5h1.0M206.0 284.8h1.0M200.7 276.1h1.0M225.8 284.6h1.0M215.4 285.6h1.0M204.5 276.1h1.0M204.9 287.5h1.0M217.0 274.7h1.0M200.6 284.6h1.0M204.0 278.5h1.0M202.4 275.6h1.0M206.2 279.8h1.0M219.5 283.4h1.0M200.9 287.6h1.0M196.2 287.1h1.0M197.1 278.0h1.0M201.1 282.5h1.0M195.0 267.1h1.0M196.2 288.4h1.0M199.3 283.2h1.0M209.9 281.8h1.0M208.0 281.1h1.0M203.2 271.2h1.0M208.9 284.7h1.0M206.3 283.8h1.0M205.1 282.4h1.0M199.0 289.6h1.0M212.3 281.8h1.0M205.7 279.7h1.0M204.3 290.0h1.0M203.1 281.6h1.0M207.1 277.6h1.0M205.3 269.4h1.0M196.3 280.5h1.0M201.2 280.5h1.0M196.5 276.5h1.0M195.7 273.1h1.0M226.3 281.5h1.0M191.9 283.7h1.0M205.1 289.1h1.0M211.9 282.6h1.0M204.6 281.2h1.0M205.1 289.2h1.0M197.8 291.8h1.0M200.2 284.7h1.0M200.3 277.8h1.0M196.6 286.3h1.0M204.7 275.8h1.0M210.9 290.7h1.0M213.1 284.2h1.0M219.5 276.7h1.0M210.7 294.2h1.0M207.5 289.3h1.0M197.3 281.1h1.0M194.6 280.2h1.0M208.2 273.3h1.0M212.9 270.7h1.0M213.6 284.0h1.0M206.5 276.8h1.0M216.8 288.9h1.0M206.7 282.6h1.0M203.2 285.1h1.0M205.0 294.8h1.0M207.0 272.5h1.0M211.2 283.5h1.0M196.6 280.6h1.0M197.9 287.4h1.0M215.6 281.5h1.0M203.4 279.7h1.0M215.7 277.5h1.0M211.5 281.3h1.0M208.8 273.9h1.0M215.9 286.4h1.0M205.2 265.6h1.0M211.6 285.8h1.0M212.9 285.7h1.0M214.8 282.9h1.0M198.8 281.1h1.0M206.2 288.6h1.0M218.4 287.0h1.0M212.1 287.6h1.0M217.3 279.8h1.0M218.8 285.1h1.0M201.8 282.4h1.0M206.3 279.8h1.0M218.0 289.0h1.0M210.8 274.3h1.0M199.5 281.4h1.0M210.1 274.7h1.0M209.7 271.2h1.0M202.3 290.6h1.0M203.4 287.1h1.0M213.8 284.3h1.0M212.2 275.3h1.0M197.7 283.0h1.0M199.2 287.5h1.0M204.0 270.8h1.0M206.6 287.1h1.0M205.9 285.3h1.0M199.8 294.3h1.0M209.0 276.9h1.0M190.3 294.9h1.0M199.6 283.6h1.0M206.6 285.1h1.0M206.3 288.2h1.0M205.5 297.1h1.0M209.2 289.0h1.0M207.8 294.3h1.0M203.8 283.4h1.0M219.0 286.8h1.0M205.5 288.4h1.0M227.2 273.9h1.0M193.0 284.9h1.0M213.4 284.0h1.0M196.3 286.9h1.0M192.8 293.5h1.0M198.5 287.5h1.0M202.2 283.8h1.0M205.5 283.5h1.0M198.2 274.8h1.0M202.5 281.8h1.0M209.9 277.3h1.0M201.2 274.8h1.0M213.7 288.9h1.0M200.4 277.4h1.0M221.1 276.0h1.0M206.1 272.7h1.0M195.6 290.5h1.0M212.0 291.4h1.0M208.2 285.3h1.0M194.3 281.4h1.0M221.8 285.5h1.0M202.8 286.3h1.0M210.8 283.3h1.0M227.9 283.7h1.0M200.8 272.8h1.0M200.6 284.0h1.0M210.0 280.1h1.0M215.1 281.9h1.0M199.4 274.6h1.0M217.8 284.0h1.0M216.2 286.4h1.0M197.4 269.8h1.0M195.8 273.8h1.0M216.4 291.4h1.0M196.5 274.0h1.0M206.6 287.3h1.0M210.2 288.1h1.0M213.4 294.1h1.0M206.8 280.9h1.0M200.0 278.4h1.0M213.1 278.2h1.0M210.2 278.1h1.0M215.3 272.2h1.0M198.1 276.2h1.0M218.9 279.0h1.0M210.7 279.8h1.0M203.9 287.5h1.0M211.4 287.1h1.0M205.7 283.1h1.0M191.6 272.2h1.0M201.2 286.5h1.0M209.2 280.9h1.0M208.7 271.1h1.0M208.2 279.3h1.0M200.2 278.1h1.0M198.0 283.0h1.0M202.9 284.9h1.0M207.8 292.7h1.0M205.5 278.6h1.0M209.0 283.5h1.0M200.8 276.4h1.0M201.6 279.4h1.0M201.4 274.7h1.0M204.0 282.3h1.0M201.4 286.2h1.0M205.8 280.7h1.0M202.5 291.5h1.0M217.0 281.9h1.0M200.5 288.3h1.0M198.7 281.2h1.0M209.6 282.4h1.0M219.5 292.7h1.0M205.0 277.0h1.0M196.6 287.3h1.0M212.4 272.4h1.0M197.8 281.6h1.0M205.8 288.3h1.0M204.1 296.3h1.0M196.8 288.4h1.0M212.7 283.8h1.0M208.9 281.0h1.0M205.0 280.7h1.0M208.4 283.1h1.0M196.8 283.7h1.0M203.8 290.7h1.0M208.8 277.5h1.0M211.8 277.1h1.0M191.4 290.1h1.0M209.9 286.7h1.0M197.7 280.5h1.0M189.2 282.3h1.0M212.6 285.9h1.0M215.0 280.8h1.0M197.9 278.8h1.0M212.7 283.4h1.0M206.7 287.2h1.0M212.5 276.8h1.0M221.3 279.5h1.0M216.1 285.9h1.0M207.6 271.9h1.0M197.0 281.5h1.0M200.5 288.6h1.0M203.6 277.5h1.0M201.3 286.8h1.0M209.1 297.3h1.0M211.1 286.8h1.0M221.1 276.4h1.0M215.6 296.6h1.0M195.9 288.1h1.0M226.2 288.5h1.0M206.2 285.1h1.0M202.9 278.3h1.0M192.0 282.7h1.0M207.4 281.5h1.0M224.8 293.3h1.0M206.3 290.5h1.0M210.8 280.9h1.0M209.8 284.4h1.0M214.8 286.2h1.0M200.5 291.0h1.0M199.9 288.7h1.0M211.7 275.7h1.0M214.2 290.0h1.0M201.1 275.9h1.0M209.7 279.9h1.0M214.6 273.3h1.0M209.5 280.5h1.0M203.1 287.6h1.0M223.5 282.5h1.0M218.3 289.0h1.0M211.7 288.9h1.0M205.3 281.6h1.0M196.3 280.0h1.0M202.9 291.1h1.0M206.8 287.2h1.0M198.7 289.5h1.0M214.8 290.2h1.0M196.4 281.5h1.0M219.7 278.2h1.0M203.2 284.3h1.0M200.1 280.0h1.0M204.2 278.9h1.0M210.5 277.3h1.0M214.9 281.8h1.0M197.6 281.3h1.0M211.7 285.4h1.0M202.8 286.7h1.0M195.6 291.0h1.0M197.0 285.2h1.0M216.1 283.9h1.0M195.4 286.3h1.0M201.2 284.1h1.0M206.6 285.2h1.0M218.5 279.0h1.0M189.0 284.4h1.0M207.5 274.9h1.0M207.6 289.5h1.0M192.8 284.7h1.0M202.6 286.0h1.0M203.6 274.5h1.0M210.8 276.8h1.0M203.6 279.2h1.0M201.8 270.6h1.0M207.9 289.0h1.0M215.0 286.3h1.0M195.5 283.4h1.0M206.6 289.4h1.0M204.3 271.8h1.0M205.7 276.5h1.0M213.7 289.1h1.0M201.2 287.5h1.0M194.0 282.6h1.0M204.4 285.6h1.0M195.7 284.0h1.0M219.4 279.5h1.0M217.4 279.1h1.0M197.4 277.2h1.0M206.1 282.5h1.0M192.9 282.0h1.0M204.7 288.3h1.0M202.3 273.0h1.0M221.6 281.9h1.0M210.1 279.9h1.0M208.0 278.2h1.0M215.3 280.4h1.0M202.9 292.1h1.0M211.7 293.4h1.0M200.6 269.8h1.0M201.3 289.0h1.0M221.9 272.1h1.0M211.2 276.6h1.0M200.1 274.7h1.0M213.8 289.3h1.0M199.9 292.8h1.0M207.5 271.7h1.0M195.2 286.8h1.0M215.1 284.8h1.0M200.1 280.0h1.0M194.4 280.6h1.0M191.2 281.1h1.0M212.0 276.4h1.0M195.7 281.9h1.0M195.2 283.8h1.0M206.2 283.4h1.0M204.7 275.8h1.0M207.1 286.9h1.0M203.6 274.4h1.0M221.1 277.7h1.0M196.5 275.6h1.0M200.4 271.1h1.0M203.9 283.5h1.0M210.5 277.3h1.0M218.2 289.8h1.0M206.3 280.8h1.0M212.7 287.6h1.0M209.4 277.0h1.0M200.7 285.7h1.0M217.5 279.0h1.0M205.9 276.8h1.0M208.2 282.6h1.0M211.8 289.4h1.0M216.4 284.6h1.0M200.6 285.9h1.0M205.0 297.4h1.0M198.4 287.6h1.0M223.5 283.0h1.0M207.4 275.2h1.0M205.6 280.7h1.0M199.4 292.0h1.0M204.1 285.8h1.0M209.1 275.4h1.0M216.1 277.9h1.0M208.5 273.4h1.0M207.2 296.6h1.0M197.2 280.2h1.0M201.0 275.3h1.0M206.2 292.2h1.0M190.7 283.8h1.0M201.9 276.6h1.0M206.4 277.0h1.0M219.2 275.1h1.0M191.9 281.9h1.0M194.9 281.9h1.0M212.6 284.9h1.0M224.4 278.4h1.0M207.8 285.0h1.0M213.5 290.1h1.0M210.9 294.8h1.0M192.3 290.4h1.0M211.0 274.9h1.0M198.2 280.9h1.0M204.3 286.8h1.0M206.1 277.1h1.0M207.9 274.6h1.0M212.6 272.4h1.0M206.4 282.2h1.0M215.3 277.9h1.0M208.6 280.0h1.0M201.6 275.1h1.0M209.8 284.6h1.0M202.6 277.8h1.0M212.7 274.7h1.0M203.0 275.7h1.0M203.3 274.6h1.0M214.1 285.4h1.0M191.2 287.6h1.0M209.9 278.0h1.0M202.0 277.8h1.0M211.8 295.0h1.0M211.2 287.4h1.0M198.4 291.8h1.0M209.9 285.8h1.0M219.3 282.8h1.0M202.9 284.2h1.0M212.3 292.0h1.0M225.8 295.4h1.0M190.5 285.8h1.0M204.3 283.7h1.0M221.2 288.3h1.0M204.8 287.6h1.0M205.0 282.2h1.0M197.6 279.4h1.0M212.3 292.4h1.0M211.4 280.3h1.0M216.6 280.6h1.0M210.8 280.6h1.0M197.8 275.7h1.0M190.4 286.7h1.0M208.1 282.6h1.0M218.0 285.2h1.0M209.4 291.5h1.0M210.5 281.6h1.0M220.3 283.0h1.0M201.9 278.8h1.0M204.6 288.6h1.0M213.8 285.4h1.0M202.6 289.7h1.0M200.0 293.1h1.0M202.6 275.0h1.0M211.5 292.5h1.0M199.8 275.5h1.0M203.2 276.6h1.0M208.4 270.7h1.0M198.9 292.8h1.0M201.5 280.0h1.0M207.7 286.5h1.0M208.0 278.9h1.0M199.7 293.6h1.0M201.4 275.4h1.0M213.5 282.4h1.0M202.2 276.1h1.0M205.8 281.2h1.0M204.9 291.6h1.0M200.6 284.9h1.0M211.8 284.6h1.0M203.7 287.8h1.0M191.8 280.3h1.0M219.3 274.7h1.0M203.9 276.1h1.0M207.1 279.8h1.0M208.4 290.2h1.0M202.4 283.0h1.0M197.0 280.2h1.0M198.3 283.7h1.0M201.0 278.6h1.0M211.4 288.0h1.0M203.3 287.8h1.0M209.7 277.9h1.0M197.7 275.6h1.0M206.7 285.6h1.0M196.7 281.3h1.0M211.8 287.8h1.0M204.1 288.3h1.0M203.4 283.5h1.0M197.6 285.0h1.0M204.3 274.3h1.0M193.7 274.1h1.0M213.2 282.6h1.0M208.3 284.6h1.0M203.3 279.7h1.0M197.0 287.1h1.0M209.3 289.5h1.0M198.9 272.4h1.0M214.0 284.8h1.0M211.3 294.5h1.0M200.0 282.6h1.0M204.1 282.8h1.0M220.1 282.5h1.0M210.8 285.8h1.0M213.7 267.3h1.0M201.5 285.9h1.0M212.0 280.3h1.0M195.3 287.2h1.0M211.0 279.0h1.0M213.5 282.1h1.0M204.0 285.1h1.0M209.4 288.9h1.0M202.8 282.1h1.0M203.5 285.3h1.0M207.8 276.6h1.0M209.3 282.4h1.0M207.0 285.2h1.0M209.6 294.6h1.0M197.6 278.0h1.0M194.0 284.2h1.0M209.4 279.6h1.0M192.5 278.4h1.0M194.9 288.5h1.0M211.8 276.1h1.0M211.0 293.1h1.0M230.5 282.4h1.0M203.4 281.6h1.0M203.0 283.7h1.0M204.8 284.7h1.0M194.6 285.7h1.0M213.8 289.2h1.0M198.4 283.6h1.0M199.4 279.4h1.0M207.3 274.3h1.0M201.6 280.0h1.0M209.8 276.8h1.0M211.7 288.6h1.0M212.0 275.8h1.0M205.6 280.0h1.0M198.8 284.8h1.0M205.6 292.1h1.0M196.9 273.7h1.0M193.5 282.7h1.0M193.0 289.3h1.0M213.8 272.8h1.0M194.5 287.9h1.0M215.0 269.2h1.0M205.1 282.4h1.0M202.9 277.2h1.0M206.2 280.2h1.0M218.6 284.6h1.0M194.2 292.8h1.0M209.3 277.7h1.0M201.9 293.1h1.0M197.2 293.7h1.0M188.9 274.6h1.0M197.9 283.7h1.0M197.9 286.9h1.0M205.8 292.3h1.0M212.6 287.2h1.0M209.0 280.4h1.0M203.6 280.2h1.0M219.5 287.0h1.0M200.8 278.5h1.0M206.1 284.7h1.0M203.1 283.4h1.0M211.1 277.8h1.0M209.6 297.1h1.0M205.7 284.0h1.0M210.8 296.1h1.0M208.1 289.7h1.0M200.6 289.7h1.0M213.5 278.9h1.0M201.9 279.8h1.0M200.8 283.7h1.0M211.7 282.0h1.0M202.0 275.7h1.0M206.2 296.8h1.0M226.6 296.8h1.0M213.0 286.5h1.0M201.8 284.3h1.0M201.7 281.5h1.0M213.9 276.3h1.0M208.9 285.5h1.0M198.7 283.1h1.0M211.3 286.4h1.0M193.2 289.5h1.0M216.5 295.9h1.0M216.2 282.4h1.0M219.3 283.9h1.0M195.7 281.8h1.0M211.1 284.9h1.0M222.0 276.1h1.0M209.6 292.9h1.0M204.8 286.3h1.0M216.8 274.6h1.0M194.8 283.5h1.0M205.5 290.4h1.0M209.7 286.9h1.0M202.5 279.4h1.0M206.7 286.9h1.0M213.6 284.8h1.0M212.8 279.0h1.0M205.8 285.1h1.0M196.6 276.2h1.0M194.0 281.1h1.0M198.9 275.5h1.0M202.0 289.0h1.0M200.1 289.6h1.0M204.6 284.1h1.0M205.1 292.1h1.0M211.2 273.1h1.0M195.8 283.0h1.0M201.5 286.5h1.0M210.9 286.4h1.0M200.5 280.3h1.0M214.2 270.5h1.0M201.1 278.8h1.0M208.0 289.2h1.0M217.8 278.7h1.0M215.0 283.8h1.0M207.3 281.8h1.0M207.3 288.5h1.0M212.1 278.6h1.0M203.0 285.1h1.0M197.6 284.7h1.0M214.1 276.1h1.0M215.3 284.5h1.0M208.5 288.8h1.0M204.4 285.3h1.0M197.3 279.0h1.0M201.3 279.2h1.0M203.5 274.8h1.0M208.4 275.8h1.0M213.0 269.8h1.0M206.7 284.9h1.0M209.4 282.8h1.0M196.0 283.0h1.0M207.2 298.2h1.0M215.5 282.8h1.0M200.9 287.8h1.0M191.3 275.4h1.0M211.6 280.4h1.0M218.1 278.4h1.0M212.0 283.5h1.0M202.4 276.2h1.0M211.0 278.3h1.0M189.7 279.1h1.0M206.8 284.3h1.0M200.3 275.1h1.0M215.2 283.4h1.0M198.4 286.1h1.0M222.4 282.8h1.0M225.3 289.3h1.0M221.7 282.7h1.0M214.1 283.7h1.0M200.4 284.5h1.0M203.9 288.5h1.0M214.0 285.4h1.0M209.3 283.0h1.0M201.2 287.3h1.0M204.4 278.1h1.0M199.8 288.1h1.0M209.4 275.4h1.0M205.7 291.0h1.0M216.4 278.7h1.0M212.0 281.2h1.0M203.4 281.5h1.0M217.2 285.6h1.0M188.1 271.8h1.0M194.9 280.5h1.0M201.5 287.0h1.0M210.5 284.9h1.0M221.2 275.0h1.0M212.6 290.2h1.0M208.6 294.3h1.0M206.2 277.5h1.0M192.2 280.8h1.0M201.5 275.5h1.0M214.8 278.6h1.0M208.8 281.4h1.0M201.6 296.0h1.0M206.0 274.7h1.0M201.0 294.5h1.0M191.0 283.2h1.0M204.5 280.6h1.0M201.1 280.0h1.0M196.4 287.0h1.0M204.6 280.6h1.0M203.7 281.6h1.0M207.4 281.7h1.0M206.3 283.1h1.0M207.6 284.4h1.0M204.3 281.1h1.0M200.3 278.1h1.0M205.3 286.8h1.0M206.0 283.6h1.0M213.7 282.7h1.0M206.5 270.8h1.0M200.7 282.5h1.0M212.5 277.8h1.0M205.9 276.3h1.0M212.6 279.5h1.0M223.1 276.3h1.0M212.5 270.4h1.0M196.0 275.6h1.0M198.8 288.5h1.0M210.2 281.3h1.0M193.0 277.9h1.0M202.3 282.6h1.0M207.8 270.3h1.0M202.1 291.7h1.0M199.2 289.7h1.0M205.6 281.9h1.0M203.0 284.9h1.0M201.9 278.7h1.0M210.1 279.5h1.0M200.8 281.2h1.0M204.1 279.4h1.0M215.9 285.5h1.0M212.9 275.3h1.0M206.2 286.0h1.0M204.5 276.8h1.0M208.1 283.4h1.0M207.9 290.3h1.0M195.9 293.8h1.0M199.9 273.9h1.0M214.8 286.3h1.0M198.5 291.9h1.0M219.1 282.3h1.0M211.5 291.0h1.0M205.9 277.8h1.0M202.4 283.0h1.0M207.1 296.6h1.0M212.5 287.1h1.0M209.8 288.4h1.0M216.7 281.4h1.0M210.0 281.4h1.0M201.1 288.6h1.0M210.7 283.1h1.0M212.2 292.8h1.0M205.5 278.2h1.0M199.1 277.6h1.0M200.2 285.8h1.0M210.7 273.6h1.0M199.3 286.9h1.0M220.3 291.0h1.0M212.2 293.8h1.0M192.0 275.9h1.0M197.8 280.8h1.0M206.8 287.9h1.0M196.4 280.6h1.0M205.1 285.7h1.0M213.4 272.4h1.0M211.3 282.0h1.0M197.7 286.9h1.0M212.2 278.6h1.0M214.2 285.4h1.0M200.6 283.6h1.0M211.3 280.8h1.0M201.4 277.2h1.0M195.8 282.1h1.0M215.7 284.6h1.0M215.3 281.0h1.0M198.9 287.2h1.0M214.3 275.5h1.0M201.4 283.3h1.0M209.1 289.2h1.0M195.8 287.0h1.0M210.2 280.9h1.0M214.8 274.3h1.0M207.3 283.6h1.0M212.6 283.9h1.0M208.7 289.8h1.0M213.9 282.1h1.0M201.9 283.2h1.0M201.7 285.2h1.0M190.7 291.9h1.0M202.7 289.0h1.0M203.8 294.8h1.0M197.1 280.2h1.0M214.2 289.0h1.0M204.0 284.5h1.0M210.9 279.9h1.0M199.7 287.8h1.0M206.1 287.2h1.0M212.0 277.4h1.0M214.7 282.7h1.0M218.1 281.2h1.0M202.6 280.2h1.0M214.1 278.4h1.0M205.8 274.4h1.0M213.7 285.1h1.0M205.2 283.5h1.0M205.9 283.8h1.0M208.9 282.1h1.0M201.1 285.1h1.0M206.2 278.9h1.0M209.3 277.1h1.0M191.8 285.9h1.0M202.1 285.2h1.0M202.5 286.3h1.0M214.2 285.1h1.0M207.4 275.5h1.0M206.1 275.9h1.0M200.4 278.8h1.0M209.7 294.0h1.0M203.8 286.6h1.0M213.9 275.9h1.0M204.0 289.0h1.0M205.9 287.5h1.0M211.0 279.9h1.0M209.9 287.0h1.0M194.0 284.5h1.0M207.8 282.9h1.0M205.8 284.7h1.0M191.5 290.7h1.0M196.6 287.4h1.0M213.7 272.1h1.0M208.9 279.2h1.0M202.5 291.4h1.0M213.6 296.1h1.0M192.5 276.9h1.0M217.1 289.6h1.0M201.7 274.2h1.0M218.0 290.1h1.0M203.0 281.7h1.0M202.2 290.2h1.0M208.6 286.6h1.0M204.2 278.3h1.0M214.3 276.8h1.0M212.6 275.2h1.0M203.5 272.0h1.0M204.8 263.3h1.0M206.3 276.5h1.0M219.9 283.0h1.0M206.0 280.8h1.0M214.4 285.8h1.0M206.0 280.2h1.0M199.7 287.2h1.0M193.3 286.1h1.0M208.1 280.3h1.0M210.1 275.4h1.0M208.2 271.2h1.0M216.4 286.6h1.0M212.0 282.5h1.0M220.8 271.1h1.0M211.2 277.9h1.0M199.1 280.9h1.0M215.2 292.2h1.0M197.9 289.7h1.0M205.2 281.7h1.0M196.0 287.5h1.0M213.6 273.5h1.0M217.5 279.7h1.0M195.4 280.9h1.0M199.1 274.9h1.0M200.6 290.7h1.0M191.1 281.2h1.0M205.1 291.0h1.0M203.9 273.2h1.0M194.9 289.1h1.0M187.8 288.6h1.0M194.0 277.0h1.0M207.8 284.8h1.0M193.6 285.1h1.0M205.7 287.1h1.0M207.5 280.3h1.0M211.2 277.2h1.0M205.1 276.7h1.0M207.4 284.0h1.0M217.4 278.8h1.0M201.0 283.1h1.0M205.8 268.2h1.0M215.8 280.9h1.0M196.4 272.5h1.0M210.7 283.7h1.0M192.9 285.5h1.0M193.0 281.7h1.0M204.1 288.6h1.0M205.6 270.4h1.0M187.4 280.4h1.0M220.4 288.9h1.0M222.5 279.2h1.0M215.8 271.0h1.0M204.3 276.8h1.0M209.7 285.9h1.0M200.3 286.5h1.0M201.5 284.2h1.0M199.9 289.0h1.0M208.3 283.7h1.0M201.8 284.7h1.0M202.3 289.4h1.0M220.1 271.3h1.0M203.3 300.1h1.0M210.8 285.3h1.0M209.2 296.9h1.0M202.5 284.4h1.0M202.7 291.3h1.0M215.1 286.2h1.0M201.9 286.0h1.0M211.4 283.7h1.0M202.7 282.2h1.0M203.1 292.5h1.0M217.9 288.1h1.0M192.3 294.1h1.0M200.5 274.5h1.0M201.3 272.0h1.0M209.4 286.2h1.0M200.6 293.6h1.0M206.9 276.2h1.0M211.4 276.5h1.0M221.6 277.0h1.0M213.7 282.0h1.0M195.0 290.2h1.0M219.7 282.1h1.0M206.0 285.0h1.0M198.3 273.6h1.0M207.8 271.4h1.0M198.2 285.2h1.0M202.9 285.2h1.0M198.8 279.1h1.0M202.1 284.7h1.0M216.0 286.7h1.0M206.4 279.5h1.0M212.5 282.9h1.0M209.0 293.9h1.0M205.2 278.0h1.0M216.6 280.2h1.0M216.3 279.3h1.0M203.0 287.9h1.0M212.3 277.2h1.0M203.1 275.0h1.0M202.0 278.5h1.0M209.4 274.0h1.0M206.5 284.7h1.0M204.9 294.6h1.0M189.8 287.7h1.0M199.1 286.8h1.0M206.6 285.9h1.0M211.4 280.8h1.0M211.0 273.2h1.0M201.5 276.8h1.0M209.6 288.5h1.0M196.0 274.6h1.0M209.3 293.5h1.0M220.6 275.5h1.0M204.0 280.5h1.0M197.7 278.0h1.0M214.2 275.2h1.0M204.9 280.2h1.0M205.9 281.7h1.0M210.1 281.2h1.0M203.2 285.7h1.0M211.5 283.6h1.0M200.2 291.3h1.0M199.8 280.7h1.0M208.1 277.3h1.0M209.3 278.7h1.0M207.6 282.2h1.0M211.1 290.0h1.0M205.4 284.1h1.0M200.7 280.8h1.0M209.6 284.0h1.0M193.4 276.1h1.0M205.8 280.4h1.0M213.4 278.5h1.0M210.3 276.4h1.0M214.9 286.3h1.0M204.0 277.9h1.0M204.0 279.1h1.0M202.1 276.2h1.0M202.0 285.0h1.0M207.6 276.2h1.0M213.7 295.5h1.0M205.6 276.7h1.0M218.3 287.8h1.0M209.7 286.2h1.0M189.9 289.0h1.0M211.2 283.8h1.0M202.3 276.9h1.0M206.7 296.4h1.0M200.3 284.6h1.0M201.8 276.5h1.0M222.3 290.3h1.0M214.3 282.4h1.0M203.3 278.9h1.0M200.1 287.3h1.0M203.1 283.7h1.0M201.2 287.0h1.0M211.0 282.7h1.0M215.1 289.1h1.0M193.9 286.2h1.0M209.7 280.7h1.0M205.6 283.2h1.0M204.0 289.8h1.0M212.4 282.8h1.0M200.2 279.0h1.0M199.5 284.3h1.0M205.4 286.6h1.0M200.5 286.3h1.0M202.1 275.1h1.0M212.6 276.0h1.0M196.0 281.8h1.0M216.1 287.8h1.0M217.0 283.9h1.0M203.7 292.6h1.0M211.5 292.5h1.0M198.0 288.3h1.0M204.3 284.3h1.0M202.9 282.3h1.0M199.9 278.1h1.0M214.0 284.0h1.0M209.4 276.1h1.0M214.1 288.2h1.0M194.3 273.3h1.0M205.7 290.4h1.0M203.2 282.0h1.0M194.5 279.1h1.0M215.1 283.6h1.0M207.3 283.9h1.0M206.6 278.4h1.0M196.0 281.5h1.0M213.7 286.0h1.0M206.4 303.2h1.0M211.9 286.7h1.0M203.1 269.2h1.0M198.4 283.1h1.0M207.1 309.0h1.0M213.9 306.5h1.0M196.9 267.0h1.0M209.9 305.3h1.0M210.2 287.0h1.0M189.6 276.2h1.0M205.3 295.3h1.0M206.0 297.0h1.0M203.7 296.6h1.0M210.0 293.9h1.0M215.9 304.8h1.0M211.9 288.5h1.0M215.5 295.2h1.0M213.2 314.9h1.0M205.3 290.7h1.0M201.2 274.1h1.0M196.5 304.2h1.0M190.9 290.9h1.0M201.3 277.9h1.0M208.5 306.7h1.0M204.9 300.5h1.0M205.5 288.3h1.0M212.7 292.2h1.0M213.3 271.6h1.0M204.2 290.9h1.0M205.1 267.5h1.0M194.2 277.0h1.0M214.7 305.0h1.0M204.6 291.5h1.0M206.1 282.6h1.0M204.4 297.4h1.0M211.8 286.9h1.0M206.1 290.1h1.0M209.8 287.2h1.0M201.6 277.0h1.0M212.7 302.3h1.0M197.1 271.6h1.0M204.8 286.0h1.0M207.6 275.1h1.0M203.4 286.8h1.0M213.0 288.7h1.0M209.1 287.0h1.0M208.0 291.0h1.0M207.6 296.2h1.0M209.8 269.3h1.0M210.7 289.4h1.0M198.6 301.4h1.0M205.8 305.1h1.0M203.9 298.2h1.0M203.5 275.6h1.0M206.6 281.8h1.0M206.1 297.7h1.0M195.8 300.8h1.0M204.1 284.7h1.0M213.9 286.1h1.0M211.1 296.4h1.0M191.2 300.0h1.0M201.4 284.5h1.0M208.9 278.8h1.0M195.6 272.1h1.0M207.3 282.1h1.0M218.1 273.1h1.0M209.5 281.2h1.0M198.7 300.4h1.0M208.8 293.1h1.0M192.0 283.9h1.0M205.1 299.0h1.0M190.2 274.5h1.0M201.7 293.9h1.0M190.8 283.3h1.0M200.2 293.2h1.0M202.6 300.7h1.0M214.0 277.6h1.0M208.9 295.2h1.0M220.3 287.7h1.0M216.1 286.3h1.0M206.6 272.6h1.0M211.2 288.0h1.0M198.2 287.8h1.0M206.1 289.6h1.0M202.1 286.9h1.0M198.1 277.8h1.0M213.8 303.5h1.0M200.8 286.8h1.0M208.7 300.5h1.0M203.5 285.7h1.0M213.3 280.6h1.0M209.5 301.3h1.0M193.6 300.4h1.0M208.7 284.8h1.0M227.1 290.4h1.0M211.7 293.5h1.0M214.8 275.0h1.0M210.6 283.8h1.0M218.6 268.5h1.0M201.7 298.3h1.0M200.9 269.5h1.0M202.7 286.8h1.0M195.2 275.5h1.0M198.3 287.8h1.0M215.1 286.3h1.0M200.8 283.6h1.0M200.5 293.6h1.0M216.2 285.3h1.0M210.4 297.2h1.0M202.2 291.5h1.0M200.7 277.6h1.0M204.4 285.5h1.0M206.7 289.1h1.0M214.4 296.7h1.0M209.1 300.9h1.0M199.0 286.6h1.0M204.7 291.8h1.0M195.4 288.5h1.0M201.7 291.8h1.0M219.2 278.7h1.0M195.6 282.4h1.0M202.2 296.7h1.0M212.7 301.3h1.0M207.8 291.5h1.0M203.9 286.1h1.0M200.2 293.5h1.0M199.5 282.3h1.0M211.7 305.7h1.0M205.2 275.3h1.0M208.6 291.4h1.0M211.3 300.6h1.0M194.6 285.2h1.0M192.4 279.7h1.0M209.4 283.6h1.0M213.6 291.0h1.0M206.1 299.9h1.0M212.3 288.7h1.0M194.0 293.5h1.0M203.5 296.3h1.0M201.9 292.0h1.0M201.8 295.0h1.0M209.9 294.2h1.0M202.0 281.1h1.0M214.0 283.2h1.0M203.1 282.1h1.0M197.1 307.9h1.0M208.4 287.3h1.0M195.4 285.0h1.0M212.6 300.6h1.0M200.0 294.1h1.0M216.6 285.5h1.0M208.6 300.1h1.0M196.3 280.3h1.0M204.7 278.5h1.0M204.8 280.9h1.0M210.4 302.3h1.0M194.8 289.1h1.0M212.7 300.7h1.0M198.3 278.0h1.0M191.4 271.5h1.0M204.1 291.7h1.0M199.7 286.1h1.0M206.2 270.3h1.0M218.0 291.3h1.0M204.8 309.2h1.0M219.1 291.5h1.0M221.9 275.6h1.0M221.7 282.2h1.0M207.7 281.4h1.0M216.5 269.7h1.0M216.5 279.0h1.0M216.1 278.2h1.0M205.9 284.4h1.0M216.4 284.0h1.0M213.9 290.3h1.0M208.4 293.7h1.0M199.0 293.2h1.0M211.1 289.1h1.0M209.6 280.2h1.0M195.0 290.2h1.0M197.0 291.1h1.0M215.7 322.6h1.0M204.2 285.6h1.0M212.3 292.2h1.0M203.6 295.9h1.0M195.8 296.6h1.0M200.6 269.1h1.0M187.8 286.9h1.0M210.1 274.4h1.0M194.6 297.7h1.0M222.9 274.0h1.0M199.4 269.9h1.0M207.4 279.7h1.0M197.8 307.3h1.0M194.1 298.5h1.0M205.5 299.1h1.0M200.3 283.0h1.0M224.5 292.4h1.0M203.8 279.6h1.0M206.0 300.1h1.0M198.8 299.7h1.0M202.0 288.0h1.0M199.5 280.4h1.0M198.2 284.1h1.0M192.6 272.9h1.0M207.7 272.3h1.0M205.9 284.9h1.0M205.3 293.2h1.0M203.1 300.7h1.0M218.6 305.7h1.0M200.2 288.4h1.0M201.9 296.0h1.0M218.9 270.3h1.0M208.4 294.7h1.0M201.5 313.4h1.0M199.3 296.0h1.0M202.0 304.4h1.0M203.5 297.5h1.0M205.1 297.9h1.0M217.8 300.8h1.0M194.9 277.8h1.0M206.9 284.9h1.0M211.2 303.3h1.0M211.4 282.6h1.0M204.0 301.9h1.0M199.9 282.1h1.0M208.8 286.7h1.0M211.2 281.7h1.0M205.0 299.0h1.0M202.7 292.7h1.0M216.7 268.0h1.0M204.0 277.7h1.0M205.1 278.1h1.0M217.0 294.4h1.0M206.0 292.9h1.0M206.1 270.9h1.0M204.1 294.5h1.0M218.4 301.0h1.0M205.6 290.6h1.0M217.3 295.2h1.0M212.3 326.6h1.0M206.5 289.0h1.0M213.8 285.4h1.0M201.4 294.6h1.0M221.6 288.5h1.0M200.0 278.0h1.0M208.8 286.1h1.0M213.6 277.7h1.0M208.7 306.2h1.0M215.9 277.6h1.0M217.7 307.2h1.0M197.1 282.6h1.0M203.6 275.4h1.0M210.3 286.3h1.0M207.5 305.7h1.0M204.4 290.8h1.0M209.5 305.4h1.0M199.6 297.9h1.0M201.7 292.7h1.0M215.5 283.0h1.0M208.5 298.0h1.0M217.4 290.7h1.0M188.7 284.2h1.0M196.9 288.5h1.0M195.8 296.3h1.0M208.1 292.6h1.0M218.8 302.0h1.0M194.7 312.0h1.0M205.1 296.0h1.0M216.7 297.6h1.0M197.4 296.8h1.0M223.7 295.0h1.0M196.6 288.3h1.0M199.1 283.3h1.0M191.7 284.9h1.0M210.0 280.3h1.0M192.4 296.7h1.0M206.4 276.4h1.0M206.2 288.4h1.0M201.1 280.9h1.0M202.3 281.4h1.0M202.6 296.5h1.0M208.8 291.3h1.0M199.9 299.0h1.0M199.2 280.6h1.0M196.6 284.1h1.0M214.1 290.7h1.0M216.9 296.3h1.0M210.1 295.0h1.0M193.2 302.9h1.0M206.2 276.9h1.0M210.0 287.8h1.0M213.6 282.8h1.0M205.6 306.3h1.0M199.3 274.2h1.0M222.6 280.4h1.0M206.0 299.8h1.0M199.7 280.1h1.0M209.3 271.4h1.0M215.1 303.6h1.0M203.1 297.3h1.0M210.3 283.5h1.0M207.8 279.6h1.0M204.3 287.2h1.0M203.4 281.6h1.0M208.4 282.5h1.0M204.9 281.2h1.0M196.0 286.9h1.0M197.1 282.2h1.0M208.7 296.9h1.0M202.9 287.8h1.0M203.5 300.5h1.0M205.1 276.7h1.0M190.3 282.8h1.0M192.8 286.6h1.0M217.3 290.1h1.0M197.6 284.7h1.0M202.5 309.8h1.0M209.9 283.4h1.0M203.4 285.5h1.0M204.9 275.7h1.0M190.1 285.1h1.0M196.1 311.1h1.0M207.6 292.1h1.0M207.1 280.2h1.0M214.2 299.1h1.0M211.3 285.8h1.0M201.8 294.8h1.0M206.5 277.4h1.0M200.5 283.2h1.0M210.8 303.9h1.0M199.9 289.9h1.0M209.4 291.4h1.0M209.1 293.7h1.0M216.8 298.6h1.0M198.5 283.2h1.0M205.7 278.6h1.0M194.6 287.7h1.0M213.5 298.5h1.0M204.0 285.5h1.0M200.6 299.8h1.0" stroke="#000" stroke-width="1.0" stroke-opacity="0.5" fill="none"/>
<path d="M209.9 351.7h1.2M205.5 345.8h1.2M207.2 351.4h1.2M207.3 352.8h1.2M206.0 360.4h1.2M204.7 347.6h1.2M207.0 340.6h1.2M219.4 337.9h1.2M194.6 333.1h1.2M187.3 348.2h1.2M197.1 356.7h1.2M209.1 342.9h1.2M200.8 355.1h1.2M205.1 365.1h1.2M211.9 338.2h1.2M208.5 363.7h1.2M209.7 351.5h1.2M213.0 335.2h1.2M210.2 336.4h1.2M200.5 351.9h1.2M200.7 346.9h1.2M203.7 357.3h1.2M194.3 321.7h1.2M200.8 364.0h1.2M194.3 364.1h1.2M198.1 332.4h1.2M187.3 338.7h1.2M217.5 359.5h1.2M189.8 345.8h1.2M208.5 343.7h1.2M210.2 348.6h1.2M214.6 359.1h1.2M200.8 344.2h1.2M234.3 345.9h1.2M231.2 343.9h1.2M226.9 349.1h1.2" stroke="#000" stroke-width="1.2" stroke-opacity="0.27" fill="none"/>
<path d="M47.9 327.15H175.0M186.3 327.15H312.1M89.8 245.95000000000002V372.95000000000005M227.7 245.95000000000002V372.95000000000005" stroke="#404040" stroke-width="0.8" fill="none"/>
<rect x="47.9" y="245.95000000000002" width="127.1" height="127.00000000000003" fill="none" stroke="#000" stroke-width="1.4"/>
<rect x="186.3" y="245.95000000000002" width="125.80000000000001" height="127.00000000000003" fill="none" stroke="#000" stroke-width="1.4"/>
<path d="M47.9 335.2h-2.4M47.9 330.0h-2.4M47.9 326.3h-2.4M47.9 323.4h-2.4M47.9 321.0h-2.4M47.9 319.1h-2.4M47.9 317.3h-2.4M47.9 315.8h-2.4M47.9 305.9h-2.4M47.9 300.9h-2.4M47.9 297.3h-2.4M47.9 294.5h-2.4M47.9 292.3h-2.4M47.9 290.4h-2.4M47.9 288.7h-2.4M47.9 287.3h-2.4M47.9 277.5h-2.4M47.9 272.5h-2.4M47.9 269.0h-2.4M47.9 266.3h-2.4M47.9 264.1h-2.4M47.9 262.2h-2.4M47.9 260.6h-2.4M47.9 259.1h-2.4M47.9 257.9h-4.0M47.9 286.0h-4.0M47.9 314.5h-4.0M47.9 344.1h-4.0M47.9 357.6h-4.0M47.9 349.1h-2.4M47.9 352.1h-2.4M47.9 355.1h-2.4M47.9 360.6h-2.4M47.9 363.6h-2.4M47.9 366.6h-2.4M47.9 369.6h-2.4M47.9 249.4h-2.4M86.0 372.95000000000005v1.7M91.3 372.95000000000005v1.7M95.1 372.95000000000005v1.7M98.0 372.95000000000005v1.7M100.3 372.95000000000005v1.7M102.4 372.95000000000005v1.7M104.1 372.95000000000005v1.7M105.6 372.95000000000005v1.7M115.5 372.95000000000005v1.7M120.6 372.95000000000005v1.7M124.1 372.95000000000005v1.7M126.9 372.95000000000005v1.7M129.1 372.95000000000005v1.7M131.0 372.95000000000005v1.7M132.6 372.95000000000005v1.7M134.1 372.95000000000005v1.7M143.9 372.95000000000005v1.7M148.9 372.95000000000005v1.7M152.4 372.95000000000005v1.7M155.1 372.95000000000005v1.7M157.3 372.95000000000005v1.7M159.2 372.95000000000005v1.7M160.9 372.95000000000005v1.7M162.3 372.95000000000005v1.7M77.0 372.95000000000005v2.7M107.0 372.95000000000005v2.7M135.4 372.95000000000005v2.7M163.6 372.95000000000005v2.7M64.0 372.95000000000005v2.7M52 372.95000000000005v1.7M55 372.95000000000005v1.7M58 372.95000000000005v1.7M61 372.95000000000005v1.7M67 372.95000000000005v1.7M70 372.95000000000005v1.7M73 372.95000000000005v1.7M172.1 372.95000000000005v1.7" stroke="#000" stroke-width="1.05" fill="none"/>
<text x="41.5" y="262.95000000000005" font-size="8.9" font-weight="normal" text-anchor="end" fill="#1a1a1a" >10<tspan dy="-3.2" font-size="6.8">5</tspan></text>
<text x="41.5" y="291.05000000000007" font-size="8.9" font-weight="normal" text-anchor="end" fill="#1a1a1a" >10<tspan dy="-3.2" font-size="6.8">4</tspan></text>
<text x="41.5" y="319.55000000000007" font-size="8.9" font-weight="normal" text-anchor="end" fill="#1a1a1a" >10<tspan dy="-3.2" font-size="6.8">3</tspan></text>
<text x="41.5" y="349.25" font-size="8.9" font-weight="normal" text-anchor="end" fill="#1a1a1a" >10<tspan dy="-3.2" font-size="6.8">2</tspan></text>
<text x="37.4" y="361.15000000000003" font-size="8.9" font-weight="normal" text-anchor="end" fill="#1a1a1a" >0</text>
<text x="78.0" y="387.65000000000003" font-size="8.4" font-weight="normal" text-anchor="middle" fill="#1a1a1a" >10<tspan dy="-3.0" font-size="6.4">2</tspan></text>
<text x="107.4" y="387.65000000000003" font-size="8.4" font-weight="normal" text-anchor="middle" fill="#1a1a1a" >10<tspan dy="-3.0" font-size="6.4">3</tspan></text>
<text x="135.8" y="387.65000000000003" font-size="8.4" font-weight="normal" text-anchor="middle" fill="#1a1a1a" >10<tspan dy="-3.0" font-size="6.4">4</tspan></text>
<text x="164.0" y="387.65000000000003" font-size="8.4" font-weight="normal" text-anchor="middle" fill="#1a1a1a" >10<tspan dy="-3.0" font-size="6.4">5</tspan></text>
<text x="63.6" y="387.65000000000003" font-size="8.4" font-weight="normal" text-anchor="middle" fill="#1a1a1a" >0</text>
<text x="49.4" y="254.35000000000002" font-size="8.25" font-weight="normal" text-anchor="start" fill="#000" >98.3</text>
<text x="173.4" y="254.35000000000002" font-size="8.25" font-weight="normal" text-anchor="end" fill="#000" >0.25</text>
<text x="49.4" y="371.25000000000006" font-size="8.25" font-weight="normal" text-anchor="start" fill="#000" >1.3</text>
<text x="173.4" y="371.25000000000006" font-size="8.25" font-weight="normal" text-anchor="end" fill="#000" >0.11</text>
<text x="187.8" y="254.35000000000002" font-size="8.25" font-weight="normal" text-anchor="start" fill="#000" >99.3</text>
<text x="310.5" y="254.35000000000002" font-size="8.25" font-weight="normal" text-anchor="end" fill="#000" >0.22</text>
<text x="187.8" y="371.25000000000006" font-size="8.25" font-weight="normal" text-anchor="start" fill="#000" >0.47</text>
<text x="310.5" y="371.25000000000006" font-size="8.25" font-weight="normal" text-anchor="end" fill="#000" >0.02</text>
<text x="111.05" y="240.85000000000002" font-size="10.45" font-weight="bold" text-anchor="middle" fill="#000" >CD4<tspan dy="-3.2" font-size="7.5">+</tspan><tspan dy="3.2"> </tspan>+ TCR 4G11</text>
<text x="249.20000000000002" y="240.85000000000002" font-size="10.45" font-weight="bold" text-anchor="middle" fill="#000" >CD4<tspan dy="-3.2" font-size="7.5">+</tspan><tspan dy="3.2"> </tspan>+ Mock</text>
<text x="165.6" y="409.2" font-size="11" font-weight="normal" text-anchor="middle" fill="#000" textLength="113.5" lengthAdjust="spacingAndGlyphs" stroke="#000" stroke-width="0.12">pMHC-tetramer: BOB1<tspan dy="1.8" font-size="8">44</tspan><tspan dy="-1.8">:B7</tspan></text>
<text transform="translate(15.8 320.65000000000003) rotate(-90)" font-size="10.2" text-anchor="middle" fill="#000" stroke="#000" stroke-width="0.12" textLength="27" lengthAdjust="spacingAndGlyphs">NGF-R</text>
<path d="M362.5 42V477.3" stroke="#000" stroke-width="1.3" fill="none"/>
<path d="M362.45 35.2l3.85 9.3l-3.85 -2l-3.85 2z" fill="#000"/>
<text transform="translate(354.2 259.8) rotate(-90)" font-size="11" text-anchor="middle" fill="#000" stroke="#000" stroke-width="0.12" textLength="54.8" lengthAdjust="spacingAndGlyphs">IFN-γ (ng/ml)</text>
<path d="M386.2 35.0V165.2H512.6" stroke="#000" stroke-width="1.4" fill="none"/>
<text x="379.3" y="168.39999999999998" font-size="8.7" font-weight="normal" text-anchor="end" fill="#000" letter-spacing="-0.15">0.0</text>
<text x="379.3" y="126.1" font-size="8.7" font-weight="normal" text-anchor="end" fill="#000" letter-spacing="-0.15">0.5</text>
<text x="379.3" y="83.8" font-size="8.7" font-weight="normal" text-anchor="end" fill="#000" letter-spacing="-0.15">1.0</text>
<text x="379.3" y="41.5" font-size="8.7" font-weight="normal" text-anchor="end" fill="#000" letter-spacing="-0.15">1.5</text>
<path d="M386.2 165.2h-3.2M386.2 122.9h-3.2M386.2 80.6h-3.2M386.2 38.3h-3.2M395.2 165.2v3M413.2 165.2v3M431.2 165.2v3M449.2 165.2v3M467.2 165.2v3M485.2 165.2v3M503.2 165.2v3" stroke="#000" stroke-width="1.3" fill="none"/>
<text x="447.6" y="29.6" font-size="10.4" font-weight="bold" text-anchor="middle" fill="#000" >Clone 4G11</text>
<rect x="390.85" y="156.29" width="8.7" height="8.91" fill="#66a943" stroke="#528f34" stroke-width="0.8"/>
<path d="M395.2 155.9V155.5M392.8 155.5h4.8" stroke="#0b0b24" stroke-width="1.2" fill="none"/>
<rect x="408.85" y="116.53" width="8.7" height="48.67" fill="#66a943" stroke="#528f34" stroke-width="0.8"/>
<path d="M413.2 116.1V113.2M410.8 113.2h4.8" stroke="#0b0b24" stroke-width="1.2" fill="none"/>
<rect x="426.85" y="86.08" width="8.7" height="79.12" fill="#66a943" stroke="#528f34" stroke-width="0.8"/>
<path d="M431.2 85.7V85.3M428.8 85.3h4.8" stroke="#0b0b24" stroke-width="1.2" fill="none"/>
<rect x="444.85" y="83.54" width="8.7" height="81.66" fill="#66a943" stroke="#528f34" stroke-width="0.8"/>
<path d="M449.2 83.1V82.1M446.8 82.1h4.8" stroke="#0b0b24" stroke-width="1.2" fill="none"/>
<rect x="462.85" y="86.08" width="8.7" height="79.12" fill="#66a943" stroke="#528f34" stroke-width="0.8"/>
<path d="M467.2 85.7V82.7M464.8 82.7h4.8" stroke="#0b0b24" stroke-width="1.2" fill="none"/>
<rect x="480.85" y="125.84" width="8.7" height="39.36" fill="#66a943" stroke="#528f34" stroke-width="0.8"/>
<path d="M485.2 125.4V123.7M482.8 123.7h4.8" stroke="#0b0b24" stroke-width="1.2" fill="none"/>
<rect x="498.85" y="95.81" width="8.7" height="69.39" fill="#66a943" stroke="#528f34" stroke-width="0.8"/>
<path d="M503.2 95.4V95.0M500.8 95.0h4.8" stroke="#0b0b24" stroke-width="1.2" fill="none"/>
<path d="M386.2 195.6V325.0H512.6" stroke="#000" stroke-width="1.4" fill="none"/>
<text x="379.3" y="320.3" font-size="8.7" font-weight="normal" text-anchor="end" fill="#000" letter-spacing="-0.15">0.0</text>
<text x="379.3" y="280.90000000000003" font-size="8.7" font-weight="normal" text-anchor="end" fill="#000" letter-spacing="-0.15">0.5</text>
<text x="379.3" y="241.5" font-size="8.7" font-weight="normal" text-anchor="end" fill="#000" letter-spacing="-0.15">1.0</text>
<text x="379.3" y="202.1" font-size="8.7" font-weight="normal" text-anchor="end" fill="#000" letter-spacing="-0.15">1.5</text>
<path d="M386.2 317.1h-3.2M386.2 277.7h-3.2M386.2 238.3h-3.2M386.2 198.9h-3.2M395.2 325.0v3M413.2 325.0v3M431.2 325.0v3M449.2 325.0v3M467.2 325.0v3M485.2 325.0v3M503.2 325.0v3" stroke="#000" stroke-width="1.3" fill="none"/>
<text x="447.6" y="189.6" font-size="10.4" font-weight="bold" text-anchor="middle" fill="#000" >CD8<tspan dy="-3.2" font-size="7.5">+</tspan><tspan dy="3.2"> </tspan>T cells</text>
<rect x="387.5" y="316.5" width="7.7" height="0.6" fill="#b3112e"/>
<path d="M391.3 316.5V316.2M388.9 316.2h4.8" stroke="#0b0b24" stroke-width="1.2" fill="none"/>
<rect x="405.5" y="306.1" width="7.7" height="11.0" fill="#b3112e"/>
<path d="M409.3 306.1V300.9M406.9 300.9h4.8" stroke="#0b0b24" stroke-width="1.2" fill="none"/>
<rect x="423.5" y="272.7" width="7.7" height="44.4" fill="#b3112e"/>
<path d="M427.3 272.7V269.4M424.9 269.4h4.8" stroke="#0b0b24" stroke-width="1.2" fill="none"/>
<rect x="441.5" y="261.0" width="7.7" height="56.1" fill="#b3112e"/>
<path d="M445.3 261.0V258.6M442.9 258.6h4.8" stroke="#0b0b24" stroke-width="1.2" fill="none"/>
<rect x="459.5" y="231.2" width="7.7" height="85.9" fill="#b3112e"/>
<path d="M463.3 231.2V225.3M460.9 225.3h4.8" stroke="#0b0b24" stroke-width="1.2" fill="none"/>
<rect x="477.5" y="307.1" width="7.7" height="10.0" fill="#b3112e"/>
<path d="M481.3 307.1V306.3M478.9 306.3h4.8" stroke="#0b0b24" stroke-width="1.2" fill="none"/>
<rect x="495.5" y="289.2" width="7.7" height="27.9" fill="#b3112e"/>
<path d="M499.3 289.2V287.0M496.9 287.0h4.8" stroke="#0b0b24" stroke-width="1.2" fill="none"/>
<rect x="395.2" y="317.1" width="7.7" height="0.6" fill="#32538c"/>
<path d="M399.1 317.7V318.0M396.7 318.0h4.8" stroke="#0b0b24" stroke-width="1.2" fill="none"/>
<rect x="413.2" y="317.1" width="7.7" height="0.3" fill="#32538c"/>
<path d="M417.1 317.4V319.1M414.7 319.1h4.8" stroke="#0b0b24" stroke-width="1.2" fill="none"/>
<rect x="431.2" y="317.1" width="7.7" height="0.8" fill="#32538c"/>
<path d="M435.1 317.9V319.9M432.7 319.9h4.8" stroke="#0b0b24" stroke-width="1.2" fill="none"/>
<rect x="449.2" y="317.1" width="7.7" height="0.8" fill="#32538c"/>
<path d="M453.1 317.9V319.9M450.7 319.9h4.8" stroke="#0b0b24" stroke-width="1.2" fill="none"/>
<rect x="467.2" y="312.9" width="7.7" height="4.2" fill="#32538c"/>
<path d="M471.1 312.9V312.5M468.7 312.5h4.8" stroke="#0b0b24" stroke-width="1.2" fill="none"/>
<rect x="485.2" y="317.1" width="7.7" height="2.4" fill="#32538c"/>
<path d="M489.1 319.5V319.9M486.7 319.9h4.8" stroke="#0b0b24" stroke-width="1.2" fill="none"/>
<rect x="503.2" y="317.1" width="7.7" height="1.6" fill="#32538c"/>
<path d="M507.1 318.7V319.1M504.7 319.1h4.8" stroke="#0b0b24" stroke-width="1.2" fill="none"/>
<path d="M386.2 317.1H512.6" stroke="#000" stroke-width="1" fill="none"/>
<rect x="389.6" y="206.9" width="13.5" height="4.8" fill="#b3112e"/>
<rect x="389.6" y="219.0" width="13.5" height="4.8" fill="#32538c"/>
<text x="406.6" y="212.1" font-size="8.3" font-weight="normal" text-anchor="start" fill="#111" >TCR-4G11</text>
<text x="406.6" y="224.20000000000002" font-size="8.3" font-weight="normal" text-anchor="start" fill="#111" >Mock</text>
<path d="M386.2 355.9V485.4H512.6" stroke="#000" stroke-width="1.4" fill="none"/>
<text x="379.3" y="480.7" font-size="8.7" font-weight="normal" text-anchor="end" fill="#000" letter-spacing="-0.15">0.0</text>
<text x="379.3" y="441.26666666666665" font-size="8.7" font-weight="normal" text-anchor="end" fill="#000" letter-spacing="-0.15">0.5</text>
<text x="379.3" y="401.8333333333333" font-size="8.7" font-weight="normal" text-anchor="end" fill="#000" letter-spacing="-0.15">1.0</text>
<text x="379.3" y="362.4" font-size="8.7" font-weight="normal" text-anchor="end" fill="#000" letter-spacing="-0.15">1.5</text>
<path d="M386.2 477.5h-3.2M386.2 438.1h-3.2M386.2 398.6h-3.2M386.2 359.2h-3.2M395.2 485.4v3M413.2 485.4v3M431.2 485.4v3M449.2 485.4v3M467.2 485.4v3M485.2 485.4v3M503.2 485.4v3" stroke="#000" stroke-width="1.3" fill="none"/>
<text x="447.6" y="350.0" font-size="10.4" font-weight="bold" text-anchor="middle" fill="#000" >CD4<tspan dy="-3.2" font-size="7.5">+</tspan><tspan dy="3.2"> </tspan>T cells</text>
<rect x="387.5" y="477.5" width="7.7" height="0.9" fill="#b3112e"/>
<path d="M391.3 478.4V478.8M388.9 478.8h4.8" stroke="#0b0b24" stroke-width="1.2" fill="none"/>
<rect x="405.5" y="477.0" width="7.7" height="0.5" fill="#b3112e"/>
<path d="M409.3 477.0V476.8M406.9 476.8h4.8" stroke="#0b0b24" stroke-width="1.2" fill="none"/>
<rect x="423.5" y="476.2" width="7.7" height="1.3" fill="#b3112e"/>
<path d="M427.3 476.2V475.5M424.9 475.5h4.8" stroke="#0b0b24" stroke-width="1.2" fill="none"/>
<rect x="441.5" y="473.2" width="7.7" height="4.3" fill="#b3112e"/>
<path d="M445.3 473.2V472.6M442.9 472.6h4.8" stroke="#0b0b24" stroke-width="1.2" fill="none"/>
<rect x="459.5" y="458.2" width="7.7" height="19.3" fill="#b3112e"/>
<path d="M463.3 458.2V454.2M460.9 454.2h4.8" stroke="#0b0b24" stroke-width="1.2" fill="none"/>
<rect x="477.5" y="477.5" width="7.7" height="0.9" fill="#b3112e"/>
<path d="M481.3 478.4V478.8M478.9 478.8h4.8" stroke="#0b0b24" stroke-width="1.2" fill="none"/>
<rect x="495.5" y="477.0" width="7.7" height="0.5" fill="#b3112e"/>
<path d="M499.3 477.0V476.7M496.9 476.7h4.8" stroke="#0b0b24" stroke-width="1.2" fill="none"/>
<rect x="395.2" y="473.6" width="7.7" height="3.9" fill="#32538c"/>
<path d="M399.1 473.6V472.6M396.7 472.6h4.8" stroke="#0b0b24" stroke-width="1.2" fill="none"/>
<rect x="413.2" y="474.7" width="7.7" height="2.8" fill="#32538c"/>
<path d="M417.1 474.7V473.8M414.7 473.8h4.8" stroke="#0b0b24" stroke-width="1.2" fill="none"/>
<rect x="431.2" y="474.6" width="7.7" height="2.9" fill="#32538c"/>
<path d="M435.1 474.6V474.0M432.7 474.0h4.8" stroke="#0b0b24" stroke-width="1.2" fill="none"/>
<rect x="449.2" y="473.6" width="7.7" height="3.9" fill="#32538c"/>
<path d="M453.1 473.6V472.6M450.7 472.6h4.8" stroke="#0b0b24" stroke-width="1.2" fill="none"/>
<rect x="467.2" y="466.9" width="7.7" height="10.6" fill="#32538c"/>
<path d="M471.1 466.9V465.9M468.7 465.9h4.8" stroke="#0b0b24" stroke-width="1.2" fill="none"/>
<rect x="485.2" y="474.6" width="7.7" height="2.9" fill="#32538c"/>
<path d="M489.1 474.6V473.0M486.7 473.0h4.8" stroke="#0b0b24" stroke-width="1.2" fill="none"/>
<rect x="503.2" y="474.3" width="7.7" height="3.2" fill="#32538c"/>
<path d="M507.1 474.3V470.4M504.7 470.4h4.8" stroke="#0b0b24" stroke-width="1.2" fill="none"/>
<path d="M386.2 477.5H512.6" stroke="#000" stroke-width="1" fill="none"/>
<rect x="389.6" y="367.3" width="13.5" height="4.8" fill="#b3112e"/>
<rect x="389.6" y="379.40000000000003" width="13.5" height="4.8" fill="#32538c"/>
<text x="406.6" y="372.5" font-size="8.3" font-weight="normal" text-anchor="start" fill="#111" >TCR-4G11</text>
<text x="406.6" y="384.6" font-size="8.3" font-weight="normal" text-anchor="start" fill="#111" >Mock</text>
<text transform="translate(400.2 497.6) rotate(-45)" font-size="8.85" text-anchor="end" fill="#111">K562-B7</text>
<text transform="translate(418.2 497.6) rotate(-45)" font-size="8.85" text-anchor="end" fill="#111">K562-B7 + BOB1</text>
<text transform="translate(436.2 497.6) rotate(-45)" font-size="8.85" text-anchor="end" fill="#111">U266</text>
<text transform="translate(454.2 497.6) rotate(-45)" font-size="8.85" text-anchor="end" fill="#111">UM9</text>
<text transform="translate(472.2 497.6) rotate(-45)" font-size="8.85" text-anchor="end" fill="#111">LCL-JY</text>
<text transform="translate(490.2 497.6) rotate(-45)" font-size="8.85" text-anchor="end" fill="#111">ALL-BV</text>
<text transform="translate(508.2 497.6) rotate(-45)" font-size="8.85" text-anchor="end" fill="#111">ALL-VG</text>
</svg>
</body></html>
